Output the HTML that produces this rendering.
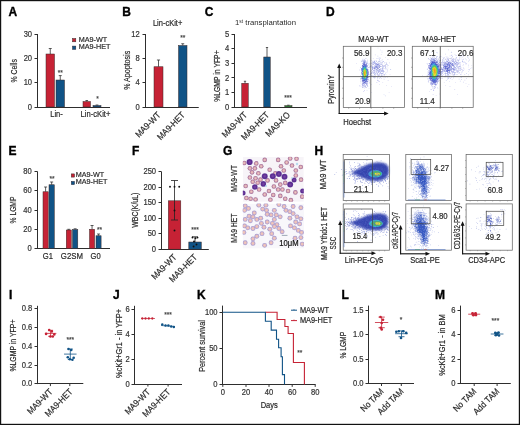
<!DOCTYPE html>
<html><head><meta charset="utf-8"><style>
html,body{margin:0;padding:0;background:#fff;width:520px;height:425px;overflow:hidden}
svg{display:block;will-change:transform}
</style></head><body>
<svg width="520" height="425" viewBox="0 0 520 425" font-family='"Liberation Sans", sans-serif'>
<rect x="0" y="0" width="520" height="425" fill="#fff"/>
<text x="8.6" y="15.6" font-size="12" text-anchor="start" font-weight="bold" fill="#000" stroke="#000" stroke-width="0.35">A</text>
<line x1="37.5" y1="34" x2="37.5" y2="107.5" stroke="#2e2e2e" stroke-width="1"/>
<line x1="34.5" y1="34.5" x2="37.5" y2="34.5" stroke="#2e2e2e" stroke-width="1"/>
<text x="32.1" y="36.7" font-size="8.51" text-anchor="end" font-weight="normal" fill="#333" stroke="#333" stroke-width="0.2" textLength="8.45" lengthAdjust="spacingAndGlyphs">30</text>
<line x1="34.5" y1="58.5" x2="37.5" y2="58.5" stroke="#2e2e2e" stroke-width="1"/>
<text x="32.1" y="61.03" font-size="8.51" text-anchor="end" font-weight="normal" fill="#333" stroke="#333" stroke-width="0.2" textLength="8.45" lengthAdjust="spacingAndGlyphs">20</text>
<line x1="34.5" y1="82.5" x2="37.5" y2="82.5" stroke="#2e2e2e" stroke-width="1"/>
<text x="32.1" y="85.37" font-size="8.51" text-anchor="end" font-weight="normal" fill="#333" stroke="#333" stroke-width="0.2" textLength="8.45" lengthAdjust="spacingAndGlyphs">10</text>
<line x1="34.5" y1="107.5" x2="37.5" y2="107.5" stroke="#2e2e2e" stroke-width="1"/>
<text x="32.1" y="109.7" font-size="8.51" text-anchor="end" font-weight="normal" fill="#333" stroke="#333" stroke-width="0.2" textLength="4.23" lengthAdjust="spacingAndGlyphs">0</text>
<line x1="37" y1="107.5" x2="110" y2="107.5" stroke="#2e2e2e" stroke-width="1"/>
<line x1="50.25" y1="48.5" x2="50.25" y2="54" stroke="#333" stroke-width="0.8"/>
<line x1="48.76" y1="48.5" x2="51.74" y2="48.5" stroke="#333" stroke-width="0.8"/>
<rect x="46" y="54" width="8.5" height="53" fill="#c62235" stroke="#3a2a2a" stroke-width="0.5"/>
<line x1="60.25" y1="75.6" x2="60.25" y2="80" stroke="#333" stroke-width="0.8"/>
<line x1="58.76" y1="75.6" x2="61.74" y2="75.6" stroke="#333" stroke-width="0.8"/>
<rect x="56" y="80" width="8.5" height="27" fill="#105386" stroke="#3a2a2a" stroke-width="0.5"/>
<line x1="86.75" y1="100.5" x2="86.75" y2="101.5" stroke="#333" stroke-width="0.8"/>
<line x1="85.44" y1="100.5" x2="88.06" y2="100.5" stroke="#333" stroke-width="0.8"/>
<rect x="83" y="101.5" width="7.5" height="5.5" fill="#c62235" stroke="#3a2a2a" stroke-width="0.5"/>
<line x1="97" y1="105" x2="97" y2="105.5" stroke="#333" stroke-width="0.8"/>
<line x1="95.6" y1="105" x2="98.4" y2="105" stroke="#333" stroke-width="0.8"/>
<rect x="93" y="105.5" width="8" height="1.5" fill="#105386" stroke="#3a2a2a" stroke-width="0.5"/>
<text x="60.3" y="74.8" font-size="7.39" text-anchor="middle" font-weight="normal" fill="#444" stroke="#444" stroke-width="0.2" textLength="5.14" lengthAdjust="spacingAndGlyphs">**</text>
<text x="97.5" y="101.3" font-size="7.39" text-anchor="middle" font-weight="normal" fill="#444" stroke="#444" stroke-width="0.2" textLength="2.57" lengthAdjust="spacingAndGlyphs">*</text>
<rect x="72.5" y="38.5" width="3.3" height="3.3" fill="#c62235" stroke="#3a2a2a" stroke-width="0.5"/>
<rect x="72.5" y="46.1" width="3.3" height="3.3" fill="#105386" stroke="#2a2a3a" stroke-width="0.5"/>
<text x="78.8" y="42.1" font-size="8.06" text-anchor="start" font-weight="normal" fill="#2a2a2a" stroke="#2a2a2a" stroke-width="0.2" textLength="28.39" lengthAdjust="spacingAndGlyphs">MA9-WT</text>
<text x="78.8" y="48.9" font-size="8.06" text-anchor="start" font-weight="normal" fill="#2a2a2a" stroke="#2a2a2a" stroke-width="0.2" textLength="31.6" lengthAdjust="spacingAndGlyphs">MA9-HET</text>
<text x="56.5" y="116.7" font-size="8.4" text-anchor="middle" font-weight="normal" fill="#2a2a2a" stroke="#2a2a2a" stroke-width="0.2" textLength="12.51" lengthAdjust="spacingAndGlyphs">Lin-</text>
<text x="95.5" y="116.7" font-size="8.51" text-anchor="middle" font-weight="normal" fill="#2a2a2a" stroke="#2a2a2a" stroke-width="0.2" textLength="29.78" lengthAdjust="spacingAndGlyphs">Lin-cKit+</text>
<text x="16.8" y="70.8" font-size="8.8" text-anchor="middle" font-weight="normal" fill="#2a2a2a" stroke="#2a2a2a" stroke-width="0.2" transform="rotate(-90 16.8 70.8)" textLength="23.3" lengthAdjust="spacingAndGlyphs">% Cells</text>
<text x="122.3" y="15.6" font-size="12" text-anchor="start" font-weight="bold" fill="#000" stroke="#000" stroke-width="0.35">B</text>
<text x="167.6" y="25.8" font-size="8.4" text-anchor="middle" font-weight="normal" fill="#2a2a2a" stroke="#2a2a2a" stroke-width="0.2" textLength="29.39" lengthAdjust="spacingAndGlyphs">Lin-cKit+</text>
<line x1="145.5" y1="34" x2="145.5" y2="107.5" stroke="#2e2e2e" stroke-width="1"/>
<line x1="142.5" y1="34.5" x2="145.5" y2="34.5" stroke="#2e2e2e" stroke-width="1"/>
<text x="139.8" y="36.7" font-size="8.51" text-anchor="end" font-weight="normal" fill="#333" stroke="#333" stroke-width="0.2" textLength="8.45" lengthAdjust="spacingAndGlyphs">12</text>
<line x1="142.5" y1="58.5" x2="145.5" y2="58.5" stroke="#2e2e2e" stroke-width="1"/>
<text x="139.8" y="61.03" font-size="8.51" text-anchor="end" font-weight="normal" fill="#333" stroke="#333" stroke-width="0.2" textLength="4.23" lengthAdjust="spacingAndGlyphs">8</text>
<line x1="142.5" y1="82.5" x2="145.5" y2="82.5" stroke="#2e2e2e" stroke-width="1"/>
<text x="139.8" y="85.37" font-size="8.51" text-anchor="end" font-weight="normal" fill="#333" stroke="#333" stroke-width="0.2" textLength="4.23" lengthAdjust="spacingAndGlyphs">4</text>
<line x1="142.5" y1="107.5" x2="145.5" y2="107.5" stroke="#2e2e2e" stroke-width="1"/>
<text x="139.8" y="109.7" font-size="8.51" text-anchor="end" font-weight="normal" fill="#333" stroke="#333" stroke-width="0.2" textLength="4.23" lengthAdjust="spacingAndGlyphs">0</text>
<line x1="145" y1="107.5" x2="198.75" y2="107.5" stroke="#2e2e2e" stroke-width="1"/>
<line x1="158.5" y1="60" x2="158.5" y2="66.75" stroke="#333" stroke-width="0.8"/>
<line x1="156.93" y1="60" x2="160.07" y2="60" stroke="#333" stroke-width="0.8"/>
<rect x="154" y="66.75" width="9" height="40.25" fill="#c62235" stroke="#3a2a2a" stroke-width="0.5"/>
<line x1="182.75" y1="43.75" x2="182.75" y2="45.5" stroke="#333" stroke-width="0.8"/>
<line x1="181.26" y1="43.75" x2="184.24" y2="43.75" stroke="#333" stroke-width="0.8"/>
<rect x="178.5" y="45.5" width="8.5" height="61.5" fill="#105386" stroke="#3a2a2a" stroke-width="0.5"/>
<text x="182.7" y="39.8" font-size="7.39" text-anchor="middle" font-weight="normal" fill="#444" stroke="#444" stroke-width="0.2" textLength="5.14" lengthAdjust="spacingAndGlyphs">**</text>
<text x="129.9" y="70.3" font-size="8.6" text-anchor="middle" font-weight="normal" fill="#2a2a2a" stroke="#2a2a2a" stroke-width="0.2" transform="rotate(-90 129.9 70.3)" textLength="39" lengthAdjust="spacingAndGlyphs">% Apoptosis</text>
<text x="161.2" y="115.6" font-size="8.96" text-anchor="end" font-weight="normal" fill="#2a2a2a" stroke="#2a2a2a" stroke-width="0.2" transform="rotate(-45 161.2 115.6)" textLength="31.55" lengthAdjust="spacingAndGlyphs">MA9-WT</text>
<text x="185.5" y="115.6" font-size="8.96" text-anchor="end" font-weight="normal" fill="#2a2a2a" stroke="#2a2a2a" stroke-width="0.2" transform="rotate(-45 185.5 115.6)" textLength="35.11" lengthAdjust="spacingAndGlyphs">MA9-HET</text>
<text x="204.8" y="15.6" font-size="12" text-anchor="start" font-weight="bold" fill="#000" stroke="#000" stroke-width="0.35">C</text>
<text x="235" y="25.2" font-size="7.2" fill="#2a2a2a" textLength="61" lengthAdjust="spacingAndGlyphs">1<tspan font-size="4.5" dy="-2.5">st</tspan><tspan dy="2.5"> transplantation</tspan></text>
<line x1="234.5" y1="34" x2="234.5" y2="107.5" stroke="#2e2e2e" stroke-width="1"/>
<line x1="231.5" y1="34.5" x2="234.5" y2="34.5" stroke="#2e2e2e" stroke-width="1"/>
<text x="229.3" y="36.7" font-size="8.51" text-anchor="end" font-weight="normal" fill="#333" stroke="#333" stroke-width="0.2" textLength="4.23" lengthAdjust="spacingAndGlyphs">5</text>
<line x1="231.5" y1="48.5" x2="234.5" y2="48.5" stroke="#2e2e2e" stroke-width="1"/>
<text x="229.3" y="51.3" font-size="8.51" text-anchor="end" font-weight="normal" fill="#333" stroke="#333" stroke-width="0.2" textLength="4.23" lengthAdjust="spacingAndGlyphs">4</text>
<line x1="231.5" y1="63.5" x2="234.5" y2="63.5" stroke="#2e2e2e" stroke-width="1"/>
<text x="229.3" y="65.9" font-size="8.51" text-anchor="end" font-weight="normal" fill="#333" stroke="#333" stroke-width="0.2" textLength="4.23" lengthAdjust="spacingAndGlyphs">3</text>
<line x1="231.5" y1="77.5" x2="234.5" y2="77.5" stroke="#2e2e2e" stroke-width="1"/>
<text x="229.3" y="80.5" font-size="8.51" text-anchor="end" font-weight="normal" fill="#333" stroke="#333" stroke-width="0.2" textLength="4.23" lengthAdjust="spacingAndGlyphs">2</text>
<line x1="231.5" y1="92.5" x2="234.5" y2="92.5" stroke="#2e2e2e" stroke-width="1"/>
<text x="229.3" y="95.1" font-size="8.51" text-anchor="end" font-weight="normal" fill="#333" stroke="#333" stroke-width="0.2" textLength="4.23" lengthAdjust="spacingAndGlyphs">1</text>
<line x1="231.5" y1="107.5" x2="234.5" y2="107.5" stroke="#2e2e2e" stroke-width="1"/>
<text x="229.3" y="109.7" font-size="8.51" text-anchor="end" font-weight="normal" fill="#333" stroke="#333" stroke-width="0.2" textLength="4.23" lengthAdjust="spacingAndGlyphs">0</text>
<line x1="234" y1="107.5" x2="307" y2="107.5" stroke="#2e2e2e" stroke-width="1"/>
<line x1="245" y1="81.25" x2="245" y2="83.25" stroke="#333" stroke-width="0.8"/>
<line x1="243.86" y1="81.25" x2="246.14" y2="81.25" stroke="#333" stroke-width="0.8"/>
<rect x="241.75" y="83.25" width="6.5" height="23.75" fill="#c62235" stroke="#3a2a2a" stroke-width="0.5"/>
<line x1="267" y1="47.5" x2="267" y2="57" stroke="#333" stroke-width="0.8"/>
<line x1="265.86" y1="47.5" x2="268.14" y2="47.5" stroke="#333" stroke-width="0.8"/>
<rect x="263.75" y="57" width="6.5" height="50" fill="#105386" stroke="#3a2a2a" stroke-width="0.5"/>
<line x1="288.4" y1="105.2" x2="288.4" y2="105.6" stroke="#333" stroke-width="0.8"/>
<line x1="287.14" y1="105.2" x2="289.66" y2="105.2" stroke="#333" stroke-width="0.8"/>
<rect x="284.8" y="105.6" width="7.2" height="1.4" fill="#2e8a3e" stroke="#3a2a2a" stroke-width="0.5"/>
<text x="288" y="99.8" font-size="7.39" text-anchor="middle" font-weight="normal" fill="#444" stroke="#444" stroke-width="0.2" textLength="7.71" lengthAdjust="spacingAndGlyphs">***</text>
<text x="220.3" y="76.1" font-size="8.4" text-anchor="middle" font-weight="normal" fill="#2a2a2a" stroke="#2a2a2a" stroke-width="0.2" transform="rotate(-90 220.3 76.1)" textLength="51.5" lengthAdjust="spacingAndGlyphs">%LGMP in YFP+</text>
<text x="247.7" y="115.6" font-size="8.96" text-anchor="end" font-weight="normal" fill="#2a2a2a" stroke="#2a2a2a" stroke-width="0.2" transform="rotate(-45 247.7 115.6)" textLength="31.55" lengthAdjust="spacingAndGlyphs">MA9-WT</text>
<text x="269.7" y="115.6" font-size="8.96" text-anchor="end" font-weight="normal" fill="#2a2a2a" stroke="#2a2a2a" stroke-width="0.2" transform="rotate(-45 269.7 115.6)" textLength="35.11" lengthAdjust="spacingAndGlyphs">MA9-HET</text>
<text x="290.7" y="115.6" font-size="8.96" text-anchor="end" font-weight="normal" fill="#2a2a2a" stroke="#2a2a2a" stroke-width="0.2" transform="rotate(-45 290.7 115.6)" textLength="30.67" lengthAdjust="spacingAndGlyphs">MA9-KO</text>
<text x="326.1" y="15.6" font-size="12" text-anchor="start" font-weight="bold" fill="#000" stroke="#000" stroke-width="0.35">D</text>
<text x="373.5" y="41.8" font-size="8.2" text-anchor="middle" font-weight="normal" fill="#2a2a2a" stroke="#2a2a2a" stroke-width="0.2" textLength="30.4" lengthAdjust="spacingAndGlyphs">MA9-WT</text>
<text x="439.1" y="41.8" font-size="8.2" text-anchor="middle" font-weight="normal" fill="#2a2a2a" stroke="#2a2a2a" stroke-width="0.2" textLength="33.6" lengthAdjust="spacingAndGlyphs">MA9-HET</text>
<path d="M364.6 70.7h0.6v0.6h-0.6zM364.7 70.4h0.6v0.6h-0.6zM364.4 74.9h0.6v0.6h-0.6zM364.1 70.9h0.6v0.6h-0.6zM364.9 73.9h0.6v0.6h-0.6zM364.4 75h0.6v0.6h-0.6zM364.7 70.5h0.6v0.6h-0.6zM365 74h0.6v0.6h-0.6zM365.1 71.2h0.6v0.6h-0.6zM364.3 74.5h0.6v0.6h-0.6zM364.8 70.8h0.6v0.6h-0.6zM364.9 70.9h0.6v0.6h-0.6zM364.1 71h0.6v0.6h-0.6zM364.5 70.7h0.6v0.6h-0.6zM364.5 75.3h0.6v0.6h-0.6zM364.4 75.1h0.6v0.6h-0.6zM365.1 74.1h0.6v0.6h-0.6zM364.9 74.2h0.6v0.6h-0.6zM364.4 75.1h0.6v0.6h-0.6zM364.4 70.5h0.6v0.6h-0.6zM364.7 75.2h0.6v0.6h-0.6zM365 74.2h0.6v0.6h-0.6zM364.2 70.9h0.6v0.6h-0.6zM364.8 73.9h0.6v0.6h-0.6z" fill="#eaba1e"/>
<path d="M365.1 70h0.6v0.6h-0.6zM363.9 76.1h0.6v0.6h-0.6zM364.3 69.4h0.6v0.6h-0.6zM365.7 73.7h0.6v0.6h-0.6zM364.6 69.3h0.6v0.6h-0.6zM364.5 69.7h0.6v0.6h-0.6zM365.1 69.8h0.6v0.6h-0.6zM364 76.2h0.6v0.6h-0.6zM364 76.1h0.6v0.6h-0.6zM365.2 70h0.6v0.6h-0.6zM365 70h0.6v0.6h-0.6zM365 70.1h0.6v0.6h-0.6zM364.8 70.1h0.6v0.6h-0.6zM363.9 76.1h0.6v0.6h-0.6zM363.9 76.2h0.6v0.6h-0.6zM364.8 69.5h0.6v0.6h-0.6z" fill="#c6de2a"/>
<path d="M364.2 78.5h0.6v0.6h-0.6zM362.7 71.6h0.6v0.6h-0.6zM366.4 72.7h0.6v0.6h-0.6zM362.8 72.6h0.6v0.6h-0.6zM364.6 78.4h0.6v0.6h-0.6zM363.8 78h0.6v0.6h-0.6zM366.4 71.6h0.6v0.6h-0.6zM366.6 72.7h0.6v0.6h-0.6zM364.4 78.3h0.6v0.6h-0.6zM363.5 78.3h0.6v0.6h-0.6zM365.6 68h0.6v0.6h-0.6zM362.8 72.9h0.6v0.6h-0.6zM366.7 71.7h0.6v0.6h-0.6zM366.3 72.2h0.6v0.6h-0.6zM363.7 78.2h0.6v0.6h-0.6zM363.1 76.8h0.6v0.6h-0.6zM364.6 78.4h0.6v0.6h-0.6zM365.6 68.2h0.6v0.6h-0.6zM365.7 67.9h0.6v0.6h-0.6zM365.4 68.2h0.6v0.6h-0.6zM366.2 69.4h0.6v0.6h-0.6zM363.1 76.9h0.6v0.6h-0.6zM364.7 78.6h0.6v0.6h-0.6zM366.1 76.3h0.6v0.6h-0.6zM363.5 78.1h0.6v0.6h-0.6zM364.7 78.8h0.6v0.6h-0.6zM362.6 73.3h0.6v0.6h-0.6zM364.5 78.5h0.6v0.6h-0.6z" fill="#2aa2c6"/>
<path d="M363.2 74.7h0.6v0.6h-0.6zM363.1 74.3h0.6v0.6h-0.6zM366.3 73.8h0.6v0.6h-0.6zM363.6 68.3h0.6v0.6h-0.6zM363.3 68.3h0.6v0.6h-0.6zM363.5 68.8h0.6v0.6h-0.6zM364.5 77.6h0.6v0.6h-0.6zM363.3 68.5h0.6v0.6h-0.6zM364.6 77.7h0.6v0.6h-0.6zM362.8 74.4h0.6v0.6h-0.6zM364.1 77.4h0.6v0.6h-0.6zM365.4 76.7h0.6v0.6h-0.6zM363.8 68.3h0.6v0.6h-0.6zM364 77.3h0.6v0.6h-0.6zM364.1 77.4h0.6v0.6h-0.6zM365.4 76.6h0.6v0.6h-0.6z" fill="#42c67e"/>
<path d="M363.9 75.6h0.6v0.6h-0.6zM363.7 72.1h0.6v0.6h-0.6zM363.5 71.6h0.6v0.6h-0.6zM364.1 75.6h0.6v0.6h-0.6zM364.1 75.8h0.6v0.6h-0.6zM363.6 72.2h0.6v0.6h-0.6zM363.6 73.8h0.6v0.6h-0.6zM363.4 72.1h0.6v0.6h-0.6zM363.5 72.2h0.6v0.6h-0.6zM363.7 71.5h0.6v0.6h-0.6zM363.4 73.5h0.6v0.6h-0.6zM363.8 72h0.6v0.6h-0.6zM363.4 72.2h0.6v0.6h-0.6zM363.3 72.2h0.6v0.6h-0.6zM364.2 75.5h0.6v0.6h-0.6zM364 75.6h0.6v0.6h-0.6zM363.6 73.3h0.6v0.6h-0.6zM363.6 73.4h0.6v0.6h-0.6zM364 75.4h0.6v0.6h-0.6zM363.6 73.2h0.6v0.6h-0.6z" fill="#eade2a"/>
<path d="M363 69.3h0.6v0.6h-0.6zM363.2 69.2h0.6v0.6h-0.6zM366 70.1h0.6v0.6h-0.6zM363 69.1h0.6v0.6h-0.6z" fill="#36baae"/>
<path d="M364.7 82.4h0.6v0.6h-0.6zM362.2 65.5h0.6v0.6h-0.6zM368.2 72.6h0.6v0.6h-0.6zM363.6 62.4h0.6v0.6h-0.6zM361.8 78.5h0.6v0.6h-0.6zM364.6 62.6h0.6v0.6h-0.6zM361.9 80.4h0.6v0.6h-0.6zM367.8 71.5h0.6v0.6h-0.6zM362.9 63.5h0.6v0.6h-0.6zM367 67.7h0.6v0.6h-0.6zM361.9 65.8h0.6v0.6h-0.6zM366.7 81.5h0.6v0.6h-0.6zM362.9 63.8h0.6v0.6h-0.6zM361.3 69.9h0.6v0.6h-0.6zM367.4 69.1h0.6v0.6h-0.6zM361.9 80.7h0.6v0.6h-0.6zM363.1 63.2h0.6v0.6h-0.6zM366.5 64.9h0.6v0.6h-0.6zM368.2 73.8h0.6v0.6h-0.6zM367.9 71.9h0.6v0.6h-0.6zM364 82.6h0.6v0.6h-0.6zM361.8 80.7h0.6v0.6h-0.6zM366.9 80.5h0.6v0.6h-0.6zM362.3 79.8h0.6v0.6h-0.6zM368.1 72.8h0.6v0.6h-0.6z" fill="#5a66d2"/>
<path d="M366.7 81.2h0.6v0.6h-0.6zM361.6 68h0.6v0.6h-0.6zM361.7 68.7h0.6v0.6h-0.6zM363.3 63.8h0.6v0.6h-0.6zM362.5 80.4h0.6v0.6h-0.6zM362.9 80.8h0.6v0.6h-0.6zM361.4 68.5h0.6v0.6h-0.6zM362.1 65.8h0.6v0.6h-0.6zM363.8 81.7h0.6v0.6h-0.6zM367.6 76h0.6v0.6h-0.6zM365.9 64.9h0.6v0.6h-0.6zM363.2 64.5h0.6v0.6h-0.6zM362.4 65h0.6v0.6h-0.6zM364.7 82h0.6v0.6h-0.6zM365.9 81.2h0.6v0.6h-0.6zM361.7 77.7h0.6v0.6h-0.6zM363.1 64.5h0.6v0.6h-0.6zM367.6 70h0.6v0.6h-0.6zM364.7 63.6h0.6v0.6h-0.6zM361.5 76h0.6v0.6h-0.6zM363.4 63.4h0.6v0.6h-0.6zM362.7 79.9h0.6v0.6h-0.6zM363.3 64.1h0.6v0.6h-0.6zM362.7 80.7h0.6v0.6h-0.6zM367.6 70.2h0.6v0.6h-0.6zM366.8 78.3h0.6v0.6h-0.6zM361.6 76.8h0.6v0.6h-0.6zM363.4 64.2h0.6v0.6h-0.6zM363.6 63.4h0.6v0.6h-0.6zM366.4 80.4h0.6v0.6h-0.6zM364.5 81.8h0.6v0.6h-0.6zM366.1 81.2h0.6v0.6h-0.6zM361.4 74h0.6v0.6h-0.6zM366.8 78.4h0.6v0.6h-0.6zM365 81.3h0.6v0.6h-0.6zM361.4 78h0.6v0.6h-0.6zM361.8 76.8h0.6v0.6h-0.6zM363.2 80.8h0.6v0.6h-0.6zM367.5 76.9h0.6v0.6h-0.6zM367.6 75.8h0.6v0.6h-0.6zM364.3 81.7h0.6v0.6h-0.6zM361.4 76.7h0.6v0.6h-0.6zM365.2 82.2h0.6v0.6h-0.6zM366.1 80.9h0.6v0.6h-0.6z" fill="#4e5ac6"/>
<path d="M363.8 75.1h0.6v0.6h-0.6zM364.6 75.7h0.6v0.6h-0.6zM364.9 70.7h0.6v0.6h-0.6zM363.9 74.9h0.6v0.6h-0.6zM364 75.3h0.6v0.6h-0.6zM364.6 70h0.6v0.6h-0.6zM364.9 70.5h0.6v0.6h-0.6zM365.2 70.5h0.6v0.6h-0.6zM363.7 72.7h0.6v0.6h-0.6zM364.5 70.3h0.6v0.6h-0.6zM364.4 75.5h0.6v0.6h-0.6zM365.2 70.8h0.6v0.6h-0.6zM364 75.1h0.6v0.6h-0.6zM365.1 75.1h0.6v0.6h-0.6zM364.7 70.1h0.6v0.6h-0.6zM363.6 72.3h0.6v0.6h-0.6zM364.7 75.6h0.6v0.6h-0.6zM364.8 75.4h0.6v0.6h-0.6zM364.4 75.7h0.6v0.6h-0.6z" fill="#ead22a"/>
<path d="M363.6 75.7h0.6v0.6h-0.6zM363.8 69.3h0.6v0.6h-0.6zM363.5 75.4h0.6v0.6h-0.6zM364.1 68.9h0.6v0.6h-0.6zM364 76.7h0.6v0.6h-0.6zM363.4 70.2h0.6v0.6h-0.6zM364.1 76.5h0.6v0.6h-0.6zM363.6 70.2h0.6v0.6h-0.6z" fill="#8ad236"/>
<path d="M365.4 61.1h0.6v0.6h-0.6zM365.1 85.4h0.6v0.6h-0.6zM366 84.5h0.6v0.6h-0.6zM366.4 84.3h0.6v0.6h-0.6zM364.8 60h0.6v0.6h-0.6zM365.2 60h0.6v0.6h-0.6zM368.2 66.9h0.6v0.6h-0.6zM361.8 84.5h0.6v0.6h-0.6zM365.2 85.5h0.6v0.6h-0.6zM366.1 84.6h0.6v0.6h-0.6zM362.6 85.3h0.6v0.6h-0.6zM362.2 84.8h0.6v0.6h-0.6zM364.3 85.8h0.6v0.6h-0.6zM367.2 83.3h0.6v0.6h-0.6zM380.5 66.3h0.6v0.6h-0.6zM380.6 68h0.6v0.6h-0.6zM372.9 62.9h0.6v0.6h-0.6zM382.8 71h0.6v0.6h-0.6zM381.9 69.7h0.6v0.6h-0.6zM374.6 61.7h0.6v0.6h-0.6zM372 67.4h0.6v0.6h-0.6zM379.6 72.8h0.6v0.6h-0.6zM372.7 71.7h0.6v0.6h-0.6zM372.3 68.8h0.6v0.6h-0.6zM372.2 68.2h0.6v0.6h-0.6zM382.5 69.4h0.6v0.6h-0.6zM375.9 71.6h0.6v0.6h-0.6zM373.8 61.5h0.6v0.6h-0.6zM382.6 70.8h0.6v0.6h-0.6zM378.3 72.3h0.6v0.6h-0.6zM382 68.3h0.6v0.6h-0.6zM379.9 72.4h0.6v0.6h-0.6zM381.2 73.1h0.6v0.6h-0.6zM373.5 71.7h0.6v0.6h-0.6zM373 62.7h0.6v0.6h-0.6zM381.7 68.5h0.6v0.6h-0.6zM375.9 71.3h0.6v0.6h-0.6zM373.2 69.9h0.6v0.6h-0.6zM380.6 68h0.6v0.6h-0.6zM372.6 65.9h0.6v0.6h-0.6zM374.2 71.9h0.6v0.6h-0.6zM380.3 66.1h0.6v0.6h-0.6zM371.8 67.1h0.6v0.6h-0.6zM373.6 70.3h0.6v0.6h-0.6zM373.5 64.1h0.6v0.6h-0.6zM382.5 70h0.6v0.6h-0.6zM374.6 70.9h0.6v0.6h-0.6zM372.8 71.8h0.6v0.6h-0.6zM378.1 62.7h0.6v0.6h-0.6zM374.5 72.1h0.6v0.6h-0.6z" fill="#8a8ade"/>
<path d="M365.2 75.4h0.6v0.6h-0.6zM364.2 70.2h0.6v0.6h-0.6zM364.8 75.8h0.6v0.6h-0.6zM365.5 72.5h0.6v0.6h-0.6zM365.6 72.4h0.6v0.6h-0.6zM365.3 72.6h0.6v0.6h-0.6zM364.6 76h0.6v0.6h-0.6zM364.7 76h0.6v0.6h-0.6zM365.4 72.4h0.6v0.6h-0.6zM365.7 72.4h0.6v0.6h-0.6zM364.2 69.8h0.6v0.6h-0.6zM364 69.9h0.6v0.6h-0.6zM364.3 70.3h0.6v0.6h-0.6zM365.4 72h0.6v0.6h-0.6zM364 70.2h0.6v0.6h-0.6zM365 75.4h0.6v0.6h-0.6zM364.3 75.9h0.6v0.6h-0.6zM365.3 71.9h0.6v0.6h-0.6zM365.3 75.4h0.6v0.6h-0.6z" fill="#dede2a"/>
<path d="M364.8 71h0.6v0.6h-0.6zM364.3 71.5h0.6v0.6h-0.6zM364.1 71.4h0.6v0.6h-0.6zM364.2 73.6h0.6v0.6h-0.6zM364.5 71h0.6v0.6h-0.6zM364.1 73.7h0.6v0.6h-0.6zM364 73.8h0.6v0.6h-0.6zM364.7 70.8h0.6v0.6h-0.6z" fill="#eaa21e"/>
<path d="M365.7 70.2h0.6v0.6h-0.6zM365.7 70h0.6v0.6h-0.6zM364.3 76.9h0.6v0.6h-0.6zM364.5 77h0.6v0.6h-0.6zM364.7 76.9h0.6v0.6h-0.6z" fill="#66c642"/>
<path d="M362.4 62.9h0.6v0.6h-0.6zM362.6 62.9h0.6v0.6h-0.6zM364.4 61.5h0.6v0.6h-0.6zM366.4 64.2h0.6v0.6h-0.6zM363.8 83.3h0.6v0.6h-0.6zM365.4 82.9h0.6v0.6h-0.6zM365.3 62.2h0.6v0.6h-0.6zM362.9 61.9h0.6v0.6h-0.6zM362.7 82.3h0.6v0.6h-0.6zM363.4 83.3h0.6v0.6h-0.6zM377.9 66.7h0.6v0.6h-0.6zM374.3 68.1h0.6v0.6h-0.6zM376.3 64.7h0.6v0.6h-0.6zM378 68.4h0.6v0.6h-0.6zM378 65.7h0.6v0.6h-0.6zM377.8 64.1h0.6v0.6h-0.6zM376.4 64h0.6v0.6h-0.6zM377.1 63.9h0.6v0.6h-0.6zM377.4 68.4h0.6v0.6h-0.6zM377.2 64.2h0.6v0.6h-0.6zM374.1 67.6h0.6v0.6h-0.6zM377 68.5h0.6v0.6h-0.6zM377.9 66.5h0.6v0.6h-0.6zM376.8 68.6h0.6v0.6h-0.6zM377.2 64h0.6v0.6h-0.6zM377.7 68.9h0.6v0.6h-0.6zM377.9 67.9h0.6v0.6h-0.6zM374.5 66.7h0.6v0.6h-0.6zM378 68.4h0.6v0.6h-0.6z" fill="#7272d2"/>
<path d="M363.9 74h0.6v0.6h-0.6zM364.9 73.4h0.6v0.6h-0.6zM364.3 74.2h0.6v0.6h-0.6zM365 72.6h0.6v0.6h-0.6zM364.4 74.5h0.6v0.6h-0.6zM365 73.5h0.6v0.6h-0.6zM364.7 74.6h0.6v0.6h-0.6zM363.9 74.2h0.6v0.6h-0.6zM364.3 74.7h0.6v0.6h-0.6zM364.9 71.4h0.6v0.6h-0.6zM364.3 73.9h0.6v0.6h-0.6zM364.9 73.6h0.6v0.6h-0.6zM364.3 74.7h0.6v0.6h-0.6zM364.9 71.3h0.6v0.6h-0.6zM364.9 71.7h0.6v0.6h-0.6zM364.2 74.3h0.6v0.6h-0.6zM365 73.8h0.6v0.6h-0.6zM365.2 71.7h0.6v0.6h-0.6zM365.2 72.9h0.6v0.6h-0.6zM365.2 71.4h0.6v0.6h-0.6zM365.1 71.8h0.6v0.6h-0.6zM365.1 73.6h0.6v0.6h-0.6zM365.1 73.4h0.6v0.6h-0.6zM364.9 71.6h0.6v0.6h-0.6zM364.8 72.9h0.6v0.6h-0.6zM364.1 74.2h0.6v0.6h-0.6z" fill="#eaae1e"/>
<path d="M362.5 70.2h0.6v0.6h-0.6zM366 77.3h0.6v0.6h-0.6zM364.5 66.7h0.6v0.6h-0.6zM362.6 74.5h0.6v0.6h-0.6zM363.9 66.4h0.6v0.6h-0.6zM365.8 77.2h0.6v0.6h-0.6zM365.9 69h0.6v0.6h-0.6zM364.4 78.8h0.6v0.6h-0.6zM363.7 78.4h0.6v0.6h-0.6zM364.4 66.7h0.6v0.6h-0.6zM365.8 67.4h0.6v0.6h-0.6zM364.6 78.8h0.6v0.6h-0.6zM364.3 79.2h0.6v0.6h-0.6zM364.3 79h0.6v0.6h-0.6zM363.7 78.3h0.6v0.6h-0.6zM362.3 74.6h0.6v0.6h-0.6z" fill="#2a96de"/>
<path d="M362.6 59.5h0.6v0.6h-0.6zM366.9 84.3h0.6v0.6h-0.6zM361.3 61.3h0.6v0.6h-0.6zM361.8 85.9h0.6v0.6h-0.6zM367.8 64.6h0.6v0.6h-0.6zM364.5 59h0.6v0.6h-0.6zM364.9 86.6h0.6v0.6h-0.6zM368.7 67.1h0.6v0.6h-0.6zM367.1 85.1h0.6v0.6h-0.6zM371.6 72.3h0.6v0.6h-0.6zM371.3 66.5h0.6v0.6h-0.6zM371.1 73.3h0.6v0.6h-0.6zM381.5 73.9h0.6v0.6h-0.6zM371.5 71.8h0.6v0.6h-0.6zM374.6 60.6h0.6v0.6h-0.6zM382.1 65.3h0.6v0.6h-0.6zM372.6 60.9h0.6v0.6h-0.6zM381.9 64.6h0.6v0.6h-0.6zM376.1 61h0.6v0.6h-0.6zM380.5 62.5h0.6v0.6h-0.6zM371.5 70.1h0.6v0.6h-0.6zM378.9 75.3h0.6v0.6h-0.6zM383.1 66.9h0.6v0.6h-0.6zM378.1 75.3h0.6v0.6h-0.6zM374.4 73.9h0.6v0.6h-0.6zM370.5 66h0.6v0.6h-0.6zM376.8 74.4h0.6v0.6h-0.6zM384.5 65.7h0.6v0.6h-0.6zM383.9 65.4h0.6v0.6h-0.6zM375.3 74.7h0.6v0.6h-0.6zM370.4 73h0.6v0.6h-0.6zM371.7 72.2h0.6v0.6h-0.6zM372.1 64.3h0.6v0.6h-0.6zM385.4 65.2h0.6v0.6h-0.6zM383.7 66.1h0.6v0.6h-0.6zM371.7 65.3h0.6v0.6h-0.6zM372.5 60.9h0.6v0.6h-0.6zM385.2 66.4h0.6v0.6h-0.6zM383.1 72.5h0.6v0.6h-0.6zM383.5 65h0.6v0.6h-0.6zM371.4 72.8h0.6v0.6h-0.6zM378.2 75.2h0.6v0.6h-0.6zM378 74.5h0.6v0.6h-0.6zM376.9 74.1h0.6v0.6h-0.6zM385.4 64.9h0.6v0.6h-0.6z" fill="#9696de"/>
<path d="M365 78.6h0.6v0.6h-0.6zM364.9 78.7h0.6v0.6h-0.6zM362.4 71.3h0.6v0.6h-0.6zM363 68.2h0.6v0.6h-0.6zM364.9 78.4h0.6v0.6h-0.6zM366.7 73.2h0.6v0.6h-0.6zM363.2 68.1h0.6v0.6h-0.6zM364.9 67.3h0.6v0.6h-0.6zM363 68.1h0.6v0.6h-0.6zM365 78.5h0.6v0.6h-0.6z" fill="#2aa2d2"/>
<path d="M364.3 78h0.6v0.6h-0.6zM363.2 69.5h0.6v0.6h-0.6zM365.9 75.6h0.6v0.6h-0.6zM365.4 77.2h0.6v0.6h-0.6zM362.9 69.4h0.6v0.6h-0.6zM365.9 75.5h0.6v0.6h-0.6zM363.7 77.7h0.6v0.6h-0.6zM363.5 77.7h0.6v0.6h-0.6zM364.6 78h0.6v0.6h-0.6zM362.9 75.8h0.6v0.6h-0.6zM363.1 69.5h0.6v0.6h-0.6zM363.7 77.4h0.6v0.6h-0.6zM364.4 77.8h0.6v0.6h-0.6zM363.8 77.7h0.6v0.6h-0.6z" fill="#36baa2"/>
<path d="M360.6 82.7h0.6v0.6h-0.6zM385.8 68.4h0.6v0.6h-0.6zM382 75.9h0.6v0.6h-0.6zM380.7 59.9h0.6v0.6h-0.6zM385.3 68.5h0.6v0.6h-0.6zM383.8 75.1h0.6v0.6h-0.6zM370.6 63.6h0.6v0.6h-0.6zM374.3 77.3h0.6v0.6h-0.6z" fill="#a2a2ea"/>
<path d="M364.5 62.3h0.6v0.6h-0.6zM366.8 82h0.6v0.6h-0.6zM366.3 63.7h0.6v0.6h-0.6zM367 66.3h0.6v0.6h-0.6zM363.7 82.9h0.6v0.6h-0.6zM367.2 81.6h0.6v0.6h-0.6zM364.2 62.2h0.6v0.6h-0.6zM362.5 63.7h0.6v0.6h-0.6zM365 83h0.6v0.6h-0.6zM364.2 62h0.6v0.6h-0.6zM366.4 64.7h0.6v0.6h-0.6zM363.5 82.8h0.6v0.6h-0.6zM363.3 62.4h0.6v0.6h-0.6zM362.3 81.1h0.6v0.6h-0.6zM363 82.6h0.6v0.6h-0.6zM368.1 77.2h0.6v0.6h-0.6zM361.1 73.5h0.6v0.6h-0.6zM367.2 81.5h0.6v0.6h-0.6zM367.3 79.5h0.6v0.6h-0.6zM377 67.9h0.6v0.6h-0.6zM376.4 66.2h0.6v0.6h-0.6zM375.3 66.3h0.6v0.6h-0.6zM375.9 65.9h0.6v0.6h-0.6zM375.6 66.7h0.6v0.6h-0.6zM375.7 66.6h0.6v0.6h-0.6zM376.2 67.1h0.6v0.6h-0.6zM377.1 66.3h0.6v0.6h-0.6zM374.4 66.8h0.6v0.6h-0.6zM377.2 67.4h0.6v0.6h-0.6zM377.5 65.1h0.6v0.6h-0.6zM376.8 67.3h0.6v0.6h-0.6zM377.3 64.4h0.6v0.6h-0.6zM376 66.1h0.6v0.6h-0.6zM375.8 65.4h0.6v0.6h-0.6zM375.6 66.4h0.6v0.6h-0.6zM376.8 66.7h0.6v0.6h-0.6zM376.4 64.7h0.6v0.6h-0.6zM377.6 65.1h0.6v0.6h-0.6zM374.4 66.9h0.6v0.6h-0.6zM375.1 67.1h0.6v0.6h-0.6zM377.1 67.3h0.6v0.6h-0.6zM376.8 64.6h0.6v0.6h-0.6zM375.1 66.6h0.6v0.6h-0.6zM375.3 66.5h0.6v0.6h-0.6zM375 66.8h0.6v0.6h-0.6z" fill="#6672d2"/>
<path d="M364.8 67.2h0.6v0.6h-0.6zM364.6 67.2h0.6v0.6h-0.6zM364.5 67.1h0.6v0.6h-0.6zM364.7 67.1h0.6v0.6h-0.6zM364.8 67.1h0.6v0.6h-0.6zM365.1 78.2h0.6v0.6h-0.6zM363.4 67.4h0.6v0.6h-0.6zM364.3 67h0.6v0.6h-0.6z" fill="#2aaeae"/>
<path d="M363 72.4h0.6v0.6h-0.6zM364.3 77h0.6v0.6h-0.6zM362.8 73.1h0.6v0.6h-0.6zM363.2 72.6h0.6v0.6h-0.6zM364 77h0.6v0.6h-0.6zM363.2 71.9h0.6v0.6h-0.6zM363 73.2h0.6v0.6h-0.6zM364.2 77h0.6v0.6h-0.6zM363.2 73h0.6v0.6h-0.6zM364 77.2h0.6v0.6h-0.6zM363.9 77h0.6v0.6h-0.6zM362.8 72.1h0.6v0.6h-0.6zM363.3 73.2h0.6v0.6h-0.6z" fill="#66c64e"/>
<path d="M363.3 61.2h0.6v0.6h-0.6zM363.6 61h0.6v0.6h-0.6zM364.3 61.3h0.6v0.6h-0.6zM366.2 83h0.6v0.6h-0.6zM368.7 74h0.6v0.6h-0.6zM362.9 83.5h0.6v0.6h-0.6zM365.9 83.1h0.6v0.6h-0.6zM361.1 78.6h0.6v0.6h-0.6zM362.8 83.9h0.6v0.6h-0.6zM362.9 83.6h0.6v0.6h-0.6zM367.4 80.9h0.6v0.6h-0.6zM378.7 70.4h0.6v0.6h-0.6zM374.7 68.3h0.6v0.6h-0.6zM376.7 63.3h0.6v0.6h-0.6zM377.8 70.7h0.6v0.6h-0.6zM379.2 67.3h0.6v0.6h-0.6zM374 67.9h0.6v0.6h-0.6zM378.8 66.5h0.6v0.6h-0.6zM376.1 69.2h0.6v0.6h-0.6zM378.6 69.8h0.6v0.6h-0.6zM378.9 64.5h0.6v0.6h-0.6zM368.3 74.4h0.6v0.6h-0.6zM379.1 66.8h0.6v0.6h-0.6zM378.5 64.2h0.6v0.6h-0.6zM375.2 64.9h0.6v0.6h-0.6zM379.1 69.3h0.6v0.6h-0.6zM377.4 69.9h0.6v0.6h-0.6zM376.3 69.7h0.6v0.6h-0.6zM367 65.1h0.6v0.6h-0.6zM375.5 68.8h0.6v0.6h-0.6zM378.1 64h0.6v0.6h-0.6zM379 67.2h0.6v0.6h-0.6zM377.3 69.7h0.6v0.6h-0.6zM379 65.9h0.6v0.6h-0.6zM379.2 67.1h0.6v0.6h-0.6zM376 69h0.6v0.6h-0.6zM373.8 68.2h0.6v0.6h-0.6zM378.6 65.1h0.6v0.6h-0.6zM378.2 63.4h0.6v0.6h-0.6zM379 69.2h0.6v0.6h-0.6zM378.6 67.1h0.6v0.6h-0.6zM378.6 70h0.6v0.6h-0.6zM379.2 68.9h0.6v0.6h-0.6zM375.5 68.4h0.6v0.6h-0.6zM379.1 65.3h0.6v0.6h-0.6z" fill="#727ed2"/>
<path d="M364.5 73.6h0.6v0.6h-0.6zM364.4 71.6h0.6v0.6h-0.6zM364.7 71.8h0.6v0.6h-0.6zM364.6 73.7h0.6v0.6h-0.6zM364.3 74.1h0.6v0.6h-0.6zM364.5 73.1h0.6v0.6h-0.6zM364.7 71.5h0.6v0.6h-0.6zM364.4 72.5h0.6v0.6h-0.6zM364.5 72.8h0.6v0.6h-0.6zM364.1 73.2h0.6v0.6h-0.6zM364.4 73.7h0.6v0.6h-0.6zM364.5 73.4h0.6v0.6h-0.6zM363.9 72.8h0.6v0.6h-0.6zM363.9 73h0.6v0.6h-0.6zM364.6 71.7h0.6v0.6h-0.6zM364.2 72.2h0.6v0.6h-0.6zM364.7 73.9h0.6v0.6h-0.6zM364.1 71.8h0.6v0.6h-0.6zM364.6 71.6h0.6v0.6h-0.6zM364.2 71.9h0.6v0.6h-0.6zM364.5 72.3h0.6v0.6h-0.6zM364 72.7h0.6v0.6h-0.6zM364.1 73.2h0.6v0.6h-0.6zM363.9 72.9h0.6v0.6h-0.6zM364.5 71.8h0.6v0.6h-0.6zM364.2 72.8h0.6v0.6h-0.6zM364.5 72.3h0.6v0.6h-0.6zM364.4 71.7h0.6v0.6h-0.6zM364.7 72.5h0.6v0.6h-0.6zM364.5 71.3h0.6v0.6h-0.6zM364.1 73.2h0.6v0.6h-0.6zM364.7 72h0.6v0.6h-0.6zM364.6 71.6h0.6v0.6h-0.6zM364.5 73.2h0.6v0.6h-0.6zM364.7 73.8h0.6v0.6h-0.6zM363.9 73.1h0.6v0.6h-0.6zM364.4 73h0.6v0.6h-0.6zM364.6 72.8h0.6v0.6h-0.6zM363.9 72.6h0.6v0.6h-0.6zM364.7 74.3h0.6v0.6h-0.6zM364.1 72h0.6v0.6h-0.6z" fill="#f6a21e"/>
<path d="M366 71.4h0.6v0.6h-0.6zM365.8 71.7h0.6v0.6h-0.6zM364.6 67.9h0.6v0.6h-0.6zM366.1 71.6h0.6v0.6h-0.6zM362.9 71.1h0.6v0.6h-0.6zM364.4 68.1h0.6v0.6h-0.6zM366.2 73.2h0.6v0.6h-0.6zM363.1 70.9h0.6v0.6h-0.6zM364.5 68.1h0.6v0.6h-0.6zM362.9 71.2h0.6v0.6h-0.6zM362.8 74.2h0.6v0.6h-0.6zM364.4 68.2h0.6v0.6h-0.6zM363 70.9h0.6v0.6h-0.6zM366 71.7h0.6v0.6h-0.6zM363.1 74.2h0.6v0.6h-0.6zM363.3 74h0.6v0.6h-0.6z" fill="#4ec666"/>
<path d="M363.7 70.3h0.6v0.6h-0.6zM363.7 70.4h0.6v0.6h-0.6zM363.4 70.6h0.6v0.6h-0.6z" fill="#aed236"/>
<path d="M364.8 69.1h0.6v0.6h-0.6zM365.3 69.5h0.6v0.6h-0.6zM364.8 69.5h0.6v0.6h-0.6zM365.1 69.6h0.6v0.6h-0.6zM364.9 69.4h0.6v0.6h-0.6zM364.5 69.1h0.6v0.6h-0.6zM365.3 75.1h0.6v0.6h-0.6zM365.4 70.6h0.6v0.6h-0.6z" fill="#96d236"/>
<path d="M364.7 68.7h0.6v0.6h-0.6zM363.7 69.8h0.6v0.6h-0.6zM363.3 69.4h0.6v0.6h-0.6zM364.5 68.5h0.6v0.6h-0.6zM363.5 76h0.6v0.6h-0.6zM364.7 68.4h0.6v0.6h-0.6zM364.4 68.7h0.6v0.6h-0.6zM364.3 68.3h0.6v0.6h-0.6z" fill="#66d242"/>
<path d="M362.1 82.7h0.6v0.6h-0.6zM367.8 79.8h0.6v0.6h-0.6zM366.2 62.8h0.6v0.6h-0.6zM367.7 81.4h0.6v0.6h-0.6zM363.8 60.4h0.6v0.6h-0.6zM365.9 62.6h0.6v0.6h-0.6zM363.4 60.4h0.6v0.6h-0.6zM364.2 84.3h0.6v0.6h-0.6zM368 79.3h0.6v0.6h-0.6zM362.3 83.8h0.6v0.6h-0.6zM362.8 84.7h0.6v0.6h-0.6zM379.1 70.6h0.6v0.6h-0.6zM373.8 68.6h0.6v0.6h-0.6zM375 64.2h0.6v0.6h-0.6zM373.2 66.9h0.6v0.6h-0.6zM373.6 66.7h0.6v0.6h-0.6zM378.4 71.2h0.6v0.6h-0.6zM375.4 63.1h0.6v0.6h-0.6zM376.3 63.2h0.6v0.6h-0.6zM376.1 62.9h0.6v0.6h-0.6zM373.5 68.5h0.6v0.6h-0.6zM375.2 64.5h0.6v0.6h-0.6zM379.9 69.4h0.6v0.6h-0.6zM378.8 71.2h0.6v0.6h-0.6zM374 68.9h0.6v0.6h-0.6zM379.4 65h0.6v0.6h-0.6zM379.1 71.1h0.6v0.6h-0.6z" fill="#7e7ede"/>
<path d="M366 79.1h0.6v0.6h-0.6zM363.9 80h0.6v0.6h-0.6zM365.7 80.6h0.6v0.6h-0.6zM363.2 65.5h0.6v0.6h-0.6zM364 79.8h0.6v0.6h-0.6zM362.4 78.3h0.6v0.6h-0.6zM367.2 77.1h0.6v0.6h-0.6zM362.3 69.3h0.6v0.6h-0.6zM362.6 78.1h0.6v0.6h-0.6zM362.3 69.7h0.6v0.6h-0.6zM366.4 69.1h0.6v0.6h-0.6zM366.5 77.5h0.6v0.6h-0.6zM367 73.9h0.6v0.6h-0.6zM362.1 74h0.6v0.6h-0.6zM365.6 65.5h0.6v0.6h-0.6zM367.1 73.9h0.6v0.6h-0.6zM361.9 70.3h0.6v0.6h-0.6zM362.6 79.2h0.6v0.6h-0.6zM363 65.8h0.6v0.6h-0.6zM361.9 69.4h0.6v0.6h-0.6zM367.2 74.8h0.6v0.6h-0.6zM365.3 80.2h0.6v0.6h-0.6zM367 74.9h0.6v0.6h-0.6zM364.3 65.3h0.6v0.6h-0.6zM363.9 65.8h0.6v0.6h-0.6zM367.1 74.9h0.6v0.6h-0.6zM362 70.3h0.6v0.6h-0.6zM365.6 80.5h0.6v0.6h-0.6zM366.4 77.3h0.6v0.6h-0.6zM366.1 79.9h0.6v0.6h-0.6zM365.7 80.4h0.6v0.6h-0.6zM362.2 73.8h0.6v0.6h-0.6zM366 80h0.6v0.6h-0.6zM364.2 80.2h0.6v0.6h-0.6zM367.1 75.3h0.6v0.6h-0.6z" fill="#364ec6"/>
<path d="M364.3 69.6h0.6v0.6h-0.6zM364.8 75.8h0.6v0.6h-0.6zM364.8 76.2h0.6v0.6h-0.6zM365.1 76.2h0.6v0.6h-0.6zM365.3 76.3h0.6v0.6h-0.6zM365.2 76.2h0.6v0.6h-0.6zM364.9 76.1h0.6v0.6h-0.6zM364.2 69.7h0.6v0.6h-0.6zM365 76.1h0.6v0.6h-0.6z" fill="#aede36"/>
<path d="M365.7 71.5h0.6v0.6h-0.6zM363.7 70.9h0.6v0.6h-0.6zM363.3 71h0.6v0.6h-0.6zM363.5 71h0.6v0.6h-0.6zM363.6 74h0.6v0.6h-0.6zM365.5 71.8h0.6v0.6h-0.6zM363.4 73.9h0.6v0.6h-0.6zM365.8 73.2h0.6v0.6h-0.6zM363.6 71.3h0.6v0.6h-0.6zM365.5 73h0.6v0.6h-0.6zM365.5 72.9h0.6v0.6h-0.6zM363.8 71.1h0.6v0.6h-0.6z" fill="#d2de2a"/>
<path d="M364.5 66.1h0.6v0.6h-0.6zM364.2 79.5h0.6v0.6h-0.6zM366.6 76.3h0.6v0.6h-0.6zM363.7 79.1h0.6v0.6h-0.6zM366.7 76.7h0.6v0.6h-0.6zM363 78.4h0.6v0.6h-0.6zM364.1 66.2h0.6v0.6h-0.6zM364.3 66h0.6v0.6h-0.6zM364.3 66h0.6v0.6h-0.6zM363.4 79h0.6v0.6h-0.6zM363.9 79.8h0.6v0.6h-0.6zM364.2 79.5h0.6v0.6h-0.6zM363 78.7h0.6v0.6h-0.6zM365.4 79.1h0.6v0.6h-0.6zM362.8 77h0.6v0.6h-0.6zM364.6 79.7h0.6v0.6h-0.6z" fill="#2a72d2"/>
<path d="M362.7 66h0.6v0.6h-0.6zM361.4 69.2h0.6v0.6h-0.6zM363.9 63.9h0.6v0.6h-0.6zM362.5 65.4h0.6v0.6h-0.6zM364.7 64.7h0.6v0.6h-0.6zM362.7 66.1h0.6v0.6h-0.6zM366.1 65.8h0.6v0.6h-0.6zM366.1 66.2h0.6v0.6h-0.6zM361.4 68.9h0.6v0.6h-0.6zM361.6 69.8h0.6v0.6h-0.6zM366.2 66.1h0.6v0.6h-0.6zM364.6 64.8h0.6v0.6h-0.6zM367 77.7h0.6v0.6h-0.6zM361.7 69.4h0.6v0.6h-0.6zM362.2 67h0.6v0.6h-0.6zM367.7 71.6h0.6v0.6h-0.6zM364.1 64.6h0.6v0.6h-0.6zM367.6 71.8h0.6v0.6h-0.6zM362.4 79.4h0.6v0.6h-0.6zM362.2 67h0.6v0.6h-0.6zM366.6 78.8h0.6v0.6h-0.6zM366.2 65.6h0.6v0.6h-0.6zM365.2 81.3h0.6v0.6h-0.6zM367.3 73.2h0.6v0.6h-0.6zM367.7 70.8h0.6v0.6h-0.6zM365.4 64.9h0.6v0.6h-0.6zM367.8 73.6h0.6v0.6h-0.6zM364.7 64.6h0.6v0.6h-0.6zM362.3 79.7h0.6v0.6h-0.6zM362.1 78.2h0.6v0.6h-0.6zM367.2 77.3h0.6v0.6h-0.6zM367.3 74.3h0.6v0.6h-0.6zM364.9 81.3h0.6v0.6h-0.6zM362.9 80.5h0.6v0.6h-0.6zM366.3 78.9h0.6v0.6h-0.6zM367.6 75.3h0.6v0.6h-0.6zM366.8 69.1h0.6v0.6h-0.6z" fill="#424ec6"/>
<path d="M366 73.5h0.6v0.6h-0.6zM365.2 68.4h0.6v0.6h-0.6zM365.8 69.4h0.6v0.6h-0.6zM364.2 68.1h0.6v0.6h-0.6zM364.9 68.3h0.6v0.6h-0.6zM366 73.7h0.6v0.6h-0.6zM365 68.4h0.6v0.6h-0.6zM365 68.8h0.6v0.6h-0.6zM366.3 73.5h0.6v0.6h-0.6zM365 68.3h0.6v0.6h-0.6zM364.2 68.1h0.6v0.6h-0.6z" fill="#4ec672"/>
<path d="M366.6 68.4h0.6v0.6h-0.6zM366.5 68.5h0.6v0.6h-0.6zM361.9 68.5h0.6v0.6h-0.6zM363.7 65.7h0.6v0.6h-0.6zM366.9 76.1h0.6v0.6h-0.6zM365.9 79.6h0.6v0.6h-0.6zM362.7 78.5h0.6v0.6h-0.6zM366.9 75.4h0.6v0.6h-0.6zM367.1 70.2h0.6v0.6h-0.6zM364.6 80.6h0.6v0.6h-0.6zM363 66.3h0.6v0.6h-0.6zM367 70.7h0.6v0.6h-0.6zM365.5 66h0.6v0.6h-0.6zM366.3 78.1h0.6v0.6h-0.6zM362.5 67.1h0.6v0.6h-0.6zM362.3 68.5h0.6v0.6h-0.6zM362.2 75.5h0.6v0.6h-0.6zM365.6 66.3h0.6v0.6h-0.6zM366.8 70h0.6v0.6h-0.6zM363.6 65.5h0.6v0.6h-0.6zM365.3 65.9h0.6v0.6h-0.6zM365.2 65.3h0.6v0.6h-0.6zM364.5 80.6h0.6v0.6h-0.6zM362.2 76.8h0.6v0.6h-0.6zM363.8 65.2h0.6v0.6h-0.6zM363.2 65.9h0.6v0.6h-0.6zM363.4 65.7h0.6v0.6h-0.6zM364.4 80.6h0.6v0.6h-0.6zM361.9 76.5h0.6v0.6h-0.6zM363.3 80.3h0.6v0.6h-0.6zM363.6 80.1h0.6v0.6h-0.6zM366.4 78.1h0.6v0.6h-0.6zM361.9 76.7h0.6v0.6h-0.6zM365.8 79.5h0.6v0.6h-0.6zM363.7 79.9h0.6v0.6h-0.6z" fill="#3642ba"/>
<path d="M365.7 69.1h0.6v0.6h-0.6zM363.3 75.4h0.6v0.6h-0.6zM363.7 68.1h0.6v0.6h-0.6zM365.2 68.1h0.6v0.6h-0.6zM364.6 67.7h0.6v0.6h-0.6zM365.9 70.7h0.6v0.6h-0.6zM363 75.8h0.6v0.6h-0.6zM362.9 75.6h0.6v0.6h-0.6zM366.1 70.7h0.6v0.6h-0.6zM364.9 77.6h0.6v0.6h-0.6zM364.7 67.5h0.6v0.6h-0.6zM366.1 70.6h0.6v0.6h-0.6zM364.5 67.6h0.6v0.6h-0.6zM364.9 68.3h0.6v0.6h-0.6zM365.1 68h0.6v0.6h-0.6zM363.6 67.9h0.6v0.6h-0.6zM364.5 67.6h0.6v0.6h-0.6zM364.6 67.6h0.6v0.6h-0.6zM364.4 67.5h0.6v0.6h-0.6zM363.5 67.9h0.6v0.6h-0.6zM365.7 68.9h0.6v0.6h-0.6zM363.8 67.9h0.6v0.6h-0.6zM366 75.1h0.6v0.6h-0.6zM364.1 67.8h0.6v0.6h-0.6z" fill="#36c696"/>
<path d="M367 63.5h0.6v0.6h-0.6zM362.8 60.8h0.6v0.6h-0.6zM363 60.7h0.6v0.6h-0.6zM365.5 61.4h0.6v0.6h-0.6zM363.8 85.2h0.6v0.6h-0.6zM362.5 61.2h0.6v0.6h-0.6zM363.4 85.2h0.6v0.6h-0.6zM366.4 63.1h0.6v0.6h-0.6zM364.1 60.2h0.6v0.6h-0.6zM362.3 83.1h0.6v0.6h-0.6zM380.4 72h0.6v0.6h-0.6zM374.1 63.2h0.6v0.6h-0.6zM374.5 70.6h0.6v0.6h-0.6zM373.3 62.1h0.6v0.6h-0.6zM382.1 71h0.6v0.6h-0.6zM372.5 67.7h0.6v0.6h-0.6zM374.1 70.6h0.6v0.6h-0.6zM381.7 70.4h0.6v0.6h-0.6zM374.2 65.2h0.6v0.6h-0.6zM374.2 63.3h0.6v0.6h-0.6zM380.8 70.3h0.6v0.6h-0.6zM374.7 70.4h0.6v0.6h-0.6zM377.6 70.8h0.6v0.6h-0.6zM380.1 64.6h0.6v0.6h-0.6zM376.7 70.5h0.6v0.6h-0.6zM378.9 63.5h0.6v0.6h-0.6zM378.5 71.6h0.6v0.6h-0.6zM380.2 64.5h0.6v0.6h-0.6zM380.2 68.7h0.6v0.6h-0.6zM374.8 62.7h0.6v0.6h-0.6zM378.9 63.4h0.6v0.6h-0.6zM380.2 71.7h0.6v0.6h-0.6zM374.6 62.2h0.6v0.6h-0.6zM372.5 68.5h0.6v0.6h-0.6zM380.7 69.2h0.6v0.6h-0.6zM380.4 70.7h0.6v0.6h-0.6zM380.7 70h0.6v0.6h-0.6zM375.8 70.7h0.6v0.6h-0.6zM372.3 67.1h0.6v0.6h-0.6zM381.1 71.3h0.6v0.6h-0.6zM375.4 62.7h0.6v0.6h-0.6zM374.1 62h0.6v0.6h-0.6zM380.9 71.4h0.6v0.6h-0.6zM379 63.4h0.6v0.6h-0.6z" fill="#7e8ade"/>
<path d="M364.1 70.4h0.6v0.6h-0.6zM364 70.5h0.6v0.6h-0.6zM364.2 70.8h0.6v0.6h-0.6z" fill="#eac62a"/>
<path d="M364.3 67h0.6v0.6h-0.6zM364.2 66.8h0.6v0.6h-0.6zM364 67.2h0.6v0.6h-0.6zM364 67.2h0.6v0.6h-0.6zM363 68.5h0.6v0.6h-0.6zM364.1 67.2h0.6v0.6h-0.6zM363.8 67.3h0.6v0.6h-0.6z" fill="#2aaeba"/>
<path d="M365.6 74h0.6v0.6h-0.6zM365.4 74.3h0.6v0.6h-0.6zM365.4 71.1h0.6v0.6h-0.6zM365.5 74.1h0.6v0.6h-0.6zM363.4 74.7h0.6v0.6h-0.6zM365.8 73.9h0.6v0.6h-0.6zM365.5 71.2h0.6v0.6h-0.6zM363.7 74.7h0.6v0.6h-0.6z" fill="#bade2a"/>
<path d="M365.5 67h0.6v0.6h-0.6zM365.6 67h0.6v0.6h-0.6zM362.4 76.8h0.6v0.6h-0.6zM362.3 68.6h0.6v0.6h-0.6zM366 77.7h0.6v0.6h-0.6zM362.9 66.9h0.6v0.6h-0.6zM366.5 76.2h0.6v0.6h-0.6zM366.2 68.6h0.6v0.6h-0.6zM362.5 75.9h0.6v0.6h-0.6zM363.2 67.1h0.6v0.6h-0.6zM365.8 68.7h0.6v0.6h-0.6zM366.7 75.9h0.6v0.6h-0.6zM362.4 76.3h0.6v0.6h-0.6zM365.8 77.7h0.6v0.6h-0.6zM365.9 77.7h0.6v0.6h-0.6zM366.6 76.2h0.6v0.6h-0.6z" fill="#2a7ed2"/>
<path d="M365.2 74.4h0.6v0.6h-0.6zM365.3 74.4h0.6v0.6h-0.6z" fill="#eac61e"/>
<path d="M363.2 71.4h0.6v0.6h-0.6zM366.1 71.9h0.6v0.6h-0.6zM365.8 75.9h0.6v0.6h-0.6zM365.4 76.3h0.6v0.6h-0.6zM366 72.3h0.6v0.6h-0.6zM362.9 71.7h0.6v0.6h-0.6zM365.3 76h0.6v0.6h-0.6zM363.1 73.5h0.6v0.6h-0.6zM366 72.2h0.6v0.6h-0.6zM365.7 76.1h0.6v0.6h-0.6z" fill="#5ac65a"/>
<path d="M365.7 64.1h0.6v0.6h-0.6zM365.5 64.3h0.6v0.6h-0.6zM364 62.8h0.6v0.6h-0.6zM365.7 63.9h0.6v0.6h-0.6zM364 81.8h0.6v0.6h-0.6zM367.7 77.6h0.6v0.6h-0.6zM364.3 82.1h0.6v0.6h-0.6zM367.8 69.4h0.6v0.6h-0.6z" fill="#4e5ad2"/>
<path d="M362.9 70.6h0.6v0.6h-0.6zM366 70.8h0.6v0.6h-0.6zM366.1 71.1h0.6v0.6h-0.6zM366 70.8h0.6v0.6h-0.6zM366.3 71.1h0.6v0.6h-0.6zM365.9 70.9h0.6v0.6h-0.6z" fill="#42c672"/>
<path d="M362.8 75h0.6v0.6h-0.6zM362.6 69.5h0.6v0.6h-0.6zM366.3 75.2h0.6v0.6h-0.6zM363.3 67.8h0.6v0.6h-0.6zM363.1 67.4h0.6v0.6h-0.6zM363 67.4h0.6v0.6h-0.6zM362.4 69.3h0.6v0.6h-0.6zM366.3 75.2h0.6v0.6h-0.6zM366.7 74.9h0.6v0.6h-0.6z" fill="#2a8ade"/>
<path d="M361.2 71.8h0.6v0.6h-0.6zM361.2 68.4h0.6v0.6h-0.6zM361.1 72.4h0.6v0.6h-0.6zM362.6 81.5h0.6v0.6h-0.6zM361 73h0.6v0.6h-0.6zM362.2 65h0.6v0.6h-0.6zM367.4 79.1h0.6v0.6h-0.6zM365.8 82.8h0.6v0.6h-0.6zM367.2 81.2h0.6v0.6h-0.6z" fill="#6666d2"/>
<path d="M365.8 66.6h0.6v0.6h-0.6zM361.9 68.2h0.6v0.6h-0.6zM362.8 66.5h0.6v0.6h-0.6z" fill="#3642c6"/>
<path d="M365.8 67.5h0.6v0.6h-0.6zM366.9 71.8h0.6v0.6h-0.6zM365.5 66.8h0.6v0.6h-0.6zM367 72.7h0.6v0.6h-0.6zM362 73h0.6v0.6h-0.6zM362 72.8h0.6v0.6h-0.6zM367 72.1h0.6v0.6h-0.6zM363.2 66.7h0.6v0.6h-0.6zM361.8 71.1h0.6v0.6h-0.6zM362.1 71.2h0.6v0.6h-0.6zM365.4 79.5h0.6v0.6h-0.6zM362.2 73.1h0.6v0.6h-0.6zM362.1 71.5h0.6v0.6h-0.6zM362.2 71.3h0.6v0.6h-0.6zM362 72.5h0.6v0.6h-0.6zM363.7 79.7h0.6v0.6h-0.6zM363.1 66.7h0.6v0.6h-0.6zM363.1 79h0.6v0.6h-0.6zM365.6 79.4h0.6v0.6h-0.6zM365.3 79.6h0.6v0.6h-0.6zM361.9 72.6h0.6v0.6h-0.6zM365.3 79.7h0.6v0.6h-0.6zM365.8 78.6h0.6v0.6h-0.6zM366.6 76.9h0.6v0.6h-0.6zM365.9 78.7h0.6v0.6h-0.6zM367 73.5h0.6v0.6h-0.6zM365.7 79.7h0.6v0.6h-0.6zM367.2 71.5h0.6v0.6h-0.6z" fill="#365ac6"/>
<path d="M366.6 69.4h0.6v0.6h-0.6zM366.5 69.6h0.6v0.6h-0.6zM365.2 66.1h0.6v0.6h-0.6zM362.5 77.5h0.6v0.6h-0.6zM366.8 69.6h0.6v0.6h-0.6zM362.8 77.6h0.6v0.6h-0.6zM362.5 77.4h0.6v0.6h-0.6z" fill="#2a66c6"/>
<path d="M362.8 76.4h0.6v0.6h-0.6zM364.9 67.5h0.6v0.6h-0.6zM365.9 76.3h0.6v0.6h-0.6zM365.5 68.8h0.6v0.6h-0.6zM362.9 76.5h0.6v0.6h-0.6zM362.9 76.8h0.6v0.6h-0.6zM363.3 76.5h0.6v0.6h-0.6z" fill="#36aeae"/>
<path d="M364.4 76.7h0.6v0.6h-0.6zM364.7 76.8h0.6v0.6h-0.6zM364.7 76.4h0.6v0.6h-0.6zM364.5 76.8h0.6v0.6h-0.6zM365.6 74.4h0.6v0.6h-0.6zM364.5 76.8h0.6v0.6h-0.6zM365.5 74.4h0.6v0.6h-0.6zM364.7 76.3h0.6v0.6h-0.6z" fill="#a2d236"/>
<path d="M363 77.7h0.6v0.6h-0.6zM362.8 70.5h0.6v0.6h-0.6zM366.4 73.5h0.6v0.6h-0.6zM366.3 70.8h0.6v0.6h-0.6zM362.9 77.7h0.6v0.6h-0.6zM362.6 74.3h0.6v0.6h-0.6zM362.3 74.2h0.6v0.6h-0.6zM362.4 73.9h0.6v0.6h-0.6z" fill="#2a96d2"/>
<path d="M362.2 60.5h0.6v0.6h-0.6zM360.4 67.2h0.6v0.6h-0.6zM367 62.6h0.6v0.6h-0.6zM364.1 59.7h0.6v0.6h-0.6zM360.5 79.5h0.6v0.6h-0.6zM365.4 86.1h0.6v0.6h-0.6zM362.7 86h0.6v0.6h-0.6zM363.7 85.8h0.6v0.6h-0.6zM381.1 64.3h0.6v0.6h-0.6zM374.3 61.3h0.6v0.6h-0.6zM382.5 66.2h0.6v0.6h-0.6zM382.7 73.2h0.6v0.6h-0.6zM375.8 73.2h0.6v0.6h-0.6zM382.7 68.1h0.6v0.6h-0.6zM380.7 63.4h0.6v0.6h-0.6zM382.1 67.5h0.6v0.6h-0.6zM382.1 73h0.6v0.6h-0.6zM379.2 73.8h0.6v0.6h-0.6zM380.6 73.3h0.6v0.6h-0.6zM374.1 73.8h0.6v0.6h-0.6zM379.1 73.7h0.6v0.6h-0.6zM372.2 71h0.6v0.6h-0.6zM382.9 70.3h0.6v0.6h-0.6zM372 66.1h0.6v0.6h-0.6zM372.2 69.4h0.6v0.6h-0.6zM373.2 64.5h0.6v0.6h-0.6zM382.1 66.7h0.6v0.6h-0.6zM382.6 68.8h0.6v0.6h-0.6zM382.9 71.1h0.6v0.6h-0.6zM381.3 66.4h0.6v0.6h-0.6zM374.3 61.1h0.6v0.6h-0.6zM373 72.8h0.6v0.6h-0.6zM375.2 72.9h0.6v0.6h-0.6zM382.5 72.8h0.6v0.6h-0.6zM377 62h0.6v0.6h-0.6zM377.1 73.3h0.6v0.6h-0.6zM372.5 63.1h0.6v0.6h-0.6zM379.7 62.7h0.6v0.6h-0.6zM372.8 73.1h0.6v0.6h-0.6zM383 66h0.6v0.6h-0.6zM372.2 68.9h0.6v0.6h-0.6zM381.6 73.6h0.6v0.6h-0.6zM381.2 64.2h0.6v0.6h-0.6zM379.7 73.7h0.6v0.6h-0.6zM375.9 72.1h0.6v0.6h-0.6zM374 73.4h0.6v0.6h-0.6zM372.8 62.1h0.6v0.6h-0.6zM374.8 73.8h0.6v0.6h-0.6zM377.5 72.4h0.6v0.6h-0.6zM377.4 73.2h0.6v0.6h-0.6zM383.2 70.8h0.6v0.6h-0.6z" fill="#8a96de"/>
<path d="M365.1 78.8h0.6v0.6h-0.6zM364.9 66.8h0.6v0.6h-0.6zM364.9 66.8h0.6v0.6h-0.6zM362.7 69.1h0.6v0.6h-0.6zM365.2 79h0.6v0.6h-0.6zM362.5 69h0.6v0.6h-0.6zM365.5 78.4h0.6v0.6h-0.6zM365.5 78.7h0.6v0.6h-0.6zM365 66.7h0.6v0.6h-0.6z" fill="#2a8ad2"/>
<path d="M359.4 69.7h0.6v0.6h-0.6zM361.7 60.2h0.6v0.6h-0.6zM366.1 87.3h0.6v0.6h-0.6zM362 87.3h0.6v0.6h-0.6zM364.2 87.7h0.6v0.6h-0.6zM368.8 82.7h0.6v0.6h-0.6zM365.3 87.4h0.6v0.6h-0.6zM369.2 64.7h0.6v0.6h-0.6zM373.6 76.6h0.6v0.6h-0.6zM378.1 75.9h0.6v0.6h-0.6zM383.9 74.4h0.6v0.6h-0.6zM386 63.3h0.6v0.6h-0.6zM374.9 75.6h0.6v0.6h-0.6zM371.3 75.2h0.6v0.6h-0.6zM382.3 62.3h0.6v0.6h-0.6zM384.5 68h0.6v0.6h-0.6zM379.3 59.6h0.6v0.6h-0.6zM382.1 75.4h0.6v0.6h-0.6zM386.5 64h0.6v0.6h-0.6zM375.9 60h0.6v0.6h-0.6zM371.2 63.3h0.6v0.6h-0.6zM381 76.3h0.6v0.6h-0.6zM378.8 60.7h0.6v0.6h-0.6zM387 65.7h0.6v0.6h-0.6zM374.1 76.1h0.6v0.6h-0.6zM384.4 74h0.6v0.6h-0.6zM372.6 75.1h0.6v0.6h-0.6z" fill="#a2a2de"/>
<path d="M363.1 75.2h0.6v0.6h-0.6zM362.9 74.9h0.6v0.6h-0.6z" fill="#36c68a"/>
<path d="M367.4 59.8h0.6v0.6h-0.6zM365.5 58h0.6v0.6h-0.6zM363.2 91h0.6v0.6h-0.6zM359.5 84.9h0.6v0.6h-0.6zM363.5 91h0.6v0.6h-0.6zM364.4 90.3h0.6v0.6h-0.6zM369.4 80.6h0.6v0.6h-0.6zM359.7 85.8h0.6v0.6h-0.6zM374.5 78h0.6v0.6h-0.6zM381.1 78.5h0.6v0.6h-0.6zM379.7 57h0.6v0.6h-0.6zM383.7 77.6h0.6v0.6h-0.6zM371.2 60.2h0.6v0.6h-0.6zM377.2 80.4h0.6v0.6h-0.6zM387.6 67.7h0.6v0.6h-0.6zM386.6 72.4h0.6v0.6h-0.6zM387.2 70.4h0.6v0.6h-0.6zM378.4 80.8h0.6v0.6h-0.6zM372.9 58.5h0.6v0.6h-0.6zM376.3 58.5h0.6v0.6h-0.6zM379.5 78.5h0.6v0.6h-0.6zM386.9 71.2h0.6v0.6h-0.6zM377 77.8h0.6v0.6h-0.6zM381.9 59.5h0.6v0.6h-0.6zM377.2 79.8h0.6v0.6h-0.6zM383.4 61.3h0.6v0.6h-0.6zM376.6 82.1h0.6v0.6h-0.6zM379.3 81.3h0.6v0.6h-0.6zM378.1 80.5h0.6v0.6h-0.6zM385.8 62.1h0.6v0.6h-0.6z" fill="#aeaeea"/>
<path d="M365.3 75.5h0.6v0.6h-0.6zM365 76.5h0.6v0.6h-0.6zM365.5 75.3h0.6v0.6h-0.6zM365.6 75.5h0.6v0.6h-0.6z" fill="#72d236"/>
<path d="M366 74.6h0.6v0.6h-0.6zM363.6 76.8h0.6v0.6h-0.6zM365.9 74.4h0.6v0.6h-0.6z" fill="#42c68a"/>
<path d="M365.7 82.1h0.6v0.6h-0.6zM363 81.6h0.6v0.6h-0.6zM365.9 64.4h0.6v0.6h-0.6zM364.3 63.3h0.6v0.6h-0.6z" fill="#5a5ad2"/>
<path d="M360.1 78.1h0.6v0.6h-0.6zM360.2 75.4h0.6v0.6h-0.6zM360.5 80.8h0.6v0.6h-0.6zM367.1 85.9h0.6v0.6h-0.6zM369.3 66.5h0.6v0.6h-0.6zM363 87h0.6v0.6h-0.6zM366.8 85.5h0.6v0.6h-0.6zM369.9 71.5h0.6v0.6h-0.6zM362.5 86.9h0.6v0.6h-0.6zM366.8 61.1h0.6v0.6h-0.6zM381.4 75.3h0.6v0.6h-0.6zM369.7 75.8h0.6v0.6h-0.6zM381.2 62.2h0.6v0.6h-0.6zM385.6 64.3h0.6v0.6h-0.6zM370.5 74.1h0.6v0.6h-0.6zM379.3 61.1h0.6v0.6h-0.6zM372.7 60.7h0.6v0.6h-0.6zM370.6 65.4h0.6v0.6h-0.6zM379.8 60.9h0.6v0.6h-0.6zM377 75h0.6v0.6h-0.6zM371.8 62.3h0.6v0.6h-0.6zM381.7 63h0.6v0.6h-0.6zM385.6 66.6h0.6v0.6h-0.6zM384.2 71.5h0.6v0.6h-0.6zM376.4 61h0.6v0.6h-0.6zM383.5 74h0.6v0.6h-0.6zM380.6 75.8h0.6v0.6h-0.6zM370.2 66h0.6v0.6h-0.6zM369.6 66.8h0.6v0.6h-0.6zM378.1 61.1h0.6v0.6h-0.6zM385 67.1h0.6v0.6h-0.6zM373.8 75.6h0.6v0.6h-0.6zM370.2 74.4h0.6v0.6h-0.6zM385.9 63.9h0.6v0.6h-0.6z" fill="#96a2de"/>
<path d="M364.4 63.9h0.6v0.6h-0.6zM364.5 64.1h0.6v0.6h-0.6zM364.8 64h0.6v0.6h-0.6z" fill="#4e4ec6"/>
<path d="M362.7 58.7h0.6v0.6h-0.6zM365.7 58.4h0.6v0.6h-0.6zM367.6 86.4h0.6v0.6h-0.6zM369.3 82.6h0.6v0.6h-0.6zM380.4 77.3h0.6v0.6h-0.6zM382.9 61.1h0.6v0.6h-0.6zM387.8 65.1h0.6v0.6h-0.6zM373.1 77h0.6v0.6h-0.6zM380.1 58.5h0.6v0.6h-0.6zM378.9 58.7h0.6v0.6h-0.6zM377.5 77.3h0.6v0.6h-0.6zM378.9 77.7h0.6v0.6h-0.6zM378.7 57.8h0.6v0.6h-0.6zM375 77.4h0.6v0.6h-0.6zM387.4 64.4h0.6v0.6h-0.6zM385.7 73.9h0.6v0.6h-0.6zM384.3 62.6h0.6v0.6h-0.6zM368.8 63.1h0.6v0.6h-0.6zM377.5 58.5h0.6v0.6h-0.6zM385.7 69.4h0.6v0.6h-0.6zM371.3 75.3h0.6v0.6h-0.6zM381.9 60.8h0.6v0.6h-0.6zM387.2 69h0.6v0.6h-0.6zM385.1 72.8h0.6v0.6h-0.6z" fill="#a2aeea"/>
<path d="M366.3 72.3h0.6v0.6h-0.6zM365.9 72.6h0.6v0.6h-0.6z" fill="#5ac666"/>
<path d="M366.7 89.9h0.6v0.6h-0.6zM368.7 88.2h0.6v0.6h-0.6zM385.3 77.4h0.6v0.6h-0.6zM380.9 53.9h0.6v0.6h-0.6zM383.8 79.4h0.6v0.6h-0.6zM380.4 49.7h0.6v0.6h-0.6zM381.7 50.7h0.6v0.6h-0.6zM390.5 69.4h0.6v0.6h-0.6zM377.6 55.8h0.6v0.6h-0.6zM390.1 69.3h0.6v0.6h-0.6zM384.9 95.6h0.6v0.6h-0.6zM381.7 51.9h0.6v0.6h-0.6zM383.7 94.5h0.6v0.6h-0.6z" fill="#aebaea"/>
<path d="M387.6 59.3h0.6v0.6h-0.6zM389.7 73.9h0.6v0.6h-0.6zM391.1 86.2h0.6v0.6h-0.6zM371.4 84.2h0.6v0.6h-0.6zM388.8 92h0.6v0.6h-0.6zM386.2 85h0.6v0.6h-0.6zM389.4 62.6h0.6v0.6h-0.6zM377.7 47.7h0.6v0.6h-0.6zM387.8 80.3h0.6v0.6h-0.6zM382.5 82.4h0.6v0.6h-0.6zM371.1 92h0.6v0.6h-0.6zM385.4 57.5h0.6v0.6h-0.6zM379.4 84.4h0.6v0.6h-0.6zM387.4 77h0.6v0.6h-0.6zM356.3 62.9h0.6v0.6h-0.6zM374.9 54.6h0.6v0.6h-0.6zM395.8 59.5h0.6v0.6h-0.6z" fill="#babaea"/>
<rect x="343.3" y="46.3" width="61.3" height="61.3" fill="none" stroke="#666" stroke-width="0.75"/>
<line x1="342.1" y1="58" x2="343.3" y2="58" stroke="#666" stroke-width="0.5"/>
<line x1="342.1" y1="67.3" x2="343.3" y2="67.3" stroke="#666" stroke-width="0.5"/>
<line x1="342.1" y1="79" x2="343.3" y2="79" stroke="#666" stroke-width="0.5"/>
<line x1="342.1" y1="88.2" x2="343.3" y2="88.2" stroke="#666" stroke-width="0.5"/>
<line x1="342.1" y1="98.3" x2="343.3" y2="98.3" stroke="#666" stroke-width="0.5"/>
<line x1="348.7" y1="107.6" x2="348.7" y2="108.8" stroke="#666" stroke-width="0.5"/>
<line x1="359.6" y1="107.6" x2="359.6" y2="108.8" stroke="#666" stroke-width="0.5"/>
<line x1="371.2" y1="107.6" x2="371.2" y2="108.8" stroke="#666" stroke-width="0.5"/>
<line x1="382.9" y1="107.6" x2="382.9" y2="108.8" stroke="#666" stroke-width="0.5"/>
<line x1="393.7" y1="107.6" x2="393.7" y2="108.8" stroke="#666" stroke-width="0.5"/>
<line x1="370.8" y1="46.3" x2="370.8" y2="107.6" stroke="#444" stroke-width="0.8"/>
<line x1="343.3" y1="76.6" x2="404.6" y2="76.6" stroke="#444" stroke-width="0.8"/>
<path d="M435.5 76.1h0.6v0.6h-0.6zM435.8 75.9h0.6v0.6h-0.6zM432.9 77h0.6v0.6h-0.6zM433.1 77h0.6v0.6h-0.6zM433.8 65.4h0.6v0.6h-0.6zM433.7 65.8h0.6v0.6h-0.6zM433.3 77.2h0.6v0.6h-0.6zM433.2 77.3h0.6v0.6h-0.6z" fill="#36c68a"/>
<path d="M433.8 78.7h0.6v0.6h-0.6zM435.2 77.6h0.6v0.6h-0.6zM433.5 64.6h0.6v0.6h-0.6zM432.9 78h0.6v0.6h-0.6zM431.9 76.4h0.6v0.6h-0.6zM433.2 77.9h0.6v0.6h-0.6zM436.1 76.1h0.6v0.6h-0.6zM431.9 76.5h0.6v0.6h-0.6zM432.7 65.2h0.6v0.6h-0.6zM432.1 76.7h0.6v0.6h-0.6zM432.2 66.2h0.6v0.6h-0.6zM435.2 77.4h0.6v0.6h-0.6zM431.4 67h0.6v0.6h-0.6zM432.6 65.3h0.6v0.6h-0.6zM435.8 75.9h0.6v0.6h-0.6zM434.3 64.3h0.6v0.6h-0.6zM435.3 77.6h0.6v0.6h-0.6zM436.2 75.9h0.6v0.6h-0.6zM434.9 77.7h0.6v0.6h-0.6zM436.4 66.3h0.6v0.6h-0.6zM433.9 78.5h0.6v0.6h-0.6zM436 75.9h0.6v0.6h-0.6zM432.1 76.3h0.6v0.6h-0.6zM433.7 64.5h0.6v0.6h-0.6z" fill="#2aa2c6"/>
<path d="M435 74.9h0.6v0.6h-0.6zM432.6 68.7h0.6v0.6h-0.6zM432.5 68.8h0.6v0.6h-0.6zM433.9 75.3h0.6v0.6h-0.6zM433.1 67.6h0.6v0.6h-0.6zM433.1 67.7h0.6v0.6h-0.6zM432.3 69.5h0.6v0.6h-0.6zM436.1 69.6h0.6v0.6h-0.6zM433.2 67.5h0.6v0.6h-0.6zM433.4 74.9h0.6v0.6h-0.6zM432.3 68.7h0.6v0.6h-0.6zM436.1 71.3h0.6v0.6h-0.6zM433.8 67.2h0.6v0.6h-0.6zM434 75.4h0.6v0.6h-0.6zM433.8 66.9h0.6v0.6h-0.6zM436.1 69.9h0.6v0.6h-0.6zM436.2 71.8h0.6v0.6h-0.6zM435.9 69.9h0.6v0.6h-0.6zM434.9 74.9h0.6v0.6h-0.6zM436.1 69.6h0.6v0.6h-0.6zM434.3 67.1h0.6v0.6h-0.6zM434.1 75.7h0.6v0.6h-0.6zM434.1 66.8h0.6v0.6h-0.6zM435.9 70.7h0.6v0.6h-0.6zM433.4 74.9h0.6v0.6h-0.6zM436.2 69.6h0.6v0.6h-0.6zM435.9 69.8h0.6v0.6h-0.6zM435.4 68.1h0.6v0.6h-0.6zM436.3 71.2h0.6v0.6h-0.6zM436.1 69.6h0.6v0.6h-0.6zM434.9 74.9h0.6v0.6h-0.6zM435.5 68.3h0.6v0.6h-0.6zM434.3 67.1h0.6v0.6h-0.6zM433.3 67.6h0.6v0.6h-0.6zM436 71.1h0.6v0.6h-0.6zM435.5 67.9h0.6v0.6h-0.6zM435.9 71.2h0.6v0.6h-0.6zM436.2 70.8h0.6v0.6h-0.6zM432.9 67.4h0.6v0.6h-0.6zM433.2 67.4h0.6v0.6h-0.6zM432.6 68.3h0.6v0.6h-0.6zM434 75.4h0.6v0.6h-0.6zM433.4 74.8h0.6v0.6h-0.6zM436.2 71.6h0.6v0.6h-0.6zM432.6 69.7h0.6v0.6h-0.6zM434.8 66.9h0.6v0.6h-0.6z" fill="#d2de2a"/>
<path d="M429.1 77.9h0.6v0.6h-0.6zM429 63.9h0.6v0.6h-0.6zM432 58.9h0.6v0.6h-0.6zM428.4 67.3h0.6v0.6h-0.6zM436.9 61.3h0.6v0.6h-0.6zM441 72.8h0.6v0.6h-0.6zM433.4 59.1h0.6v0.6h-0.6zM432.2 83.7h0.6v0.6h-0.6zM430.3 61.2h0.6v0.6h-0.6zM431.4 58.8h0.6v0.6h-0.6zM432.7 83.7h0.6v0.6h-0.6zM437.3 62.4h0.6v0.6h-0.6zM437.7 62.6h0.6v0.6h-0.6zM431.9 83.6h0.6v0.6h-0.6zM438.6 77.4h0.6v0.6h-0.6zM428.5 75.7h0.6v0.6h-0.6zM440.2 74.1h0.6v0.6h-0.6zM430 62.2h0.6v0.6h-0.6zM435.1 83.8h0.6v0.6h-0.6zM437.6 80.7h0.6v0.6h-0.6zM441.7 69.1h0.6v0.6h-0.6zM443.3 65.9h0.6v0.6h-0.6zM441.3 71.2h0.6v0.6h-0.6zM445 63.1h0.6v0.6h-0.6zM451.3 66.7h0.6v0.6h-0.6zM453.3 63.7h0.6v0.6h-0.6zM447.9 72.4h0.6v0.6h-0.6zM443.2 65h0.6v0.6h-0.6zM443 65.8h0.6v0.6h-0.6zM443.7 64.1h0.6v0.6h-0.6zM451 69.8h0.6v0.6h-0.6zM443 67h0.6v0.6h-0.6zM452.9 68.9h0.6v0.6h-0.6zM446.6 62.8h0.6v0.6h-0.6zM445 63.1h0.6v0.6h-0.6zM441.3 70.9h0.6v0.6h-0.6zM449.9 61.9h0.6v0.6h-0.6zM445.5 71.5h0.6v0.6h-0.6zM442.5 69.3h0.6v0.6h-0.6zM447.4 72.7h0.6v0.6h-0.6zM451.2 69h0.6v0.6h-0.6zM447.7 72.8h0.6v0.6h-0.6zM452.2 68.5h0.6v0.6h-0.6zM451.3 67.6h0.6v0.6h-0.6zM448.3 62.3h0.6v0.6h-0.6zM440.2 74.2h0.6v0.6h-0.6zM451.9 63.1h0.6v0.6h-0.6zM453.2 65h0.6v0.6h-0.6zM452.8 65.8h0.6v0.6h-0.6zM451.2 67h0.6v0.6h-0.6zM443.1 68.7h0.6v0.6h-0.6zM443.8 63.5h0.6v0.6h-0.6zM441.4 69.5h0.6v0.6h-0.6zM453.2 64.7h0.6v0.6h-0.6zM448.7 72.1h0.6v0.6h-0.6zM451 67.1h0.6v0.6h-0.6zM443 67.4h0.6v0.6h-0.6zM451.3 68h0.6v0.6h-0.6zM448.7 61.9h0.6v0.6h-0.6zM442.9 67.6h0.6v0.6h-0.6zM440.9 71.5h0.6v0.6h-0.6zM451.7 67.9h0.6v0.6h-0.6zM447.7 62.3h0.6v0.6h-0.6zM440.1 67.6h0.6v0.6h-0.6zM453.3 65.2h0.6v0.6h-0.6zM452.6 67.9h0.6v0.6h-0.6zM443 65.9h0.6v0.6h-0.6zM443.6 68.5h0.6v0.6h-0.6zM451.1 62.6h0.6v0.6h-0.6zM452.5 63.3h0.6v0.6h-0.6zM438.2 63h0.6v0.6h-0.6zM449.5 62.2h0.6v0.6h-0.6zM453 65.2h0.6v0.6h-0.6zM451.8 63h0.6v0.6h-0.6zM449.4 62.1h0.6v0.6h-0.6zM453.2 65.1h0.6v0.6h-0.6zM451.5 62.7h0.6v0.6h-0.6zM451.7 68.8h0.6v0.6h-0.6z" fill="#727ed2"/>
<path d="M432 68.2h0.6v0.6h-0.6zM436.3 67.3h0.6v0.6h-0.6zM435.9 67.3h0.6v0.6h-0.6zM435.3 75.8h0.6v0.6h-0.6zM435.4 75.6h0.6v0.6h-0.6zM432.1 67.8h0.6v0.6h-0.6zM436.3 67.7h0.6v0.6h-0.6zM435.4 75.5h0.6v0.6h-0.6zM432 68h0.6v0.6h-0.6zM436.6 71.7h0.6v0.6h-0.6zM432.1 68.1h0.6v0.6h-0.6zM436.6 72.2h0.6v0.6h-0.6zM435.4 75.5h0.6v0.6h-0.6zM432.1 69.8h0.6v0.6h-0.6zM436.4 72.1h0.6v0.6h-0.6zM434.4 76.3h0.6v0.6h-0.6zM434.9 76.2h0.6v0.6h-0.6zM434.4 76.7h0.6v0.6h-0.6zM435.1 76.2h0.6v0.6h-0.6z" fill="#66c64e"/>
<path d="M434.1 72.3h0.6v0.6h-0.6zM434.4 68h0.6v0.6h-0.6zM435.6 70.7h0.6v0.6h-0.6zM434.6 68.3h0.6v0.6h-0.6zM433.3 71.8h0.6v0.6h-0.6zM435.1 68.7h0.6v0.6h-0.6zM433.6 67.9h0.6v0.6h-0.6zM435 68.7h0.6v0.6h-0.6zM433.9 72.6h0.6v0.6h-0.6zM435.6 71.8h0.6v0.6h-0.6zM435.3 72h0.6v0.6h-0.6zM435 68.3h0.6v0.6h-0.6zM435.6 71.2h0.6v0.6h-0.6zM433.1 69.1h0.6v0.6h-0.6zM435.4 70.8h0.6v0.6h-0.6zM435.6 72h0.6v0.6h-0.6zM433.4 71.6h0.6v0.6h-0.6zM435.4 70.7h0.6v0.6h-0.6zM433.4 71.4h0.6v0.6h-0.6zM434.9 73.4h0.6v0.6h-0.6zM435.5 71.5h0.6v0.6h-0.6zM433.4 71.8h0.6v0.6h-0.6zM435.4 72.2h0.6v0.6h-0.6zM433.5 71.4h0.6v0.6h-0.6zM435.3 71.8h0.6v0.6h-0.6zM435.6 71.5h0.6v0.6h-0.6zM434 72.9h0.6v0.6h-0.6zM433.6 68.1h0.6v0.6h-0.6zM434.9 73.5h0.6v0.6h-0.6zM434.5 67.9h0.6v0.6h-0.6zM434.8 68.5h0.6v0.6h-0.6zM434.1 73.2h0.6v0.6h-0.6zM435 73.4h0.6v0.6h-0.6zM435.3 70.2h0.6v0.6h-0.6zM433.1 68.9h0.6v0.6h-0.6zM435.6 72.3h0.6v0.6h-0.6zM434 72.9h0.6v0.6h-0.6zM433.7 68h0.6v0.6h-0.6zM434.2 73.3h0.6v0.6h-0.6zM435.7 71.9h0.6v0.6h-0.6zM435.1 73h0.6v0.6h-0.6zM434.3 73.6h0.6v0.6h-0.6zM435.7 71.1h0.6v0.6h-0.6zM434.9 73h0.6v0.6h-0.6zM434.4 67.9h0.6v0.6h-0.6zM433.2 69.3h0.6v0.6h-0.6zM434 72.9h0.6v0.6h-0.6zM433.6 68.1h0.6v0.6h-0.6zM433.2 69h0.6v0.6h-0.6zM433.9 73h0.6v0.6h-0.6zM433.1 69.1h0.6v0.6h-0.6zM435.5 70.6h0.6v0.6h-0.6zM432.9 69.2h0.6v0.6h-0.6zM435.6 70.1h0.6v0.6h-0.6zM435.1 73.4h0.6v0.6h-0.6zM435.4 71.1h0.6v0.6h-0.6zM435.8 71.6h0.6v0.6h-0.6zM435.6 70.7h0.6v0.6h-0.6zM435.1 73.3h0.6v0.6h-0.6zM433.7 71.7h0.6v0.6h-0.6zM433.9 73h0.6v0.6h-0.6zM434.9 72.8h0.6v0.6h-0.6zM433.5 68.2h0.6v0.6h-0.6zM434.5 68.3h0.6v0.6h-0.6zM435.5 71.3h0.6v0.6h-0.6zM433.3 68.2h0.6v0.6h-0.6zM434.8 68.3h0.6v0.6h-0.6zM435.8 70.9h0.6v0.6h-0.6z" fill="#eaba1e"/>
<path d="M436.4 67.6h0.6v0.6h-0.6zM437.3 69.1h0.6v0.6h-0.6zM432.8 76.7h0.6v0.6h-0.6zM436.8 74.4h0.6v0.6h-0.6zM435.2 65.8h0.6v0.6h-0.6zM437.2 69.2h0.6v0.6h-0.6zM432.1 67h0.6v0.6h-0.6zM436.8 74.6h0.6v0.6h-0.6zM433.5 77.8h0.6v0.6h-0.6zM435.2 65.6h0.6v0.6h-0.6zM436.9 70.1h0.6v0.6h-0.6zM435.1 65.6h0.6v0.6h-0.6zM437.1 70h0.6v0.6h-0.6zM431.5 68.4h0.6v0.6h-0.6zM432.1 66.9h0.6v0.6h-0.6zM436.7 67.5h0.6v0.6h-0.6zM436.9 68.9h0.6v0.6h-0.6zM434.9 65.6h0.6v0.6h-0.6zM433.7 77.5h0.6v0.6h-0.6zM431.6 69.2h0.6v0.6h-0.6zM431.4 69.2h0.6v0.6h-0.6zM437.2 69.1h0.6v0.6h-0.6zM435.6 65.8h0.6v0.6h-0.6zM436.8 70.3h0.6v0.6h-0.6zM434.8 65.4h0.6v0.6h-0.6zM435.4 66.1h0.6v0.6h-0.6zM436.8 69.4h0.6v0.6h-0.6zM433.4 77.8h0.6v0.6h-0.6zM433.5 77.6h0.6v0.6h-0.6zM432.2 75.1h0.6v0.6h-0.6zM437 70.1h0.6v0.6h-0.6z" fill="#36c696"/>
<path d="M433.8 80.1h0.6v0.6h-0.6zM437.8 69.2h0.6v0.6h-0.6zM430.3 74h0.6v0.6h-0.6zM430.5 73.9h0.6v0.6h-0.6zM437.8 72.1h0.6v0.6h-0.6zM438 69.3h0.6v0.6h-0.6zM438.1 72h0.6v0.6h-0.6zM438.1 69.2h0.6v0.6h-0.6zM433.9 79.8h0.6v0.6h-0.6zM430.6 72.3h0.6v0.6h-0.6zM438 69.2h0.6v0.6h-0.6zM434.1 79.9h0.6v0.6h-0.6zM430.4 68.4h0.6v0.6h-0.6zM433 79.3h0.6v0.6h-0.6zM435.1 79.6h0.6v0.6h-0.6zM433 79.3h0.6v0.6h-0.6zM433.2 79.8h0.6v0.6h-0.6zM434.1 80h0.6v0.6h-0.6z" fill="#3666c6"/>
<path d="M434 69.3h0.6v0.6h-0.6zM435.3 71.6h0.6v0.6h-0.6zM434 70.6h0.6v0.6h-0.6zM434.3 71.6h0.6v0.6h-0.6zM433.9 70.4h0.6v0.6h-0.6zM435 69.9h0.6v0.6h-0.6zM434.6 69.9h0.6v0.6h-0.6zM434.6 71.5h0.6v0.6h-0.6zM434.3 70.5h0.6v0.6h-0.6zM434.6 71.6h0.6v0.6h-0.6zM434.8 72.3h0.6v0.6h-0.6zM434.4 71.2h0.6v0.6h-0.6zM435 71.1h0.6v0.6h-0.6zM435.2 70.4h0.6v0.6h-0.6zM434.6 72.3h0.6v0.6h-0.6zM434.3 70.1h0.6v0.6h-0.6zM434.6 71h0.6v0.6h-0.6zM433.8 69.5h0.6v0.6h-0.6zM434.4 70.3h0.6v0.6h-0.6zM434.7 70.7h0.6v0.6h-0.6zM434.9 71h0.6v0.6h-0.6zM434.9 69.9h0.6v0.6h-0.6zM434.6 72.1h0.6v0.6h-0.6zM434 70.1h0.6v0.6h-0.6zM435 72.2h0.6v0.6h-0.6zM434.7 72h0.6v0.6h-0.6zM434.7 70.4h0.6v0.6h-0.6zM435.2 71.7h0.6v0.6h-0.6zM433.9 71.3h0.6v0.6h-0.6zM434.1 69.6h0.6v0.6h-0.6zM434.1 70.4h0.6v0.6h-0.6zM434.5 68.8h0.6v0.6h-0.6zM435.1 71.7h0.6v0.6h-0.6zM434 71.6h0.6v0.6h-0.6zM433.8 70.3h0.6v0.6h-0.6zM435.3 72.3h0.6v0.6h-0.6zM433.3 69.7h0.6v0.6h-0.6zM434.6 71.3h0.6v0.6h-0.6zM434.9 71.7h0.6v0.6h-0.6zM435.2 70.4h0.6v0.6h-0.6zM435.1 70h0.6v0.6h-0.6zM433.9 69.1h0.6v0.6h-0.6zM434.6 70.1h0.6v0.6h-0.6zM434 71.8h0.6v0.6h-0.6zM434.5 69.3h0.6v0.6h-0.6zM434.2 69.4h0.6v0.6h-0.6zM434.3 71.5h0.6v0.6h-0.6zM433.4 69.4h0.6v0.6h-0.6zM435.1 70.6h0.6v0.6h-0.6zM434 70.6h0.6v0.6h-0.6zM434.2 69.1h0.6v0.6h-0.6zM434.3 71.7h0.6v0.6h-0.6zM433.9 68.9h0.6v0.6h-0.6zM433.9 69.5h0.6v0.6h-0.6zM434 71.5h0.6v0.6h-0.6zM435.2 72h0.6v0.6h-0.6zM433.9 70.6h0.6v0.6h-0.6zM434.4 69.6h0.6v0.6h-0.6zM435 71.3h0.6v0.6h-0.6zM434.1 70.9h0.6v0.6h-0.6zM434.4 70.7h0.6v0.6h-0.6zM434.5 71h0.6v0.6h-0.6zM433.8 71.1h0.6v0.6h-0.6zM434.6 69.9h0.6v0.6h-0.6zM434.2 70.1h0.6v0.6h-0.6zM434.4 70.2h0.6v0.6h-0.6zM434.6 70.8h0.6v0.6h-0.6zM434.6 68.9h0.6v0.6h-0.6zM434.1 70h0.6v0.6h-0.6zM434.7 70h0.6v0.6h-0.6zM435.2 72.1h0.6v0.6h-0.6zM434 71.2h0.6v0.6h-0.6z" fill="#f6a21e"/>
<path d="M434 64.9h0.6v0.6h-0.6zM436.9 71h0.6v0.6h-0.6zM431.5 70.6h0.6v0.6h-0.6zM436.9 72.2h0.6v0.6h-0.6zM431.7 70.5h0.6v0.6h-0.6zM431.3 68.1h0.6v0.6h-0.6zM434.3 77.5h0.6v0.6h-0.6zM436.8 71.8h0.6v0.6h-0.6zM431.4 68.3h0.6v0.6h-0.6zM434 65.1h0.6v0.6h-0.6zM431.5 70.7h0.6v0.6h-0.6zM432.9 65.5h0.6v0.6h-0.6zM434.3 77.6h0.6v0.6h-0.6zM437.2 68.8h0.6v0.6h-0.6zM437.1 72.1h0.6v0.6h-0.6zM437.1 71.6h0.6v0.6h-0.6zM431.4 68.1h0.6v0.6h-0.6zM432.9 65.4h0.6v0.6h-0.6zM436.9 68.4h0.6v0.6h-0.6zM433 65.5h0.6v0.6h-0.6zM435 77h0.6v0.6h-0.6zM431.5 70.6h0.6v0.6h-0.6zM432.2 75.6h0.6v0.6h-0.6zM431.4 70h0.6v0.6h-0.6zM432.4 66.1h0.6v0.6h-0.6zM436.9 68.3h0.6v0.6h-0.6zM432.2 75.3h0.6v0.6h-0.6zM436.8 71.9h0.6v0.6h-0.6zM433.9 65.3h0.6v0.6h-0.6zM437.1 71.1h0.6v0.6h-0.6z" fill="#36baa2"/>
<path d="M435.8 73.3h0.6v0.6h-0.6zM435.1 75.6h0.6v0.6h-0.6zM433.2 74.7h0.6v0.6h-0.6zM435.1 75.7h0.6v0.6h-0.6zM433.1 74.7h0.6v0.6h-0.6zM435.3 75.7h0.6v0.6h-0.6zM434.2 76.3h0.6v0.6h-0.6zM434.1 75.9h0.6v0.6h-0.6zM435 75.8h0.6v0.6h-0.6zM434.3 76h0.6v0.6h-0.6zM433.2 74.5h0.6v0.6h-0.6zM436 73.7h0.6v0.6h-0.6zM435.2 75.7h0.6v0.6h-0.6zM433.9 76h0.6v0.6h-0.6zM434.8 75.8h0.6v0.6h-0.6zM434.2 76.1h0.6v0.6h-0.6zM433.1 74.6h0.6v0.6h-0.6zM435.1 75.3h0.6v0.6h-0.6zM434.1 75.8h0.6v0.6h-0.6zM432.9 74.5h0.6v0.6h-0.6zM434.9 75.4h0.6v0.6h-0.6zM436.3 73.3h0.6v0.6h-0.6zM436.2 73.7h0.6v0.6h-0.6zM434 76.1h0.6v0.6h-0.6z" fill="#a2d236"/>
<path d="M432.8 81.1h0.6v0.6h-0.6zM436.3 80h0.6v0.6h-0.6zM438.4 72.9h0.6v0.6h-0.6zM429.9 65.5h0.6v0.6h-0.6zM436.4 78.9h0.6v0.6h-0.6zM430.9 62.4h0.6v0.6h-0.6zM429.9 76.6h0.6v0.6h-0.6zM430.1 66.6h0.6v0.6h-0.6zM432.9 61.4h0.6v0.6h-0.6zM438.7 73.3h0.6v0.6h-0.6zM432.3 61.7h0.6v0.6h-0.6zM438.9 71.8h0.6v0.6h-0.6zM434.3 62.1h0.6v0.6h-0.6zM432.9 81.1h0.6v0.6h-0.6zM434.6 62.3h0.6v0.6h-0.6zM437.9 65.7h0.6v0.6h-0.6zM436.8 64.5h0.6v0.6h-0.6zM429.9 65.1h0.6v0.6h-0.6zM436.6 64.3h0.6v0.6h-0.6zM436.5 63.8h0.6v0.6h-0.6zM438.5 67.6h0.6v0.6h-0.6zM431.2 78.3h0.6v0.6h-0.6zM432.2 80.2h0.6v0.6h-0.6zM436.6 78.9h0.6v0.6h-0.6zM429.6 74h0.6v0.6h-0.6zM430.2 76h0.6v0.6h-0.6zM429.8 76.6h0.6v0.6h-0.6zM433.6 81.4h0.6v0.6h-0.6zM432.3 61.3h0.6v0.6h-0.6zM435.8 80.8h0.6v0.6h-0.6zM432 80.2h0.6v0.6h-0.6zM439.1 70.6h0.6v0.6h-0.6zM430.2 66.9h0.6v0.6h-0.6zM438.8 67.8h0.6v0.6h-0.6zM435.7 63.3h0.6v0.6h-0.6zM430.2 76.1h0.6v0.6h-0.6zM430.2 76.4h0.6v0.6h-0.6zM434.9 62.1h0.6v0.6h-0.6zM429.5 72.8h0.6v0.6h-0.6zM432.4 61.5h0.6v0.6h-0.6zM435 62.4h0.6v0.6h-0.6zM438.1 66.2h0.6v0.6h-0.6zM435.1 81.2h0.6v0.6h-0.6zM433.4 61.4h0.6v0.6h-0.6zM438.3 74.8h0.6v0.6h-0.6zM438.9 70.7h0.6v0.6h-0.6zM429.9 66h0.6v0.6h-0.6zM437.8 66.5h0.6v0.6h-0.6zM429.3 73h0.6v0.6h-0.6zM430.1 75.7h0.6v0.6h-0.6zM439.1 71.1h0.6v0.6h-0.6zM430.7 77.1h0.6v0.6h-0.6zM437.7 65.2h0.6v0.6h-0.6zM431.6 79h0.6v0.6h-0.6zM438.1 75.1h0.6v0.6h-0.6zM429.9 66.2h0.6v0.6h-0.6zM431.8 80.6h0.6v0.6h-0.6zM430.9 62.7h0.6v0.6h-0.6zM436 63.7h0.6v0.6h-0.6zM436.6 78.5h0.6v0.6h-0.6zM430.4 77.5h0.6v0.6h-0.6zM432.6 61.4h0.6v0.6h-0.6zM432.1 80.7h0.6v0.6h-0.6zM429.9 66.3h0.6v0.6h-0.6zM431.9 80.3h0.6v0.6h-0.6zM430.7 77.7h0.6v0.6h-0.6zM436.3 78h0.6v0.6h-0.6zM433.9 61.5h0.6v0.6h-0.6zM435.4 81h0.6v0.6h-0.6zM435.5 81.1h0.6v0.6h-0.6zM435.4 80.4h0.6v0.6h-0.6zM430.1 75.9h0.6v0.6h-0.6zM432.6 81.2h0.6v0.6h-0.6zM431.9 80.3h0.6v0.6h-0.6zM429.5 73.5h0.6v0.6h-0.6zM434.5 81.4h0.6v0.6h-0.6zM432.6 80.5h0.6v0.6h-0.6zM430.8 77.8h0.6v0.6h-0.6zM431.8 79.6h0.6v0.6h-0.6zM433.1 81.5h0.6v0.6h-0.6zM436.7 78.9h0.6v0.6h-0.6zM430 75.4h0.6v0.6h-0.6zM436.8 64.3h0.6v0.6h-0.6zM439.3 69.5h0.6v0.6h-0.6z" fill="#424ec6"/>
<path d="M434.1 67.7h0.6v0.6h-0.6zM434.9 68.2h0.6v0.6h-0.6zM435.2 74.2h0.6v0.6h-0.6zM434.3 67.8h0.6v0.6h-0.6zM434.1 73.4h0.6v0.6h-0.6zM435.3 68.3h0.6v0.6h-0.6zM435.2 67.9h0.6v0.6h-0.6zM434.9 73.9h0.6v0.6h-0.6zM435.6 69.2h0.6v0.6h-0.6zM433.9 67.5h0.6v0.6h-0.6zM435 73.9h0.6v0.6h-0.6zM435.1 74h0.6v0.6h-0.6zM434.8 68.2h0.6v0.6h-0.6zM434.9 68.3h0.6v0.6h-0.6zM435 68.3h0.6v0.6h-0.6z" fill="#eac62a"/>
<path d="M435.4 66.5h0.6v0.6h-0.6zM432.5 75.8h0.6v0.6h-0.6zM431.9 70.8h0.6v0.6h-0.6zM432.2 70.9h0.6v0.6h-0.6zM433.1 76.7h0.6v0.6h-0.6zM435.6 66.4h0.6v0.6h-0.6zM435.7 66.5h0.6v0.6h-0.6zM432.9 76.6h0.6v0.6h-0.6zM433 76.4h0.6v0.6h-0.6zM435 66.2h0.6v0.6h-0.6zM432.3 75.4h0.6v0.6h-0.6zM434.8 66h0.6v0.6h-0.6zM433 76.6h0.6v0.6h-0.6zM435.7 66.6h0.6v0.6h-0.6zM432.5 75.4h0.6v0.6h-0.6zM432 70.9h0.6v0.6h-0.6zM432.4 75.6h0.6v0.6h-0.6zM432.8 76.6h0.6v0.6h-0.6zM433.6 77.2h0.6v0.6h-0.6zM432.5 75.6h0.6v0.6h-0.6zM435.3 65.9h0.6v0.6h-0.6z" fill="#4ec666"/>
<path d="M436.6 69.7h0.6v0.6h-0.6zM432.4 73.6h0.6v0.6h-0.6zM431.9 69.7h0.6v0.6h-0.6zM432.2 69.5h0.6v0.6h-0.6zM432.8 73.3h0.6v0.6h-0.6zM432.1 68.5h0.6v0.6h-0.6zM432.1 69.7h0.6v0.6h-0.6zM431.8 69.6h0.6v0.6h-0.6zM436.5 69.3h0.6v0.6h-0.6zM432.7 73.5h0.6v0.6h-0.6zM432.7 73.2h0.6v0.6h-0.6zM432.2 69.3h0.6v0.6h-0.6zM432.8 73.5h0.6v0.6h-0.6zM436.3 69.8h0.6v0.6h-0.6zM432.6 72.6h0.6v0.6h-0.6zM436.4 69.4h0.6v0.6h-0.6zM436.6 70.1h0.6v0.6h-0.6zM432.7 72.3h0.6v0.6h-0.6zM432.8 72.4h0.6v0.6h-0.6zM436.7 69.8h0.6v0.6h-0.6zM432.7 73.5h0.6v0.6h-0.6zM432.2 69.8h0.6v0.6h-0.6zM432.5 72.5h0.6v0.6h-0.6zM432.3 72.7h0.6v0.6h-0.6z" fill="#72d242"/>
<path d="M436.5 81.2h0.6v0.6h-0.6zM439.5 69.3h0.6v0.6h-0.6zM432.7 82.7h0.6v0.6h-0.6zM430.5 61.9h0.6v0.6h-0.6zM436.2 61.5h0.6v0.6h-0.6zM436.7 81h0.6v0.6h-0.6zM429.1 72.7h0.6v0.6h-0.6zM432.8 60h0.6v0.6h-0.6zM437.6 79.2h0.6v0.6h-0.6zM435.7 82.1h0.6v0.6h-0.6zM435.9 81.5h0.6v0.6h-0.6zM430.5 79.5h0.6v0.6h-0.6zM434.5 60.5h0.6v0.6h-0.6zM438.6 75.6h0.6v0.6h-0.6zM434.7 60.6h0.6v0.6h-0.6zM437.7 79.2h0.6v0.6h-0.6zM437.4 78.8h0.6v0.6h-0.6zM431.1 80.6h0.6v0.6h-0.6zM429.6 77.2h0.6v0.6h-0.6zM437.5 79h0.6v0.6h-0.6zM439.4 68.9h0.6v0.6h-0.6zM429.1 68h0.6v0.6h-0.6zM440 72.7h0.6v0.6h-0.6zM429.2 72.2h0.6v0.6h-0.6zM439.5 73.8h0.6v0.6h-0.6zM434.1 60.1h0.6v0.6h-0.6zM435.1 82.6h0.6v0.6h-0.6zM432.8 82.5h0.6v0.6h-0.6zM435.4 81.8h0.6v0.6h-0.6zM430.1 78.8h0.6v0.6h-0.6zM449.5 70h0.6v0.6h-0.6zM444.2 66.6h0.6v0.6h-0.6zM436.8 62.2h0.6v0.6h-0.6zM447.4 65.5h0.6v0.6h-0.6zM446.4 64.8h0.6v0.6h-0.6zM446.1 69.7h0.6v0.6h-0.6zM445 68.7h0.6v0.6h-0.6zM447.9 65h0.6v0.6h-0.6zM447.3 64.1h0.6v0.6h-0.6zM449 65.8h0.6v0.6h-0.6zM449.3 70.2h0.6v0.6h-0.6zM449.7 68.2h0.6v0.6h-0.6zM444.6 65.9h0.6v0.6h-0.6zM444.9 65h0.6v0.6h-0.6zM448.8 64.4h0.6v0.6h-0.6zM444.5 68.2h0.6v0.6h-0.6zM440.2 72.6h0.6v0.6h-0.6zM448.9 64h0.6v0.6h-0.6zM446.4 65h0.6v0.6h-0.6zM449.6 69.8h0.6v0.6h-0.6zM439.9 72.6h0.6v0.6h-0.6zM447.1 70.9h0.6v0.6h-0.6zM445.1 67.8h0.6v0.6h-0.6zM445.9 64.4h0.6v0.6h-0.6zM445.4 68.5h0.6v0.6h-0.6zM449.6 65.3h0.6v0.6h-0.6zM449 66.4h0.6v0.6h-0.6zM446.8 65.1h0.6v0.6h-0.6zM449.7 64.4h0.6v0.6h-0.6zM447.1 71.3h0.6v0.6h-0.6zM448.9 67.6h0.6v0.6h-0.6zM447.3 65.6h0.6v0.6h-0.6zM445.1 67.6h0.6v0.6h-0.6zM449.6 69.5h0.6v0.6h-0.6zM449.6 69.7h0.6v0.6h-0.6zM444.3 66.3h0.6v0.6h-0.6zM444.8 65.9h0.6v0.6h-0.6zM429.2 68.1h0.6v0.6h-0.6zM449 64.9h0.6v0.6h-0.6zM444.8 68.2h0.6v0.6h-0.6zM445.2 67.4h0.6v0.6h-0.6zM449.3 69.4h0.6v0.6h-0.6zM449.3 66.2h0.6v0.6h-0.6zM445.9 64.4h0.6v0.6h-0.6zM445.4 64.4h0.6v0.6h-0.6zM449.1 70.6h0.6v0.6h-0.6zM448.3 65h0.6v0.6h-0.6zM444.6 68h0.6v0.6h-0.6zM449.6 70.3h0.6v0.6h-0.6zM446.2 69.9h0.6v0.6h-0.6zM446.5 70.5h0.6v0.6h-0.6zM445.7 68.3h0.6v0.6h-0.6zM448.6 65.1h0.6v0.6h-0.6zM445.3 68.7h0.6v0.6h-0.6zM446.9 64.8h0.6v0.6h-0.6zM447.4 64.3h0.6v0.6h-0.6zM449.2 67.1h0.6v0.6h-0.6zM446.7 64.8h0.6v0.6h-0.6zM449 64.7h0.6v0.6h-0.6zM444.4 65.9h0.6v0.6h-0.6zM448.9 68h0.6v0.6h-0.6zM448 64.1h0.6v0.6h-0.6zM444.2 66.3h0.6v0.6h-0.6zM449.2 65.6h0.6v0.6h-0.6zM447 64h0.6v0.6h-0.6zM449.1 64h0.6v0.6h-0.6zM449.3 65.7h0.6v0.6h-0.6zM446.5 71.1h0.6v0.6h-0.6zM449.5 70.1h0.6v0.6h-0.6zM446.8 71h0.6v0.6h-0.6zM450.1 64.6h0.6v0.6h-0.6zM446.2 70h0.6v0.6h-0.6zM448.7 65.1h0.6v0.6h-0.6zM428.9 75h0.6v0.6h-0.6z" fill="#5a66d2"/>
<path d="M435 63.8h0.6v0.6h-0.6zM437.9 67.8h0.6v0.6h-0.6zM431.1 64.5h0.6v0.6h-0.6zM430.8 64.8h0.6v0.6h-0.6zM433.4 62.7h0.6v0.6h-0.6zM431 63.9h0.6v0.6h-0.6zM434.2 80.6h0.6v0.6h-0.6zM432.7 79.3h0.6v0.6h-0.6zM432.5 79.6h0.6v0.6h-0.6zM437.1 76.1h0.6v0.6h-0.6zM438.2 73h0.6v0.6h-0.6zM433.1 80.1h0.6v0.6h-0.6zM431.3 63.3h0.6v0.6h-0.6zM438 72.9h0.6v0.6h-0.6zM430.1 69.5h0.6v0.6h-0.6zM431 64.6h0.6v0.6h-0.6zM433.7 62.7h0.6v0.6h-0.6zM434.2 80.4h0.6v0.6h-0.6zM437.4 74.9h0.6v0.6h-0.6zM431.2 63.8h0.6v0.6h-0.6zM433.5 62.6h0.6v0.6h-0.6zM431.2 62.9h0.6v0.6h-0.6zM433.7 62.3h0.6v0.6h-0.6zM431.1 64.9h0.6v0.6h-0.6zM437.7 65.7h0.6v0.6h-0.6zM430.2 75h0.6v0.6h-0.6zM430.7 75.6h0.6v0.6h-0.6zM431.3 63.2h0.6v0.6h-0.6zM429.9 69.7h0.6v0.6h-0.6zM429.8 70.6h0.6v0.6h-0.6zM431.3 64.4h0.6v0.6h-0.6zM435.9 79.6h0.6v0.6h-0.6zM430.1 69.1h0.6v0.6h-0.6zM430.2 68.8h0.6v0.6h-0.6zM434 80.4h0.6v0.6h-0.6zM431.1 64.2h0.6v0.6h-0.6zM431.2 64.1h0.6v0.6h-0.6zM436.9 65.8h0.6v0.6h-0.6zM437.5 65.8h0.6v0.6h-0.6zM432.4 79.3h0.6v0.6h-0.6zM437.8 75.2h0.6v0.6h-0.6zM435.7 79.4h0.6v0.6h-0.6zM437.3 75.3h0.6v0.6h-0.6zM437.5 66.6h0.6v0.6h-0.6zM431 76.9h0.6v0.6h-0.6zM435.5 79.3h0.6v0.6h-0.6zM435.4 79.4h0.6v0.6h-0.6zM432.1 78.8h0.6v0.6h-0.6zM437.6 75.2h0.6v0.6h-0.6z" fill="#364ec6"/>
<path d="M434.3 64.7h0.6v0.6h-0.6zM431.4 75.5h0.6v0.6h-0.6zM433.5 78.6h0.6v0.6h-0.6zM433.5 78.5h0.6v0.6h-0.6zM433.5 78.7h0.6v0.6h-0.6zM434.4 64.5h0.6v0.6h-0.6zM434.4 78.5h0.6v0.6h-0.6zM437.5 69.5h0.6v0.6h-0.6zM434.6 64.6h0.6v0.6h-0.6zM437.3 67.4h0.6v0.6h-0.6zM434.5 78.3h0.6v0.6h-0.6zM437.8 70h0.6v0.6h-0.6zM436.9 67.5h0.6v0.6h-0.6zM437.7 69.4h0.6v0.6h-0.6zM434.6 78.5h0.6v0.6h-0.6zM434.6 64.4h0.6v0.6h-0.6zM437.3 67.7h0.6v0.6h-0.6zM432.5 77.6h0.6v0.6h-0.6zM432.7 77.4h0.6v0.6h-0.6zM432.6 77.5h0.6v0.6h-0.6zM433.5 78.6h0.6v0.6h-0.6zM437.7 69.6h0.6v0.6h-0.6z" fill="#2aa2d2"/>
<path d="M428.6 74.2h0.6v0.6h-0.6zM439 76.2h0.6v0.6h-0.6zM434.7 59.4h0.6v0.6h-0.6zM428.8 73.2h0.6v0.6h-0.6zM436.5 61.1h0.6v0.6h-0.6zM428.5 74.5h0.6v0.6h-0.6zM429.6 63.2h0.6v0.6h-0.6zM428.8 74.2h0.6v0.6h-0.6zM429.2 77.6h0.6v0.6h-0.6zM440.7 69.1h0.6v0.6h-0.6zM432.9 83.5h0.6v0.6h-0.6zM431.6 82.7h0.6v0.6h-0.6zM434.7 83.7h0.6v0.6h-0.6zM452.6 65.2h0.6v0.6h-0.6zM450.4 67.9h0.6v0.6h-0.6zM452.6 64.6h0.6v0.6h-0.6zM452.2 65.4h0.6v0.6h-0.6zM443.9 64.2h0.6v0.6h-0.6zM443.9 69h0.6v0.6h-0.6zM447.7 72.2h0.6v0.6h-0.6zM452.6 64h0.6v0.6h-0.6zM446.1 71.4h0.6v0.6h-0.6zM450.8 68.5h0.6v0.6h-0.6zM439.6 66.7h0.6v0.6h-0.6zM451 66.5h0.6v0.6h-0.6zM451.9 63.4h0.6v0.6h-0.6zM437.9 63.3h0.6v0.6h-0.6zM450.3 67.3h0.6v0.6h-0.6zM439.5 66.3h0.6v0.6h-0.6zM448.1 62.6h0.6v0.6h-0.6zM448.9 62.5h0.6v0.6h-0.6zM450.6 69.5h0.6v0.6h-0.6zM448.9 71.7h0.6v0.6h-0.6zM447.2 72.1h0.6v0.6h-0.6z" fill="#7272d2"/>
<path d="M437.5 72.1h0.6v0.6h-0.6zM431 72.6h0.6v0.6h-0.6zM432.9 63.9h0.6v0.6h-0.6zM431.1 70h0.6v0.6h-0.6zM430.9 70.4h0.6v0.6h-0.6zM431.7 66.4h0.6v0.6h-0.6zM431.3 68.3h0.6v0.6h-0.6zM431 68.2h0.6v0.6h-0.6zM431.1 70.6h0.6v0.6h-0.6zM437.3 68.5h0.6v0.6h-0.6zM431.3 72.8h0.6v0.6h-0.6zM432.9 64.1h0.6v0.6h-0.6zM435 64.4h0.6v0.6h-0.6zM437.7 71.3h0.6v0.6h-0.6zM431.1 72.5h0.6v0.6h-0.6zM431 70.6h0.6v0.6h-0.6zM431.8 65.6h0.6v0.6h-0.6zM431.3 70.1h0.6v0.6h-0.6zM431 73.1h0.6v0.6h-0.6zM433 63.9h0.6v0.6h-0.6zM431.4 66.8h0.6v0.6h-0.6zM431 74.3h0.6v0.6h-0.6zM431.1 70.7h0.6v0.6h-0.6zM434.3 79.2h0.6v0.6h-0.6zM437 74.7h0.6v0.6h-0.6zM433.2 64h0.6v0.6h-0.6zM431.2 69.9h0.6v0.6h-0.6zM435 64.6h0.6v0.6h-0.6zM430.9 73.4h0.6v0.6h-0.6zM431.9 77.2h0.6v0.6h-0.6zM430.9 67.8h0.6v0.6h-0.6zM431.7 66.5h0.6v0.6h-0.6zM431.8 76.3h0.6v0.6h-0.6zM437.7 68.4h0.6v0.6h-0.6zM430.8 68.3h0.6v0.6h-0.6zM433.8 79.2h0.6v0.6h-0.6zM437.6 71h0.6v0.6h-0.6zM432.1 65.7h0.6v0.6h-0.6zM431.3 72.6h0.6v0.6h-0.6zM437.3 72h0.6v0.6h-0.6z" fill="#2a96de"/>
<path d="M434.3 60.9h0.6v0.6h-0.6zM429.9 63.8h0.6v0.6h-0.6zM436.9 79.1h0.6v0.6h-0.6zM429.3 71.7h0.6v0.6h-0.6zM438.4 65.5h0.6v0.6h-0.6zM431 62h0.6v0.6h-0.6zM436.2 62.1h0.6v0.6h-0.6zM434.1 60.9h0.6v0.6h-0.6zM430.1 64.5h0.6v0.6h-0.6zM439.5 72.1h0.6v0.6h-0.6zM432.2 80.9h0.6v0.6h-0.6zM438 75.9h0.6v0.6h-0.6zM439.7 72.4h0.6v0.6h-0.6zM429.8 68.7h0.6v0.6h-0.6zM437.1 79.6h0.6v0.6h-0.6zM437 79h0.6v0.6h-0.6zM436.1 80.8h0.6v0.6h-0.6zM438.6 67.2h0.6v0.6h-0.6zM438.1 76.2h0.6v0.6h-0.6zM429.7 68.2h0.6v0.6h-0.6zM436 62.1h0.6v0.6h-0.6zM437.2 64.1h0.6v0.6h-0.6zM435.6 62.3h0.6v0.6h-0.6zM429.6 74.4h0.6v0.6h-0.6zM429.7 67.5h0.6v0.6h-0.6zM439.5 70.2h0.6v0.6h-0.6zM436.2 62.5h0.6v0.6h-0.6zM439.3 69.8h0.6v0.6h-0.6zM429.9 63.4h0.6v0.6h-0.6zM436 62h0.6v0.6h-0.6zM433.7 60.8h0.6v0.6h-0.6zM432.3 81.2h0.6v0.6h-0.6zM439.4 71.1h0.6v0.6h-0.6zM435.7 61.4h0.6v0.6h-0.6zM439.4 71.3h0.6v0.6h-0.6zM439 73.5h0.6v0.6h-0.6zM435.8 61.8h0.6v0.6h-0.6zM439.6 72.1h0.6v0.6h-0.6zM436.6 80.2h0.6v0.6h-0.6zM433.5 60.6h0.6v0.6h-0.6zM438.3 65.9h0.6v0.6h-0.6zM434.7 60.9h0.6v0.6h-0.6zM429.4 68.8h0.6v0.6h-0.6zM435.8 61.7h0.6v0.6h-0.6zM430.3 78.3h0.6v0.6h-0.6zM438.4 65.7h0.6v0.6h-0.6zM437.1 78.5h0.6v0.6h-0.6zM429.3 67.3h0.6v0.6h-0.6zM439.1 72.9h0.6v0.6h-0.6zM433.5 60.5h0.6v0.6h-0.6zM437.1 64.2h0.6v0.6h-0.6zM432.7 61.2h0.6v0.6h-0.6zM429.7 65.5h0.6v0.6h-0.6zM432.4 61.1h0.6v0.6h-0.6zM439.4 71h0.6v0.6h-0.6zM435.8 81h0.6v0.6h-0.6zM435.7 62.2h0.6v0.6h-0.6zM434.2 82h0.6v0.6h-0.6zM435.5 61.4h0.6v0.6h-0.6zM429.5 67.4h0.6v0.6h-0.6zM434.5 82.1h0.6v0.6h-0.6zM431.6 80.7h0.6v0.6h-0.6zM438.5 65.9h0.6v0.6h-0.6zM437.4 76.3h0.6v0.6h-0.6zM429.6 67.8h0.6v0.6h-0.6zM438.4 75h0.6v0.6h-0.6zM429.5 71.5h0.6v0.6h-0.6zM429.4 68.2h0.6v0.6h-0.6zM435.1 82h0.6v0.6h-0.6zM431.6 80.1h0.6v0.6h-0.6zM433.7 82.3h0.6v0.6h-0.6zM429.7 75.2h0.6v0.6h-0.6zM432.8 82.3h0.6v0.6h-0.6zM437.2 79.7h0.6v0.6h-0.6zM429.5 65.5h0.6v0.6h-0.6zM429.6 75.5h0.6v0.6h-0.6zM436.8 78h0.6v0.6h-0.6zM429.4 76.8h0.6v0.6h-0.6zM436.9 78.1h0.6v0.6h-0.6zM433.2 82.2h0.6v0.6h-0.6zM446.9 69.6h0.6v0.6h-0.6zM447.4 69h0.6v0.6h-0.6zM438.8 68.1h0.6v0.6h-0.6zM447.7 69.8h0.6v0.6h-0.6zM447.8 67.3h0.6v0.6h-0.6zM448.3 68.4h0.6v0.6h-0.6zM448.8 68.6h0.6v0.6h-0.6zM446.9 67.8h0.6v0.6h-0.6zM446.9 67.5h0.6v0.6h-0.6zM439.8 69.7h0.6v0.6h-0.6zM447.5 70.3h0.6v0.6h-0.6zM447.4 68.9h0.6v0.6h-0.6zM447.5 70.8h0.6v0.6h-0.6zM439 73h0.6v0.6h-0.6zM447.6 67.9h0.6v0.6h-0.6zM447.7 70.8h0.6v0.6h-0.6zM447.9 70.3h0.6v0.6h-0.6zM446.8 68.5h0.6v0.6h-0.6zM447.1 68.3h0.6v0.6h-0.6zM448.2 68.4h0.6v0.6h-0.6zM438.4 65.6h0.6v0.6h-0.6zM446.7 68.2h0.6v0.6h-0.6zM448.8 69.1h0.6v0.6h-0.6zM446.3 68.1h0.6v0.6h-0.6zM447.9 69.9h0.6v0.6h-0.6zM446.5 69.7h0.6v0.6h-0.6zM448.2 68.7h0.6v0.6h-0.6zM448.3 68.8h0.6v0.6h-0.6zM448.5 70h0.6v0.6h-0.6zM446.7 69.2h0.6v0.6h-0.6zM447 69.8h0.6v0.6h-0.6zM447.7 68.3h0.6v0.6h-0.6zM447.3 69.9h0.6v0.6h-0.6zM446.9 69.1h0.6v0.6h-0.6zM448 67.5h0.6v0.6h-0.6zM447.4 68.7h0.6v0.6h-0.6zM429.6 70.4h0.6v0.6h-0.6z" fill="#4e5ac6"/>
<path d="M431.7 85.4h0.6v0.6h-0.6zM427.3 73.7h0.6v0.6h-0.6zM434.1 57.2h0.6v0.6h-0.6zM436 57.4h0.6v0.6h-0.6zM429.4 59h0.6v0.6h-0.6zM427.4 69h0.6v0.6h-0.6zM439 80.5h0.6v0.6h-0.6zM434.3 86.6h0.6v0.6h-0.6zM435.4 86.7h0.6v0.6h-0.6zM458.8 62.2h0.6v0.6h-0.6zM455.1 59.6h0.6v0.6h-0.6zM444.5 60.8h0.6v0.6h-0.6zM456 71.6h0.6v0.6h-0.6zM460 70.2h0.6v0.6h-0.6zM439.5 60.6h0.6v0.6h-0.6zM444.5 73.4h0.6v0.6h-0.6zM444.9 59.5h0.6v0.6h-0.6zM445.2 74.4h0.6v0.6h-0.6zM440.3 78.5h0.6v0.6h-0.6zM442 60.6h0.6v0.6h-0.6zM442.5 61h0.6v0.6h-0.6zM454.8 59.2h0.6v0.6h-0.6zM455 72.7h0.6v0.6h-0.6zM441.3 75.4h0.6v0.6h-0.6zM458.3 70.9h0.6v0.6h-0.6zM454 73.3h0.6v0.6h-0.6zM442.1 60.8h0.6v0.6h-0.6zM460.1 68.3h0.6v0.6h-0.6zM439.7 60.4h0.6v0.6h-0.6zM454.2 74.1h0.6v0.6h-0.6zM451 57.8h0.6v0.6h-0.6zM442.9 60.2h0.6v0.6h-0.6zM441.1 76.3h0.6v0.6h-0.6zM445.9 74.9h0.6v0.6h-0.6zM447 58.5h0.6v0.6h-0.6zM440.9 76.3h0.6v0.6h-0.6zM448.2 75.7h0.6v0.6h-0.6zM439.7 60h0.6v0.6h-0.6zM459.2 62.7h0.6v0.6h-0.6zM441.1 61.9h0.6v0.6h-0.6zM456.8 60.2h0.6v0.6h-0.6zM459.5 70.4h0.6v0.6h-0.6zM458.3 61.6h0.6v0.6h-0.6zM459.5 65.7h0.6v0.6h-0.6zM460.2 66.5h0.6v0.6h-0.6zM447 75.6h0.6v0.6h-0.6zM455.5 71.9h0.6v0.6h-0.6zM458.1 60.4h0.6v0.6h-0.6zM460.2 67.5h0.6v0.6h-0.6zM459.5 70.4h0.6v0.6h-0.6zM453.4 58.7h0.6v0.6h-0.6zM459.6 69.6h0.6v0.6h-0.6zM460.2 68.7h0.6v0.6h-0.6z" fill="#96a2de"/>
<path d="M435.4 67.7h0.6v0.6h-0.6zM435.8 68.5h0.6v0.6h-0.6zM432.9 73.9h0.6v0.6h-0.6zM435.9 68.7h0.6v0.6h-0.6zM432.6 70.6h0.6v0.6h-0.6zM436.2 68.5h0.6v0.6h-0.6zM435.2 67.3h0.6v0.6h-0.6zM435.3 67.4h0.6v0.6h-0.6zM435.1 67.1h0.6v0.6h-0.6zM433.2 74.1h0.6v0.6h-0.6zM432.9 73.6h0.6v0.6h-0.6zM435.2 67h0.6v0.6h-0.6zM435.6 67.4h0.6v0.6h-0.6zM435.7 67.8h0.6v0.6h-0.6zM435.3 66.8h0.6v0.6h-0.6z" fill="#aed236"/>
<path d="M433 63h0.6v0.6h-0.6zM435.4 78.2h0.6v0.6h-0.6zM432.1 63.5h0.6v0.6h-0.6zM435.5 64.5h0.6v0.6h-0.6zM435.6 78.2h0.6v0.6h-0.6zM431.2 66.9h0.6v0.6h-0.6zM434.2 63.7h0.6v0.6h-0.6zM431.8 64.3h0.6v0.6h-0.6zM433.3 79.3h0.6v0.6h-0.6zM431.3 67h0.6v0.6h-0.6zM434.2 63.6h0.6v0.6h-0.6zM431.6 64.3h0.6v0.6h-0.6zM432.9 63.2h0.6v0.6h-0.6zM431.5 64.5h0.6v0.6h-0.6zM433.1 62.9h0.6v0.6h-0.6zM436.7 65.4h0.6v0.6h-0.6zM433.7 79.6h0.6v0.6h-0.6zM434.4 79.4h0.6v0.6h-0.6zM433.5 79.6h0.6v0.6h-0.6zM431.7 64.5h0.6v0.6h-0.6zM436.4 65.6h0.6v0.6h-0.6zM435 64.1h0.6v0.6h-0.6zM432.6 78.6h0.6v0.6h-0.6zM434.1 63.6h0.6v0.6h-0.6zM436.2 76.8h0.6v0.6h-0.6zM430.8 75.4h0.6v0.6h-0.6zM435.7 77.9h0.6v0.6h-0.6zM433.4 79.4h0.6v0.6h-0.6z" fill="#2a72d2"/>
<path d="M431.3 69h0.6v0.6h-0.6zM431.1 69.7h0.6v0.6h-0.6zM437.5 70.8h0.6v0.6h-0.6zM431.1 68.5h0.6v0.6h-0.6zM432.6 64.6h0.6v0.6h-0.6zM437.4 69.2h0.6v0.6h-0.6zM430.9 68.8h0.6v0.6h-0.6zM437.5 70.4h0.6v0.6h-0.6zM432.7 64.7h0.6v0.6h-0.6zM436.5 75.7h0.6v0.6h-0.6zM436.4 75.5h0.6v0.6h-0.6zM434.9 78h0.6v0.6h-0.6zM435.9 65.5h0.6v0.6h-0.6zM431.1 69.4h0.6v0.6h-0.6zM435.5 64.9h0.6v0.6h-0.6zM436.2 65.3h0.6v0.6h-0.6zM432.8 64.7h0.6v0.6h-0.6zM435.4 65.2h0.6v0.6h-0.6zM430.8 68.5h0.6v0.6h-0.6zM435.1 77.9h0.6v0.6h-0.6zM437.7 68.9h0.6v0.6h-0.6z" fill="#2a96d2"/>
<path d="M428.2 73.8h0.6v0.6h-0.6zM430.5 60.1h0.6v0.6h-0.6zM439.2 77.5h0.6v0.6h-0.6zM431.5 58.5h0.6v0.6h-0.6zM436.9 59.9h0.6v0.6h-0.6zM437.6 61.1h0.6v0.6h-0.6zM440.8 67.4h0.6v0.6h-0.6zM431.1 59h0.6v0.6h-0.6zM435.4 84.1h0.6v0.6h-0.6zM436.6 59.5h0.6v0.6h-0.6zM436.9 60h0.6v0.6h-0.6zM431.7 58.4h0.6v0.6h-0.6zM439.7 76.7h0.6v0.6h-0.6zM434.5 58.6h0.6v0.6h-0.6zM428.6 70.3h0.6v0.6h-0.6zM431.5 58.6h0.6v0.6h-0.6zM428 74.5h0.6v0.6h-0.6zM440 65h0.6v0.6h-0.6zM428.9 63h0.6v0.6h-0.6zM431.1 59h0.6v0.6h-0.6zM437 82.3h0.6v0.6h-0.6zM434.7 84.3h0.6v0.6h-0.6zM429.7 80h0.6v0.6h-0.6zM451.4 70.8h0.6v0.6h-0.6zM444.9 71.5h0.6v0.6h-0.6zM444.3 63.1h0.6v0.6h-0.6zM442.6 71h0.6v0.6h-0.6zM453.6 62.6h0.6v0.6h-0.6zM441.4 67.9h0.6v0.6h-0.6zM451.3 70.8h0.6v0.6h-0.6zM455.7 63.6h0.6v0.6h-0.6zM454.5 69.1h0.6v0.6h-0.6zM444.1 70.5h0.6v0.6h-0.6zM449.7 72.5h0.6v0.6h-0.6zM449.1 72.3h0.6v0.6h-0.6zM449.3 72.4h0.6v0.6h-0.6zM453.8 69.8h0.6v0.6h-0.6zM454.4 62.5h0.6v0.6h-0.6zM446.8 61.1h0.6v0.6h-0.6zM444 71.1h0.6v0.6h-0.6zM454.1 69.5h0.6v0.6h-0.6zM447.5 73.1h0.6v0.6h-0.6zM453.9 66.8h0.6v0.6h-0.6zM443.8 71.1h0.6v0.6h-0.6zM444.9 62.1h0.6v0.6h-0.6zM443.5 70.3h0.6v0.6h-0.6zM445.4 72.7h0.6v0.6h-0.6zM454.3 68h0.6v0.6h-0.6zM440.8 74.5h0.6v0.6h-0.6zM449.4 72.8h0.6v0.6h-0.6zM455.9 62.9h0.6v0.6h-0.6zM453.6 67.3h0.6v0.6h-0.6zM441.4 68h0.6v0.6h-0.6zM442.2 71.3h0.6v0.6h-0.6zM453.9 65.8h0.6v0.6h-0.6zM453.6 70.8h0.6v0.6h-0.6zM445.9 61.3h0.6v0.6h-0.6zM454.5 62.9h0.6v0.6h-0.6zM445.9 61.6h0.6v0.6h-0.6zM440.6 65.8h0.6v0.6h-0.6zM454.9 62.9h0.6v0.6h-0.6zM453.9 62.5h0.6v0.6h-0.6zM454.1 66.2h0.6v0.6h-0.6zM455.4 63h0.6v0.6h-0.6zM447.2 60.8h0.6v0.6h-0.6zM454.7 63.8h0.6v0.6h-0.6zM453.8 67.3h0.6v0.6h-0.6zM453.1 61.5h0.6v0.6h-0.6zM440.6 74.6h0.6v0.6h-0.6z" fill="#7e8ade"/>
<path d="M434.2 66.5h0.6v0.6h-0.6zM432.6 70.8h0.6v0.6h-0.6zM433.2 74.9h0.6v0.6h-0.6zM433.6 75.9h0.6v0.6h-0.6zM435.6 74.9h0.6v0.6h-0.6zM433.8 66.7h0.6v0.6h-0.6zM433.9 66.6h0.6v0.6h-0.6zM433.2 75.3h0.6v0.6h-0.6zM432.9 67h0.6v0.6h-0.6zM435.7 75.2h0.6v0.6h-0.6zM435.4 74.9h0.6v0.6h-0.6zM433.8 75.9h0.6v0.6h-0.6zM433.1 66.9h0.6v0.6h-0.6zM434.4 76.1h0.6v0.6h-0.6zM432.5 70.9h0.6v0.6h-0.6zM432.4 71.2h0.6v0.6h-0.6zM433.2 66.8h0.6v0.6h-0.6zM433 66.9h0.6v0.6h-0.6zM433.6 76.3h0.6v0.6h-0.6zM434.7 76.2h0.6v0.6h-0.6zM433.7 76h0.6v0.6h-0.6z" fill="#96d236"/>
<path d="M428.4 64.9h0.6v0.6h-0.6zM440.1 65.8h0.6v0.6h-0.6zM439.3 77.2h0.6v0.6h-0.6zM431.2 83.3h0.6v0.6h-0.6zM433.7 58.8h0.6v0.6h-0.6zM428.9 78.4h0.6v0.6h-0.6zM439.3 64h0.6v0.6h-0.6zM439.6 64.5h0.6v0.6h-0.6zM432.2 84.1h0.6v0.6h-0.6zM439.6 76.2h0.6v0.6h-0.6zM433.7 84.2h0.6v0.6h-0.6zM428.5 70.9h0.6v0.6h-0.6zM438.5 78.4h0.6v0.6h-0.6zM428.7 65.7h0.6v0.6h-0.6zM437.1 60.6h0.6v0.6h-0.6zM431.1 83.1h0.6v0.6h-0.6zM435.2 84.3h0.6v0.6h-0.6zM438.1 79.8h0.6v0.6h-0.6zM431.1 83.2h0.6v0.6h-0.6zM447.6 61.6h0.6v0.6h-0.6zM447.1 61.5h0.6v0.6h-0.6zM448.9 61.7h0.6v0.6h-0.6zM453.6 69.2h0.6v0.6h-0.6zM444.2 70.1h0.6v0.6h-0.6zM443 69.6h0.6v0.6h-0.6zM453.7 68h0.6v0.6h-0.6zM453.7 69.1h0.6v0.6h-0.6zM443.8 63.7h0.6v0.6h-0.6zM441.4 72h0.6v0.6h-0.6zM445.8 61.9h0.6v0.6h-0.6zM442.1 68.6h0.6v0.6h-0.6zM454 63.9h0.6v0.6h-0.6zM452.7 69.5h0.6v0.6h-0.6zM453.2 69.4h0.6v0.6h-0.6zM442.1 70.4h0.6v0.6h-0.6zM452.8 69.3h0.6v0.6h-0.6zM442.7 70.7h0.6v0.6h-0.6zM442.4 69.4h0.6v0.6h-0.6zM453.1 68.1h0.6v0.6h-0.6zM452.9 70h0.6v0.6h-0.6zM453.9 63.8h0.6v0.6h-0.6zM452.8 69.6h0.6v0.6h-0.6zM450.3 62.3h0.6v0.6h-0.6z" fill="#7e7ede"/>
<path d="M435.1 60.1h0.6v0.6h-0.6zM438.2 77.6h0.6v0.6h-0.6zM440.8 72.2h0.6v0.6h-0.6zM431.4 82.2h0.6v0.6h-0.6zM439.9 73h0.6v0.6h-0.6zM429.3 78.5h0.6v0.6h-0.6zM429.6 78.6h0.6v0.6h-0.6zM432.5 59.7h0.6v0.6h-0.6zM432.3 59.8h0.6v0.6h-0.6zM439.2 75.5h0.6v0.6h-0.6zM435.8 60.5h0.6v0.6h-0.6zM437 62.8h0.6v0.6h-0.6zM430.8 61.4h0.6v0.6h-0.6zM432.4 59.7h0.6v0.6h-0.6zM440.4 70.8h0.6v0.6h-0.6zM433.5 59.4h0.6v0.6h-0.6zM433.3 59.6h0.6v0.6h-0.6zM440.5 71.5h0.6v0.6h-0.6zM429.4 63.5h0.6v0.6h-0.6zM428.9 65.2h0.6v0.6h-0.6zM432.3 82.9h0.6v0.6h-0.6zM438.7 64.8h0.6v0.6h-0.6zM434.2 59.4h0.6v0.6h-0.6zM438 78.3h0.6v0.6h-0.6zM432.4 59.5h0.6v0.6h-0.6zM431.4 60.1h0.6v0.6h-0.6zM435.6 82.3h0.6v0.6h-0.6zM437.2 81.2h0.6v0.6h-0.6zM429.9 79.8h0.6v0.6h-0.6zM430.8 80.8h0.6v0.6h-0.6zM430.5 80.2h0.6v0.6h-0.6zM444.8 69h0.6v0.6h-0.6zM443.3 67h0.6v0.6h-0.6zM450.5 63.2h0.6v0.6h-0.6zM450.5 63.4h0.6v0.6h-0.6zM450.8 66.2h0.6v0.6h-0.6zM445.5 63.7h0.6v0.6h-0.6zM449.9 63.3h0.6v0.6h-0.6zM443.7 65h0.6v0.6h-0.6zM452.2 64.1h0.6v0.6h-0.6zM450.4 65.6h0.6v0.6h-0.6zM449.9 62.9h0.6v0.6h-0.6zM444.6 68.7h0.6v0.6h-0.6zM440 68.9h0.6v0.6h-0.6zM448.9 71h0.6v0.6h-0.6zM446.5 62.9h0.6v0.6h-0.6zM448.9 71.1h0.6v0.6h-0.6zM451.2 64.3h0.6v0.6h-0.6zM444.7 64h0.6v0.6h-0.6zM437 62.2h0.6v0.6h-0.6zM447.2 63.2h0.6v0.6h-0.6zM446.2 70.8h0.6v0.6h-0.6zM445.8 63.9h0.6v0.6h-0.6zM450.4 63.5h0.6v0.6h-0.6zM452.1 64.8h0.6v0.6h-0.6zM449.6 70.6h0.6v0.6h-0.6zM450.9 63.8h0.6v0.6h-0.6zM451.8 65.2h0.6v0.6h-0.6zM449.4 63.2h0.6v0.6h-0.6zM448.5 63.1h0.6v0.6h-0.6zM443.9 64.7h0.6v0.6h-0.6zM450.1 69.7h0.6v0.6h-0.6zM446.7 63.5h0.6v0.6h-0.6zM452.3 64.9h0.6v0.6h-0.6zM446.3 71.2h0.6v0.6h-0.6zM450.4 65.4h0.6v0.6h-0.6zM445.6 63.6h0.6v0.6h-0.6zM450.6 69.1h0.6v0.6h-0.6zM447.2 71.3h0.6v0.6h-0.6zM443.6 64.8h0.6v0.6h-0.6zM444.3 65h0.6v0.6h-0.6zM439.9 69h0.6v0.6h-0.6zM451.3 64.5h0.6v0.6h-0.6zM446.7 63.2h0.6v0.6h-0.6zM451 63.8h0.6v0.6h-0.6zM436.9 62.7h0.6v0.6h-0.6zM449.8 69.8h0.6v0.6h-0.6zM444.2 64.8h0.6v0.6h-0.6zM443.5 65.3h0.6v0.6h-0.6zM440.4 69.7h0.6v0.6h-0.6zM448 62.9h0.6v0.6h-0.6zM449.6 62.9h0.6v0.6h-0.6zM451.2 64.8h0.6v0.6h-0.6zM449.6 63.2h0.6v0.6h-0.6z" fill="#6672d2"/>
<path d="M437 68h0.6v0.6h-0.6zM432.7 65.7h0.6v0.6h-0.6zM434.7 78h0.6v0.6h-0.6zM436.5 75h0.6v0.6h-0.6zM431.4 74.6h0.6v0.6h-0.6zM434.9 65h0.6v0.6h-0.6zM436.4 75.1h0.6v0.6h-0.6zM431.7 74.7h0.6v0.6h-0.6zM432.8 65.2h0.6v0.6h-0.6zM435.8 65.9h0.6v0.6h-0.6zM436.6 75.2h0.6v0.6h-0.6zM434.3 77.9h0.6v0.6h-0.6zM431.6 74.7h0.6v0.6h-0.6zM436 65.9h0.6v0.6h-0.6zM435.1 65h0.6v0.6h-0.6zM433.1 65h0.6v0.6h-0.6zM433 64.9h0.6v0.6h-0.6zM432.8 65.6h0.6v0.6h-0.6zM437 73.6h0.6v0.6h-0.6zM431.6 72.1h0.6v0.6h-0.6zM432.9 65h0.6v0.6h-0.6zM434.8 65.1h0.6v0.6h-0.6zM434.5 77.9h0.6v0.6h-0.6zM434.3 77.8h0.6v0.6h-0.6zM436.9 68.3h0.6v0.6h-0.6zM437 73.6h0.6v0.6h-0.6zM436.7 75h0.6v0.6h-0.6z" fill="#2aaeba"/>
<path d="M433.5 66.5h0.6v0.6h-0.6zM433 75.6h0.6v0.6h-0.6zM433.6 66.5h0.6v0.6h-0.6zM432.4 71.4h0.6v0.6h-0.6zM433.3 66.7h0.6v0.6h-0.6zM433 75.5h0.6v0.6h-0.6zM432.5 71.3h0.6v0.6h-0.6zM433.1 75.6h0.6v0.6h-0.6zM433.4 66.7h0.6v0.6h-0.6zM432.7 71.5h0.6v0.6h-0.6z" fill="#7ed236"/>
<path d="M432.5 67.8h0.6v0.6h-0.6zM436.1 74.3h0.6v0.6h-0.6zM435.9 68h0.6v0.6h-0.6zM432.7 67.8h0.6v0.6h-0.6zM432.4 67.6h0.6v0.6h-0.6zM432.5 67.3h0.6v0.6h-0.6zM436.1 73.8h0.6v0.6h-0.6z" fill="#8ad236"/>
<path d="M435.8 69.3h0.6v0.6h-0.6zM436.1 72.2h0.6v0.6h-0.6zM435.4 74.7h0.6v0.6h-0.6zM435.9 72.2h0.6v0.6h-0.6zM435.5 74.4h0.6v0.6h-0.6zM433.8 67.1h0.6v0.6h-0.6zM434.7 75.4h0.6v0.6h-0.6zM433.3 72.1h0.6v0.6h-0.6zM435.9 72.4h0.6v0.6h-0.6zM435.9 69.2h0.6v0.6h-0.6zM433.4 66.8h0.6v0.6h-0.6zM436.2 71.8h0.6v0.6h-0.6zM434.8 75.4h0.6v0.6h-0.6zM435.6 74.4h0.6v0.6h-0.6zM432.4 70.3h0.6v0.6h-0.6zM433.7 66.9h0.6v0.6h-0.6zM435.6 74.4h0.6v0.6h-0.6zM433 71.9h0.6v0.6h-0.6zM433.2 71.9h0.6v0.6h-0.6zM436 69h0.6v0.6h-0.6zM435.8 69h0.6v0.6h-0.6zM436 68.9h0.6v0.6h-0.6zM436.2 72.2h0.6v0.6h-0.6zM434.7 75.4h0.6v0.6h-0.6z" fill="#c6de2a"/>
<path d="M433.1 62.1h0.6v0.6h-0.6zM434.9 62.8h0.6v0.6h-0.6zM430.5 76.1h0.6v0.6h-0.6zM437.4 65.9h0.6v0.6h-0.6zM434.9 62.8h0.6v0.6h-0.6zM438.6 71.5h0.6v0.6h-0.6zM437.7 66.1h0.6v0.6h-0.6zM435 80.7h0.6v0.6h-0.6zM430 73.1h0.6v0.6h-0.6zM430.6 66h0.6v0.6h-0.6zM438.6 70.3h0.6v0.6h-0.6zM435.9 64.1h0.6v0.6h-0.6zM433 62h0.6v0.6h-0.6zM433.3 62.1h0.6v0.6h-0.6zM430.9 77.4h0.6v0.6h-0.6zM435.5 63.8h0.6v0.6h-0.6zM438.7 69.4h0.6v0.6h-0.6zM435.1 63.3h0.6v0.6h-0.6zM432.4 62.1h0.6v0.6h-0.6zM435.6 80.2h0.6v0.6h-0.6zM436.7 77h0.6v0.6h-0.6zM436.6 64.4h0.6v0.6h-0.6zM431.3 63.4h0.6v0.6h-0.6zM431.1 63.4h0.6v0.6h-0.6zM438 73.6h0.6v0.6h-0.6zM430.5 76h0.6v0.6h-0.6zM438.5 70.6h0.6v0.6h-0.6zM433 80.7h0.6v0.6h-0.6zM430.7 66.7h0.6v0.6h-0.6zM437.4 65.9h0.6v0.6h-0.6zM430.3 74.1h0.6v0.6h-0.6zM437.9 73.9h0.6v0.6h-0.6zM438.5 71.4h0.6v0.6h-0.6zM438.5 70.2h0.6v0.6h-0.6zM431.4 78.2h0.6v0.6h-0.6zM431 77.5h0.6v0.6h-0.6zM434.6 80.6h0.6v0.6h-0.6zM430.9 77.7h0.6v0.6h-0.6zM434.6 80.6h0.6v0.6h-0.6zM434.6 80.7h0.6v0.6h-0.6zM435.9 78.3h0.6v0.6h-0.6zM430.5 76.2h0.6v0.6h-0.6zM430.2 73.8h0.6v0.6h-0.6zM438.6 70.1h0.6v0.6h-0.6zM437.7 65.8h0.6v0.6h-0.6zM438.5 71.4h0.6v0.6h-0.6zM435.1 80.5h0.6v0.6h-0.6z" fill="#3642ba"/>
<path d="M432.4 75.8h0.6v0.6h-0.6zM432 72.7h0.6v0.6h-0.6zM431.8 74.2h0.6v0.6h-0.6zM436.7 74.1h0.6v0.6h-0.6zM434.8 77.1h0.6v0.6h-0.6zM432 73.1h0.6v0.6h-0.6zM436.5 73.9h0.6v0.6h-0.6zM436.7 73.8h0.6v0.6h-0.6zM435.3 76.5h0.6v0.6h-0.6zM433.9 65.6h0.6v0.6h-0.6zM432.1 72.7h0.6v0.6h-0.6zM436.5 74.1h0.6v0.6h-0.6zM433.1 66.2h0.6v0.6h-0.6zM435.1 76.6h0.6v0.6h-0.6zM434.4 77h0.6v0.6h-0.6zM431.8 71.8h0.6v0.6h-0.6zM432.3 75.9h0.6v0.6h-0.6zM433.9 65.4h0.6v0.6h-0.6zM432.8 76.3h0.6v0.6h-0.6zM432.6 76.3h0.6v0.6h-0.6zM432.4 75.8h0.6v0.6h-0.6z" fill="#42c67e"/>
<path d="M434.2 71.9h0.6v0.6h-0.6zM433.9 68.6h0.6v0.6h-0.6zM435 69.6h0.6v0.6h-0.6zM435 69.3h0.6v0.6h-0.6zM433.7 70h0.6v0.6h-0.6zM433.8 70.2h0.6v0.6h-0.6zM433.8 70.3h0.6v0.6h-0.6zM434 72.1h0.6v0.6h-0.6zM434.4 72.5h0.6v0.6h-0.6zM433.6 70.2h0.6v0.6h-0.6zM434.1 72.2h0.6v0.6h-0.6zM433.9 68.5h0.6v0.6h-0.6zM434.8 69.5h0.6v0.6h-0.6zM433.5 69h0.6v0.6h-0.6zM434.6 72.7h0.6v0.6h-0.6zM434 68.4h0.6v0.6h-0.6zM434.8 72.7h0.6v0.6h-0.6zM434.1 72.2h0.6v0.6h-0.6zM434.6 72.7h0.6v0.6h-0.6zM433.5 70.5h0.6v0.6h-0.6zM433.4 69.2h0.6v0.6h-0.6zM434 68.7h0.6v0.6h-0.6zM433.6 70.6h0.6v0.6h-0.6zM433.5 70h0.6v0.6h-0.6zM433.8 70h0.6v0.6h-0.6z" fill="#eaa21e"/>
<path d="M436.9 66.6h0.6v0.6h-0.6zM434.6 63.8h0.6v0.6h-0.6zM436.7 76.1h0.6v0.6h-0.6zM437.6 73.3h0.6v0.6h-0.6zM432.6 63.4h0.6v0.6h-0.6zM436.6 76h0.6v0.6h-0.6zM431.5 65.5h0.6v0.6h-0.6zM433.8 63.6h0.6v0.6h-0.6zM432 63.9h0.6v0.6h-0.6zM433.6 63.5h0.6v0.6h-0.6zM431.2 74.9h0.6v0.6h-0.6zM434.2 79.4h0.6v0.6h-0.6zM431.8 65.9h0.6v0.6h-0.6zM431.8 64.1h0.6v0.6h-0.6zM436 64.9h0.6v0.6h-0.6zM432.6 63.4h0.6v0.6h-0.6zM431.9 64h0.6v0.6h-0.6zM437 75.3h0.6v0.6h-0.6zM433.3 63.7h0.6v0.6h-0.6zM432.3 63.9h0.6v0.6h-0.6zM431 75.1h0.6v0.6h-0.6zM432.1 77.3h0.6v0.6h-0.6zM430.9 75h0.6v0.6h-0.6zM437.4 73.5h0.6v0.6h-0.6zM437.6 68.1h0.6v0.6h-0.6z" fill="#2a7ed2"/>
<path d="M435.3 58.3h0.6v0.6h-0.6zM440.3 76.7h0.6v0.6h-0.6zM430.4 83.7h0.6v0.6h-0.6zM433.6 58.1h0.6v0.6h-0.6zM431.8 57.8h0.6v0.6h-0.6zM428.1 65.5h0.6v0.6h-0.6zM436.9 82.7h0.6v0.6h-0.6zM436.5 59h0.6v0.6h-0.6zM428 67.5h0.6v0.6h-0.6zM430.4 82.8h0.6v0.6h-0.6zM428.7 78.3h0.6v0.6h-0.6zM440.2 75.9h0.6v0.6h-0.6zM427.8 68.3h0.6v0.6h-0.6zM428.2 66.3h0.6v0.6h-0.6zM428.2 72.3h0.6v0.6h-0.6zM431.3 58.3h0.6v0.6h-0.6zM435.5 84.7h0.6v0.6h-0.6zM436.8 82.7h0.6v0.6h-0.6zM431.5 84.3h0.6v0.6h-0.6zM431.9 84.3h0.6v0.6h-0.6zM442.3 64.5h0.6v0.6h-0.6zM457.1 63.6h0.6v0.6h-0.6zM451 71.6h0.6v0.6h-0.6zM443.4 62.7h0.6v0.6h-0.6zM447.8 74.2h0.6v0.6h-0.6zM440.4 64.1h0.6v0.6h-0.6zM448.7 60.6h0.6v0.6h-0.6zM456 62.5h0.6v0.6h-0.6zM453.3 71.2h0.6v0.6h-0.6zM440.5 64.6h0.6v0.6h-0.6zM441.5 67.1h0.6v0.6h-0.6zM456.7 65.4h0.6v0.6h-0.6zM448.6 60.4h0.6v0.6h-0.6zM440.5 64h0.6v0.6h-0.6zM456.3 62.1h0.6v0.6h-0.6zM453.4 71.7h0.6v0.6h-0.6zM453 60.6h0.6v0.6h-0.6zM440.8 64h0.6v0.6h-0.6zM455.9 64.9h0.6v0.6h-0.6zM453.4 61.7h0.6v0.6h-0.6zM457.2 63.4h0.6v0.6h-0.6zM445.7 72.9h0.6v0.6h-0.6zM441 74h0.6v0.6h-0.6zM441.5 67.2h0.6v0.6h-0.6zM449.1 73h0.6v0.6h-0.6zM444 62.3h0.6v0.6h-0.6zM452.6 60.3h0.6v0.6h-0.6zM452.3 71.6h0.6v0.6h-0.6zM448.2 60.5h0.6v0.6h-0.6zM457 63.6h0.6v0.6h-0.6zM453.8 61.3h0.6v0.6h-0.6zM441.9 64.8h0.6v0.6h-0.6zM455.9 64.8h0.6v0.6h-0.6zM454.4 70h0.6v0.6h-0.6zM454.5 66.9h0.6v0.6h-0.6zM451.8 71.4h0.6v0.6h-0.6zM452.2 61.1h0.6v0.6h-0.6zM440.8 64.8h0.6v0.6h-0.6zM442.7 72.2h0.6v0.6h-0.6zM452.5 60.9h0.6v0.6h-0.6zM456.6 64.4h0.6v0.6h-0.6zM451.7 60.9h0.6v0.6h-0.6zM452.7 72h0.6v0.6h-0.6zM444.7 71.5h0.6v0.6h-0.6zM455.8 64.5h0.6v0.6h-0.6zM442.4 71.8h0.6v0.6h-0.6zM452.6 60.6h0.6v0.6h-0.6zM452.5 60.5h0.6v0.6h-0.6zM457.1 64.5h0.6v0.6h-0.6zM446.9 73.5h0.6v0.6h-0.6zM457.3 64.7h0.6v0.6h-0.6zM452.4 71.6h0.6v0.6h-0.6zM454.4 61.9h0.6v0.6h-0.6zM455.4 64.6h0.6v0.6h-0.6zM449.7 61.1h0.6v0.6h-0.6z" fill="#8a8ade"/>
<path d="M433.7 72.3h0.6v0.6h-0.6zM434.4 67.7h0.6v0.6h-0.6zM435.8 73.4h0.6v0.6h-0.6zM434.4 67.7h0.6v0.6h-0.6zM434.2 74.5h0.6v0.6h-0.6zM433.9 73.9h0.6v0.6h-0.6zM434.7 67.4h0.6v0.6h-0.6zM434.7 74.7h0.6v0.6h-0.6zM435.6 73.3h0.6v0.6h-0.6zM434.2 74.2h0.6v0.6h-0.6zM435.3 68.6h0.6v0.6h-0.6zM434.2 74.4h0.6v0.6h-0.6zM435.2 74.5h0.6v0.6h-0.6zM434.4 74.6h0.6v0.6h-0.6zM433.1 70.7h0.6v0.6h-0.6zM435.6 68.6h0.6v0.6h-0.6zM433.1 68h0.6v0.6h-0.6zM433.4 67.5h0.6v0.6h-0.6zM433.4 67.6h0.6v0.6h-0.6zM435.3 74.7h0.6v0.6h-0.6zM434.9 74.4h0.6v0.6h-0.6zM434.4 74.7h0.6v0.6h-0.6zM433.8 72.3h0.6v0.6h-0.6zM434 74.5h0.6v0.6h-0.6zM434.1 74.1h0.6v0.6h-0.6zM433 70.3h0.6v0.6h-0.6zM434.9 74.7h0.6v0.6h-0.6zM433.1 70.4h0.6v0.6h-0.6zM433 70.7h0.6v0.6h-0.6zM433.2 70.6h0.6v0.6h-0.6zM435.3 73.2h0.6v0.6h-0.6zM432.9 68.3h0.6v0.6h-0.6zM435.7 73.4h0.6v0.6h-0.6zM434.3 74.7h0.6v0.6h-0.6zM435.4 73h0.6v0.6h-0.6zM435.2 74.6h0.6v0.6h-0.6zM434.2 74h0.6v0.6h-0.6zM435.7 73h0.6v0.6h-0.6zM435.7 72.9h0.6v0.6h-0.6zM432.9 70.7h0.6v0.6h-0.6zM435.1 74.6h0.6v0.6h-0.6z" fill="#ead22a"/>
<path d="M435.9 74.7h0.6v0.6h-0.6zM436.6 70.5h0.6v0.6h-0.6zM433.5 76.6h0.6v0.6h-0.6zM433.4 76.4h0.6v0.6h-0.6zM435.8 74.5h0.6v0.6h-0.6zM433.6 76.5h0.6v0.6h-0.6zM435.9 74.8h0.6v0.6h-0.6zM436.3 74.5h0.6v0.6h-0.6zM436.3 74.8h0.6v0.6h-0.6zM436.3 70.5h0.6v0.6h-0.6zM436.1 74.3h0.6v0.6h-0.6zM432.4 73.9h0.6v0.6h-0.6zM436.6 68.8h0.6v0.6h-0.6zM433.8 76.7h0.6v0.6h-0.6zM436.8 70.4h0.6v0.6h-0.6zM436.6 68.9h0.6v0.6h-0.6zM432.3 74.1h0.6v0.6h-0.6zM432.5 74.3h0.6v0.6h-0.6zM432.3 74h0.6v0.6h-0.6z" fill="#66d242"/>
<path d="M432.5 69.1h0.6v0.6h-0.6zM435.2 67.8h0.6v0.6h-0.6zM435.7 74.2h0.6v0.6h-0.6zM435.3 73.9h0.6v0.6h-0.6zM432.6 69.2h0.6v0.6h-0.6zM435.3 67.8h0.6v0.6h-0.6zM432.4 69.1h0.6v0.6h-0.6zM433.3 74.2h0.6v0.6h-0.6zM435.2 67.7h0.6v0.6h-0.6zM432.4 68.9h0.6v0.6h-0.6zM432.8 69.1h0.6v0.6h-0.6zM433.6 74.1h0.6v0.6h-0.6zM433.3 74h0.6v0.6h-0.6zM435.3 73.9h0.6v0.6h-0.6zM435.8 74.3h0.6v0.6h-0.6zM432.7 69.2h0.6v0.6h-0.6zM433.2 71.3h0.6v0.6h-0.6zM433.6 74.3h0.6v0.6h-0.6zM432.7 69.2h0.6v0.6h-0.6z" fill="#dede2a"/>
<path d="M437 56.3h0.6v0.6h-0.6zM438.9 56.9h0.6v0.6h-0.6zM427 63.8h0.6v0.6h-0.6zM427 71.7h0.6v0.6h-0.6zM426.9 69.4h0.6v0.6h-0.6zM427.9 81h0.6v0.6h-0.6zM433 89.8h0.6v0.6h-0.6zM428.5 82.2h0.6v0.6h-0.6zM449.6 76.8h0.6v0.6h-0.6zM447.1 77.6h0.6v0.6h-0.6zM452.3 56.4h0.6v0.6h-0.6zM454.3 75.8h0.6v0.6h-0.6zM444.4 57.7h0.6v0.6h-0.6zM458.9 72.6h0.6v0.6h-0.6zM443.8 57.4h0.6v0.6h-0.6zM444.4 75.9h0.6v0.6h-0.6zM439.2 56.8h0.6v0.6h-0.6zM448.4 77.8h0.6v0.6h-0.6zM452.8 75.7h0.6v0.6h-0.6zM443 58h0.6v0.6h-0.6zM462.1 60.4h0.6v0.6h-0.6zM460.4 64.5h0.6v0.6h-0.6zM456.1 57.4h0.6v0.6h-0.6zM462.7 69.8h0.6v0.6h-0.6zM462.1 60.9h0.6v0.6h-0.6zM461.9 61.5h0.6v0.6h-0.6zM460.9 71.9h0.6v0.6h-0.6zM464.4 62h0.6v0.6h-0.6zM458.8 59h0.6v0.6h-0.6zM460.9 71.7h0.6v0.6h-0.6zM465.1 63h0.6v0.6h-0.6zM462.3 70h0.6v0.6h-0.6zM459.3 72.6h0.6v0.6h-0.6zM455.8 74.1h0.6v0.6h-0.6zM462.5 61.2h0.6v0.6h-0.6z" fill="#a2aeea"/>
<path d="M434.3 65.2h0.6v0.6h-0.6zM434.6 65h0.6v0.6h-0.6zM433.3 65.3h0.6v0.6h-0.6zM433.8 77.9h0.6v0.6h-0.6zM433.3 77.7h0.6v0.6h-0.6zM434.2 77.9h0.6v0.6h-0.6zM437.1 72.5h0.6v0.6h-0.6zM433.9 78h0.6v0.6h-0.6zM433 77.7h0.6v0.6h-0.6zM434.2 78.1h0.6v0.6h-0.6zM434.2 78.2h0.6v0.6h-0.6zM434.6 65.3h0.6v0.6h-0.6z" fill="#36baae"/>
<path d="M438 64.3h0.6v0.6h-0.6zM431.4 60.9h0.6v0.6h-0.6zM437.8 64.6h0.6v0.6h-0.6zM429.2 73.6h0.6v0.6h-0.6zM430.6 78.9h0.6v0.6h-0.6zM431.8 61.3h0.6v0.6h-0.6zM431.3 80.2h0.6v0.6h-0.6zM431.7 61h0.6v0.6h-0.6zM430.4 79.1h0.6v0.6h-0.6zM429.7 65.1h0.6v0.6h-0.6zM446.3 66.3h0.6v0.6h-0.6zM447.6 66.3h0.6v0.6h-0.6zM445.6 65.8h0.6v0.6h-0.6zM444.7 66.6h0.6v0.6h-0.6zM448.6 67.5h0.6v0.6h-0.6zM446.4 65.9h0.6v0.6h-0.6zM445.1 65.4h0.6v0.6h-0.6zM448.8 67.2h0.6v0.6h-0.6zM447.9 66.4h0.6v0.6h-0.6zM448.5 70.5h0.6v0.6h-0.6zM446.7 66.1h0.6v0.6h-0.6zM448.5 67.5h0.6v0.6h-0.6zM448 66.7h0.6v0.6h-0.6zM448.4 70.5h0.6v0.6h-0.6zM447.8 66.4h0.6v0.6h-0.6zM445.9 66.7h0.6v0.6h-0.6zM448 66.4h0.6v0.6h-0.6zM445 67.3h0.6v0.6h-0.6zM447.3 66.7h0.6v0.6h-0.6zM444.4 66.4h0.6v0.6h-0.6z" fill="#5a5ad2"/>
<path d="M434.8 80h0.6v0.6h-0.6zM436.7 76.7h0.6v0.6h-0.6zM436.1 64.6h0.6v0.6h-0.6zM430.8 70.7h0.6v0.6h-0.6zM432.3 62.3h0.6v0.6h-0.6zM431.2 76.5h0.6v0.6h-0.6zM431.2 65.7h0.6v0.6h-0.6zM430.9 65.7h0.6v0.6h-0.6zM438.1 72.5h0.6v0.6h-0.6zM433.3 62.4h0.6v0.6h-0.6zM430.8 67.7h0.6v0.6h-0.6zM430.8 70.8h0.6v0.6h-0.6zM431.8 63h0.6v0.6h-0.6zM430.5 68h0.6v0.6h-0.6zM436.5 65.2h0.6v0.6h-0.6zM436.7 65.2h0.6v0.6h-0.6zM430.8 69.6h0.6v0.6h-0.6zM430.3 71.2h0.6v0.6h-0.6zM430.4 68h0.6v0.6h-0.6zM435.4 64h0.6v0.6h-0.6zM430.3 71.6h0.6v0.6h-0.6zM431.6 63.5h0.6v0.6h-0.6zM433 62.5h0.6v0.6h-0.6zM435.8 79h0.6v0.6h-0.6zM436.4 76.5h0.6v0.6h-0.6zM437.8 68.7h0.6v0.6h-0.6zM437.8 74.4h0.6v0.6h-0.6zM437.4 67.1h0.6v0.6h-0.6zM431 76.5h0.6v0.6h-0.6zM430.5 71.1h0.6v0.6h-0.6zM437.8 74.4h0.6v0.6h-0.6zM434.5 79.9h0.6v0.6h-0.6zM432.4 62.6h0.6v0.6h-0.6zM435.4 79h0.6v0.6h-0.6zM437.6 74.7h0.6v0.6h-0.6zM433.8 80.3h0.6v0.6h-0.6zM430.8 69.6h0.6v0.6h-0.6zM432.7 62.6h0.6v0.6h-0.6zM434.4 79.9h0.6v0.6h-0.6zM431.4 63.4h0.6v0.6h-0.6z" fill="#365ac6"/>
<path d="M433.2 66.3h0.6v0.6h-0.6zM432.7 75.2h0.6v0.6h-0.6zM436.6 68.4h0.6v0.6h-0.6zM432.4 75.1h0.6v0.6h-0.6zM433.2 66.7h0.6v0.6h-0.6zM436.4 68.3h0.6v0.6h-0.6zM434.3 65.8h0.6v0.6h-0.6zM434 66.2h0.6v0.6h-0.6zM434.6 66.1h0.6v0.6h-0.6zM436.4 68.4h0.6v0.6h-0.6zM432.5 74.8h0.6v0.6h-0.6zM436.4 68.8h0.6v0.6h-0.6zM434.3 66.1h0.6v0.6h-0.6zM433 66.3h0.6v0.6h-0.6zM436.3 68.3h0.6v0.6h-0.6zM436.5 68.7h0.6v0.6h-0.6z" fill="#5ac64e"/>
<path d="M426.2 75.7h0.6v0.6h-0.6zM442.2 78.4h0.6v0.6h-0.6zM428.2 57.9h0.6v0.6h-0.6zM426.7 63h0.6v0.6h-0.6zM439 56.7h0.6v0.6h-0.6zM430.4 55.5h0.6v0.6h-0.6zM440.8 56.4h0.6v0.6h-0.6zM433.7 55.8h0.6v0.6h-0.6zM428.4 58.6h0.6v0.6h-0.6zM436.3 52.4h0.6v0.6h-0.6zM431.4 89.1h0.6v0.6h-0.6zM433.1 89.8h0.6v0.6h-0.6zM437.2 87h0.6v0.6h-0.6zM430.5 88.9h0.6v0.6h-0.6zM433.5 90.1h0.6v0.6h-0.6zM450 78.3h0.6v0.6h-0.6zM453.3 77.6h0.6v0.6h-0.6zM455.5 55.2h0.6v0.6h-0.6zM459.7 56.3h0.6v0.6h-0.6zM444.8 76.6h0.6v0.6h-0.6zM447.3 78.8h0.6v0.6h-0.6zM445.8 56h0.6v0.6h-0.6zM455.1 76h0.6v0.6h-0.6zM459.2 58.6h0.6v0.6h-0.6zM449.7 55.7h0.6v0.6h-0.6zM442.7 57h0.6v0.6h-0.6zM441.4 78.5h0.6v0.6h-0.6zM440 56.1h0.6v0.6h-0.6zM448.5 78.3h0.6v0.6h-0.6zM447.5 56.7h0.6v0.6h-0.6zM463.4 69.9h0.6v0.6h-0.6zM463 68.2h0.6v0.6h-0.6zM455.9 57.1h0.6v0.6h-0.6zM465.4 62h0.6v0.6h-0.6zM457.4 74h0.6v0.6h-0.6zM462.7 65.5h0.6v0.6h-0.6zM463.8 61h0.6v0.6h-0.6zM461.8 57.4h0.6v0.6h-0.6zM456.3 55.4h0.6v0.6h-0.6zM452.4 56h0.6v0.6h-0.6zM465.7 64h0.6v0.6h-0.6zM462.8 62.3h0.6v0.6h-0.6zM462.9 58.8h0.6v0.6h-0.6zM464.5 68.7h0.6v0.6h-0.6zM462.1 71.6h0.6v0.6h-0.6zM462.4 55.5h0.6v0.6h-0.6zM460.9 73.8h0.6v0.6h-0.6zM461.4 55.6h0.6v0.6h-0.6zM466.1 63.2h0.6v0.6h-0.6zM463.3 55.7h0.6v0.6h-0.6zM450.9 55.1h0.6v0.6h-0.6zM462.7 59.3h0.6v0.6h-0.6zM463 64.2h0.6v0.6h-0.6zM468.3 69.4h0.6v0.6h-0.6zM462.9 67.2h0.6v0.6h-0.6zM460.6 77.5h0.6v0.6h-0.6zM459.6 57.1h0.6v0.6h-0.6zM460.8 58.7h0.6v0.6h-0.6zM469.3 69.6h0.6v0.6h-0.6zM451.4 77.4h0.6v0.6h-0.6zM451.6 54.8h0.6v0.6h-0.6zM469 69.5h0.6v0.6h-0.6zM436.2 52.4h0.6v0.6h-0.6zM460.1 74.3h0.6v0.6h-0.6zM466.1 63.3h0.6v0.6h-0.6zM436 56.3h0.6v0.6h-0.6zM462.7 55.7h0.6v0.6h-0.6z" fill="#aeaeea"/>
<path d="M436.6 72.6h0.6v0.6h-0.6zM436.7 72.7h0.6v0.6h-0.6zM431.9 70.5h0.6v0.6h-0.6zM436.4 72.5h0.6v0.6h-0.6zM432 70.7h0.6v0.6h-0.6zM436.5 73h0.6v0.6h-0.6zM436.6 72.4h0.6v0.6h-0.6zM436.5 73h0.6v0.6h-0.6zM432 70.6h0.6v0.6h-0.6zM431.9 70.8h0.6v0.6h-0.6zM436.4 72.6h0.6v0.6h-0.6zM432.5 67.1h0.6v0.6h-0.6z" fill="#5ac65a"/>
<path d="M436.5 73.4h0.6v0.6h-0.6zM436.8 73.4h0.6v0.6h-0.6zM436.7 73.6h0.6v0.6h-0.6zM432.1 67.4h0.6v0.6h-0.6zM436.6 67.8h0.6v0.6h-0.6zM432.2 67.5h0.6v0.6h-0.6zM436.6 68.2h0.6v0.6h-0.6zM432.2 67.6h0.6v0.6h-0.6zM432.3 67.6h0.6v0.6h-0.6zM436.7 68.1h0.6v0.6h-0.6zM436.4 67.9h0.6v0.6h-0.6zM436.6 73.8h0.6v0.6h-0.6zM432 67.5h0.6v0.6h-0.6zM436.3 73.4h0.6v0.6h-0.6z" fill="#4ec672"/>
<path d="M436.4 84.1h0.6v0.6h-0.6zM436.5 84.1h0.6v0.6h-0.6zM436 58.7h0.6v0.6h-0.6zM431.2 84.4h0.6v0.6h-0.6zM427.4 75.2h0.6v0.6h-0.6zM436.6 58.5h0.6v0.6h-0.6zM432.1 57.7h0.6v0.6h-0.6zM430.1 82.6h0.6v0.6h-0.6zM433.3 57.7h0.6v0.6h-0.6zM442.2 73.1h0.6v0.6h-0.6zM436.4 83.8h0.6v0.6h-0.6zM430.3 60.1h0.6v0.6h-0.6zM435.3 58h0.6v0.6h-0.6zM436.7 58.5h0.6v0.6h-0.6zM428.7 79.4h0.6v0.6h-0.6zM448 59.8h0.6v0.6h-0.6zM456.2 69.7h0.6v0.6h-0.6zM455.9 68.3h0.6v0.6h-0.6zM452.6 59.4h0.6v0.6h-0.6zM444.9 72.8h0.6v0.6h-0.6zM446.3 73.4h0.6v0.6h-0.6zM457.2 61.9h0.6v0.6h-0.6zM458 63.2h0.6v0.6h-0.6zM446.5 60.4h0.6v0.6h-0.6zM439.3 62.1h0.6v0.6h-0.6zM438.7 61.2h0.6v0.6h-0.6zM439.1 62.7h0.6v0.6h-0.6zM448.1 74.2h0.6v0.6h-0.6zM453.1 72h0.6v0.6h-0.6zM455.3 68.8h0.6v0.6h-0.6zM452 71.9h0.6v0.6h-0.6zM447.2 74.3h0.6v0.6h-0.6zM455.6 67.4h0.6v0.6h-0.6zM443.1 62.4h0.6v0.6h-0.6zM441.3 73.6h0.6v0.6h-0.6zM448.1 74h0.6v0.6h-0.6zM451.7 72.7h0.6v0.6h-0.6zM457 67h0.6v0.6h-0.6zM455 60.8h0.6v0.6h-0.6zM442 62.9h0.6v0.6h-0.6zM457.7 66h0.6v0.6h-0.6zM452.9 59.8h0.6v0.6h-0.6zM454.1 72.3h0.6v0.6h-0.6zM455.4 66.9h0.6v0.6h-0.6zM451.4 60h0.6v0.6h-0.6zM455.6 61.6h0.6v0.6h-0.6zM457.4 62.1h0.6v0.6h-0.6zM457.7 66.4h0.6v0.6h-0.6zM457.4 65.7h0.6v0.6h-0.6zM455.6 70.2h0.6v0.6h-0.6zM455.4 67.6h0.6v0.6h-0.6zM456.2 66.1h0.6v0.6h-0.6zM458.3 63.6h0.6v0.6h-0.6zM455.8 69.6h0.6v0.6h-0.6z" fill="#8a96de"/>
<path d="M430.5 65.8h0.6v0.6h-0.6zM430.1 71.7h0.6v0.6h-0.6zM436.3 77.4h0.6v0.6h-0.6zM430.3 74.7h0.6v0.6h-0.6zM432.1 62.1h0.6v0.6h-0.6zM430.5 64.6h0.6v0.6h-0.6zM432.3 62.8h0.6v0.6h-0.6zM430.6 64.6h0.6v0.6h-0.6zM430.3 76.6h0.6v0.6h-0.6zM431.8 62.3h0.6v0.6h-0.6zM438.8 72.6h0.6v0.6h-0.6zM430.4 76.5h0.6v0.6h-0.6zM434.2 81h0.6v0.6h-0.6zM433.8 81.1h0.6v0.6h-0.6zM431.7 62.5h0.6v0.6h-0.6zM438 67h0.6v0.6h-0.6zM431.9 62.7h0.6v0.6h-0.6zM434.3 62.1h0.6v0.6h-0.6zM436.8 76.6h0.6v0.6h-0.6zM431.4 78.6h0.6v0.6h-0.6zM433.5 81.1h0.6v0.6h-0.6zM431.6 78.6h0.6v0.6h-0.6zM431.9 62.3h0.6v0.6h-0.6zM433.7 80.9h0.6v0.6h-0.6zM438.4 72.4h0.6v0.6h-0.6zM431.8 62.5h0.6v0.6h-0.6zM430.3 65h0.6v0.6h-0.6zM429.9 72.3h0.6v0.6h-0.6zM434 61.9h0.6v0.6h-0.6zM430.3 68.5h0.6v0.6h-0.6zM438.7 72.7h0.6v0.6h-0.6zM429.9 71.4h0.6v0.6h-0.6zM430 71.8h0.6v0.6h-0.6zM434.7 81h0.6v0.6h-0.6zM431.6 78.7h0.6v0.6h-0.6zM430.3 71.8h0.6v0.6h-0.6z" fill="#3642c6"/>
<path d="M433.5 73.6h0.6v0.6h-0.6zM432.9 70.8h0.6v0.6h-0.6zM433.9 74.9h0.6v0.6h-0.6zM434.4 75.2h0.6v0.6h-0.6zM434.1 74.9h0.6v0.6h-0.6zM432.8 71.3h0.6v0.6h-0.6zM434 74.9h0.6v0.6h-0.6zM434.2 74.9h0.6v0.6h-0.6zM434.5 75.3h0.6v0.6h-0.6zM433.7 73.2h0.6v0.6h-0.6zM433.7 73.2h0.6v0.6h-0.6z" fill="#eade2a"/>
<path d="M435.1 78.6h0.6v0.6h-0.6zM431.9 64.8h0.6v0.6h-0.6zM432.1 64.6h0.6v0.6h-0.6zM432.5 77.9h0.6v0.6h-0.6zM432.3 64.7h0.6v0.6h-0.6zM433 63.3h0.6v0.6h-0.6zM430.8 67.4h0.6v0.6h-0.6zM430.9 74.6h0.6v0.6h-0.6zM432.9 63.7h0.6v0.6h-0.6zM435.4 77.5h0.6v0.6h-0.6zM431.1 67.7h0.6v0.6h-0.6zM435.1 78.7h0.6v0.6h-0.6zM431.1 74.5h0.6v0.6h-0.6zM431.2 74.5h0.6v0.6h-0.6zM435.8 77.4h0.6v0.6h-0.6zM431 74.4h0.6v0.6h-0.6zM435.1 78.4h0.6v0.6h-0.6zM435.1 78.7h0.6v0.6h-0.6z" fill="#2a8ad2"/>
<path d="M435.7 76.7h0.6v0.6h-0.6zM435.3 65.6h0.6v0.6h-0.6zM431.3 72.5h0.6v0.6h-0.6zM432.6 77h0.6v0.6h-0.6zM435.6 65.4h0.6v0.6h-0.6zM432.4 76.9h0.6v0.6h-0.6zM435.4 65.7h0.6v0.6h-0.6zM431.3 67.8h0.6v0.6h-0.6zM435.6 65.3h0.6v0.6h-0.6zM432.3 76.2h0.6v0.6h-0.6zM435.3 65.6h0.6v0.6h-0.6zM431.7 67.5h0.6v0.6h-0.6zM432.2 66.4h0.6v0.6h-0.6zM432.2 76.2h0.6v0.6h-0.6zM431.4 71.3h0.6v0.6h-0.6zM432.3 77.3h0.6v0.6h-0.6z" fill="#2aaeae"/>
<path d="M434.3 65.6h0.6v0.6h-0.6zM432 74.5h0.6v0.6h-0.6zM434.4 65.5h0.6v0.6h-0.6zM432.3 74.7h0.6v0.6h-0.6zM432.3 66.7h0.6v0.6h-0.6zM434.4 65.4h0.6v0.6h-0.6zM434.7 65.4h0.6v0.6h-0.6zM432.4 66.5h0.6v0.6h-0.6zM432 74.5h0.6v0.6h-0.6zM432.6 66.4h0.6v0.6h-0.6z" fill="#42c68a"/>
<path d="M430.3 73.3h0.6v0.6h-0.6zM430.5 73.7h0.6v0.6h-0.6zM430.7 72.8h0.6v0.6h-0.6zM434.5 63.5h0.6v0.6h-0.6zM437.1 65.8h0.6v0.6h-0.6zM430.4 73.4h0.6v0.6h-0.6zM430.4 73.6h0.6v0.6h-0.6zM438.1 71.3h0.6v0.6h-0.6zM432.2 78h0.6v0.6h-0.6zM430.4 72.3h0.6v0.6h-0.6zM434.5 63.5h0.6v0.6h-0.6zM430.6 72.5h0.6v0.6h-0.6zM430.9 66.5h0.6v0.6h-0.6zM430.5 72.7h0.6v0.6h-0.6zM430.9 76.3h0.6v0.6h-0.6zM438.2 71.2h0.6v0.6h-0.6zM438 71.2h0.6v0.6h-0.6z" fill="#2a66c6"/>
<path d="M434.7 72.9h0.6v0.6h-0.6zM435.2 72.5h0.6v0.6h-0.6zM434.5 73h0.6v0.6h-0.6zM435 72.3h0.6v0.6h-0.6zM433.7 70.9h0.6v0.6h-0.6zM434 68h0.6v0.6h-0.6zM433.9 68.1h0.6v0.6h-0.6zM433.6 68.8h0.6v0.6h-0.6zM434.9 72.7h0.6v0.6h-0.6zM434 68.1h0.6v0.6h-0.6zM433.7 68.5h0.6v0.6h-0.6zM433.7 68.3h0.6v0.6h-0.6zM434.8 69h0.6v0.6h-0.6zM434.9 72.6h0.6v0.6h-0.6zM435.1 69.1h0.6v0.6h-0.6zM435 69.1h0.6v0.6h-0.6zM433.6 68.5h0.6v0.6h-0.6zM434.9 69.1h0.6v0.6h-0.6zM434.3 72.8h0.6v0.6h-0.6zM435 72.5h0.6v0.6h-0.6z" fill="#eaae1e"/>
<path d="M435.3 69.6h0.6v0.6h-0.6zM434.7 74.1h0.6v0.6h-0.6zM435.5 69.5h0.6v0.6h-0.6zM433.1 68.5h0.6v0.6h-0.6zM433.2 69.9h0.6v0.6h-0.6zM432.8 70.3h0.6v0.6h-0.6zM435.5 69.6h0.6v0.6h-0.6zM433.6 71.8h0.6v0.6h-0.6zM435.6 72.5h0.6v0.6h-0.6zM432.8 68.6h0.6v0.6h-0.6zM432.8 70.1h0.6v0.6h-0.6zM433.3 71.9h0.6v0.6h-0.6zM433.3 68.8h0.6v0.6h-0.6zM433 69.9h0.6v0.6h-0.6z" fill="#eac61e"/>
<path d="M431 71.1h0.6v0.6h-0.6zM430.9 72.1h0.6v0.6h-0.6zM431 71.5h0.6v0.6h-0.6zM432.9 78.4h0.6v0.6h-0.6zM437.6 72.5h0.6v0.6h-0.6zM433.4 79h0.6v0.6h-0.6zM431 71.9h0.6v0.6h-0.6zM437.4 72.4h0.6v0.6h-0.6zM437.1 67.2h0.6v0.6h-0.6zM434.2 63.8h0.6v0.6h-0.6zM437.2 67h0.6v0.6h-0.6zM437.8 72.7h0.6v0.6h-0.6zM431.1 71.5h0.6v0.6h-0.6zM433.9 63.9h0.6v0.6h-0.6zM434.5 79h0.6v0.6h-0.6zM431 71.1h0.6v0.6h-0.6zM434.6 79.3h0.6v0.6h-0.6zM436.4 66.1h0.6v0.6h-0.6zM434.7 79h0.6v0.6h-0.6z" fill="#2a8ade"/>
<path d="M432.7 74.4h0.6v0.6h-0.6zM432.8 74.4h0.6v0.6h-0.6zM436.7 71.3h0.6v0.6h-0.6zM436.8 70.9h0.6v0.6h-0.6z" fill="#66c642"/>
<path d="M435.7 85.4h0.6v0.6h-0.6zM430.2 58.8h0.6v0.6h-0.6zM427.4 76.2h0.6v0.6h-0.6zM438.3 81.3h0.6v0.6h-0.6zM438 59.6h0.6v0.6h-0.6zM428.7 63h0.6v0.6h-0.6zM437.1 83.4h0.6v0.6h-0.6zM439.5 78.4h0.6v0.6h-0.6zM431.1 85.2h0.6v0.6h-0.6zM433.8 85.9h0.6v0.6h-0.6zM435.3 85.4h0.6v0.6h-0.6zM436.4 84.4h0.6v0.6h-0.6zM428.4 80h0.6v0.6h-0.6zM434.6 85.9h0.6v0.6h-0.6zM441.2 62.8h0.6v0.6h-0.6zM452.3 72.9h0.6v0.6h-0.6zM450.6 59.7h0.6v0.6h-0.6zM447.7 58.6h0.6v0.6h-0.6zM452.2 59.1h0.6v0.6h-0.6zM456.5 60.9h0.6v0.6h-0.6zM447.6 58.7h0.6v0.6h-0.6zM458.5 67.7h0.6v0.6h-0.6zM457.1 69.9h0.6v0.6h-0.6zM450.2 73.3h0.6v0.6h-0.6zM443.6 61.8h0.6v0.6h-0.6zM458 69.5h0.6v0.6h-0.6zM449.8 73.7h0.6v0.6h-0.6zM448.3 59.1h0.6v0.6h-0.6zM442.2 62.3h0.6v0.6h-0.6zM447.4 59.2h0.6v0.6h-0.6zM438.2 59.7h0.6v0.6h-0.6zM447.8 75.1h0.6v0.6h-0.6zM445.1 73.6h0.6v0.6h-0.6zM458 70.6h0.6v0.6h-0.6zM441.2 62.6h0.6v0.6h-0.6zM454.6 72.1h0.6v0.6h-0.6zM456.9 71.3h0.6v0.6h-0.6zM456.7 70.2h0.6v0.6h-0.6zM458.7 62.8h0.6v0.6h-0.6zM454.9 60.6h0.6v0.6h-0.6zM458.7 63.9h0.6v0.6h-0.6zM459 66h0.6v0.6h-0.6zM459.5 67.8h0.6v0.6h-0.6zM458.5 66.7h0.6v0.6h-0.6zM459.4 66.2h0.6v0.6h-0.6zM445.9 59.7h0.6v0.6h-0.6zM457.7 68.2h0.6v0.6h-0.6zM457.7 69.7h0.6v0.6h-0.6zM453.7 59.3h0.6v0.6h-0.6zM457.8 67.4h0.6v0.6h-0.6zM458.6 68.5h0.6v0.6h-0.6zM457.6 70.9h0.6v0.6h-0.6zM459.8 66h0.6v0.6h-0.6zM451.3 59.7h0.6v0.6h-0.6z" fill="#9696de"/>
<path d="M429.1 66.7h0.6v0.6h-0.6zM439.2 65.5h0.6v0.6h-0.6zM434.7 83.1h0.6v0.6h-0.6zM436.8 80.6h0.6v0.6h-0.6zM431.1 61.1h0.6v0.6h-0.6zM432.9 82.9h0.6v0.6h-0.6zM429.7 78.2h0.6v0.6h-0.6zM434.7 82.8h0.6v0.6h-0.6zM429.3 66.6h0.6v0.6h-0.6zM447.9 63.6h0.6v0.6h-0.6zM439.3 75.1h0.6v0.6h-0.6zM446.6 64h0.6v0.6h-0.6zM448.7 63.8h0.6v0.6h-0.6zM445.3 69.6h0.6v0.6h-0.6zM449.8 65.7h0.6v0.6h-0.6zM449.9 66.2h0.6v0.6h-0.6zM438.8 65.5h0.6v0.6h-0.6zM445.6 69.8h0.6v0.6h-0.6zM449.9 66.3h0.6v0.6h-0.6zM449.4 66.9h0.6v0.6h-0.6zM444 67.6h0.6v0.6h-0.6z" fill="#6666d2"/>
<path d="M435.2 66.3h0.6v0.6h-0.6zM431.9 68.9h0.6v0.6h-0.6zM434.8 66.4h0.6v0.6h-0.6zM433.9 76.6h0.6v0.6h-0.6zM432.3 69h0.6v0.6h-0.6zM434.8 66.8h0.6v0.6h-0.6zM432.1 69.2h0.6v0.6h-0.6zM432.2 68.8h0.6v0.6h-0.6zM434.1 76.6h0.6v0.6h-0.6zM435.3 67.2h0.6v0.6h-0.6zM435 66.5h0.6v0.6h-0.6zM432.7 71.9h0.6v0.6h-0.6z" fill="#72d236"/>
<path d="M434.1 77.3h0.6v0.6h-0.6zM434.1 76.9h0.6v0.6h-0.6zM433.3 66.3h0.6v0.6h-0.6zM434.1 77.1h0.6v0.6h-0.6zM433.3 66.1h0.6v0.6h-0.6zM434.3 77.3h0.6v0.6h-0.6zM434 77.2h0.6v0.6h-0.6z" fill="#5ac666"/>
<path d="M432.4 68h0.6v0.6h-0.6zM433.4 75.5h0.6v0.6h-0.6zM432.3 68h0.6v0.6h-0.6zM432.3 68.3h0.6v0.6h-0.6zM432.9 72.5h0.6v0.6h-0.6zM433.3 72.6h0.6v0.6h-0.6zM432.9 72.3h0.6v0.6h-0.6zM433.1 72.6h0.6v0.6h-0.6z" fill="#bade2a"/>
<path d="M433.4 63.2h0.6v0.6h-0.6zM433.8 62.9h0.6v0.6h-0.6zM431.5 64.3h0.6v0.6h-0.6zM437.9 69.8h0.6v0.6h-0.6zM438.2 69.4h0.6v0.6h-0.6zM431.6 64.1h0.6v0.6h-0.6zM431.4 63.8h0.6v0.6h-0.6zM438.1 70.1h0.6v0.6h-0.6z" fill="#2a66d2"/>
<path d="M434.1 82.8h0.6v0.6h-0.6zM433.9 60.6h0.6v0.6h-0.6zM430.2 78.1h0.6v0.6h-0.6zM437.5 77.3h0.6v0.6h-0.6zM433.4 82.5h0.6v0.6h-0.6zM434 82.5h0.6v0.6h-0.6zM434.2 82.4h0.6v0.6h-0.6zM434.1 82.5h0.6v0.6h-0.6zM431.9 81.6h0.6v0.6h-0.6zM446 67.6h0.6v0.6h-0.6zM448.2 67h0.6v0.6h-0.6zM447.1 70.8h0.6v0.6h-0.6zM445.8 66.6h0.6v0.6h-0.6zM445.2 66.1h0.6v0.6h-0.6zM444.8 66h0.6v0.6h-0.6zM445.2 66.1h0.6v0.6h-0.6zM445 66.2h0.6v0.6h-0.6zM448 70.4h0.6v0.6h-0.6zM445.4 66.7h0.6v0.6h-0.6zM445.6 67.3h0.6v0.6h-0.6zM446.7 70.3h0.6v0.6h-0.6z" fill="#4e5ad2"/>
<path d="M436.3 72.9h0.6v0.6h-0.6zM435.9 73.2h0.6v0.6h-0.6zM433.2 73.2h0.6v0.6h-0.6zM433 72.8h0.6v0.6h-0.6zM433.2 73h0.6v0.6h-0.6z" fill="#aede36"/>
<path d="M432.3 73.6h0.6v0.6h-0.6zM432.2 73.8h0.6v0.6h-0.6zM432.2 73.5h0.6v0.6h-0.6zM431.8 73.4h0.6v0.6h-0.6zM432.1 73.6h0.6v0.6h-0.6zM432.2 73.5h0.6v0.6h-0.6zM431.9 73.8h0.6v0.6h-0.6zM432.2 73.6h0.6v0.6h-0.6z" fill="#42c672"/>
<path d="M427.2 76.2h0.6v0.6h-0.6zM440 59.8h0.6v0.6h-0.6zM438.5 58.5h0.6v0.6h-0.6zM433.1 56.4h0.6v0.6h-0.6zM428.4 80.9h0.6v0.6h-0.6zM432.4 56.7h0.6v0.6h-0.6zM427.4 78.6h0.6v0.6h-0.6zM436.5 57h0.6v0.6h-0.6zM426.9 76.4h0.6v0.6h-0.6zM433.8 87.8h0.6v0.6h-0.6zM434.7 87.7h0.6v0.6h-0.6zM431.7 86.2h0.6v0.6h-0.6zM430.3 84.5h0.6v0.6h-0.6zM435 87.2h0.6v0.6h-0.6zM432.5 86.5h0.6v0.6h-0.6zM453.5 58.3h0.6v0.6h-0.6zM442.8 59.4h0.6v0.6h-0.6zM445.4 75.3h0.6v0.6h-0.6zM456.6 59.7h0.6v0.6h-0.6zM442.2 59.4h0.6v0.6h-0.6zM457.4 59.6h0.6v0.6h-0.6zM445.7 58.6h0.6v0.6h-0.6zM458.7 59.8h0.6v0.6h-0.6zM453.6 74.8h0.6v0.6h-0.6zM444.9 58.9h0.6v0.6h-0.6zM461 67.7h0.6v0.6h-0.6zM452.7 74.6h0.6v0.6h-0.6zM449.6 74.9h0.6v0.6h-0.6zM440.2 60.1h0.6v0.6h-0.6zM449.9 58.2h0.6v0.6h-0.6zM449.1 76.2h0.6v0.6h-0.6zM457.2 72.1h0.6v0.6h-0.6zM449.1 76.1h0.6v0.6h-0.6zM448.1 57.7h0.6v0.6h-0.6zM443.4 73.9h0.6v0.6h-0.6zM449.5 57.9h0.6v0.6h-0.6zM451.4 57.7h0.6v0.6h-0.6zM458.3 60.5h0.6v0.6h-0.6zM453.1 74.4h0.6v0.6h-0.6zM452.4 57.7h0.6v0.6h-0.6zM454.4 74.1h0.6v0.6h-0.6zM449.6 58.1h0.6v0.6h-0.6zM450.1 58h0.6v0.6h-0.6zM454.9 57.9h0.6v0.6h-0.6zM460.9 69.3h0.6v0.6h-0.6zM434.2 88.2h0.6v0.6h-0.6z" fill="#a2a2de"/>
<path d="M431.5 71.3h0.6v0.6h-0.6zM436.4 67.2h0.6v0.6h-0.6zM436.3 66.8h0.6v0.6h-0.6zM431.4 73.7h0.6v0.6h-0.6zM431.8 73.5h0.6v0.6h-0.6zM431.3 74h0.6v0.6h-0.6zM431.6 73.3h0.6v0.6h-0.6zM436.6 67.3h0.6v0.6h-0.6zM436.8 67.1h0.6v0.6h-0.6zM431.6 74.2h0.6v0.6h-0.6zM433.7 77.9h0.6v0.6h-0.6zM431.5 73.2h0.6v0.6h-0.6zM431.6 73.8h0.6v0.6h-0.6zM433.4 78.2h0.6v0.6h-0.6zM431.6 71.1h0.6v0.6h-0.6zM431.3 73.8h0.6v0.6h-0.6zM436.8 72.9h0.6v0.6h-0.6zM431.5 71h0.6v0.6h-0.6zM433.8 77.9h0.6v0.6h-0.6zM436.3 67h0.6v0.6h-0.6z" fill="#36aeae"/>
<path d="M430.9 52.5h0.6v0.6h-0.6zM432.8 94.1h0.6v0.6h-0.6zM434.9 50h0.6v0.6h-0.6zM435.8 95h0.6v0.6h-0.6zM429.4 91.2h0.6v0.6h-0.6zM443.9 82.4h0.6v0.6h-0.6zM449.3 81h0.6v0.6h-0.6zM449.7 86.3h0.6v0.6h-0.6zM445.3 53.8h0.6v0.6h-0.6zM464.6 79.8h0.6v0.6h-0.6zM464.5 74.3h0.6v0.6h-0.6zM471.5 65.4h0.6v0.6h-0.6zM469.9 73.5h0.6v0.6h-0.6zM448.2 49.6h0.6v0.6h-0.6zM466.4 78.3h0.6v0.6h-0.6zM455.3 82.2h0.6v0.6h-0.6zM422.2 74.9h0.6v0.6h-0.6zM468.6 83.9h0.6v0.6h-0.6zM464.6 51.5h0.6v0.6h-0.6zM467.3 85.9h0.6v0.6h-0.6zM445.1 85h0.6v0.6h-0.6zM463.1 81.8h0.6v0.6h-0.6zM454.5 89.3h0.6v0.6h-0.6zM457.4 94h0.6v0.6h-0.6zM439.2 93.7h0.6v0.6h-0.6zM465.7 83.2h0.6v0.6h-0.6z" fill="#babaea"/>
<path d="M435.9 66.6h0.6v0.6h-0.6zM436.3 66.7h0.6v0.6h-0.6zM437 70.6h0.6v0.6h-0.6zM436.1 75.6h0.6v0.6h-0.6zM435.8 75.7h0.6v0.6h-0.6zM436.2 75.5h0.6v0.6h-0.6z" fill="#36ba96"/>
<path d="M442.3 75.1h0.6v0.6h-0.6zM432.6 87.4h0.6v0.6h-0.6zM430.4 56.9h0.6v0.6h-0.6zM432.6 87.8h0.6v0.6h-0.6zM451.7 74.4h0.6v0.6h-0.6zM443 58.5h0.6v0.6h-0.6zM445.6 76.3h0.6v0.6h-0.6zM460 62.6h0.6v0.6h-0.6zM461.8 69h0.6v0.6h-0.6zM446.6 57.4h0.6v0.6h-0.6zM460.4 65.2h0.6v0.6h-0.6zM459.9 62.7h0.6v0.6h-0.6zM458.1 72.7h0.6v0.6h-0.6zM455.9 58.2h0.6v0.6h-0.6zM448.1 76.9h0.6v0.6h-0.6z" fill="#a2a2ea"/>
<path d="M433 52.6h0.6v0.6h-0.6zM437.6 88.4h0.6v0.6h-0.6zM451.8 79h0.6v0.6h-0.6zM437.1 52.6h0.6v0.6h-0.6zM468.4 61.4h0.6v0.6h-0.6zM451.5 52.4h0.6v0.6h-0.6zM467.5 56.3h0.6v0.6h-0.6zM458.8 78.8h0.6v0.6h-0.6zM468.4 74.6h0.6v0.6h-0.6zM468.2 71.2h0.6v0.6h-0.6zM459.9 80.8h0.6v0.6h-0.6zM468.3 64.8h0.6v0.6h-0.6zM467.9 66.7h0.6v0.6h-0.6zM468.8 60.1h0.6v0.6h-0.6zM467.2 57h0.6v0.6h-0.6zM454.7 53.9h0.6v0.6h-0.6zM464.9 58.6h0.6v0.6h-0.6zM465.9 59.6h0.6v0.6h-0.6zM461 77.3h0.6v0.6h-0.6zM466.4 73.3h0.6v0.6h-0.6zM463.5 53.8h0.6v0.6h-0.6zM470.4 68h0.6v0.6h-0.6zM469.4 58.9h0.6v0.6h-0.6zM445.9 80.3h0.6v0.6h-0.6zM460.6 53.3h0.6v0.6h-0.6zM468.3 57.8h0.6v0.6h-0.6zM450.9 51.8h0.6v0.6h-0.6zM471.6 67.6h0.6v0.6h-0.6zM461.3 79.1h0.6v0.6h-0.6z" fill="#aebaea"/>
<path d="M433.9 83.8h0.6v0.6h-0.6zM431.2 82.5h0.6v0.6h-0.6zM445.4 62.6h0.6v0.6h-0.6zM453 65.9h0.6v0.6h-0.6zM441.8 69h0.6v0.6h-0.6zM453.6 65h0.6v0.6h-0.6zM453.2 68.7h0.6v0.6h-0.6zM442.2 69.6h0.6v0.6h-0.6zM441.3 68.3h0.6v0.6h-0.6z" fill="#7e7ed2"/>
<rect x="412.3" y="46.3" width="60.9" height="61.3" fill="none" stroke="#666" stroke-width="0.75"/>
<line x1="411.1" y1="58" x2="412.3" y2="58" stroke="#666" stroke-width="0.5"/>
<line x1="411.1" y1="67.3" x2="412.3" y2="67.3" stroke="#666" stroke-width="0.5"/>
<line x1="411.1" y1="79" x2="412.3" y2="79" stroke="#666" stroke-width="0.5"/>
<line x1="411.1" y1="88.2" x2="412.3" y2="88.2" stroke="#666" stroke-width="0.5"/>
<line x1="411.1" y1="98.3" x2="412.3" y2="98.3" stroke="#666" stroke-width="0.5"/>
<line x1="417.7" y1="107.6" x2="417.7" y2="108.8" stroke="#666" stroke-width="0.5"/>
<line x1="428.6" y1="107.6" x2="428.6" y2="108.8" stroke="#666" stroke-width="0.5"/>
<line x1="440.2" y1="107.6" x2="440.2" y2="108.8" stroke="#666" stroke-width="0.5"/>
<line x1="451.9" y1="107.6" x2="451.9" y2="108.8" stroke="#666" stroke-width="0.5"/>
<line x1="462.7" y1="107.6" x2="462.7" y2="108.8" stroke="#666" stroke-width="0.5"/>
<line x1="440.3" y1="46.3" x2="440.3" y2="107.6" stroke="#444" stroke-width="0.8"/>
<line x1="412.3" y1="76.6" x2="473.2" y2="76.6" stroke="#444" stroke-width="0.8"/>
<text x="353.9" y="56" font-size="8.96" text-anchor="start" font-weight="normal" fill="#2a2a2a" stroke="#2a2a2a" stroke-width="0.2" textLength="15.57" lengthAdjust="spacingAndGlyphs">56.9</text>
<text x="386.9" y="56" font-size="8.96" text-anchor="start" font-weight="normal" fill="#2a2a2a" stroke="#2a2a2a" stroke-width="0.2" textLength="15.57" lengthAdjust="spacingAndGlyphs">20.3</text>
<text x="354.9" y="103.7" font-size="8.96" text-anchor="start" font-weight="normal" fill="#2a2a2a" stroke="#2a2a2a" stroke-width="0.2" textLength="15.57" lengthAdjust="spacingAndGlyphs">20.9</text>
<text x="420.1" y="56" font-size="8.96" text-anchor="start" font-weight="normal" fill="#2a2a2a" stroke="#2a2a2a" stroke-width="0.2" textLength="15.57" lengthAdjust="spacingAndGlyphs">67.1</text>
<text x="457.8" y="56" font-size="8.96" text-anchor="start" font-weight="normal" fill="#2a2a2a" stroke="#2a2a2a" stroke-width="0.2" textLength="15.57" lengthAdjust="spacingAndGlyphs">20.6</text>
<text x="419.8" y="103.7" font-size="8.96" text-anchor="start" font-weight="normal" fill="#2a2a2a" stroke="#2a2a2a" stroke-width="0.2" textLength="14.97" lengthAdjust="spacingAndGlyphs">11.4</text>
<line x1="339.2" y1="114" x2="339.2" y2="66.5" stroke="#111" stroke-width="1.1"/>
<line x1="338.7" y1="113.5" x2="385.6" y2="113.5" stroke="#111" stroke-width="1.1"/>
<path d="M339.2 63.5 l-2 4.5h4z" fill="#111"/>
<path d="M388.6 113.5 l-4.5 -2v4z" fill="#111"/>
<text x="334" y="89.2" font-size="8.2" text-anchor="middle" font-weight="normal" fill="#2a2a2a" stroke="#2a2a2a" stroke-width="0.2" transform="rotate(-90 334 89.2)" textLength="29.2" lengthAdjust="spacingAndGlyphs">PyroninY</text>
<text x="357.3" y="124.6" font-size="8.51" text-anchor="middle" font-weight="normal" fill="#2a2a2a" stroke="#2a2a2a" stroke-width="0.2" textLength="27.88" lengthAdjust="spacingAndGlyphs">Hoechst</text>
<text x="8.6" y="155.2" font-size="12" text-anchor="start" font-weight="bold" fill="#000" stroke="#000" stroke-width="0.35">E</text>
<line x1="37.5" y1="171.5" x2="37.5" y2="249" stroke="#2e2e2e" stroke-width="1"/>
<line x1="34.5" y1="171.5" x2="37.5" y2="171.5" stroke="#2e2e2e" stroke-width="1"/>
<text x="31.8" y="174.2" font-size="8.51" text-anchor="end" font-weight="normal" fill="#333" stroke="#333" stroke-width="0.2" textLength="8.45" lengthAdjust="spacingAndGlyphs">80</text>
<line x1="34.5" y1="190.5" x2="37.5" y2="190.5" stroke="#2e2e2e" stroke-width="1"/>
<text x="31.8" y="193.45" font-size="8.51" text-anchor="end" font-weight="normal" fill="#333" stroke="#333" stroke-width="0.2" textLength="8.45" lengthAdjust="spacingAndGlyphs">60</text>
<line x1="34.5" y1="210.5" x2="37.5" y2="210.5" stroke="#2e2e2e" stroke-width="1"/>
<text x="31.8" y="212.7" font-size="8.51" text-anchor="end" font-weight="normal" fill="#333" stroke="#333" stroke-width="0.2" textLength="8.45" lengthAdjust="spacingAndGlyphs">40</text>
<line x1="34.5" y1="229.5" x2="37.5" y2="229.5" stroke="#2e2e2e" stroke-width="1"/>
<text x="31.8" y="231.95" font-size="8.51" text-anchor="end" font-weight="normal" fill="#333" stroke="#333" stroke-width="0.2" textLength="8.45" lengthAdjust="spacingAndGlyphs">20</text>
<line x1="34.5" y1="248.5" x2="37.5" y2="248.5" stroke="#2e2e2e" stroke-width="1"/>
<text x="31.8" y="251.2" font-size="8.51" text-anchor="end" font-weight="normal" fill="#333" stroke="#333" stroke-width="0.2" textLength="4.23" lengthAdjust="spacingAndGlyphs">0</text>
<line x1="37" y1="248.5" x2="110" y2="248.5" stroke="#2e2e2e" stroke-width="1"/>
<line x1="45.6" y1="187" x2="45.6" y2="191.75" stroke="#333" stroke-width="0.8"/>
<line x1="44.1" y1="187" x2="47.1" y2="187" stroke="#333" stroke-width="0.8"/>
<rect x="43" y="191.75" width="5.2" height="56.75" fill="#c62235" stroke="#3a2a2a" stroke-width="0.5"/>
<line x1="51.65" y1="182" x2="51.65" y2="184.75" stroke="#333" stroke-width="0.8"/>
<line x1="50.15" y1="182" x2="53.15" y2="182" stroke="#333" stroke-width="0.8"/>
<rect x="49" y="184.75" width="5.3" height="63.75" fill="#105386" stroke="#3a2a2a" stroke-width="0.5"/>
<line x1="68.78" y1="229.3" x2="68.78" y2="230" stroke="#333" stroke-width="0.8"/>
<line x1="67.28" y1="229.3" x2="70.28" y2="229.3" stroke="#333" stroke-width="0.8"/>
<rect x="66.25" y="230" width="5.05" height="18.5" fill="#c62235" stroke="#3a2a2a" stroke-width="0.5"/>
<line x1="75.15" y1="228.8" x2="75.15" y2="229.5" stroke="#333" stroke-width="0.8"/>
<line x1="73.65" y1="228.8" x2="76.65" y2="228.8" stroke="#333" stroke-width="0.8"/>
<rect x="72.5" y="229.5" width="5.3" height="19" fill="#105386" stroke="#3a2a2a" stroke-width="0.5"/>
<line x1="92.05" y1="225.5" x2="92.05" y2="229.25" stroke="#333" stroke-width="0.8"/>
<line x1="90.55" y1="225.5" x2="93.55" y2="225.5" stroke="#333" stroke-width="0.8"/>
<rect x="89.5" y="229.25" width="5.1" height="19.25" fill="#c62235" stroke="#3a2a2a" stroke-width="0.5"/>
<line x1="98.55" y1="234" x2="98.55" y2="235.75" stroke="#333" stroke-width="0.8"/>
<line x1="97.05" y1="234" x2="100.05" y2="234" stroke="#333" stroke-width="0.8"/>
<rect x="96" y="235.75" width="5.1" height="12.75" fill="#105386" stroke="#3a2a2a" stroke-width="0.5"/>
<text x="52" y="181.3" font-size="7.39" text-anchor="middle" font-weight="normal" fill="#444" stroke="#444" stroke-width="0.2" textLength="5.14" lengthAdjust="spacingAndGlyphs">**</text>
<text x="99.5" y="231.8" font-size="7.39" text-anchor="middle" font-weight="normal" fill="#444" stroke="#444" stroke-width="0.2" textLength="5.14" lengthAdjust="spacingAndGlyphs">**</text>
<rect x="71.3" y="173.9" width="3.2" height="3.2" fill="#c62235" stroke="#3a2a2a" stroke-width="0.5"/>
<rect x="71.3" y="181.4" width="3.2" height="3.2" fill="#105386" stroke="#2a2a3a" stroke-width="0.5"/>
<text x="75.8" y="177.3" font-size="8.06" text-anchor="start" font-weight="normal" fill="#2a2a2a" stroke="#2a2a2a" stroke-width="0.2" textLength="28.39" lengthAdjust="spacingAndGlyphs">MA9-WT</text>
<text x="75.8" y="184.3" font-size="8.06" text-anchor="start" font-weight="normal" fill="#2a2a2a" stroke="#2a2a2a" stroke-width="0.2" textLength="31.6" lengthAdjust="spacingAndGlyphs">MA9-HET</text>
<text x="47.9" y="259.2" font-size="8.51" text-anchor="middle" font-weight="normal" fill="#2a2a2a" stroke="#2a2a2a" stroke-width="0.2" textLength="10.14" lengthAdjust="spacingAndGlyphs">G1</text>
<text x="71.9" y="259.2" font-size="8.74" text-anchor="middle" font-weight="normal" fill="#2a2a2a" stroke="#2a2a2a" stroke-width="0.2" textLength="22.1" lengthAdjust="spacingAndGlyphs">G2SM</text>
<text x="95.6" y="259.2" font-size="8.51" text-anchor="middle" font-weight="normal" fill="#2a2a2a" stroke="#2a2a2a" stroke-width="0.2" textLength="10.14" lengthAdjust="spacingAndGlyphs">G0</text>
<text x="16.4" y="210" font-size="8.6" text-anchor="middle" font-weight="normal" fill="#2a2a2a" stroke="#2a2a2a" stroke-width="0.2" transform="rotate(-90 16.4 210)" textLength="26.8" lengthAdjust="spacingAndGlyphs">% LGMP</text>
<text x="132.1" y="155.2" font-size="12" text-anchor="start" font-weight="bold" fill="#000" stroke="#000" stroke-width="0.35">F</text>
<line x1="161.5" y1="171.7" x2="161.5" y2="249.7" stroke="#2e2e2e" stroke-width="1"/>
<line x1="158.5" y1="171.5" x2="161.5" y2="171.5" stroke="#2e2e2e" stroke-width="1"/>
<text x="156.1" y="174.4" font-size="8.51" text-anchor="end" font-weight="normal" fill="#333" stroke="#333" stroke-width="0.2" textLength="12.68" lengthAdjust="spacingAndGlyphs">250</text>
<line x1="158.5" y1="187.5" x2="161.5" y2="187.5" stroke="#2e2e2e" stroke-width="1"/>
<text x="156.1" y="189.9" font-size="8.51" text-anchor="end" font-weight="normal" fill="#333" stroke="#333" stroke-width="0.2" textLength="12.68" lengthAdjust="spacingAndGlyphs">200</text>
<line x1="158.5" y1="202.5" x2="161.5" y2="202.5" stroke="#2e2e2e" stroke-width="1"/>
<text x="156.1" y="205.4" font-size="8.51" text-anchor="end" font-weight="normal" fill="#333" stroke="#333" stroke-width="0.2" textLength="12.68" lengthAdjust="spacingAndGlyphs">150</text>
<line x1="158.5" y1="218.5" x2="161.5" y2="218.5" stroke="#2e2e2e" stroke-width="1"/>
<text x="156.1" y="220.9" font-size="8.51" text-anchor="end" font-weight="normal" fill="#333" stroke="#333" stroke-width="0.2" textLength="12.68" lengthAdjust="spacingAndGlyphs">100</text>
<line x1="158.5" y1="233.5" x2="161.5" y2="233.5" stroke="#2e2e2e" stroke-width="1"/>
<text x="156.1" y="236.4" font-size="8.51" text-anchor="end" font-weight="normal" fill="#333" stroke="#333" stroke-width="0.2" textLength="8.45" lengthAdjust="spacingAndGlyphs">50</text>
<line x1="158.5" y1="249.5" x2="161.5" y2="249.5" stroke="#2e2e2e" stroke-width="1"/>
<text x="156.1" y="251.9" font-size="8.51" text-anchor="end" font-weight="normal" fill="#333" stroke="#333" stroke-width="0.2" textLength="4.23" lengthAdjust="spacingAndGlyphs">0</text>
<line x1="161" y1="249.5" x2="208.8" y2="249.5" stroke="#2e2e2e" stroke-width="1"/>
<rect x="168.3" y="200.8" width="12.5" height="48.4" fill="#c62235" stroke="#3a2a2a" stroke-width="0.5"/>
<rect x="188.8" y="242" width="12.5" height="7.2" fill="#105386" stroke="#3a2a2a" stroke-width="0.5"/>
<line x1="174.5" y1="180.5" x2="174.5" y2="220" stroke="#222" stroke-width="0.8"/>
<line x1="171" y1="180.5" x2="178" y2="180.5" stroke="#222" stroke-width="0.8"/>
<line x1="171" y1="220" x2="178" y2="220" stroke="#222" stroke-width="0.8"/>
<line x1="195" y1="236.8" x2="195" y2="242" stroke="#222" stroke-width="0.8"/>
<line x1="192" y1="236.8" x2="198" y2="236.8" stroke="#222" stroke-width="0.8"/>
<circle cx="170" cy="186.8" r="0.95" fill="#111"/>
<circle cx="174.5" cy="186.8" r="0.95" fill="#111"/>
<circle cx="179.2" cy="186.8" r="0.95" fill="#111"/>
<circle cx="174.5" cy="210.5" r="0.95" fill="#111"/>
<circle cx="174.5" cy="230.5" r="0.95" fill="#111"/>
<circle cx="192.5" cy="237.5" r="0.95" fill="#111"/>
<circle cx="195.5" cy="238.3" r="0.95" fill="#111"/>
<circle cx="197.5" cy="237.6" r="0.95" fill="#111"/>
<circle cx="194" cy="241.5" r="0.95" fill="#111"/>
<circle cx="196.5" cy="244.5" r="0.95" fill="#111"/>
<circle cx="193.6" cy="246.5" r="0.95" fill="#111"/>
<text x="195" y="232.3" font-size="7.39" text-anchor="middle" font-weight="normal" fill="#444" stroke="#444" stroke-width="0.2" textLength="7.71" lengthAdjust="spacingAndGlyphs">***</text>
<text x="138.2" y="210.2" font-size="8.4" text-anchor="middle" font-weight="normal" fill="#2a2a2a" stroke="#2a2a2a" stroke-width="0.2" transform="rotate(-90 138.2 210.2)" textLength="35.2" lengthAdjust="spacingAndGlyphs">WBC(K/uL)</text>
<text x="177.2" y="257.8" font-size="8.96" text-anchor="end" font-weight="normal" fill="#2a2a2a" stroke="#2a2a2a" stroke-width="0.2" transform="rotate(-45 177.2 257.8)" textLength="31.55" lengthAdjust="spacingAndGlyphs">MA9-WT</text>
<text x="197.7" y="257.8" font-size="8.96" text-anchor="end" font-weight="normal" fill="#2a2a2a" stroke="#2a2a2a" stroke-width="0.2" transform="rotate(-45 197.7 257.8)" textLength="35.11" lengthAdjust="spacingAndGlyphs">MA9-HET</text>
<text x="223" y="155.2" font-size="12" text-anchor="start" font-weight="bold" fill="#000" stroke="#000" stroke-width="0.35">G</text>
<defs><clipPath id="g1"><rect x="242.8" y="156.8" width="61" height="45"/></clipPath><clipPath id="g2"><rect x="242.6" y="203.6" width="61.4" height="45"/></clipPath><radialGradient id="rbc"><stop offset="0" stop-color="#f0d0c4"/><stop offset="0.45" stop-color="#dcaab2"/><stop offset="0.8" stop-color="#b07aa0"/><stop offset="1" stop-color="#a07098"/></radialGradient><radialGradient id="rbc2"><stop offset="0" stop-color="#f6cdb6"/><stop offset="0.45" stop-color="#e8bcbc"/><stop offset="0.8" stop-color="#b4a4d0"/><stop offset="1" stop-color="#a498cc"/></radialGradient><radialGradient id="blast"><stop offset="0" stop-color="#7a4aa8"/><stop offset="0.7" stop-color="#5a2a90"/><stop offset="1" stop-color="#6a4aa0"/></radialGradient></defs>
<g clip-path="url(#g1)"><rect x="242.8" y="156.8" width="61" height="45" fill="#f7f4f8"/>
<circle cx="244.24" cy="163" r="2.3" fill="url(#rbc)"/>
<circle cx="249.89" cy="168.37" r="2.3" fill="url(#rbc)"/>
<circle cx="254.84" cy="168.37" r="2.3" fill="url(#rbc)"/>
<circle cx="252.01" cy="172.33" r="2.3" fill="url(#rbc)"/>
<circle cx="258.37" cy="173.31" r="2.3" fill="url(#rbc)"/>
<circle cx="249.89" cy="177.55" r="2.3" fill="url(#rbc)"/>
<circle cx="255.54" cy="178.26" r="2.3" fill="url(#rbc)"/>
<circle cx="260.49" cy="179.67" r="2.3" fill="url(#rbc)"/>
<circle cx="252.72" cy="181.79" r="2.3" fill="url(#rbc)"/>
<circle cx="257.66" cy="182.78" r="2.3" fill="url(#rbc)"/>
<circle cx="245.65" cy="186.03" r="2.3" fill="url(#rbc)"/>
<circle cx="269.67" cy="169.78" r="2.3" fill="url(#rbc)"/>
<circle cx="267.55" cy="180.38" r="2.3" fill="url(#rbc)"/>
<circle cx="264.73" cy="159.89" r="2.3" fill="url(#rbc)"/>
<circle cx="278.15" cy="159.89" r="2.3" fill="url(#rbc)"/>
<circle cx="286.63" cy="162.43" r="2.3" fill="url(#rbc)"/>
<circle cx="296.52" cy="158.76" r="2.3" fill="url(#rbc)"/>
<circle cx="292" cy="165.54" r="2.3" fill="url(#rbc)"/>
<circle cx="280.98" cy="166.25" r="2.3" fill="url(#rbc)"/>
<circle cx="283.8" cy="170.49" r="2.3" fill="url(#rbc)"/>
<circle cx="295.81" cy="170.49" r="2.3" fill="url(#rbc)"/>
<circle cx="300.76" cy="166.96" r="2.3" fill="url(#rbc)"/>
<circle cx="295.81" cy="175.43" r="2.3" fill="url(#rbc)"/>
<circle cx="301.04" cy="179.67" r="2.3" fill="url(#rbc)"/>
<circle cx="285.22" cy="182.92" r="2.3" fill="url(#rbc)"/>
<circle cx="276.03" cy="180.38" r="2.3" fill="url(#rbc)"/>
<circle cx="273.91" cy="186.46" r="2.3" fill="url(#rbc)"/>
<circle cx="278.15" cy="189.56" r="2.3" fill="url(#rbc)"/>
<circle cx="282.39" cy="189.56" r="2.3" fill="url(#rbc)"/>
<circle cx="288.04" cy="190.98" r="2.3" fill="url(#rbc)"/>
<circle cx="295.39" cy="192.39" r="2.3" fill="url(#rbc)"/>
<circle cx="251.3" cy="191.68" r="2.3" fill="url(#rbc)"/>
<circle cx="259.08" cy="189.56" r="2.3" fill="url(#rbc)"/>
<circle cx="264.73" cy="194.51" r="2.3" fill="url(#rbc)"/>
<circle cx="273.21" cy="194.93" r="2.3" fill="url(#rbc)"/>
<circle cx="280.27" cy="195.92" r="2.3" fill="url(#rbc)"/>
<circle cx="285.22" cy="198.75" r="2.3" fill="url(#rbc)"/>
<circle cx="290.87" cy="200.16" r="2.3" fill="url(#rbc)"/>
<circle cx="246.36" cy="198.04" r="2.3" fill="url(#rbc)"/>
<circle cx="250.6" cy="198.75" r="2.3" fill="url(#rbc)"/>
<circle cx="255.54" cy="199.46" r="2.3" fill="url(#rbc)"/>
<circle cx="270.38" cy="199.74" r="2.3" fill="url(#rbc)"/>
<circle cx="302.17" cy="196.63" r="2.3" fill="url(#rbc)"/>
<circle cx="261.2" cy="166.25" r="2.3" fill="url(#rbc)"/>
<circle cx="275.33" cy="173.31" r="2.3" fill="url(#rbc)"/>
<circle cx="290.16" cy="158.48" r="2.3" fill="url(#rbc)"/>
<circle cx="280.27" cy="184.62" r="2.3" fill="url(#rbc)"/>
<circle cx="268.97" cy="190.98" r="2.3" fill="url(#rbc)"/>
<circle cx="256.25" cy="163.42" r="2.3" fill="url(#rbc)"/>
<circle cx="249.61" cy="162.01" r="3.1" fill="url(#blast)"/>
<circle cx="264.73" cy="176.14" r="3" fill="url(#blast)"/>
<circle cx="272.78" cy="176.14" r="3" fill="url(#blast)"/>
<circle cx="278.86" cy="174.02" r="3" fill="url(#blast)"/>
<circle cx="284.51" cy="176.85" r="3" fill="url(#blast)"/>
<circle cx="263.31" cy="183.91" r="2.8" fill="url(#blast)"/>
<circle cx="254.84" cy="187.02" r="2.8" fill="url(#blast)"/>
<circle cx="290.16" cy="184.62" r="3" fill="url(#blast)"/>
<circle cx="294.12" cy="179.96" r="2.5" fill="url(#blast)"/>
<circle cx="243.11" cy="193.1" r="2.5" fill="url(#blast)"/>
<circle cx="302.6" cy="190.98" r="2.5" fill="url(#blast)"/>
<circle cx="266" cy="186" r="1.1" fill="#9ad0e8" opacity="0.7"/><circle cx="297" cy="164" r="1.2" fill="#9ad0e8" opacity="0.7"/><circle cx="292" cy="178" r="1" fill="#9ad0e8" opacity="0.6"/>
</g>
<g clip-path="url(#g2)"><rect x="242.6" y="203.6" width="61.4" height="45" fill="#f8f7fb"/>
<circle cx="245.18" cy="205.83" r="2.4" fill="url(#rbc2)"/>
<circle cx="248.42" cy="208.42" r="2.4" fill="url(#rbc2)"/>
<circle cx="244.53" cy="210.36" r="2.4" fill="url(#rbc2)"/>
<circle cx="254.25" cy="212.95" r="2.4" fill="url(#rbc2)"/>
<circle cx="249.07" cy="216.19" r="2.4" fill="url(#rbc2)"/>
<circle cx="252.95" cy="216.84" r="2.4" fill="url(#rbc2)"/>
<circle cx="245.18" cy="219.43" r="2.4" fill="url(#rbc2)"/>
<circle cx="250.36" cy="220.73" r="2.4" fill="url(#rbc2)"/>
<circle cx="256.84" cy="219.43" r="2.4" fill="url(#rbc2)"/>
<circle cx="260.73" cy="218.13" r="2.4" fill="url(#rbc2)"/>
<circle cx="262.67" cy="209.07" r="2.4" fill="url(#rbc2)"/>
<circle cx="266.55" cy="210.36" r="2.4" fill="url(#rbc2)"/>
<circle cx="274.33" cy="210.36" r="2.4" fill="url(#rbc2)"/>
<circle cx="271.09" cy="214.9" r="2.4" fill="url(#rbc2)"/>
<circle cx="276.27" cy="214.9" r="2.4" fill="url(#rbc2)"/>
<circle cx="280.16" cy="216.84" r="2.4" fill="url(#rbc2)"/>
<circle cx="267.2" cy="214.25" r="2.4" fill="url(#rbc2)"/>
<circle cx="261.37" cy="223.32" r="2.4" fill="url(#rbc2)"/>
<circle cx="267.2" cy="222.02" r="2.4" fill="url(#rbc2)"/>
<circle cx="272.38" cy="223.32" r="2.4" fill="url(#rbc2)"/>
<circle cx="276.92" cy="224.61" r="2.4" fill="url(#rbc2)"/>
<circle cx="274.33" cy="219.43" r="2.4" fill="url(#rbc2)"/>
<circle cx="284.04" cy="206.48" r="2.4" fill="url(#rbc2)"/>
<circle cx="285.98" cy="210.36" r="2.4" fill="url(#rbc2)"/>
<circle cx="289.87" cy="211.66" r="2.4" fill="url(#rbc2)"/>
<circle cx="293.11" cy="206.48" r="2.4" fill="url(#rbc2)"/>
<circle cx="293.11" cy="213.6" r="2.4" fill="url(#rbc2)"/>
<circle cx="296.99" cy="216.84" r="2.4" fill="url(#rbc2)"/>
<circle cx="300.88" cy="218.78" r="2.4" fill="url(#rbc2)"/>
<circle cx="289.87" cy="218.13" r="2.4" fill="url(#rbc2)"/>
<circle cx="295.7" cy="222.02" r="2.4" fill="url(#rbc2)"/>
<circle cx="299.59" cy="223.96" r="2.4" fill="url(#rbc2)"/>
<circle cx="290.52" cy="225.91" r="2.4" fill="url(#rbc2)"/>
<circle cx="294.4" cy="227.85" r="2.4" fill="url(#rbc2)"/>
<circle cx="298.29" cy="230.44" r="2.4" fill="url(#rbc2)"/>
<circle cx="301.53" cy="232.38" r="2.4" fill="url(#rbc2)"/>
<circle cx="244.53" cy="225.91" r="2.4" fill="url(#rbc2)"/>
<circle cx="247.77" cy="227.85" r="2.4" fill="url(#rbc2)"/>
<circle cx="252.95" cy="228.5" r="2.4" fill="url(#rbc2)"/>
<circle cx="256.84" cy="226.55" r="2.4" fill="url(#rbc2)"/>
<circle cx="263.96" cy="227.2" r="2.4" fill="url(#rbc2)"/>
<circle cx="269.79" cy="229.15" r="2.4" fill="url(#rbc2)"/>
<circle cx="274.33" cy="226.55" r="2.4" fill="url(#rbc2)"/>
<circle cx="278.86" cy="228.5" r="2.4" fill="url(#rbc2)"/>
<circle cx="282.1" cy="231.74" r="2.4" fill="url(#rbc2)"/>
<circle cx="262.02" cy="233.68" r="2.4" fill="url(#rbc2)"/>
<circle cx="271.74" cy="233.68" r="2.4" fill="url(#rbc2)"/>
<circle cx="256.84" cy="236.27" r="2.4" fill="url(#rbc2)"/>
<circle cx="252.95" cy="238.86" r="2.4" fill="url(#rbc2)"/>
<circle cx="274.33" cy="238.21" r="2.4" fill="url(#rbc2)"/>
<circle cx="295.05" cy="238.21" r="2.4" fill="url(#rbc2)"/>
<circle cx="300.88" cy="237.56" r="2.4" fill="url(#rbc2)"/>
<circle cx="245.18" cy="242.75" r="2.4" fill="url(#rbc2)"/>
<circle cx="252.95" cy="243.39" r="2.4" fill="url(#rbc2)"/>
<circle cx="264.61" cy="245.34" r="2.4" fill="url(#rbc2)"/>
<circle cx="271.09" cy="242.75" r="2.4" fill="url(#rbc2)"/>
<circle cx="302.18" cy="244.04" r="2.4" fill="url(#rbc2)"/>
<circle cx="243.89" cy="232.38" r="2.4" fill="url(#rbc2)"/>
<circle cx="258.78" cy="205.18" r="2.4" fill="url(#rbc2)"/>
<circle cx="265.91" cy="205.18" r="2.4" fill="url(#rbc2)"/>
<circle cx="278.86" cy="204.53" r="2.4" fill="url(#rbc2)"/>
<circle cx="300.88" cy="207.77" r="2.4" fill="url(#rbc2)"/>
</g>
<line x1="281.8" y1="235.4" x2="287.5" y2="235.4" stroke="#7a8a9a" stroke-width="0.7"/>
<text x="279.3" y="245.8" font-size="8.6" text-anchor="start" font-weight="normal" fill="#111" stroke="#111" stroke-width="0.2" textLength="19.4" lengthAdjust="spacingAndGlyphs">10μM</text>
<text x="236.7" y="178.5" font-size="8.5" text-anchor="middle" font-weight="normal" fill="#2a2a2a" stroke="#2a2a2a" stroke-width="0.2" transform="rotate(-90 236.7 178.5)" textLength="26.7" lengthAdjust="spacingAndGlyphs">MA9-WT</text>
<text x="237.3" y="228.2" font-size="8.5" text-anchor="middle" font-weight="normal" fill="#2a2a2a" stroke="#2a2a2a" stroke-width="0.2" transform="rotate(-90 237.3 228.2)" textLength="29" lengthAdjust="spacingAndGlyphs">MA9 HET</text>
<text x="314.4" y="155.2" font-size="12" text-anchor="start" font-weight="bold" fill="#000" stroke="#000" stroke-width="0.35">H</text>
<defs><filter id="bl" x="-20%" y="-20%" width="140%" height="140%"><feGaussianBlur stdDeviation="0.6"/></filter><filter id="bl2" x="-30%" y="-30%" width="160%" height="160%"><feGaussianBlur stdDeviation="1.0"/></filter></defs>
<path d="M376.2 172.9h0.7v0.7h-0.7zM364.3 172.1h0.7v0.7h-0.7zM368 167.5h0.7v0.7h-0.7zM387.1 177.6h0.7v0.7h-0.7zM370.4 174.2h0.7v0.7h-0.7zM369.7 174.2h0.7v0.7h-0.7zM370.4 179.7h0.7v0.7h-0.7zM372.6 171.4h0.7v0.7h-0.7zM364.9 175h0.7v0.7h-0.7zM364.4 172h0.7v0.7h-0.7zM380.5 173.3h0.7v0.7h-0.7zM361.2 177h0.7v0.7h-0.7zM372.1 173.8h0.7v0.7h-0.7zM385.4 179.4h0.7v0.7h-0.7zM375.4 170.6h0.7v0.7h-0.7zM371.1 174.7h0.7v0.7h-0.7zM369 167.8h0.7v0.7h-0.7zM367.2 173.3h0.7v0.7h-0.7zM370.1 170.8h0.7v0.7h-0.7zM376.5 179.6h0.7v0.7h-0.7zM386.4 176.9h0.7v0.7h-0.7zM383.9 176h0.7v0.7h-0.7zM370.3 181.6h0.7v0.7h-0.7zM368.8 179.9h0.7v0.7h-0.7zM381.5 176.8h0.7v0.7h-0.7zM359.2 170.9h0.7v0.7h-0.7zM371.4 167.7h0.7v0.7h-0.7zM372.4 173.7h0.7v0.7h-0.7zM365.4 172.3h0.7v0.7h-0.7zM366.4 171.1h0.7v0.7h-0.7zM378.4 172.6h0.7v0.7h-0.7zM360.6 166.8h0.7v0.7h-0.7zM367.1 180.1h0.7v0.7h-0.7zM369.5 169h0.7v0.7h-0.7zM376 171h0.7v0.7h-0.7zM363 176.2h0.7v0.7h-0.7zM384.9 166.9h0.7v0.7h-0.7zM372.5 177.7h0.7v0.7h-0.7zM372.9 177.8h0.7v0.7h-0.7zM372 172.5h0.7v0.7h-0.7zM369.2 169.2h0.7v0.7h-0.7zM366.5 171.8h0.7v0.7h-0.7zM385.4 165.9h0.7v0.7h-0.7zM377 179.7h0.7v0.7h-0.7zM374.2 174h0.7v0.7h-0.7zM384 170.7h0.7v0.7h-0.7zM368.8 169.9h0.7v0.7h-0.7zM380.7 176.2h0.7v0.7h-0.7zM375.3 180.2h0.7v0.7h-0.7zM367.2 168.4h0.7v0.7h-0.7zM381.9 171.4h0.7v0.7h-0.7zM361.8 166.3h0.7v0.7h-0.7zM380.9 176.7h0.7v0.7h-0.7zM367.3 174.5h0.7v0.7h-0.7zM378.7 183.4h0.7v0.7h-0.7zM387.3 173.3h0.7v0.7h-0.7zM380.1 171.9h0.7v0.7h-0.7zM369.7 170.8h0.7v0.7h-0.7zM374.8 177.4h0.7v0.7h-0.7zM371.8 166.9h0.7v0.7h-0.7zM364.7 177h0.7v0.7h-0.7zM365.2 174.9h0.7v0.7h-0.7zM375.4 171.6h0.7v0.7h-0.7zM379.8 170h0.7v0.7h-0.7zM359.4 178.3h0.7v0.7h-0.7zM374.4 181.7h0.7v0.7h-0.7zM379.5 171.9h0.7v0.7h-0.7zM376 176.1h0.7v0.7h-0.7zM366.1 181.2h0.7v0.7h-0.7zM384.2 171.2h0.7v0.7h-0.7zM364.2 172.7h0.7v0.7h-0.7zM380.7 168.6h0.7v0.7h-0.7zM356.9 173.5h0.7v0.7h-0.7zM377.2 172h0.7v0.7h-0.7zM377.7 170.6h0.7v0.7h-0.7zM376.9 167h0.7v0.7h-0.7zM368.1 168.1h0.7v0.7h-0.7zM372.2 169.6h0.7v0.7h-0.7zM362.6 176.5h0.7v0.7h-0.7zM376.1 171.6h0.7v0.7h-0.7zM379.7 170.2h0.7v0.7h-0.7zM369 176.6h0.7v0.7h-0.7zM366.7 176.2h0.7v0.7h-0.7zM370.7 170.6h0.7v0.7h-0.7zM374.8 171.1h0.7v0.7h-0.7zM375.4 176.6h0.7v0.7h-0.7zM374 175.4h0.7v0.7h-0.7zM375.5 170.2h0.7v0.7h-0.7zM363.3 174.8h0.7v0.7h-0.7zM350.7 173.7h0.7v0.7h-0.7zM380.3 178.6h0.7v0.7h-0.7zM387.4 170.1h0.7v0.7h-0.7zM362.3 177.6h0.7v0.7h-0.7zM369 175.7h0.7v0.7h-0.7zM377.5 169.5h0.7v0.7h-0.7zM383.3 178.3h0.7v0.7h-0.7zM380.6 177.7h0.7v0.7h-0.7zM386.1 168.1h0.7v0.7h-0.7zM374.4 182.3h0.7v0.7h-0.7zM378.5 168.9h0.7v0.7h-0.7zM378.5 169.9h0.7v0.7h-0.7zM371 172.4h0.7v0.7h-0.7zM385.4 177.1h0.7v0.7h-0.7zM380.3 176.3h0.7v0.7h-0.7zM383.5 173.4h0.7v0.7h-0.7zM371.4 179.7h0.7v0.7h-0.7zM383.9 175.5h0.7v0.7h-0.7zM365.5 179.8h0.7v0.7h-0.7zM378.3 185.9h0.7v0.7h-0.7zM351.8 174.6h0.7v0.7h-0.7zM365.9 162.7h0.7v0.7h-0.7zM381.3 171.9h0.7v0.7h-0.7zM370.8 169.2h0.7v0.7h-0.7zM376.3 174.2h0.7v0.7h-0.7zM360.5 174.2h0.7v0.7h-0.7zM380.1 168.8h0.7v0.7h-0.7zM374.6 172.7h0.7v0.7h-0.7zM378.5 173h0.7v0.7h-0.7zM377.7 162.5h0.7v0.7h-0.7zM387.3 178h0.7v0.7h-0.7zM376.7 173.9h0.7v0.7h-0.7zM361.8 173.8h0.7v0.7h-0.7zM372.6 175.1h0.7v0.7h-0.7zM386.1 169.4h0.7v0.7h-0.7zM379.8 173.6h0.7v0.7h-0.7zM371.1 178.3h0.7v0.7h-0.7zM380.2 178.5h0.7v0.7h-0.7zM375.8 175.8h0.7v0.7h-0.7zM380.2 172.6h0.7v0.7h-0.7zM360.8 170.2h0.7v0.7h-0.7zM366.9 179.5h0.7v0.7h-0.7zM380.7 176.1h0.7v0.7h-0.7zM372.8 172h0.7v0.7h-0.7zM377.9 164.3h0.7v0.7h-0.7zM372.1 165.4h0.7v0.7h-0.7zM376.9 179.2h0.7v0.7h-0.7zM369.9 174.6h0.7v0.7h-0.7zM369.3 170.5h0.7v0.7h-0.7zM374.1 172.6h0.7v0.7h-0.7zM362 185.2h0.7v0.7h-0.7zM356.3 179.1h0.7v0.7h-0.7zM386.8 167.9h0.7v0.7h-0.7zM373.9 173.2h0.7v0.7h-0.7zM384.7 168.4h0.7v0.7h-0.7zM375.9 166.2h0.7v0.7h-0.7zM376.1 174.6h0.7v0.7h-0.7zM380.7 184.4h0.7v0.7h-0.7zM381.1 180.7h0.7v0.7h-0.7zM364.2 174h0.7v0.7h-0.7zM385.4 172.1h0.7v0.7h-0.7zM366.3 174.7h0.7v0.7h-0.7zM376.6 178.4h0.7v0.7h-0.7zM375.5 165.6h0.7v0.7h-0.7zM371.8 175h0.7v0.7h-0.7zM380.2 180.9h0.7v0.7h-0.7zM375.3 174.8h0.7v0.7h-0.7zM378.5 180.3h0.7v0.7h-0.7zM367.3 171.1h0.7v0.7h-0.7zM366.7 176h0.7v0.7h-0.7zM377.8 180.7h0.7v0.7h-0.7zM361.1 178.3h0.7v0.7h-0.7zM367.4 171.8h0.7v0.7h-0.7zM380.5 177.8h0.7v0.7h-0.7zM369.4 170.9h0.7v0.7h-0.7zM367 167.5h0.7v0.7h-0.7zM365.1 176.1h0.7v0.7h-0.7zM376.1 180h0.7v0.7h-0.7zM371.6 177.6h0.7v0.7h-0.7zM376.1 168.2h0.7v0.7h-0.7zM373.2 177.7h0.7v0.7h-0.7zM371 171.8h0.7v0.7h-0.7zM357.6 162.7h0.7v0.7h-0.7zM375.8 178.3h0.7v0.7h-0.7zM374.8 177.7h0.7v0.7h-0.7zM376.2 176h0.7v0.7h-0.7zM360.7 166.1h0.7v0.7h-0.7zM384.8 167.2h0.7v0.7h-0.7zM374.5 178.3h0.7v0.7h-0.7zM374.4 177.4h0.7v0.7h-0.7zM360.9 176h0.7v0.7h-0.7zM379 172.7h0.7v0.7h-0.7zM374.2 175.6h0.7v0.7h-0.7zM386.7 171.4h0.7v0.7h-0.7zM371.2 172.4h0.7v0.7h-0.7zM364 169.9h0.7v0.7h-0.7zM375.9 175h0.7v0.7h-0.7zM366.8 171.9h0.7v0.7h-0.7zM378.5 178.1h0.7v0.7h-0.7zM365.3 177h0.7v0.7h-0.7zM373.7 170.2h0.7v0.7h-0.7zM372.8 182h0.7v0.7h-0.7zM374.5 168.8h0.7v0.7h-0.7zM370.3 175.8h0.7v0.7h-0.7zM367.7 178.7h0.7v0.7h-0.7zM374.3 179.5h0.7v0.7h-0.7zM369.7 163.9h0.7v0.7h-0.7zM376.2 178.3h0.7v0.7h-0.7zM372.4 179.3h0.7v0.7h-0.7zM355.2 180.2h0.7v0.7h-0.7zM374.3 163.8h0.7v0.7h-0.7zM387 170.8h0.7v0.7h-0.7zM377.5 173.4h0.7v0.7h-0.7zM380.1 171.8h0.7v0.7h-0.7zM378.8 179.8h0.7v0.7h-0.7zM370.7 170.8h0.7v0.7h-0.7zM363.2 179.3h0.7v0.7h-0.7zM381.9 176.3h0.7v0.7h-0.7zM384 167.3h0.7v0.7h-0.7zM379.8 169.3h0.7v0.7h-0.7zM378.5 171.7h0.7v0.7h-0.7zM378.3 174.2h0.7v0.7h-0.7zM374.6 178.3h0.7v0.7h-0.7zM377.2 173h0.7v0.7h-0.7zM374.9 177.9h0.7v0.7h-0.7zM377.7 166.7h0.7v0.7h-0.7zM366.6 160.1h0.7v0.7h-0.7zM369.3 172.3h0.7v0.7h-0.7zM379.8 175.9h0.7v0.7h-0.7zM371.9 172.2h0.7v0.7h-0.7zM353.8 169.3h0.7v0.7h-0.7zM375.9 175.7h0.7v0.7h-0.7zM355 182.5h0.7v0.7h-0.7zM381.1 170.5h0.7v0.7h-0.7zM380.7 170h0.7v0.7h-0.7zM369.1 182.6h0.7v0.7h-0.7zM365 173.6h0.7v0.7h-0.7zM373 176.6h0.7v0.7h-0.7zM375 179.3h0.7v0.7h-0.7zM368.2 178.6h0.7v0.7h-0.7zM376.2 169.7h0.7v0.7h-0.7zM380.8 178.1h0.7v0.7h-0.7zM380 177.6h0.7v0.7h-0.7zM365.9 176h0.7v0.7h-0.7zM356.1 178.3h0.7v0.7h-0.7zM374.9 171.3h0.7v0.7h-0.7zM369.2 173.5h0.7v0.7h-0.7zM378.7 171.4h0.7v0.7h-0.7zM377.4 175.6h0.7v0.7h-0.7zM384.5 168.9h0.7v0.7h-0.7zM375.3 172.2h0.7v0.7h-0.7zM377.2 173.3h0.7v0.7h-0.7zM382.3 174.4h0.7v0.7h-0.7zM374.6 173h0.7v0.7h-0.7zM370.6 172.8h0.7v0.7h-0.7zM368.4 164.5h0.7v0.7h-0.7zM375 178.8h0.7v0.7h-0.7zM369.6 171h0.7v0.7h-0.7zM381.8 172.7h0.7v0.7h-0.7zM372.1 170.1h0.7v0.7h-0.7zM387.5 178.3h0.7v0.7h-0.7zM385.4 169.7h0.7v0.7h-0.7zM364.3 176.1h0.7v0.7h-0.7zM384.3 179.1h0.7v0.7h-0.7zM371.5 181.2h0.7v0.7h-0.7zM386.8 179.1h0.7v0.7h-0.7zM379.4 176.6h0.7v0.7h-0.7zM374.6 168.4h0.7v0.7h-0.7zM380.8 179.6h0.7v0.7h-0.7zM370.2 179.1h0.7v0.7h-0.7zM377.8 177.6h0.7v0.7h-0.7zM378.3 177.4h0.7v0.7h-0.7zM373.7 174.2h0.7v0.7h-0.7zM378.3 171.5h0.7v0.7h-0.7zM366.4 178.7h0.7v0.7h-0.7zM379.8 179.5h0.7v0.7h-0.7zM364.6 169.2h0.7v0.7h-0.7zM380.4 177.9h0.7v0.7h-0.7zM379.1 174.9h0.7v0.7h-0.7zM381.1 177.8h0.7v0.7h-0.7zM370.3 175.1h0.7v0.7h-0.7zM373.1 178.4h0.7v0.7h-0.7zM376.4 177.8h0.7v0.7h-0.7zM368.6 167.7h0.7v0.7h-0.7zM387.4 177.5h0.7v0.7h-0.7zM371.1 174.1h0.7v0.7h-0.7zM383.6 168.8h0.7v0.7h-0.7zM367 177h0.7v0.7h-0.7zM377.8 167.7h0.7v0.7h-0.7zM372 177.9h0.7v0.7h-0.7zM383.1 181.5h0.7v0.7h-0.7zM372.7 171.6h0.7v0.7h-0.7zM367.8 178h0.7v0.7h-0.7zM379 175.9h0.7v0.7h-0.7zM365 176.8h0.7v0.7h-0.7zM367 167.8h0.7v0.7h-0.7zM381.8 176.6h0.7v0.7h-0.7zM359.2 174.5h0.7v0.7h-0.7zM381.7 177.2h0.7v0.7h-0.7zM371.8 173.9h0.7v0.7h-0.7zM367.4 178.8h0.7v0.7h-0.7zM377.3 175.1h0.7v0.7h-0.7zM380.6 176.9h0.7v0.7h-0.7zM370.3 180h0.7v0.7h-0.7zM373.7 174.7h0.7v0.7h-0.7zM382.1 178.3h0.7v0.7h-0.7zM381.7 174.9h0.7v0.7h-0.7zM374.8 176.2h0.7v0.7h-0.7zM368.7 171.6h0.7v0.7h-0.7zM367.2 177.4h0.7v0.7h-0.7zM370.2 179.4h0.7v0.7h-0.7zM381.1 173.6h0.7v0.7h-0.7zM380.2 177.5h0.7v0.7h-0.7zM377.9 175.8h0.7v0.7h-0.7zM387.2 169h0.7v0.7h-0.7zM372.8 175.5h0.7v0.7h-0.7zM372.1 179.8h0.7v0.7h-0.7zM372.1 171.8h0.7v0.7h-0.7zM357.9 174.8h0.7v0.7h-0.7zM377.8 171.1h0.7v0.7h-0.7zM379.2 182.4h0.7v0.7h-0.7zM375.9 173.8h0.7v0.7h-0.7zM385.4 171.2h0.7v0.7h-0.7zM382 175.1h0.7v0.7h-0.7zM367.8 171.4h0.7v0.7h-0.7zM379.7 170h0.7v0.7h-0.7zM372.3 173.7h0.7v0.7h-0.7zM375.8 170.4h0.7v0.7h-0.7zM377.1 179.8h0.7v0.7h-0.7zM371.4 168.8h0.7v0.7h-0.7zM380.8 173.6h0.7v0.7h-0.7zM384.3 167.9h0.7v0.7h-0.7zM377.3 181.3h0.7v0.7h-0.7zM359.1 164.7h0.7v0.7h-0.7zM384.7 180.4h0.7v0.7h-0.7zM384.6 167.7h0.7v0.7h-0.7zM373.9 174.4h0.7v0.7h-0.7zM371.5 184h0.7v0.7h-0.7zM381.1 164.6h0.7v0.7h-0.7zM368.7 167.9h0.7v0.7h-0.7zM382.3 179.8h0.7v0.7h-0.7zM366.4 174.7h0.7v0.7h-0.7zM367.8 171.5h0.7v0.7h-0.7zM375.7 173.8h0.7v0.7h-0.7zM363.2 169.7h0.7v0.7h-0.7zM375.6 174.5h0.7v0.7h-0.7zM380.1 180.6h0.7v0.7h-0.7zM364.4 172.3h0.7v0.7h-0.7zM383.4 174.6h0.7v0.7h-0.7zM370.8 179.3h0.7v0.7h-0.7zM380.2 182.7h0.7v0.7h-0.7zM377.4 171.4h0.7v0.7h-0.7zM371.7 175.3h0.7v0.7h-0.7zM371.2 171.5h0.7v0.7h-0.7zM361.2 171.1h0.7v0.7h-0.7zM369.7 172.2h0.7v0.7h-0.7zM369.1 171.2h0.7v0.7h-0.7zM384.2 165.2h0.7v0.7h-0.7zM364 170.7h0.7v0.7h-0.7zM382.4 174.5h0.7v0.7h-0.7zM377.5 179.3h0.7v0.7h-0.7zM372.4 171.6h0.7v0.7h-0.7zM379.5 173.2h0.7v0.7h-0.7zM382.3 176.9h0.7v0.7h-0.7zM370.8 177.2h0.7v0.7h-0.7zM373.3 173.5h0.7v0.7h-0.7zM377 173.7h0.7v0.7h-0.7zM367.3 182.2h0.7v0.7h-0.7zM377.2 172.5h0.7v0.7h-0.7zM375 171.8h0.7v0.7h-0.7zM369.9 166.8h0.7v0.7h-0.7zM368.6 175.9h0.7v0.7h-0.7zM378.2 172.8h0.7v0.7h-0.7zM383 182.4h0.7v0.7h-0.7zM378.4 172.5h0.7v0.7h-0.7zM368.4 177.5h0.7v0.7h-0.7zM382 178.1h0.7v0.7h-0.7zM377.1 181.2h0.7v0.7h-0.7zM380.7 168.2h0.7v0.7h-0.7zM385.5 180.9h0.7v0.7h-0.7zM368.1 174h0.7v0.7h-0.7zM374.5 173.5h0.7v0.7h-0.7zM370.6 172.6h0.7v0.7h-0.7zM368.3 172.2h0.7v0.7h-0.7zM383.6 163.7h0.7v0.7h-0.7zM360.8 176.2h0.7v0.7h-0.7zM379.3 174.2h0.7v0.7h-0.7zM371 169.8h0.7v0.7h-0.7zM385.3 173.7h0.7v0.7h-0.7zM376.4 184.1h0.7v0.7h-0.7zM374.2 175.6h0.7v0.7h-0.7zM376.9 172.3h0.7v0.7h-0.7zM378.9 181.5h0.7v0.7h-0.7zM375.9 170.5h0.7v0.7h-0.7zM373.8 173.3h0.7v0.7h-0.7zM374.5 171.5h0.7v0.7h-0.7zM380 172.9h0.7v0.7h-0.7zM366.2 177.2h0.7v0.7h-0.7zM375.7 176.5h0.7v0.7h-0.7zM374.7 170.7h0.7v0.7h-0.7zM371.6 173.4h0.7v0.7h-0.7zM381.9 174.3h0.7v0.7h-0.7zM364.8 172.2h0.7v0.7h-0.7zM372.6 173.8h0.7v0.7h-0.7zM368.5 170.8h0.7v0.7h-0.7zM380.3 170.7h0.7v0.7h-0.7zM371.8 174.1h0.7v0.7h-0.7zM376.1 169.4h0.7v0.7h-0.7zM378.9 175.8h0.7v0.7h-0.7zM362.3 173.1h0.7v0.7h-0.7zM379.5 169.9h0.7v0.7h-0.7zM369.4 171.3h0.7v0.7h-0.7zM373.6 171.8h0.7v0.7h-0.7zM374.7 173.2h0.7v0.7h-0.7zM382.5 174.4h0.7v0.7h-0.7zM381.9 173h0.7v0.7h-0.7zM377.2 180.2h0.7v0.7h-0.7zM371.7 177.9h0.7v0.7h-0.7zM371.5 174.4h0.7v0.7h-0.7zM381.2 178.1h0.7v0.7h-0.7zM378.6 172.8h0.7v0.7h-0.7zM370.9 174.3h0.7v0.7h-0.7zM378 185.6h0.7v0.7h-0.7zM377.8 178.3h0.7v0.7h-0.7zM376 178.5h0.7v0.7h-0.7zM369.5 172.2h0.7v0.7h-0.7zM354.4 176.6h0.7v0.7h-0.7zM371.2 183.8h0.7v0.7h-0.7zM384.5 175.8h0.7v0.7h-0.7zM377.5 178.6h0.7v0.7h-0.7zM357.1 179.4h0.7v0.7h-0.7zM375.7 176.7h0.7v0.7h-0.7zM360.2 180.8h0.7v0.7h-0.7zM377.3 176.1h0.7v0.7h-0.7zM365.6 171.2h0.7v0.7h-0.7zM382.4 185.5h0.7v0.7h-0.7zM369.1 175.3h0.7v0.7h-0.7zM380.4 174.4h0.7v0.7h-0.7zM375.9 180h0.7v0.7h-0.7zM365.8 171.8h0.7v0.7h-0.7zM381.3 173.9h0.7v0.7h-0.7zM364.4 170.5h0.7v0.7h-0.7zM387 174h0.7v0.7h-0.7zM376.2 172.2h0.7v0.7h-0.7zM367.1 176.3h0.7v0.7h-0.7zM360.5 173.4h0.7v0.7h-0.7zM387.9 172.6h0.7v0.7h-0.7zM365.1 173.4h0.7v0.7h-0.7zM377.1 178h0.7v0.7h-0.7zM373.8 176.9h0.7v0.7h-0.7zM375 174.6h0.7v0.7h-0.7zM373.4 168.7h0.7v0.7h-0.7zM387.7 176.2h0.7v0.7h-0.7zM377 168.4h0.7v0.7h-0.7zM360.2 174.7h0.7v0.7h-0.7zM383.1 171.4h0.7v0.7h-0.7zM366.5 170.3h0.7v0.7h-0.7zM372.7 170.9h0.7v0.7h-0.7zM368.1 182.9h0.7v0.7h-0.7zM376.1 172.8h0.7v0.7h-0.7zM379 173h0.7v0.7h-0.7zM377.7 178.1h0.7v0.7h-0.7zM370.7 175.7h0.7v0.7h-0.7zM369 178.5h0.7v0.7h-0.7zM382.8 168.6h0.7v0.7h-0.7zM374.9 169.2h0.7v0.7h-0.7zM368.9 173.7h0.7v0.7h-0.7zM382.3 172.7h0.7v0.7h-0.7zM376.1 174.6h0.7v0.7h-0.7zM369.3 178.2h0.7v0.7h-0.7zM387.2 168.8h0.7v0.7h-0.7zM376.7 175.2h0.7v0.7h-0.7zM368.2 173.8h0.7v0.7h-0.7zM373 176.8h0.7v0.7h-0.7zM384.3 174.7h0.7v0.7h-0.7zM365.4 171.6h0.7v0.7h-0.7zM387.3 170.2h0.7v0.7h-0.7zM381.5 163.3h0.7v0.7h-0.7zM373.4 178.2h0.7v0.7h-0.7zM387.1 167.5h0.7v0.7h-0.7zM380.7 181.1h0.7v0.7h-0.7zM377.1 172.1h0.7v0.7h-0.7zM367.9 176.9h0.7v0.7h-0.7zM374 174h0.7v0.7h-0.7zM356 175.1h0.7v0.7h-0.7zM366.8 169.9h0.7v0.7h-0.7zM357.4 175.2h0.7v0.7h-0.7zM351.2 167.8h0.7v0.7h-0.7zM357.1 169.9h0.7v0.7h-0.7zM362.1 168.4h0.7v0.7h-0.7zM352.5 176.4h0.7v0.7h-0.7zM363.5 167.6h0.7v0.7h-0.7zM363.4 169.3h0.7v0.7h-0.7zM371.2 174.5h0.7v0.7h-0.7zM355.3 173.3h0.7v0.7h-0.7zM362.8 178.9h0.7v0.7h-0.7zM349.3 177.9h0.7v0.7h-0.7zM356.5 174.4h0.7v0.7h-0.7zM359.6 174.6h0.7v0.7h-0.7zM361.3 167.4h0.7v0.7h-0.7zM358.6 170.1h0.7v0.7h-0.7zM358.4 171.7h0.7v0.7h-0.7zM355.4 172.1h0.7v0.7h-0.7zM356.4 168.7h0.7v0.7h-0.7zM360.7 169.9h0.7v0.7h-0.7zM362.2 170.2h0.7v0.7h-0.7zM362.6 175.6h0.7v0.7h-0.7zM364.7 173.8h0.7v0.7h-0.7zM365.8 171.6h0.7v0.7h-0.7zM348.6 171.8h0.7v0.7h-0.7zM355.9 173.4h0.7v0.7h-0.7zM358 170.6h0.7v0.7h-0.7zM355.2 171.8h0.7v0.7h-0.7zM365 167.7h0.7v0.7h-0.7zM363.3 174.5h0.7v0.7h-0.7zM358.3 175.4h0.7v0.7h-0.7zM359.7 173.6h0.7v0.7h-0.7zM366.2 174h0.7v0.7h-0.7zM357 173.6h0.7v0.7h-0.7zM357.1 178.5h0.7v0.7h-0.7zM364.2 173.2h0.7v0.7h-0.7zM361.7 168.8h0.7v0.7h-0.7zM367.1 169.6h0.7v0.7h-0.7zM361.1 174.6h0.7v0.7h-0.7zM363.3 175.7h0.7v0.7h-0.7zM355.8 174.8h0.7v0.7h-0.7zM353.5 175h0.7v0.7h-0.7zM358.9 173.1h0.7v0.7h-0.7zM361.3 170.6h0.7v0.7h-0.7zM364.5 167.4h0.7v0.7h-0.7zM359.4 171.5h0.7v0.7h-0.7zM357.7 168.7h0.7v0.7h-0.7zM365.2 172.9h0.7v0.7h-0.7zM358.7 172.1h0.7v0.7h-0.7zM364.6 167h0.7v0.7h-0.7zM371.6 174.7h0.7v0.7h-0.7zM363.1 174.8h0.7v0.7h-0.7zM364.3 168.6h0.7v0.7h-0.7zM361.8 173h0.7v0.7h-0.7zM360.4 174.7h0.7v0.7h-0.7zM360.5 171.8h0.7v0.7h-0.7zM359.3 175h0.7v0.7h-0.7zM365.2 173.1h0.7v0.7h-0.7zM349.7 175.7h0.7v0.7h-0.7zM357.4 173.1h0.7v0.7h-0.7zM362.7 172.1h0.7v0.7h-0.7zM354.1 174.1h0.7v0.7h-0.7zM358.4 174.8h0.7v0.7h-0.7zM355 173.3h0.7v0.7h-0.7zM361.5 171.3h0.7v0.7h-0.7zM363.9 170.3h0.7v0.7h-0.7zM367.3 171.5h0.7v0.7h-0.7zM361.8 170.9h0.7v0.7h-0.7zM354.8 173.2h0.7v0.7h-0.7zM360.4 173.1h0.7v0.7h-0.7zM362.2 172.3h0.7v0.7h-0.7zM367.1 172.6h0.7v0.7h-0.7zM346.7 173.1h0.7v0.7h-0.7zM361.1 177.1h0.7v0.7h-0.7zM348.5 176h0.7v0.7h-0.7zM363.1 170.9h0.7v0.7h-0.7zM361.5 173.8h0.7v0.7h-0.7zM361.8 171.6h0.7v0.7h-0.7zM364 172.3h0.7v0.7h-0.7zM361.2 171.9h0.7v0.7h-0.7zM355.3 170.8h0.7v0.7h-0.7zM361 168.6h0.7v0.7h-0.7zM365.8 165.4h0.7v0.7h-0.7zM358.3 173.1h0.7v0.7h-0.7zM359.1 176h0.7v0.7h-0.7zM352 169.9h0.7v0.7h-0.7zM365.6 174h0.7v0.7h-0.7zM356.1 171.4h0.7v0.7h-0.7zM354.7 173.4h0.7v0.7h-0.7zM356.4 170.2h0.7v0.7h-0.7zM354 171.9h0.7v0.7h-0.7zM357.5 172.2h0.7v0.7h-0.7zM366.3 165.7h0.7v0.7h-0.7zM363.5 173.2h0.7v0.7h-0.7zM367.1 172.1h0.7v0.7h-0.7zM367.5 165.4h0.7v0.7h-0.7zM353.8 174.4h0.7v0.7h-0.7zM361.7 172.4h0.7v0.7h-0.7zM367.5 173.1h0.7v0.7h-0.7zM372.1 173.6h0.7v0.7h-0.7zM350.9 171.3h0.7v0.7h-0.7zM350.8 169.4h0.7v0.7h-0.7zM361.6 171.2h0.7v0.7h-0.7zM357 171.3h0.7v0.7h-0.7zM353.3 179h0.7v0.7h-0.7zM361.1 177.9h0.7v0.7h-0.7zM354.4 171.1h0.7v0.7h-0.7zM346 171.3h0.7v0.7h-0.7zM358.8 173.5h0.7v0.7h-0.7zM359.7 174.2h0.7v0.7h-0.7zM362.6 170.5h0.7v0.7h-0.7zM364.3 169.6h0.7v0.7h-0.7zM360 178.1h0.7v0.7h-0.7zM357.6 175.6h0.7v0.7h-0.7zM355.1 168h0.7v0.7h-0.7zM349.5 167.4h0.7v0.7h-0.7zM356.4 170.1h0.7v0.7h-0.7zM364.7 173.2h0.7v0.7h-0.7zM362.7 174.1h0.7v0.7h-0.7zM370.7 171.5h0.7v0.7h-0.7zM358.1 167.8h0.7v0.7h-0.7zM348.7 173.2h0.7v0.7h-0.7zM363.7 174.3h0.7v0.7h-0.7zM364.9 172.5h0.7v0.7h-0.7zM352.2 171.1h0.7v0.7h-0.7zM349.7 174.2h0.7v0.7h-0.7zM359.8 172.4h0.7v0.7h-0.7zM363 169.3h0.7v0.7h-0.7zM352.5 172.8h0.7v0.7h-0.7zM357 168.7h0.7v0.7h-0.7zM354.5 175.3h0.7v0.7h-0.7zM352.2 173.9h0.7v0.7h-0.7zM351.4 169.6h0.7v0.7h-0.7zM359.7 173.1h0.7v0.7h-0.7zM356.8 176.2h0.7v0.7h-0.7zM355.1 166.3h0.7v0.7h-0.7zM344 172.1h0.7v0.7h-0.7zM368.9 177.3h0.7v0.7h-0.7zM353.5 168h0.7v0.7h-0.7zM358.1 172h0.7v0.7h-0.7zM352.4 168.4h0.7v0.7h-0.7zM361.1 172.3h0.7v0.7h-0.7zM350.3 165.5h0.7v0.7h-0.7zM359.4 167.8h0.7v0.7h-0.7zM357.8 170.9h0.7v0.7h-0.7zM364.2 172.9h0.7v0.7h-0.7zM352.6 173.6h0.7v0.7h-0.7zM355.2 173.8h0.7v0.7h-0.7zM357.5 175.9h0.7v0.7h-0.7zM370.9 174.6h0.7v0.7h-0.7zM350.4 174.7h0.7v0.7h-0.7zM360.6 169.6h0.7v0.7h-0.7zM355.1 172.1h0.7v0.7h-0.7zM360.7 181.8h0.7v0.7h-0.7zM362.6 179.2h0.7v0.7h-0.7zM359.7 174.9h0.7v0.7h-0.7zM360.4 174.7h0.7v0.7h-0.7zM360.5 175.4h0.7v0.7h-0.7zM355.5 171.3h0.7v0.7h-0.7zM357.6 178.3h0.7v0.7h-0.7zM349.4 171.4h0.7v0.7h-0.7zM356.8 172.3h0.7v0.7h-0.7zM354.5 178.9h0.7v0.7h-0.7zM357.4 166.4h0.7v0.7h-0.7zM363.1 173.6h0.7v0.7h-0.7zM361 167.4h0.7v0.7h-0.7zM361.6 170.6h0.7v0.7h-0.7zM365.2 172.2h0.7v0.7h-0.7zM345.2 171.5h0.7v0.7h-0.7zM361.3 173h0.7v0.7h-0.7zM358.7 170.2h0.7v0.7h-0.7zM358.3 172.2h0.7v0.7h-0.7zM351.4 169h0.7v0.7h-0.7zM362 171.4h0.7v0.7h-0.7zM365.4 168.4h0.7v0.7h-0.7zM364.7 174.4h0.7v0.7h-0.7zM358.4 168.7h0.7v0.7h-0.7zM362.5 174.6h0.7v0.7h-0.7zM364.1 171.3h0.7v0.7h-0.7zM369.3 171.6h0.7v0.7h-0.7zM365.9 176h0.7v0.7h-0.7zM359.7 172.8h0.7v0.7h-0.7zM359.4 166.9h0.7v0.7h-0.7zM359.8 174h0.7v0.7h-0.7zM360.1 163.9h0.7v0.7h-0.7zM356 173.3h0.7v0.7h-0.7zM363.3 171.3h0.7v0.7h-0.7zM354.9 168.4h0.7v0.7h-0.7zM354.2 172.7h0.7v0.7h-0.7zM360.9 171.6h0.7v0.7h-0.7zM355.5 178.5h0.7v0.7h-0.7zM357.4 171.2h0.7v0.7h-0.7zM346.9 178.3h0.7v0.7h-0.7zM363.4 176.6h0.7v0.7h-0.7zM358.8 170.7h0.7v0.7h-0.7zM358.1 170.1h0.7v0.7h-0.7zM361.5 176.4h0.7v0.7h-0.7zM360 172.1h0.7v0.7h-0.7zM354.8 173h0.7v0.7h-0.7zM370.3 171.8h0.7v0.7h-0.7zM356.2 168.9h0.7v0.7h-0.7zM364.4 171.4h0.7v0.7h-0.7zM369.3 169.7h0.7v0.7h-0.7zM355.3 168h0.7v0.7h-0.7zM359.4 171.6h0.7v0.7h-0.7zM354.1 177.8h0.7v0.7h-0.7zM364.8 177.3h0.7v0.7h-0.7zM356.9 172.3h0.7v0.7h-0.7zM352.5 172.9h0.7v0.7h-0.7zM366.4 174h0.7v0.7h-0.7zM364.1 176.6h0.7v0.7h-0.7zM353.7 173.5h0.7v0.7h-0.7zM365.6 171.1h0.7v0.7h-0.7zM359.9 171.3h0.7v0.7h-0.7zM374.4 175.9h0.7v0.7h-0.7zM368.6 180.3h0.7v0.7h-0.7zM355.6 170.6h0.7v0.7h-0.7zM357.3 166.4h0.7v0.7h-0.7zM353.8 174.9h0.7v0.7h-0.7zM359.6 172.3h0.7v0.7h-0.7zM359.1 172.9h0.7v0.7h-0.7zM363 176.2h0.7v0.7h-0.7zM359.3 172.7h0.7v0.7h-0.7zM350.4 168.6h0.7v0.7h-0.7zM354.2 166.7h0.7v0.7h-0.7zM366.9 172.4h0.7v0.7h-0.7zM365.4 169.1h0.7v0.7h-0.7zM357.9 173.4h0.7v0.7h-0.7zM358 168.7h0.7v0.7h-0.7zM357.8 171.5h0.7v0.7h-0.7zM358.9 168.1h0.7v0.7h-0.7zM349.2 171.4h0.7v0.7h-0.7zM363.9 171.2h0.7v0.7h-0.7zM355 174.3h0.7v0.7h-0.7zM359.6 176.5h0.7v0.7h-0.7zM344.3 172h0.7v0.7h-0.7zM360.1 169.9h0.7v0.7h-0.7zM366.5 178.4h0.7v0.7h-0.7zM346 173.6h0.7v0.7h-0.7zM367.5 174.3h0.7v0.7h-0.7zM361.5 174.3h0.7v0.7h-0.7zM354.6 176.9h0.7v0.7h-0.7zM349.7 175.5h0.7v0.7h-0.7zM365.5 174.5h0.7v0.7h-0.7zM360.3 174.8h0.7v0.7h-0.7zM362.2 170h0.7v0.7h-0.7zM357.2 170.7h0.7v0.7h-0.7zM354.2 172.2h0.7v0.7h-0.7z" fill="#6a78d0" opacity="0.8"/>
<path d="M350.8 172.6 C360.8 169.6 365.6 163 377.6 162.5 C387.6 162.2 389.4 166.5 388.6 172.45 C387.6 179.9 379.6 180.9 371.6 180.4 C363.6 180.1 360.8 175.1 350.8 172.6 Z" fill="#3444ae" filter="url(#bl2)"/>
<ellipse cx="375.3" cy="173.8" rx="7" ry="3.7" fill="#38b4dc" filter="url(#bl)"/>
<ellipse cx="376" cy="173.8" rx="5.5" ry="2.8" fill="#4cc060" filter="url(#bl)"/>
<ellipse cx="377.2" cy="173.9" rx="2.7" ry="1.5" fill="#eee430" filter="url(#bl)"/>
<path d="M373.4 172.6h.6v.6h-.6zM372.6 181.5h.6v.6h-.6zM375.8 169.8h.6v.6h-.6zM372.7 170.4h.6v.6h-.6zM367.7 171.4h.6v.6h-.6zM354.6 176.0h.6v.6h-.6zM381.6 175.1h.6v.6h-.6zM378.9 177.8h.6v.6h-.6zM362.8 166.5h.6v.6h-.6zM377.9 174.4h.6v.6h-.6zM376.7 172.3h.6v.6h-.6zM373.2 171.7h.6v.6h-.6zM352.2 174.0h.6v.6h-.6zM359.2 163.4h.6v.6h-.6zM365.8 174.5h.6v.6h-.6zM363.0 166.1h.6v.6h-.6zM368.6 172.7h.6v.6h-.6zM360.2 180.8h.6v.6h-.6zM367.0 171.2h.6v.6h-.6zM376.2 176.1h.6v.6h-.6zM349.7 172.0h.6v.6h-.6zM341.3 169.1h.6v.6h-.6zM379.7 168.6h.6v.6h-.6zM372.8 171.2h.6v.6h-.6zM365.8 179.6h.6v.6h-.6zM383.1 177.2h.6v.6h-.6zM383.1 169.7h.6v.6h-.6zM349.4 178.1h.6v.6h-.6zM370.6 172.5h.6v.6h-.6zM384.6 169.7h.6v.6h-.6zM365.1 175.3h.6v.6h-.6zM369.0 168.6h.6v.6h-.6zM382.9 165.4h.6v.6h-.6zM369.5 179.6h.6v.6h-.6zM359.3 164.1h.6v.6h-.6zM364.9 175.8h.6v.6h-.6zM357.8 165.6h.6v.6h-.6zM378.5 173.0h.6v.6h-.6zM353.5 172.2h.6v.6h-.6zM383.4 171.0h.6v.6h-.6zM354.3 162.3h.6v.6h-.6zM372.9 172.6h.6v.6h-.6zM356.3 173.0h.6v.6h-.6zM368.9 168.7h.6v.6h-.6zM383.6 172.8h.6v.6h-.6zM384.7 178.1h.6v.6h-.6zM386.8 169.6h.6v.6h-.6zM371.4 174.4h.6v.6h-.6zM373.6 167.5h.6v.6h-.6zM375.0 175.1h.6v.6h-.6zM379.2 176.3h.6v.6h-.6zM368.0 185.4h.6v.6h-.6zM384.5 177.6h.6v.6h-.6zM376.0 175.3h.6v.6h-.6zM385.0 180.1h.6v.6h-.6zM377.7 168.3h.6v.6h-.6zM379.9 178.5h.6v.6h-.6zM364.4 170.5h.6v.6h-.6zM367.8 170.1h.6v.6h-.6zM358.2 178.6h.6v.6h-.6zM369.2 174.3h.6v.6h-.6zM370.5 179.7h.6v.6h-.6zM381.6 166.0h.6v.6h-.6zM358.6 174.5h.6v.6h-.6zM371.1 171.9h.6v.6h-.6zM386.2 163.8h.6v.6h-.6zM383.8 177.8h.6v.6h-.6zM344.7 174.2h.6v.6h-.6zM369.5 168.3h.6v.6h-.6zM388.6 166.6h.6v.6h-.6zM345.7 168.9h.6v.6h-.6zM380.9 180.1h.6v.6h-.6zM362.3 172.7h.6v.6h-.6zM367.3 171.6h.6v.6h-.6zM374.9 175.6h.6v.6h-.6zM351.9 173.3h.6v.6h-.6zM374.6 174.3h.6v.6h-.6zM365.3 176.9h.6v.6h-.6zM364.2 174.8h.6v.6h-.6zM380.1 177.5h.6v.6h-.6zM376.2 173.5h.6v.6h-.6zM378.5 171.5h.6v.6h-.6zM371.8 173.8h.6v.6h-.6zM364.4 173.0h.6v.6h-.6zM375.2 170.1h.6v.6h-.6zM389.1 171.5h.6v.6h-.6zM374.5 177.9h.6v.6h-.6zM382.2 170.5h.6v.6h-.6zM369.9 167.1h.6v.6h-.6zM354.2 178.0h.6v.6h-.6zM378.8 171.9h.6v.6h-.6zM378.3 173.9h.6v.6h-.6zM375.3 169.1h.6v.6h-.6zM360.1 172.3h.6v.6h-.6zM359.8 178.7h.6v.6h-.6zM369.8 177.2h.6v.6h-.6zM373.5 174.0h.6v.6h-.6zM359.0 171.9h.6v.6h-.6zM360.6 165.3h.6v.6h-.6zM378.5 174.8h.6v.6h-.6zM383.7 175.5h.6v.6h-.6zM366.2 178.4h.6v.6h-.6zM364.7 183.2h.6v.6h-.6zM364.3 175.1h.6v.6h-.6zM377.7 167.8h.6v.6h-.6zM371.6 179.2h.6v.6h-.6zM383.4 177.5h.6v.6h-.6zM385.2 176.6h.6v.6h-.6zM356.6 175.5h.6v.6h-.6zM371.4 180.5h.6v.6h-.6zM367.9 170.1h.6v.6h-.6zM368.5 176.5h.6v.6h-.6zM358.9 178.6h.6v.6h-.6zM368.0 169.5h.6v.6h-.6zM360.4 167.7h.6v.6h-.6zM376.0 175.4h.6v.6h-.6zM372.8 173.9h.6v.6h-.6zM356.7 176.3h.6v.6h-.6zM353.5 176.5h.6v.6h-.6zM367.0 169.6h.6v.6h-.6zM379.4 175.0h.6v.6h-.6zM377.7 178.8h.6v.6h-.6zM371.5 171.6h.6v.6h-.6zM335.9 172.0h.6v.6h-.6zM366.8 167.8h.6v.6h-.6zM364.1 177.3h.6v.6h-.6zM368.6 182.9h.6v.6h-.6zM358.8 166.7h.6v.6h-.6zM367.5 177.1h.6v.6h-.6zM364.9 177.8h.6v.6h-.6zM380.0 171.5h.6v.6h-.6zM370.1 168.3h.6v.6h-.6zM371.7 169.5h.6v.6h-.6zM370.9 174.2h.6v.6h-.6zM374.3 176.5h.6v.6h-.6zM367.8 173.9h.6v.6h-.6zM372.1 177.5h.6v.6h-.6zM383.6 174.4h.6v.6h-.6zM381.4 167.7h.6v.6h-.6zM375.7 180.5h.6v.6h-.6zM387.0 179.2h.6v.6h-.6zM374.7 169.9h.6v.6h-.6zM361.4 182.0h.6v.6h-.6zM353.0 175.7h.6v.6h-.6zM364.6 174.0h.6v.6h-.6zM371.6 182.7h.6v.6h-.6zM376.7 161.2h.6v.6h-.6zM384.1 165.6h.6v.6h-.6zM365.9 176.9h.6v.6h-.6zM363.4 172.2h.6v.6h-.6zM380.8 168.8h.6v.6h-.6zM385.2 180.8h.6v.6h-.6zM367.0 175.8h.6v.6h-.6zM376.0 167.2h.6v.6h-.6zM387.4 170.2h.6v.6h-.6zM375.8 177.5h.6v.6h-.6zM371.7 182.1h.6v.6h-.6zM349.3 163.7h.6v.6h-.6zM386.9 174.6h.6v.6h-.6zM379.4 171.6h.6v.6h-.6zM373.6 164.9h.6v.6h-.6zM367.1 172.6h.6v.6h-.6zM358.5 165.6h.6v.6h-.6zM371.2 170.8h.6v.6h-.6zM371.1 181.3h.6v.6h-.6zM384.4 175.9h.6v.6h-.6zM358.9 177.2h.6v.6h-.6zM388.2 176.4h.6v.6h-.6zM372.6 175.2h.6v.6h-.6zM385.4 178.2h.6v.6h-.6zM361.6 167.8h.6v.6h-.6zM376.1 171.7h.6v.6h-.6zM385.7 177.6h.6v.6h-.6zM373.5 169.9h.6v.6h-.6zM356.0 171.3h.6v.6h-.6zM368.6 179.3h.6v.6h-.6zM378.2 180.9h.6v.6h-.6zM356.8 170.5h.6v.6h-.6zM356.3 169.5h.6v.6h-.6zM374.9 176.3h.6v.6h-.6zM361.8 174.8h.6v.6h-.6zM379.8 170.2h.6v.6h-.6zM359.3 176.4h.6v.6h-.6zM352.0 176.2h.6v.6h-.6zM363.7 173.9h.6v.6h-.6zM388.7 187.8h.6v.6h-.6zM362.7 180.1h.6v.6h-.6zM372.2 177.5h.6v.6h-.6zM375.0 178.5h.6v.6h-.6zM361.8 187.9h.6v.6h-.6zM384.3 178.9h.6v.6h-.6zM374.2 170.0h.6v.6h-.6zM377.2 175.1h.6v.6h-.6zM353.7 173.9h.6v.6h-.6zM353.0 170.7h.6v.6h-.6zM341.9 174.8h.6v.6h-.6zM370.2 174.7h.6v.6h-.6zM369.7 173.2h.6v.6h-.6zM380.2 171.1h.6v.6h-.6zM388.6 177.6h.6v.6h-.6zM369.5 165.7h.6v.6h-.6zM369.3 177.5h.6v.6h-.6zM377.2 173.6h.6v.6h-.6zM389.1 174.8h.6v.6h-.6zM363.2 161.9h.6v.6h-.6zM379.2 181.7h.6v.6h-.6zM369.6 165.1h.6v.6h-.6zM368.6 169.3h.6v.6h-.6zM381.3 176.7h.6v.6h-.6zM363.6 170.5h.6v.6h-.6zM360.5 171.5h.6v.6h-.6zM379.6 162.6h.6v.6h-.6zM372.0 171.4h.6v.6h-.6zM369.4 174.6h.6v.6h-.6zM370.8 176.8h.6v.6h-.6zM377.8 172.1h.6v.6h-.6zM368.2 174.6h.6v.6h-.6zM380.7 175.7h.6v.6h-.6zM376.9 170.2h.6v.6h-.6zM388.6 169.8h.6v.6h-.6zM386.2 183.1h.6v.6h-.6zM381.7 169.4h.6v.6h-.6zM370.1 179.6h.6v.6h-.6zM373.6 173.9h.6v.6h-.6zM365.8 180.7h.6v.6h-.6zM369.9 176.1h.6v.6h-.6zM378.4 175.1h.6v.6h-.6zM387.3 172.4h.6v.6h-.6zM357.3 175.0h.6v.6h-.6zM363.2 169.8h.6v.6h-.6zM368.0 173.1h.6v.6h-.6zM361.4 171.6h.6v.6h-.6zM358.4 177.3h.6v.6h-.6zM366.6 173.1h.6v.6h-.6zM386.6 166.7h.6v.6h-.6zM380.3 171.7h.6v.6h-.6zM372.7 173.0h.6v.6h-.6zM372.6 169.1h.6v.6h-.6zM354.1 180.0h.6v.6h-.6zM380.0 175.5h.6v.6h-.6zM377.0 177.7h.6v.6h-.6zM360.4 169.8h.6v.6h-.6zM374.6 171.6h.6v.6h-.6zM370.2 178.5h.6v.6h-.6zM366.6 166.5h.6v.6h-.6zM361.5 175.3h.6v.6h-.6zM364.9 174.0h.6v.6h-.6zM362.0 171.1h.6v.6h-.6zM377.4 174.0h.6v.6h-.6zM376.4 168.3h.6v.6h-.6zM375.9 174.6h.6v.6h-.6zM370.4 167.6h.6v.6h-.6zM367.9 167.3h.6v.6h-.6zM351.9 170.1h.6v.6h-.6zM385.5 163.2h.6v.6h-.6zM376.3 178.3h.6v.6h-.6zM373.1 169.7h.6v.6h-.6zM366.8 156.2h.6v.6h-.6zM370.0 173.2h.6v.6h-.6zM359.3 178.1h.6v.6h-.6zM357.1 175.3h.6v.6h-.6zM371.1 182.0h.6v.6h-.6zM354.2 172.9h.6v.6h-.6zM381.6 176.5h.6v.6h-.6zM384.6 168.6h.6v.6h-.6zM334.5 174.3h.6v.6h-.6zM355.3 181.1h.6v.6h-.6zM375.4 176.0h.6v.6h-.6zM374.7 174.3h.6v.6h-.6zM373.6 163.8h.6v.6h-.6zM377.0 171.7h.6v.6h-.6zM380.6 167.2h.6v.6h-.6zM381.9 177.4h.6v.6h-.6zM372.7 175.3h.6v.6h-.6zM381.9 168.6h.6v.6h-.6zM354.5 182.8h.6v.6h-.6zM371.0 167.8h.6v.6h-.6zM359.0 174.2h.6v.6h-.6zM387.7 186.5h.6v.6h-.6zM378.4 169.2h.6v.6h-.6zM358.1 176.6h.6v.6h-.6zM371.2 178.4h.6v.6h-.6zM372.7 177.8h.6v.6h-.6zM374.6 163.8h.6v.6h-.6zM384.4 174.6h.6v.6h-.6zM382.9 163.1h.6v.6h-.6zM343.3 182.9h.6v.6h-.6zM387.5 173.9h.6v.6h-.6zM367.0 171.3h.6v.6h-.6zM366.3 176.9h.6v.6h-.6zM388.0 175.9h.6v.6h-.6zM369.5 167.7h.6v.6h-.6zM357.4 181.5h.6v.6h-.6zM357.9 172.3h.6v.6h-.6zM373.1 164.9h.6v.6h-.6zM382.4 180.4h.6v.6h-.6zM388.9 181.1h.6v.6h-.6zM370.6 179.7h.6v.6h-.6zM367.3 176.2h.6v.6h-.6zM367.4 178.2h.6v.6h-.6zM388.5 182.7h.6v.6h-.6zM375.0 177.6h.6v.6h-.6zM375.1 181.5h.6v.6h-.6zM369.9 169.7h.6v.6h-.6zM375.7 178.6h.6v.6h-.6zM367.3 178.2h.6v.6h-.6zM365.0 166.2h.6v.6h-.6zM371.0 165.5h.6v.6h-.6zM365.3 170.0h.6v.6h-.6zM375.8 174.0h.6v.6h-.6zM373.4 175.8h.6v.6h-.6zM369.6 172.4h.6v.6h-.6zM370.3 173.2h.6v.6h-.6zM369.9 173.0h.6v.6h-.6zM372.3 176.4h.6v.6h-.6zM365.9 176.0h.6v.6h-.6zM369.2 173.3h.6v.6h-.6zM379.7 174.8h.6v.6h-.6zM370.2 171.3h.6v.6h-.6zM370.8 177.5h.6v.6h-.6zM369.6 171.1h.6v.6h-.6zM374.3 181.7h.6v.6h-.6zM376.7 173.4h.6v.6h-.6zM377.3 174.9h.6v.6h-.6zM354.5 169.8h.6v.6h-.6zM360.7 171.9h.6v.6h-.6zM343.5 174.4h.6v.6h-.6zM381.3 173.7h.6v.6h-.6zM384.6 170.5h.6v.6h-.6zM386.7 167.8h.6v.6h-.6zM374.0 173.8h.6v.6h-.6zM385.1 174.3h.6v.6h-.6zM372.0 176.3h.6v.6h-.6zM371.1 179.8h.6v.6h-.6zM355.5 172.0h.6v.6h-.6zM363.8 163.7h.6v.6h-.6zM365.9 172.9h.6v.6h-.6zM382.5 164.4h.6v.6h-.6zM367.3 178.7h.6v.6h-.6zM376.5 176.4h.6v.6h-.6zM375.5 170.4h.6v.6h-.6zM363.9 170.4h.6v.6h-.6zM353.5 173.1h.6v.6h-.6zM364.2 164.9h.6v.6h-.6zM356.6 176.0h.6v.6h-.6zM369.0 171.8h.6v.6h-.6zM370.9 182.7h.6v.6h-.6zM370.4 168.3h.6v.6h-.6zM370.6 178.6h.6v.6h-.6zM377.7 170.2h.6v.6h-.6zM362.2 178.6h.6v.6h-.6zM382.2 168.7h.6v.6h-.6zM354.1 177.2h.6v.6h-.6zM373.1 171.4h.6v.6h-.6zM376.7 169.5h.6v.6h-.6zM363.7 172.8h.6v.6h-.6zM354.9 175.9h.6v.6h-.6zM379.4 175.6h.6v.6h-.6zM365.0 181.4h.6v.6h-.6zM381.0 177.7h.6v.6h-.6zM380.8 160.5h.6v.6h-.6zM372.3 171.6h.6v.6h-.6zM372.4 163.7h.6v.6h-.6zM383.2 171.7h.6v.6h-.6zM376.5 176.7h.6v.6h-.6zM362.2 166.9h.6v.6h-.6zM374.2 167.7h.6v.6h-.6zM378.5 174.3h.6v.6h-.6zM374.6 172.1h.6v.6h-.6zM374.5 181.5h.6v.6h-.6zM370.8 175.2h.6v.6h-.6zM371.1 176.2h.6v.6h-.6zM362.1 182.3h.6v.6h-.6zM356.7 171.1h.6v.6h-.6zM384.7 173.6h.6v.6h-.6zM365.4 168.6h.6v.6h-.6zM374.8 174.9h.6v.6h-.6zM355.9 178.7h.6v.6h-.6zM374.1 180.4h.6v.6h-.6zM363.3 173.4h.6v.6h-.6zM361.2 169.8h.6v.6h-.6zM361.8 166.6h.6v.6h-.6zM382.7 174.2h.6v.6h-.6zM384.8 180.4h.6v.6h-.6zM349.3 161.8h.6v.6h-.6zM375.2 162.7h.6v.6h-.6zM382.0 180.6h.6v.6h-.6zM359.0 165.6h.6v.6h-.6zM379.9 175.2h.6v.6h-.6zM366.6 167.3h.6v.6h-.6zM361.5 177.5h.6v.6h-.6zM368.6 177.5h.6v.6h-.6zM367.3 174.4h.6v.6h-.6zM357.2 177.7h.6v.6h-.6zM367.4 176.4h.6v.6h-.6zM364.2 182.7h.6v.6h-.6zM381.7 179.1h.6v.6h-.6zM371.6 170.3h.6v.6h-.6zM387.0 169.6h.6v.6h-.6zM369.5 172.4h.6v.6h-.6zM376.2 172.5h.6v.6h-.6zM373.4 174.0h.6v.6h-.6zM374.2 170.6h.6v.6h-.6zM370.1 176.9h.6v.6h-.6z" fill="#5566c4" opacity="0.75"/>
<path d="M375.7 221.6h0.7v0.7h-0.7zM378.6 216.8h0.7v0.7h-0.7zM375.4 223.3h0.7v0.7h-0.7zM380.9 227.7h0.7v0.7h-0.7zM364.6 228.3h0.7v0.7h-0.7zM378.5 227.5h0.7v0.7h-0.7zM379.4 220.9h0.7v0.7h-0.7zM380.9 221.4h0.7v0.7h-0.7zM385.1 229.3h0.7v0.7h-0.7zM382 225.8h0.7v0.7h-0.7zM377.5 219.9h0.7v0.7h-0.7zM373.8 226h0.7v0.7h-0.7zM360.6 227.5h0.7v0.7h-0.7zM377.3 227h0.7v0.7h-0.7zM372.6 224.1h0.7v0.7h-0.7zM372.6 221.2h0.7v0.7h-0.7zM358.7 231.6h0.7v0.7h-0.7zM375.9 224.3h0.7v0.7h-0.7zM386.3 220.5h0.7v0.7h-0.7zM384.1 225.2h0.7v0.7h-0.7zM386.6 217.8h0.7v0.7h-0.7zM364 224.7h0.7v0.7h-0.7zM366.8 222.2h0.7v0.7h-0.7zM381 228.1h0.7v0.7h-0.7zM372.8 224.1h0.7v0.7h-0.7zM377.5 234.4h0.7v0.7h-0.7zM377.2 222.6h0.7v0.7h-0.7zM379.4 219.7h0.7v0.7h-0.7zM373 225.8h0.7v0.7h-0.7zM376.5 223.2h0.7v0.7h-0.7zM369.4 224.3h0.7v0.7h-0.7zM375.1 220.8h0.7v0.7h-0.7zM371.1 226.2h0.7v0.7h-0.7zM377.8 223.9h0.7v0.7h-0.7zM362.7 213.5h0.7v0.7h-0.7zM362.1 222.5h0.7v0.7h-0.7zM379.6 225.2h0.7v0.7h-0.7zM377.5 229.1h0.7v0.7h-0.7zM366.8 220.9h0.7v0.7h-0.7zM373.5 219.8h0.7v0.7h-0.7zM366.1 229h0.7v0.7h-0.7zM361.4 224.1h0.7v0.7h-0.7zM368.1 227.1h0.7v0.7h-0.7zM379.3 223.6h0.7v0.7h-0.7zM373.2 218.4h0.7v0.7h-0.7zM372.1 228.3h0.7v0.7h-0.7zM383.9 221.6h0.7v0.7h-0.7zM382.9 221.2h0.7v0.7h-0.7zM372.9 233h0.7v0.7h-0.7zM367.4 227.7h0.7v0.7h-0.7zM376.8 222.4h0.7v0.7h-0.7zM372.9 220.1h0.7v0.7h-0.7zM378.2 214.6h0.7v0.7h-0.7zM376.3 227.3h0.7v0.7h-0.7zM386.3 227.2h0.7v0.7h-0.7zM366.9 224.7h0.7v0.7h-0.7zM375.7 221.7h0.7v0.7h-0.7zM368.5 224.6h0.7v0.7h-0.7zM387.3 226.6h0.7v0.7h-0.7zM374.7 222h0.7v0.7h-0.7zM380.4 221h0.7v0.7h-0.7zM372.9 224.8h0.7v0.7h-0.7zM367.2 217.5h0.7v0.7h-0.7zM384.9 220.7h0.7v0.7h-0.7zM380.1 231.8h0.7v0.7h-0.7zM373.7 219.1h0.7v0.7h-0.7zM377.7 220.6h0.7v0.7h-0.7zM359.5 229.4h0.7v0.7h-0.7zM378.7 223.3h0.7v0.7h-0.7zM375 221.5h0.7v0.7h-0.7zM375.4 222.4h0.7v0.7h-0.7zM373.7 227.4h0.7v0.7h-0.7zM379.5 226.7h0.7v0.7h-0.7zM377.8 217.4h0.7v0.7h-0.7zM362.9 230.9h0.7v0.7h-0.7zM376.6 222.4h0.7v0.7h-0.7zM372.6 218.7h0.7v0.7h-0.7zM365.5 220.9h0.7v0.7h-0.7zM366.9 220.6h0.7v0.7h-0.7zM368 223.1h0.7v0.7h-0.7zM369.7 221.2h0.7v0.7h-0.7zM369.4 215.6h0.7v0.7h-0.7zM376.1 226h0.7v0.7h-0.7zM385.4 221.1h0.7v0.7h-0.7zM363.9 229.1h0.7v0.7h-0.7zM361.7 226.1h0.7v0.7h-0.7zM359 226.4h0.7v0.7h-0.7zM385.5 224.4h0.7v0.7h-0.7zM387.5 229.6h0.7v0.7h-0.7zM361.8 222h0.7v0.7h-0.7zM360.9 218.9h0.7v0.7h-0.7zM376.8 225.2h0.7v0.7h-0.7zM385.4 210.9h0.7v0.7h-0.7zM384.7 221.8h0.7v0.7h-0.7zM377.3 224.6h0.7v0.7h-0.7zM381.7 221.6h0.7v0.7h-0.7zM378.5 229.4h0.7v0.7h-0.7zM370.6 226.8h0.7v0.7h-0.7zM375.6 221.7h0.7v0.7h-0.7zM365.6 228.6h0.7v0.7h-0.7zM371.4 220.4h0.7v0.7h-0.7zM361.7 221.6h0.7v0.7h-0.7zM375.7 227h0.7v0.7h-0.7zM385.5 226.3h0.7v0.7h-0.7zM364.2 233h0.7v0.7h-0.7zM385.7 222.5h0.7v0.7h-0.7zM379 226.6h0.7v0.7h-0.7zM365.2 229.4h0.7v0.7h-0.7zM367.9 222.8h0.7v0.7h-0.7zM372.6 230.8h0.7v0.7h-0.7zM364.1 231.8h0.7v0.7h-0.7zM364.3 220.4h0.7v0.7h-0.7zM373.3 221.3h0.7v0.7h-0.7zM374 217.7h0.7v0.7h-0.7zM381.1 226.1h0.7v0.7h-0.7zM364.8 226.9h0.7v0.7h-0.7zM385.2 217.8h0.7v0.7h-0.7zM383.6 220h0.7v0.7h-0.7zM369.7 216.9h0.7v0.7h-0.7zM372.5 217.3h0.7v0.7h-0.7zM385.3 222.7h0.7v0.7h-0.7zM367.5 225.5h0.7v0.7h-0.7zM371.5 226.4h0.7v0.7h-0.7zM384.6 220.4h0.7v0.7h-0.7zM374.2 223.5h0.7v0.7h-0.7zM377.4 226.2h0.7v0.7h-0.7zM377.4 222.1h0.7v0.7h-0.7zM368.6 223.8h0.7v0.7h-0.7zM373.8 222.1h0.7v0.7h-0.7zM369.7 221.1h0.7v0.7h-0.7zM371.7 223.7h0.7v0.7h-0.7zM379.8 218.3h0.7v0.7h-0.7zM367 228.4h0.7v0.7h-0.7zM382.2 216.3h0.7v0.7h-0.7zM376.6 225.6h0.7v0.7h-0.7zM382.5 217.2h0.7v0.7h-0.7zM383.6 230.5h0.7v0.7h-0.7zM386.8 227.5h0.7v0.7h-0.7zM381.3 219.7h0.7v0.7h-0.7zM382 221.4h0.7v0.7h-0.7zM374 218.3h0.7v0.7h-0.7zM380.7 223.2h0.7v0.7h-0.7zM367.5 225.4h0.7v0.7h-0.7zM373.4 235.3h0.7v0.7h-0.7zM382.4 217.2h0.7v0.7h-0.7zM375.1 229.3h0.7v0.7h-0.7zM379.6 220.8h0.7v0.7h-0.7zM366.1 224.8h0.7v0.7h-0.7zM387.9 227.6h0.7v0.7h-0.7zM370.4 226h0.7v0.7h-0.7zM379.2 225.5h0.7v0.7h-0.7zM375.4 222.6h0.7v0.7h-0.7zM384 223.5h0.7v0.7h-0.7zM372.2 224.2h0.7v0.7h-0.7zM366.6 229.1h0.7v0.7h-0.7zM358.5 216.7h0.7v0.7h-0.7zM372.8 221.2h0.7v0.7h-0.7zM364.8 217.7h0.7v0.7h-0.7zM380.4 219h0.7v0.7h-0.7zM355.5 228.6h0.7v0.7h-0.7zM364 233.4h0.7v0.7h-0.7zM378.4 229.8h0.7v0.7h-0.7zM386.7 218h0.7v0.7h-0.7zM378.4 223.8h0.7v0.7h-0.7zM378.5 218.2h0.7v0.7h-0.7zM380.2 225.6h0.7v0.7h-0.7zM380.8 229.4h0.7v0.7h-0.7zM381.1 227.5h0.7v0.7h-0.7zM364.4 222.8h0.7v0.7h-0.7zM371.3 214.4h0.7v0.7h-0.7zM377.5 214.3h0.7v0.7h-0.7zM368.3 223h0.7v0.7h-0.7zM373.2 226.2h0.7v0.7h-0.7zM370.9 229.4h0.7v0.7h-0.7zM369.3 221.9h0.7v0.7h-0.7zM381.9 223.8h0.7v0.7h-0.7zM372.1 224.7h0.7v0.7h-0.7zM365.7 228.4h0.7v0.7h-0.7zM369.1 223.2h0.7v0.7h-0.7zM375.9 218.4h0.7v0.7h-0.7zM377.9 225.4h0.7v0.7h-0.7zM380.1 217.6h0.7v0.7h-0.7zM356.2 223.5h0.7v0.7h-0.7zM379 215.6h0.7v0.7h-0.7zM367.9 214.2h0.7v0.7h-0.7zM363.3 222.4h0.7v0.7h-0.7zM365.9 221.5h0.7v0.7h-0.7zM361.3 230.2h0.7v0.7h-0.7zM370 223.3h0.7v0.7h-0.7zM386.1 231.8h0.7v0.7h-0.7zM381.6 220.8h0.7v0.7h-0.7zM360.1 227h0.7v0.7h-0.7zM374.6 217.6h0.7v0.7h-0.7zM370.9 224.1h0.7v0.7h-0.7zM373.8 222h0.7v0.7h-0.7zM382.4 222.5h0.7v0.7h-0.7zM370.4 226.2h0.7v0.7h-0.7zM372.7 214.8h0.7v0.7h-0.7zM358.9 219.7h0.7v0.7h-0.7zM372.2 224h0.7v0.7h-0.7zM379.8 225.3h0.7v0.7h-0.7zM364.3 221.8h0.7v0.7h-0.7zM369.9 221.8h0.7v0.7h-0.7zM363.7 218.2h0.7v0.7h-0.7zM377 226h0.7v0.7h-0.7zM369.9 220.4h0.7v0.7h-0.7zM382.7 225.5h0.7v0.7h-0.7zM384.8 216.9h0.7v0.7h-0.7zM376 229.8h0.7v0.7h-0.7zM372.1 218.8h0.7v0.7h-0.7zM377.9 228.8h0.7v0.7h-0.7zM376.1 221.4h0.7v0.7h-0.7zM364.5 226h0.7v0.7h-0.7zM385.3 222.8h0.7v0.7h-0.7zM377.6 226.6h0.7v0.7h-0.7zM382.7 223.5h0.7v0.7h-0.7zM363.2 229.4h0.7v0.7h-0.7zM383.5 226.6h0.7v0.7h-0.7zM381.2 231.2h0.7v0.7h-0.7zM362.4 220.3h0.7v0.7h-0.7zM375.9 229.5h0.7v0.7h-0.7zM375 223.8h0.7v0.7h-0.7zM377.5 216.7h0.7v0.7h-0.7zM373.4 225.7h0.7v0.7h-0.7zM380.1 222.6h0.7v0.7h-0.7zM371.3 231.3h0.7v0.7h-0.7zM377.6 221.2h0.7v0.7h-0.7zM369.3 223.7h0.7v0.7h-0.7zM376.4 224.6h0.7v0.7h-0.7zM384.6 214.7h0.7v0.7h-0.7zM371.1 225.8h0.7v0.7h-0.7zM381.6 218.9h0.7v0.7h-0.7zM367.5 230h0.7v0.7h-0.7zM372.2 231.2h0.7v0.7h-0.7zM373.4 223.5h0.7v0.7h-0.7zM386.9 216.2h0.7v0.7h-0.7zM368.6 224.3h0.7v0.7h-0.7zM386.6 224.3h0.7v0.7h-0.7zM362.2 226.8h0.7v0.7h-0.7zM374.1 222.1h0.7v0.7h-0.7zM383.8 218h0.7v0.7h-0.7zM381.8 222.8h0.7v0.7h-0.7zM366.4 219.2h0.7v0.7h-0.7zM364.4 231.7h0.7v0.7h-0.7zM383.5 220.2h0.7v0.7h-0.7zM364.1 220.5h0.7v0.7h-0.7zM380.8 223.3h0.7v0.7h-0.7zM370.8 217.8h0.7v0.7h-0.7zM375.4 221.4h0.7v0.7h-0.7zM383.2 222.3h0.7v0.7h-0.7zM363 229.2h0.7v0.7h-0.7zM378.4 225.5h0.7v0.7h-0.7zM376 217.3h0.7v0.7h-0.7zM374.6 221.5h0.7v0.7h-0.7zM387.7 226.9h0.7v0.7h-0.7zM359.9 220.5h0.7v0.7h-0.7zM378.4 223.9h0.7v0.7h-0.7zM376.7 223.4h0.7v0.7h-0.7zM368.7 225.9h0.7v0.7h-0.7zM364 222.8h0.7v0.7h-0.7zM375.8 219.5h0.7v0.7h-0.7zM376.2 225.2h0.7v0.7h-0.7zM355.5 219.2h0.7v0.7h-0.7zM362.5 231.5h0.7v0.7h-0.7zM366.7 223.4h0.7v0.7h-0.7zM382.7 222.5h0.7v0.7h-0.7zM384.1 227.1h0.7v0.7h-0.7zM380.9 223.1h0.7v0.7h-0.7zM377.7 223.9h0.7v0.7h-0.7zM355.5 223.3h0.7v0.7h-0.7zM377.4 220.2h0.7v0.7h-0.7zM370.8 219.2h0.7v0.7h-0.7zM386.1 220.3h0.7v0.7h-0.7zM387.7 228.7h0.7v0.7h-0.7zM381.9 221.6h0.7v0.7h-0.7zM382.9 221.4h0.7v0.7h-0.7zM366.1 226.7h0.7v0.7h-0.7zM376.2 232.6h0.7v0.7h-0.7zM364.2 219.2h0.7v0.7h-0.7zM383.6 226h0.7v0.7h-0.7zM364.6 224.1h0.7v0.7h-0.7zM373.5 222.1h0.7v0.7h-0.7zM368 225.8h0.7v0.7h-0.7zM371.2 217.6h0.7v0.7h-0.7zM379.6 227.3h0.7v0.7h-0.7zM370.3 224.5h0.7v0.7h-0.7zM377.5 218.9h0.7v0.7h-0.7zM366.3 230.8h0.7v0.7h-0.7zM369.6 228.9h0.7v0.7h-0.7zM384.7 216.8h0.7v0.7h-0.7zM353.2 221.1h0.7v0.7h-0.7zM366.4 226.4h0.7v0.7h-0.7zM373.6 229.7h0.7v0.7h-0.7zM386.1 214.7h0.7v0.7h-0.7zM371 223.6h0.7v0.7h-0.7zM378.9 222.9h0.7v0.7h-0.7zM368.8 228.1h0.7v0.7h-0.7zM380.6 223.3h0.7v0.7h-0.7zM364.3 217.6h0.7v0.7h-0.7zM383.1 222.6h0.7v0.7h-0.7zM348.1 218.7h0.7v0.7h-0.7zM358.1 219.9h0.7v0.7h-0.7zM377 221.3h0.7v0.7h-0.7zM367.2 224.8h0.7v0.7h-0.7zM385 234.2h0.7v0.7h-0.7zM385.7 229.3h0.7v0.7h-0.7zM371.5 226.8h0.7v0.7h-0.7zM381.1 217.5h0.7v0.7h-0.7zM380 213.6h0.7v0.7h-0.7zM360.2 219.5h0.7v0.7h-0.7zM380.8 222.4h0.7v0.7h-0.7zM373.7 233.8h0.7v0.7h-0.7zM387.2 229.5h0.7v0.7h-0.7zM387.4 221.1h0.7v0.7h-0.7zM369.5 229.1h0.7v0.7h-0.7zM369.9 229.1h0.7v0.7h-0.7zM377.1 223.6h0.7v0.7h-0.7zM381.4 229.1h0.7v0.7h-0.7zM371.6 225h0.7v0.7h-0.7zM374.3 220.5h0.7v0.7h-0.7zM381 218.1h0.7v0.7h-0.7zM379.3 222.9h0.7v0.7h-0.7zM386.1 228.1h0.7v0.7h-0.7zM377.6 217.3h0.7v0.7h-0.7zM367.2 216.1h0.7v0.7h-0.7zM359.2 226h0.7v0.7h-0.7zM382.8 211h0.7v0.7h-0.7zM372.3 231.9h0.7v0.7h-0.7zM372.2 221.5h0.7v0.7h-0.7zM372.7 226.9h0.7v0.7h-0.7zM360.9 232.1h0.7v0.7h-0.7zM371.8 216.8h0.7v0.7h-0.7zM351.4 218.7h0.7v0.7h-0.7zM371.7 233.8h0.7v0.7h-0.7zM367.1 222.2h0.7v0.7h-0.7zM379.5 224.5h0.7v0.7h-0.7zM373.4 228.4h0.7v0.7h-0.7zM376.9 229.6h0.7v0.7h-0.7zM382.1 224h0.7v0.7h-0.7zM368.4 222h0.7v0.7h-0.7zM373.2 223.3h0.7v0.7h-0.7zM372.1 224.9h0.7v0.7h-0.7zM376 224.1h0.7v0.7h-0.7zM357.2 231.9h0.7v0.7h-0.7zM382.7 219.6h0.7v0.7h-0.7zM366.5 231.6h0.7v0.7h-0.7zM374.8 225h0.7v0.7h-0.7zM384.6 219.4h0.7v0.7h-0.7zM370.1 220.2h0.7v0.7h-0.7zM372.8 222.8h0.7v0.7h-0.7zM364 224.9h0.7v0.7h-0.7zM365.6 222.4h0.7v0.7h-0.7zM355.5 216.8h0.7v0.7h-0.7zM385.9 220.1h0.7v0.7h-0.7zM364.7 225.9h0.7v0.7h-0.7zM378.8 227.3h0.7v0.7h-0.7zM378.4 217.1h0.7v0.7h-0.7zM369.3 221.8h0.7v0.7h-0.7zM375.8 215.8h0.7v0.7h-0.7zM374.4 220.9h0.7v0.7h-0.7zM370.7 239.8h0.7v0.7h-0.7zM375.8 223.8h0.7v0.7h-0.7zM375.8 221.9h0.7v0.7h-0.7zM365.9 220.8h0.7v0.7h-0.7zM363.3 217.9h0.7v0.7h-0.7zM367.4 214.9h0.7v0.7h-0.7zM376.4 223.3h0.7v0.7h-0.7zM378.2 216h0.7v0.7h-0.7zM384.1 225.5h0.7v0.7h-0.7zM376.4 229.7h0.7v0.7h-0.7zM385.5 214.5h0.7v0.7h-0.7zM376.5 226.5h0.7v0.7h-0.7zM378.9 216.1h0.7v0.7h-0.7zM372.7 225.9h0.7v0.7h-0.7zM375.2 230.3h0.7v0.7h-0.7zM364.2 224.8h0.7v0.7h-0.7zM375.3 220.3h0.7v0.7h-0.7zM369.8 224.8h0.7v0.7h-0.7zM384.2 228.7h0.7v0.7h-0.7zM372.4 222.9h0.7v0.7h-0.7zM349.5 225.3h0.7v0.7h-0.7zM381 227.3h0.7v0.7h-0.7zM381 216h0.7v0.7h-0.7zM359.6 223.8h0.7v0.7h-0.7zM373 220.3h0.7v0.7h-0.7zM374.6 225.8h0.7v0.7h-0.7zM353.7 228.3h0.7v0.7h-0.7zM381.5 224.9h0.7v0.7h-0.7zM379.4 229.4h0.7v0.7h-0.7zM377.5 218.9h0.7v0.7h-0.7zM365.4 221.6h0.7v0.7h-0.7zM368.6 218.9h0.7v0.7h-0.7zM369.4 223.8h0.7v0.7h-0.7zM379.7 223.9h0.7v0.7h-0.7zM366.1 222.6h0.7v0.7h-0.7zM378.8 223.1h0.7v0.7h-0.7zM354.9 221.5h0.7v0.7h-0.7zM376.7 222.3h0.7v0.7h-0.7zM370.1 228.9h0.7v0.7h-0.7zM376.2 224.6h0.7v0.7h-0.7zM358.2 215h0.7v0.7h-0.7zM377 222.7h0.7v0.7h-0.7zM352.3 216.9h0.7v0.7h-0.7zM365.7 228h0.7v0.7h-0.7zM387.9 230.1h0.7v0.7h-0.7zM387 223.4h0.7v0.7h-0.7zM372 225.5h0.7v0.7h-0.7zM366.2 216.8h0.7v0.7h-0.7zM383.9 213.2h0.7v0.7h-0.7zM374.7 220.9h0.7v0.7h-0.7zM377.2 222.3h0.7v0.7h-0.7zM381 216.5h0.7v0.7h-0.7zM365.1 223.9h0.7v0.7h-0.7zM382.6 224.9h0.7v0.7h-0.7zM355.4 226.5h0.7v0.7h-0.7zM360.5 227.2h0.7v0.7h-0.7zM369.3 221.8h0.7v0.7h-0.7zM368.9 224h0.7v0.7h-0.7zM382 226.3h0.7v0.7h-0.7zM382.1 218.7h0.7v0.7h-0.7zM378.5 229.6h0.7v0.7h-0.7zM380.2 227.7h0.7v0.7h-0.7zM379.5 222.5h0.7v0.7h-0.7zM374.5 220.6h0.7v0.7h-0.7zM357.2 241h0.7v0.7h-0.7zM353.5 227.4h0.7v0.7h-0.7zM353.6 227.8h0.7v0.7h-0.7zM374.7 231.8h0.7v0.7h-0.7zM373 228h0.7v0.7h-0.7zM373.8 224.5h0.7v0.7h-0.7zM377.2 226.8h0.7v0.7h-0.7zM372.9 219.3h0.7v0.7h-0.7zM365.7 226.8h0.7v0.7h-0.7zM361 216.4h0.7v0.7h-0.7zM357.3 225.5h0.7v0.7h-0.7zM386.5 226.1h0.7v0.7h-0.7zM383.6 216.3h0.7v0.7h-0.7zM362.4 232.4h0.7v0.7h-0.7zM372.5 218.2h0.7v0.7h-0.7zM379.2 228.3h0.7v0.7h-0.7zM369.4 225h0.7v0.7h-0.7zM376.7 220.5h0.7v0.7h-0.7zM385.9 235h0.7v0.7h-0.7zM358.8 228.3h0.7v0.7h-0.7zM368.2 231.9h0.7v0.7h-0.7zM374.7 227.2h0.7v0.7h-0.7zM368.3 226.8h0.7v0.7h-0.7zM383.2 222.5h0.7v0.7h-0.7zM376.9 226.4h0.7v0.7h-0.7zM366 224.3h0.7v0.7h-0.7zM383.2 222.9h0.7v0.7h-0.7zM381 217.2h0.7v0.7h-0.7zM370.2 222.2h0.7v0.7h-0.7zM361.3 223.2h0.7v0.7h-0.7zM354.7 223.8h0.7v0.7h-0.7zM359.8 224.1h0.7v0.7h-0.7zM356.7 228.6h0.7v0.7h-0.7zM351.3 220.5h0.7v0.7h-0.7zM352.1 224.2h0.7v0.7h-0.7zM353.1 225.2h0.7v0.7h-0.7zM355.8 223.4h0.7v0.7h-0.7zM356 222.4h0.7v0.7h-0.7zM364.5 220h0.7v0.7h-0.7zM351 221.3h0.7v0.7h-0.7zM345.1 225.3h0.7v0.7h-0.7zM361.9 227.5h0.7v0.7h-0.7zM354.8 221.1h0.7v0.7h-0.7zM356.9 224.6h0.7v0.7h-0.7zM373.3 224.7h0.7v0.7h-0.7zM366.7 226.2h0.7v0.7h-0.7zM361.3 223.9h0.7v0.7h-0.7zM363.5 224.5h0.7v0.7h-0.7zM358.4 225.8h0.7v0.7h-0.7zM363.6 219.6h0.7v0.7h-0.7zM353.9 223.3h0.7v0.7h-0.7zM353.3 217.7h0.7v0.7h-0.7zM354.8 217.1h0.7v0.7h-0.7zM367.4 220.6h0.7v0.7h-0.7zM367.2 218.4h0.7v0.7h-0.7zM353.9 224.7h0.7v0.7h-0.7zM364.8 226.1h0.7v0.7h-0.7zM356.7 222.2h0.7v0.7h-0.7zM364.3 222.7h0.7v0.7h-0.7zM355.7 222.4h0.7v0.7h-0.7zM363.6 222.3h0.7v0.7h-0.7zM357 223.5h0.7v0.7h-0.7zM355.9 224.2h0.7v0.7h-0.7zM357.6 221.7h0.7v0.7h-0.7zM358.7 220.7h0.7v0.7h-0.7zM354.1 221.5h0.7v0.7h-0.7zM349.3 225.5h0.7v0.7h-0.7zM368.1 221.8h0.7v0.7h-0.7zM355.3 227.5h0.7v0.7h-0.7zM346.5 222.4h0.7v0.7h-0.7zM353.9 221h0.7v0.7h-0.7zM366.1 224.6h0.7v0.7h-0.7zM347.7 224.6h0.7v0.7h-0.7zM355.7 222.6h0.7v0.7h-0.7zM346.4 229.3h0.7v0.7h-0.7zM364.5 223.3h0.7v0.7h-0.7zM360 224h0.7v0.7h-0.7zM359.7 221.4h0.7v0.7h-0.7zM366 228.1h0.7v0.7h-0.7zM367.9 225.7h0.7v0.7h-0.7zM364.1 224.4h0.7v0.7h-0.7zM354.2 218.2h0.7v0.7h-0.7zM349.6 224.2h0.7v0.7h-0.7zM351.3 221.7h0.7v0.7h-0.7zM346.9 224.3h0.7v0.7h-0.7zM368.9 225.9h0.7v0.7h-0.7zM356.6 220.8h0.7v0.7h-0.7zM358.5 223.8h0.7v0.7h-0.7zM358.9 225.8h0.7v0.7h-0.7zM370.2 223.6h0.7v0.7h-0.7zM354.3 222.1h0.7v0.7h-0.7zM365 219.9h0.7v0.7h-0.7zM359.6 221.1h0.7v0.7h-0.7zM356.8 219.3h0.7v0.7h-0.7zM345.9 226.1h0.7v0.7h-0.7zM363.4 223.4h0.7v0.7h-0.7zM353.2 219.4h0.7v0.7h-0.7zM354.9 223.1h0.7v0.7h-0.7zM359.1 219.2h0.7v0.7h-0.7zM358.3 213.2h0.7v0.7h-0.7zM364.7 226.7h0.7v0.7h-0.7zM353.6 226.6h0.7v0.7h-0.7zM358.8 218.7h0.7v0.7h-0.7zM359.5 220.9h0.7v0.7h-0.7zM357.9 223.7h0.7v0.7h-0.7zM362 221.9h0.7v0.7h-0.7zM356.2 220.5h0.7v0.7h-0.7zM365.2 221.5h0.7v0.7h-0.7zM353.4 222.4h0.7v0.7h-0.7zM348.9 221.4h0.7v0.7h-0.7zM357.5 223.7h0.7v0.7h-0.7zM365 222.4h0.7v0.7h-0.7zM354.6 220.8h0.7v0.7h-0.7zM353.9 223.2h0.7v0.7h-0.7zM355.6 218.1h0.7v0.7h-0.7zM358.8 227.4h0.7v0.7h-0.7zM356.7 217.9h0.7v0.7h-0.7zM359.7 222.8h0.7v0.7h-0.7zM347.1 224.1h0.7v0.7h-0.7zM367 224.3h0.7v0.7h-0.7zM361.4 223.9h0.7v0.7h-0.7zM352.4 226.9h0.7v0.7h-0.7zM366.2 219.7h0.7v0.7h-0.7zM360.5 222.9h0.7v0.7h-0.7zM366.8 223.5h0.7v0.7h-0.7zM350.5 221.6h0.7v0.7h-0.7zM368 221.3h0.7v0.7h-0.7zM358 227h0.7v0.7h-0.7zM345 220.9h0.7v0.7h-0.7zM362.4 221.6h0.7v0.7h-0.7zM355.9 222.3h0.7v0.7h-0.7zM351.5 222.4h0.7v0.7h-0.7zM356.4 223.6h0.7v0.7h-0.7zM345.8 222.5h0.7v0.7h-0.7zM361.4 224.2h0.7v0.7h-0.7zM356.4 223.5h0.7v0.7h-0.7zM356.1 224.5h0.7v0.7h-0.7zM366.5 227.2h0.7v0.7h-0.7zM358 220.5h0.7v0.7h-0.7zM353.7 228h0.7v0.7h-0.7zM351.9 221.7h0.7v0.7h-0.7zM357.4 225.1h0.7v0.7h-0.7zM364.3 223.6h0.7v0.7h-0.7zM354.2 222.2h0.7v0.7h-0.7zM351.3 217.2h0.7v0.7h-0.7zM363.5 227.9h0.7v0.7h-0.7zM358.1 220.8h0.7v0.7h-0.7zM357.6 220.7h0.7v0.7h-0.7zM370.6 226.3h0.7v0.7h-0.7zM350.3 223.3h0.7v0.7h-0.7zM359 228.8h0.7v0.7h-0.7zM346.8 228.1h0.7v0.7h-0.7zM355.9 225.2h0.7v0.7h-0.7zM361.4 223.8h0.7v0.7h-0.7zM364.7 225.4h0.7v0.7h-0.7zM349.9 219.1h0.7v0.7h-0.7zM362.9 223.6h0.7v0.7h-0.7zM362.6 223.5h0.7v0.7h-0.7zM357 221.7h0.7v0.7h-0.7zM373 223.8h0.7v0.7h-0.7zM357.8 218.7h0.7v0.7h-0.7zM352.3 225.8h0.7v0.7h-0.7zM360.4 226.9h0.7v0.7h-0.7zM346.2 219.2h0.7v0.7h-0.7zM367.4 223.5h0.7v0.7h-0.7zM363.9 227.7h0.7v0.7h-0.7zM355.3 224.3h0.7v0.7h-0.7zM361.5 220h0.7v0.7h-0.7zM361.1 220.1h0.7v0.7h-0.7zM369.7 225.6h0.7v0.7h-0.7zM353.9 228.5h0.7v0.7h-0.7zM349.8 219.8h0.7v0.7h-0.7zM345.2 223.2h0.7v0.7h-0.7zM355.9 220.7h0.7v0.7h-0.7zM348.1 222.2h0.7v0.7h-0.7zM356.7 224h0.7v0.7h-0.7zM360.3 222.9h0.7v0.7h-0.7zM355 221h0.7v0.7h-0.7zM351.9 229.3h0.7v0.7h-0.7zM365.1 222.6h0.7v0.7h-0.7zM356.5 222.5h0.7v0.7h-0.7zM359.2 226.4h0.7v0.7h-0.7zM363.6 223.1h0.7v0.7h-0.7zM349.7 222.5h0.7v0.7h-0.7zM352.1 225.9h0.7v0.7h-0.7zM373.2 220h0.7v0.7h-0.7zM356.8 225.3h0.7v0.7h-0.7zM351.3 226.1h0.7v0.7h-0.7zM356.2 225h0.7v0.7h-0.7zM354.2 222.5h0.7v0.7h-0.7zM350.2 223h0.7v0.7h-0.7zM355.2 217.9h0.7v0.7h-0.7zM357.6 222.7h0.7v0.7h-0.7zM357.7 223.9h0.7v0.7h-0.7zM361.1 225.6h0.7v0.7h-0.7zM347 223.5h0.7v0.7h-0.7zM348.5 221.9h0.7v0.7h-0.7zM362.6 220.6h0.7v0.7h-0.7zM355 222.9h0.7v0.7h-0.7zM365.3 223.5h0.7v0.7h-0.7zM359.6 226.7h0.7v0.7h-0.7zM349 223.1h0.7v0.7h-0.7zM361.1 221.6h0.7v0.7h-0.7zM351.5 222.7h0.7v0.7h-0.7zM359.4 221.6h0.7v0.7h-0.7zM365.3 222.4h0.7v0.7h-0.7zM370.8 216.5h0.7v0.7h-0.7zM357.3 218.3h0.7v0.7h-0.7zM362.1 219.5h0.7v0.7h-0.7zM359.6 224.4h0.7v0.7h-0.7zM362.6 222.8h0.7v0.7h-0.7zM355.3 226.5h0.7v0.7h-0.7zM359.5 220h0.7v0.7h-0.7zM360.6 226.4h0.7v0.7h-0.7zM353.1 224.2h0.7v0.7h-0.7zM362.8 220.9h0.7v0.7h-0.7zM364.6 227.5h0.7v0.7h-0.7zM358.2 218.8h0.7v0.7h-0.7zM356.3 219.7h0.7v0.7h-0.7zM355.5 222.4h0.7v0.7h-0.7zM358.6 224.3h0.7v0.7h-0.7zM365 222.5h0.7v0.7h-0.7zM367 216.7h0.7v0.7h-0.7zM354.8 222.2h0.7v0.7h-0.7zM352 222.8h0.7v0.7h-0.7zM352.9 230.6h0.7v0.7h-0.7zM363.8 227.1h0.7v0.7h-0.7zM359.1 223.4h0.7v0.7h-0.7zM359.6 219.8h0.7v0.7h-0.7zM360.7 224.1h0.7v0.7h-0.7zM360.1 219.6h0.7v0.7h-0.7zM357 223.7h0.7v0.7h-0.7zM351.3 224.1h0.7v0.7h-0.7zM353.9 221.9h0.7v0.7h-0.7zM358.5 223.8h0.7v0.7h-0.7zM360.2 222.1h0.7v0.7h-0.7zM355.5 221.4h0.7v0.7h-0.7zM355.2 227.6h0.7v0.7h-0.7zM366.2 224.8h0.7v0.7h-0.7zM354.9 222.1h0.7v0.7h-0.7zM359.1 220.8h0.7v0.7h-0.7zM355.8 223.6h0.7v0.7h-0.7zM352.5 224.7h0.7v0.7h-0.7zM348.4 225.6h0.7v0.7h-0.7zM354.4 227.4h0.7v0.7h-0.7zM352.7 224.4h0.7v0.7h-0.7zM363 219.7h0.7v0.7h-0.7zM350.7 229.1h0.7v0.7h-0.7zM355.2 226.5h0.7v0.7h-0.7zM361.8 225.5h0.7v0.7h-0.7zM357.1 227h0.7v0.7h-0.7zM360.8 218.6h0.7v0.7h-0.7zM362.9 221.9h0.7v0.7h-0.7zM347.6 221.5h0.7v0.7h-0.7zM355.2 226.6h0.7v0.7h-0.7zM351.8 219.6h0.7v0.7h-0.7zM366 222.1h0.7v0.7h-0.7zM357 227.5h0.7v0.7h-0.7zM360.8 225h0.7v0.7h-0.7zM368.2 221.9h0.7v0.7h-0.7zM355.6 228.6h0.7v0.7h-0.7zM358.2 219.1h0.7v0.7h-0.7zM360.3 224.4h0.7v0.7h-0.7zM356.1 222.4h0.7v0.7h-0.7zM365.4 224.6h0.7v0.7h-0.7zM362.8 222.2h0.7v0.7h-0.7zM363.9 220.6h0.7v0.7h-0.7zM358 223.7h0.7v0.7h-0.7zM355.6 219.1h0.7v0.7h-0.7zM355.6 224.6h0.7v0.7h-0.7zM355.5 222.1h0.7v0.7h-0.7zM347.7 225.8h0.7v0.7h-0.7zM360 221.7h0.7v0.7h-0.7zM362.7 221.1h0.7v0.7h-0.7zM357.7 224.2h0.7v0.7h-0.7zM354.7 226.7h0.7v0.7h-0.7z" fill="#6a78d0" opacity="0.8"/>
<path d="M349.5 223 C359.5 220 366.2 214 378.2 213.5 C387 213.2 388.8 217.5 388 222.75 C387 229.5 380.2 230.5 372.2 230 C364.2 229.7 359.5 225.5 349.5 223 Z" fill="#3444ae" filter="url(#bl2)"/>
<ellipse cx="375.9" cy="223.5" rx="7" ry="3.7" fill="#38b4dc" filter="url(#bl)"/>
<ellipse cx="376.6" cy="223.5" rx="5.5" ry="2.8" fill="#4cc060" filter="url(#bl)"/>
<ellipse cx="377.8" cy="223.6" rx="2.7" ry="1.5" fill="#eee430" filter="url(#bl)"/>
<path d="M349.4 221.7h.6v.6h-.6zM373.2 227.3h.6v.6h-.6zM378.7 224.2h.6v.6h-.6zM356.5 222.7h.6v.6h-.6zM362.3 220.2h.6v.6h-.6zM378.9 230.4h.6v.6h-.6zM362.9 220.0h.6v.6h-.6zM365.0 223.7h.6v.6h-.6zM361.7 220.1h.6v.6h-.6zM362.5 223.5h.6v.6h-.6zM346.8 221.1h.6v.6h-.6zM360.0 225.7h.6v.6h-.6zM358.5 223.4h.6v.6h-.6zM385.1 211.5h.6v.6h-.6zM358.2 228.0h.6v.6h-.6zM380.2 230.5h.6v.6h-.6zM369.9 223.1h.6v.6h-.6zM380.6 219.3h.6v.6h-.6zM376.0 225.9h.6v.6h-.6zM363.6 221.7h.6v.6h-.6zM352.8 223.1h.6v.6h-.6zM362.0 218.4h.6v.6h-.6zM371.8 226.3h.6v.6h-.6zM368.0 228.5h.6v.6h-.6zM363.8 220.4h.6v.6h-.6zM382.4 232.0h.6v.6h-.6zM360.3 220.2h.6v.6h-.6zM381.5 224.3h.6v.6h-.6zM366.6 214.9h.6v.6h-.6zM373.0 213.5h.6v.6h-.6zM359.7 233.6h.6v.6h-.6zM371.8 230.2h.6v.6h-.6zM363.4 228.8h.6v.6h-.6zM352.9 214.6h.6v.6h-.6zM371.6 224.2h.6v.6h-.6zM371.3 225.2h.6v.6h-.6zM380.8 223.5h.6v.6h-.6zM374.9 224.6h.6v.6h-.6zM360.8 218.5h.6v.6h-.6zM365.2 222.3h.6v.6h-.6zM344.9 217.4h.6v.6h-.6zM359.7 221.3h.6v.6h-.6zM385.9 224.9h.6v.6h-.6zM388.3 219.2h.6v.6h-.6zM380.1 221.7h.6v.6h-.6zM375.1 220.9h.6v.6h-.6zM378.2 223.1h.6v.6h-.6zM377.1 227.7h.6v.6h-.6zM353.0 224.2h.6v.6h-.6zM362.4 225.0h.6v.6h-.6zM384.7 215.9h.6v.6h-.6zM384.6 221.2h.6v.6h-.6zM374.4 227.1h.6v.6h-.6zM368.5 218.8h.6v.6h-.6zM367.6 220.9h.6v.6h-.6zM365.9 218.2h.6v.6h-.6zM361.8 229.7h.6v.6h-.6zM350.9 220.8h.6v.6h-.6zM373.4 219.4h.6v.6h-.6zM366.9 226.1h.6v.6h-.6zM369.5 228.5h.6v.6h-.6zM378.2 228.0h.6v.6h-.6zM364.2 224.1h.6v.6h-.6zM378.1 222.4h.6v.6h-.6zM355.5 220.8h.6v.6h-.6zM383.2 220.5h.6v.6h-.6zM374.7 220.1h.6v.6h-.6zM369.7 224.9h.6v.6h-.6zM378.0 222.5h.6v.6h-.6zM387.6 223.5h.6v.6h-.6zM366.8 226.1h.6v.6h-.6zM361.1 222.8h.6v.6h-.6zM372.0 219.1h.6v.6h-.6zM388.1 217.5h.6v.6h-.6zM364.5 213.5h.6v.6h-.6zM375.9 223.6h.6v.6h-.6zM364.8 217.1h.6v.6h-.6zM378.7 216.6h.6v.6h-.6zM368.8 217.7h.6v.6h-.6zM364.5 227.4h.6v.6h-.6zM388.7 221.5h.6v.6h-.6zM375.5 228.0h.6v.6h-.6zM349.7 222.6h.6v.6h-.6zM369.2 220.9h.6v.6h-.6zM361.8 225.9h.6v.6h-.6zM358.5 226.0h.6v.6h-.6zM365.4 223.6h.6v.6h-.6zM366.6 217.9h.6v.6h-.6zM372.2 220.7h.6v.6h-.6zM363.1 217.1h.6v.6h-.6zM351.5 221.7h.6v.6h-.6zM366.0 223.5h.6v.6h-.6zM381.4 230.4h.6v.6h-.6zM356.9 230.1h.6v.6h-.6zM378.5 226.4h.6v.6h-.6zM376.8 227.8h.6v.6h-.6zM366.9 224.2h.6v.6h-.6zM375.2 236.9h.6v.6h-.6zM363.6 230.7h.6v.6h-.6zM367.4 236.2h.6v.6h-.6zM360.6 224.9h.6v.6h-.6zM376.9 225.1h.6v.6h-.6zM386.7 228.3h.6v.6h-.6zM364.4 224.0h.6v.6h-.6zM384.8 224.6h.6v.6h-.6zM348.5 218.1h.6v.6h-.6zM362.1 227.7h.6v.6h-.6zM360.7 223.7h.6v.6h-.6zM365.3 221.9h.6v.6h-.6zM380.3 214.1h.6v.6h-.6zM349.4 225.5h.6v.6h-.6zM373.0 228.8h.6v.6h-.6zM378.0 216.6h.6v.6h-.6zM371.4 218.2h.6v.6h-.6zM342.0 221.5h.6v.6h-.6zM373.7 221.8h.6v.6h-.6zM380.6 214.5h.6v.6h-.6zM386.2 231.8h.6v.6h-.6zM376.1 228.1h.6v.6h-.6zM353.3 219.9h.6v.6h-.6zM369.5 213.9h.6v.6h-.6zM381.7 224.8h.6v.6h-.6zM362.8 232.9h.6v.6h-.6zM377.9 227.1h.6v.6h-.6zM366.5 228.8h.6v.6h-.6zM372.8 218.3h.6v.6h-.6zM380.1 224.2h.6v.6h-.6zM364.0 215.5h.6v.6h-.6zM373.4 225.8h.6v.6h-.6zM375.5 212.5h.6v.6h-.6zM363.6 213.8h.6v.6h-.6zM372.4 225.4h.6v.6h-.6zM368.8 223.7h.6v.6h-.6zM355.7 221.4h.6v.6h-.6zM355.0 226.1h.6v.6h-.6zM374.9 233.0h.6v.6h-.6zM370.8 224.8h.6v.6h-.6zM342.9 214.0h.6v.6h-.6zM348.2 222.2h.6v.6h-.6zM368.4 216.4h.6v.6h-.6zM371.0 219.0h.6v.6h-.6zM378.4 224.6h.6v.6h-.6zM358.1 222.1h.6v.6h-.6zM378.3 217.7h.6v.6h-.6zM368.4 222.8h.6v.6h-.6zM366.2 218.9h.6v.6h-.6zM370.2 225.6h.6v.6h-.6zM382.6 221.8h.6v.6h-.6zM377.9 224.9h.6v.6h-.6zM381.5 221.6h.6v.6h-.6zM364.2 226.7h.6v.6h-.6zM368.6 222.3h.6v.6h-.6zM359.0 222.9h.6v.6h-.6zM365.7 220.1h.6v.6h-.6zM367.4 223.7h.6v.6h-.6zM366.6 214.1h.6v.6h-.6zM379.6 236.3h.6v.6h-.6zM376.4 219.6h.6v.6h-.6zM380.1 223.4h.6v.6h-.6zM373.2 220.6h.6v.6h-.6zM383.5 220.5h.6v.6h-.6zM373.0 225.0h.6v.6h-.6zM382.4 220.4h.6v.6h-.6zM377.3 220.8h.6v.6h-.6zM379.8 216.1h.6v.6h-.6zM371.0 218.3h.6v.6h-.6zM358.1 217.1h.6v.6h-.6zM355.9 231.9h.6v.6h-.6zM376.0 217.6h.6v.6h-.6zM376.6 223.9h.6v.6h-.6zM369.9 230.1h.6v.6h-.6zM366.7 214.5h.6v.6h-.6zM359.4 223.6h.6v.6h-.6zM371.1 224.6h.6v.6h-.6zM371.2 215.9h.6v.6h-.6zM359.3 213.9h.6v.6h-.6zM357.8 218.1h.6v.6h-.6zM364.0 226.7h.6v.6h-.6zM368.0 222.7h.6v.6h-.6zM366.4 226.6h.6v.6h-.6zM380.7 222.4h.6v.6h-.6zM358.8 222.8h.6v.6h-.6zM376.2 226.0h.6v.6h-.6zM387.9 222.3h.6v.6h-.6zM381.6 224.1h.6v.6h-.6zM359.2 218.4h.6v.6h-.6zM339.3 219.9h.6v.6h-.6zM381.0 225.3h.6v.6h-.6zM377.2 221.7h.6v.6h-.6zM365.3 219.2h.6v.6h-.6zM385.8 226.2h.6v.6h-.6zM367.3 225.6h.6v.6h-.6zM372.9 222.9h.6v.6h-.6zM360.3 219.1h.6v.6h-.6zM375.3 227.4h.6v.6h-.6zM367.0 235.4h.6v.6h-.6zM366.2 218.8h.6v.6h-.6zM383.6 215.2h.6v.6h-.6zM374.1 219.0h.6v.6h-.6zM355.3 218.2h.6v.6h-.6zM379.4 216.6h.6v.6h-.6zM381.0 217.0h.6v.6h-.6zM362.6 227.1h.6v.6h-.6zM367.4 227.2h.6v.6h-.6zM372.3 230.3h.6v.6h-.6zM369.0 226.6h.6v.6h-.6zM373.1 220.5h.6v.6h-.6zM378.9 228.3h.6v.6h-.6zM366.3 219.8h.6v.6h-.6zM363.9 217.0h.6v.6h-.6zM365.8 229.0h.6v.6h-.6zM372.2 221.3h.6v.6h-.6zM369.7 223.1h.6v.6h-.6zM359.9 223.9h.6v.6h-.6zM384.3 227.1h.6v.6h-.6zM373.7 223.2h.6v.6h-.6zM362.4 224.9h.6v.6h-.6zM376.2 215.4h.6v.6h-.6zM386.8 221.4h.6v.6h-.6zM379.3 213.9h.6v.6h-.6zM384.5 229.8h.6v.6h-.6zM376.6 226.4h.6v.6h-.6zM371.4 228.4h.6v.6h-.6zM377.8 232.9h.6v.6h-.6zM385.1 227.6h.6v.6h-.6zM381.2 214.9h.6v.6h-.6zM383.4 221.8h.6v.6h-.6zM374.2 211.1h.6v.6h-.6zM380.2 218.8h.6v.6h-.6zM385.1 216.6h.6v.6h-.6zM369.9 222.8h.6v.6h-.6zM357.5 224.8h.6v.6h-.6zM378.2 221.4h.6v.6h-.6zM366.9 224.2h.6v.6h-.6zM374.3 222.1h.6v.6h-.6zM369.0 221.9h.6v.6h-.6zM353.0 210.8h.6v.6h-.6zM369.7 220.6h.6v.6h-.6zM356.1 226.8h.6v.6h-.6zM374.0 224.1h.6v.6h-.6zM370.5 215.4h.6v.6h-.6zM384.2 221.5h.6v.6h-.6zM370.4 224.2h.6v.6h-.6zM375.9 218.0h.6v.6h-.6zM368.5 226.2h.6v.6h-.6zM367.6 218.8h.6v.6h-.6zM356.4 221.2h.6v.6h-.6zM382.6 222.3h.6v.6h-.6zM373.6 234.0h.6v.6h-.6zM365.3 221.2h.6v.6h-.6zM374.0 220.0h.6v.6h-.6zM367.2 226.4h.6v.6h-.6zM363.8 220.5h.6v.6h-.6zM374.5 223.8h.6v.6h-.6zM385.1 211.6h.6v.6h-.6zM368.8 224.3h.6v.6h-.6zM356.1 222.7h.6v.6h-.6zM365.0 216.4h.6v.6h-.6zM362.8 221.6h.6v.6h-.6zM384.8 221.8h.6v.6h-.6zM369.1 216.2h.6v.6h-.6zM379.9 214.7h.6v.6h-.6zM370.6 220.0h.6v.6h-.6zM354.4 215.2h.6v.6h-.6zM367.2 225.3h.6v.6h-.6zM370.3 219.6h.6v.6h-.6zM378.0 214.8h.6v.6h-.6zM368.1 220.8h.6v.6h-.6zM370.3 217.5h.6v.6h-.6zM375.3 223.6h.6v.6h-.6zM377.0 223.7h.6v.6h-.6zM371.6 223.2h.6v.6h-.6zM369.8 228.0h.6v.6h-.6zM364.5 231.3h.6v.6h-.6zM357.3 220.2h.6v.6h-.6zM354.1 226.4h.6v.6h-.6zM379.1 221.6h.6v.6h-.6zM351.3 217.5h.6v.6h-.6zM387.2 229.2h.6v.6h-.6zM381.2 224.8h.6v.6h-.6zM368.5 223.5h.6v.6h-.6zM359.1 224.6h.6v.6h-.6zM372.1 222.0h.6v.6h-.6zM372.0 217.5h.6v.6h-.6zM384.2 231.7h.6v.6h-.6zM363.6 227.3h.6v.6h-.6zM367.6 224.1h.6v.6h-.6zM371.2 227.6h.6v.6h-.6zM368.7 229.2h.6v.6h-.6zM364.9 221.8h.6v.6h-.6zM352.9 225.7h.6v.6h-.6zM353.7 221.2h.6v.6h-.6zM364.4 226.0h.6v.6h-.6zM369.3 221.5h.6v.6h-.6zM382.8 235.0h.6v.6h-.6zM376.1 225.1h.6v.6h-.6zM370.5 227.5h.6v.6h-.6zM366.0 222.4h.6v.6h-.6zM360.1 222.8h.6v.6h-.6zM367.2 219.0h.6v.6h-.6zM368.9 228.8h.6v.6h-.6zM387.8 225.9h.6v.6h-.6zM365.3 227.7h.6v.6h-.6zM380.4 216.0h.6v.6h-.6zM367.3 224.1h.6v.6h-.6zM358.3 218.9h.6v.6h-.6zM374.4 223.2h.6v.6h-.6zM373.6 229.2h.6v.6h-.6zM359.1 224.1h.6v.6h-.6zM362.3 221.9h.6v.6h-.6zM363.1 228.4h.6v.6h-.6zM382.4 227.8h.6v.6h-.6zM376.9 232.0h.6v.6h-.6zM374.4 213.5h.6v.6h-.6zM377.2 224.4h.6v.6h-.6zM366.6 220.7h.6v.6h-.6zM377.1 218.4h.6v.6h-.6zM365.2 223.4h.6v.6h-.6zM357.2 217.0h.6v.6h-.6zM364.1 211.6h.6v.6h-.6zM374.1 218.3h.6v.6h-.6zM372.8 221.5h.6v.6h-.6zM383.4 232.1h.6v.6h-.6zM353.2 219.2h.6v.6h-.6zM369.4 217.0h.6v.6h-.6zM376.2 212.9h.6v.6h-.6zM361.2 221.0h.6v.6h-.6zM374.6 221.6h.6v.6h-.6zM367.3 223.5h.6v.6h-.6zM359.4 215.6h.6v.6h-.6zM384.1 219.0h.6v.6h-.6zM356.5 211.5h.6v.6h-.6zM382.8 223.6h.6v.6h-.6zM367.3 214.9h.6v.6h-.6zM361.5 209.1h.6v.6h-.6zM362.1 228.6h.6v.6h-.6zM363.7 225.3h.6v.6h-.6zM362.5 224.6h.6v.6h-.6zM374.8 224.5h.6v.6h-.6zM351.3 217.6h.6v.6h-.6zM385.5 228.2h.6v.6h-.6zM381.0 217.6h.6v.6h-.6zM387.1 232.4h.6v.6h-.6zM361.0 223.9h.6v.6h-.6zM346.3 213.6h.6v.6h-.6zM365.0 227.1h.6v.6h-.6zM370.0 232.7h.6v.6h-.6zM375.2 221.5h.6v.6h-.6zM366.1 228.1h.6v.6h-.6zM370.9 221.7h.6v.6h-.6zM373.5 219.7h.6v.6h-.6zM354.8 209.9h.6v.6h-.6zM359.5 220.6h.6v.6h-.6zM374.7 224.7h.6v.6h-.6zM383.7 217.1h.6v.6h-.6zM363.2 218.3h.6v.6h-.6zM371.9 228.4h.6v.6h-.6zM368.8 220.8h.6v.6h-.6zM383.4 216.5h.6v.6h-.6zM375.1 223.9h.6v.6h-.6zM374.4 226.7h.6v.6h-.6zM379.8 220.5h.6v.6h-.6zM369.3 221.9h.6v.6h-.6zM369.6 216.7h.6v.6h-.6zM382.4 229.8h.6v.6h-.6zM374.8 219.7h.6v.6h-.6zM377.4 222.0h.6v.6h-.6zM358.7 231.2h.6v.6h-.6zM372.1 221.7h.6v.6h-.6zM385.2 215.0h.6v.6h-.6zM381.8 218.2h.6v.6h-.6zM375.7 221.0h.6v.6h-.6zM366.2 231.7h.6v.6h-.6zM365.2 223.9h.6v.6h-.6zM376.7 221.7h.6v.6h-.6zM387.5 227.0h.6v.6h-.6zM372.4 229.4h.6v.6h-.6zM386.3 219.0h.6v.6h-.6zM368.6 230.0h.6v.6h-.6zM385.1 227.1h.6v.6h-.6zM360.9 225.1h.6v.6h-.6zM374.0 211.0h.6v.6h-.6zM360.2 223.8h.6v.6h-.6zM379.2 229.8h.6v.6h-.6zM378.2 221.5h.6v.6h-.6zM361.5 234.4h.6v.6h-.6zM363.7 223.2h.6v.6h-.6zM367.1 217.7h.6v.6h-.6zM355.6 225.8h.6v.6h-.6zM361.7 224.3h.6v.6h-.6zM362.4 227.0h.6v.6h-.6zM380.5 221.7h.6v.6h-.6zM387.1 229.4h.6v.6h-.6zM367.0 220.1h.6v.6h-.6zM368.8 223.5h.6v.6h-.6zM374.3 216.6h.6v.6h-.6zM366.2 218.8h.6v.6h-.6z" fill="#5566c4" opacity="0.75"/>
<rect x="343.2" y="154.5" width="46.2" height="46" fill="none" stroke="#666" stroke-width="0.75"/>
<rect x="343.5" y="161.5" width="0.9" height="36" fill="#5a7ac0" opacity="0.7"/>
<rect x="343.5" y="170.5" width="0.9" height="12" fill="#70b070" opacity="0.5"/>
<line x1="346.2" y1="200.5" x2="346.2" y2="201.7" stroke="#777" stroke-width="0.5"/>
<line x1="351.7" y1="200.5" x2="351.7" y2="201.7" stroke="#777" stroke-width="0.5"/>
<line x1="357.2" y1="200.5" x2="357.2" y2="201.7" stroke="#777" stroke-width="0.5"/>
<line x1="362.7" y1="200.5" x2="362.7" y2="201.7" stroke="#777" stroke-width="0.5"/>
<line x1="368.2" y1="200.5" x2="368.2" y2="201.7" stroke="#777" stroke-width="0.5"/>
<line x1="373.7" y1="200.5" x2="373.7" y2="201.7" stroke="#777" stroke-width="0.5"/>
<line x1="379.2" y1="200.5" x2="379.2" y2="201.7" stroke="#777" stroke-width="0.5"/>
<line x1="384.7" y1="200.5" x2="384.7" y2="201.7" stroke="#777" stroke-width="0.5"/>
<rect x="343.2" y="203.9" width="46.2" height="46.3" fill="none" stroke="#666" stroke-width="0.75"/>
<rect x="343.5" y="210.9" width="0.9" height="36.3" fill="#5a7ac0" opacity="0.7"/>
<rect x="343.5" y="219.9" width="0.9" height="12" fill="#70b070" opacity="0.5"/>
<line x1="346.2" y1="250.2" x2="346.2" y2="251.4" stroke="#777" stroke-width="0.5"/>
<line x1="351.7" y1="250.2" x2="351.7" y2="251.4" stroke="#777" stroke-width="0.5"/>
<line x1="357.2" y1="250.2" x2="357.2" y2="251.4" stroke="#777" stroke-width="0.5"/>
<line x1="362.7" y1="250.2" x2="362.7" y2="251.4" stroke="#777" stroke-width="0.5"/>
<line x1="368.2" y1="250.2" x2="368.2" y2="251.4" stroke="#777" stroke-width="0.5"/>
<line x1="373.7" y1="250.2" x2="373.7" y2="251.4" stroke="#777" stroke-width="0.5"/>
<line x1="379.2" y1="250.2" x2="379.2" y2="251.4" stroke="#777" stroke-width="0.5"/>
<line x1="384.7" y1="250.2" x2="384.7" y2="251.4" stroke="#777" stroke-width="0.5"/>
<rect x="344.3" y="159.7" width="28.3" height="33" fill="none" stroke="#444" stroke-width="0.7"/>
<rect x="344.3" y="209" width="28.1" height="33.7" fill="none" stroke="#444" stroke-width="0.7"/>
<text x="353.8" y="192" font-size="8.51" text-anchor="start" font-weight="normal" fill="#2a2a2a" stroke="#2a2a2a" stroke-width="0.2" textLength="14.79" lengthAdjust="spacingAndGlyphs">21.1</text>
<text x="352.5" y="239" font-size="8.51" text-anchor="start" font-weight="normal" fill="#2a2a2a" stroke="#2a2a2a" stroke-width="0.2" textLength="14.79" lengthAdjust="spacingAndGlyphs">15.4</text>
<path d="M421.7 174.4h0.6v0.6h-0.6zM419.1 176.5h0.6v0.6h-0.6zM420.1 182.4h0.6v0.6h-0.6zM421.9 181.5h0.6v0.6h-0.6zM423.9 177.4h0.6v0.6h-0.6zM423.9 187.9h0.6v0.6h-0.6zM421.7 177.8h0.6v0.6h-0.6zM419.5 177.1h0.6v0.6h-0.6zM422.3 178.8h0.6v0.6h-0.6zM423.1 182.6h0.6v0.6h-0.6zM417.9 173.3h0.6v0.6h-0.6zM421.1 175.6h0.6v0.6h-0.6zM422.2 178.1h0.6v0.6h-0.6zM422.3 174.2h0.6v0.6h-0.6zM420.4 173.5h0.6v0.6h-0.6zM423.7 180.8h0.6v0.6h-0.6zM424.5 179.5h0.6v0.6h-0.6zM422.5 176.5h0.6v0.6h-0.6zM421.8 172.4h0.6v0.6h-0.6zM421.4 174.1h0.6v0.6h-0.6zM425.6 179.3h0.6v0.6h-0.6zM417.4 173.9h0.6v0.6h-0.6zM424.5 181.6h0.6v0.6h-0.6zM421.6 173.5h0.6v0.6h-0.6zM419.8 180.2h0.6v0.6h-0.6zM421.2 179h0.6v0.6h-0.6zM424.1 182h0.6v0.6h-0.6zM424.5 176.2h0.6v0.6h-0.6zM423.7 177.6h0.6v0.6h-0.6zM418.6 177.2h0.6v0.6h-0.6zM417.9 174.7h0.6v0.6h-0.6zM418.1 178.2h0.6v0.6h-0.6zM418.3 179.5h0.6v0.6h-0.6zM422.8 174.1h0.6v0.6h-0.6zM425.4 182.8h0.6v0.6h-0.6zM423.2 182.9h0.6v0.6h-0.6zM420.9 183.9h0.6v0.6h-0.6zM423.9 184.8h0.6v0.6h-0.6zM420.5 176.4h0.6v0.6h-0.6zM422.3 173.7h0.6v0.6h-0.6zM418.7 173.6h0.6v0.6h-0.6zM422.2 177.1h0.6v0.6h-0.6zM422.1 178h0.6v0.6h-0.6zM425.3 180.9h0.6v0.6h-0.6zM421.1 178.2h0.6v0.6h-0.6zM424.3 179.1h0.6v0.6h-0.6zM420.3 180.6h0.6v0.6h-0.6zM421.1 180.4h0.6v0.6h-0.6zM423.4 181.3h0.6v0.6h-0.6zM419.3 176.6h0.6v0.6h-0.6zM423 180.9h0.6v0.6h-0.6zM424.8 182.2h0.6v0.6h-0.6zM419.7 174.9h0.6v0.6h-0.6zM419.7 174.8h0.6v0.6h-0.6zM421.3 174.5h0.6v0.6h-0.6zM420.3 175.4h0.6v0.6h-0.6zM419.6 175.1h0.6v0.6h-0.6zM425.2 178.9h0.6v0.6h-0.6zM425.6 178.1h0.6v0.6h-0.6zM420 177.6h0.6v0.6h-0.6zM419.9 176h0.6v0.6h-0.6zM423.8 185.3h0.6v0.6h-0.6zM419.1 176.5h0.6v0.6h-0.6zM420.3 179.8h0.6v0.6h-0.6zM420.5 182.9h0.6v0.6h-0.6zM422.9 178.5h0.6v0.6h-0.6zM418.3 178.4h0.6v0.6h-0.6zM418.6 178.7h0.6v0.6h-0.6zM421 178.4h0.6v0.6h-0.6zM420.1 177.8h0.6v0.6h-0.6zM420 177.5h0.6v0.6h-0.6zM422.5 181h0.6v0.6h-0.6zM416.8 175.4h0.6v0.6h-0.6zM418 177.6h0.6v0.6h-0.6zM421.9 176.8h0.6v0.6h-0.6zM418.3 179.2h0.6v0.6h-0.6zM422.9 185.4h0.6v0.6h-0.6zM419.9 172.4h0.6v0.6h-0.6zM419.1 176.9h0.6v0.6h-0.6zM421.8 178.5h0.6v0.6h-0.6zM422.2 181.4h0.6v0.6h-0.6zM423.3 177.2h0.6v0.6h-0.6zM419.2 179h0.6v0.6h-0.6zM422.8 173.9h0.6v0.6h-0.6zM423.8 177.2h0.6v0.6h-0.6zM421.8 177.3h0.6v0.6h-0.6zM421.8 173.7h0.6v0.6h-0.6zM424.5 181.6h0.6v0.6h-0.6zM421.2 176.9h0.6v0.6h-0.6zM418.7 174.6h0.6v0.6h-0.6zM420.4 178h0.6v0.6h-0.6zM423.1 178.2h0.6v0.6h-0.6zM426.1 177.5h0.6v0.6h-0.6zM418.9 175.1h0.6v0.6h-0.6zM419 173.9h0.6v0.6h-0.6zM426.2 178.7h0.6v0.6h-0.6zM421.4 183h0.6v0.6h-0.6zM424 181h0.6v0.6h-0.6zM421.5 175.9h0.6v0.6h-0.6zM420.8 178.9h0.6v0.6h-0.6zM420.5 174.9h0.6v0.6h-0.6zM423.6 180.5h0.6v0.6h-0.6zM419.3 180.7h0.6v0.6h-0.6zM417.2 174.3h0.6v0.6h-0.6zM421 182.2h0.6v0.6h-0.6zM422.1 172.3h0.6v0.6h-0.6zM424.6 181.4h0.6v0.6h-0.6zM423.1 179.2h0.6v0.6h-0.6zM421.2 182h0.6v0.6h-0.6zM421.9 172.1h0.6v0.6h-0.6zM421.2 182.6h0.6v0.6h-0.6zM420.1 172.5h0.6v0.6h-0.6zM423.5 178.9h0.6v0.6h-0.6zM422.7 177.1h0.6v0.6h-0.6zM422.1 182.4h0.6v0.6h-0.6zM420.9 174.7h0.6v0.6h-0.6zM423.8 175.8h0.6v0.6h-0.6zM417.3 174.2h0.6v0.6h-0.6zM424.1 178.6h0.6v0.6h-0.6zM423.1 176.1h0.6v0.6h-0.6zM421.5 174.8h0.6v0.6h-0.6zM422.7 177.7h0.6v0.6h-0.6zM420.9 176.9h0.6v0.6h-0.6zM417.5 173.9h0.6v0.6h-0.6zM421.8 175.7h0.6v0.6h-0.6zM422.4 178h0.6v0.6h-0.6zM418.1 178h0.6v0.6h-0.6zM421.3 178.7h0.6v0.6h-0.6zM423.2 179.2h0.6v0.6h-0.6zM418.7 176.2h0.6v0.6h-0.6zM425.3 177.6h0.6v0.6h-0.6zM419.9 177.1h0.6v0.6h-0.6zM423.4 179.9h0.6v0.6h-0.6zM418.1 175.4h0.6v0.6h-0.6zM422.8 184.8h0.6v0.6h-0.6zM421.4 179.8h0.6v0.6h-0.6zM421.2 172h0.6v0.6h-0.6zM423 174.7h0.6v0.6h-0.6zM419.5 175.5h0.6v0.6h-0.6zM418.3 174.5h0.6v0.6h-0.6zM419 173.4h0.6v0.6h-0.6zM422.2 178.8h0.6v0.6h-0.6zM421.8 177.8h0.6v0.6h-0.6zM423.4 172.9h0.6v0.6h-0.6zM420.6 180.3h0.6v0.6h-0.6zM422.2 182h0.6v0.6h-0.6zM421.1 176.6h0.6v0.6h-0.6zM418.1 176.4h0.6v0.6h-0.6zM422.4 178.9h0.6v0.6h-0.6zM424.9 178.5h0.6v0.6h-0.6zM419.6 180h0.6v0.6h-0.6zM420.4 179.1h0.6v0.6h-0.6zM418.6 175.4h0.6v0.6h-0.6zM423.8 177h0.6v0.6h-0.6zM423.2 172.1h0.6v0.6h-0.6zM417.6 177h0.6v0.6h-0.6zM418.5 177.5h0.6v0.6h-0.6zM423.9 179h0.6v0.6h-0.6zM421.3 182h0.6v0.6h-0.6zM417.5 177h0.6v0.6h-0.6zM425.6 181.1h0.6v0.6h-0.6zM419.6 173.5h0.6v0.6h-0.6zM422 177.5h0.6v0.6h-0.6zM424 176.5h0.6v0.6h-0.6zM424.6 179.1h0.6v0.6h-0.6zM418.8 179.4h0.6v0.6h-0.6zM417.9 174.8h0.6v0.6h-0.6zM419.1 174.3h0.6v0.6h-0.6zM420.7 179.8h0.6v0.6h-0.6zM420.6 173h0.6v0.6h-0.6zM422.6 182.5h0.6v0.6h-0.6zM422.6 173.8h0.6v0.6h-0.6zM420 182.2h0.6v0.6h-0.6zM420.4 178.2h0.6v0.6h-0.6zM420.2 177.3h0.6v0.6h-0.6zM423.6 174.4h0.6v0.6h-0.6zM424 182.3h0.6v0.6h-0.6zM421.5 179.9h0.6v0.6h-0.6zM425.5 178.2h0.6v0.6h-0.6zM426 179.2h0.6v0.6h-0.6zM422.2 174.9h0.6v0.6h-0.6zM418.4 177.9h0.6v0.6h-0.6zM424.1 175h0.6v0.6h-0.6zM418.1 176.8h0.6v0.6h-0.6zM423.2 176.9h0.6v0.6h-0.6zM423.7 175.6h0.6v0.6h-0.6zM417.7 176.4h0.6v0.6h-0.6zM417.9 176.8h0.6v0.6h-0.6zM421.6 173.4h0.6v0.6h-0.6zM422.2 181.6h0.6v0.6h-0.6zM421.5 179.7h0.6v0.6h-0.6zM421.9 177.8h0.6v0.6h-0.6zM421.7 181.2h0.6v0.6h-0.6zM421.9 183.4h0.6v0.6h-0.6zM422.2 175.5h0.6v0.6h-0.6zM418.3 177.3h0.6v0.6h-0.6zM419 178.6h0.6v0.6h-0.6zM425.1 178.2h0.6v0.6h-0.6zM423.5 185.1h0.6v0.6h-0.6zM418.9 177.2h0.6v0.6h-0.6zM422.3 180h0.6v0.6h-0.6zM422.1 183h0.6v0.6h-0.6zM423.4 177.1h0.6v0.6h-0.6zM421.4 180.9h0.6v0.6h-0.6zM418.4 173.3h0.6v0.6h-0.6zM420.9 184h0.6v0.6h-0.6zM417.9 175.1h0.6v0.6h-0.6zM421.6 178.6h0.6v0.6h-0.6zM420.1 174.6h0.6v0.6h-0.6zM418.8 175.7h0.6v0.6h-0.6zM422.4 179.1h0.6v0.6h-0.6zM421.8 177.9h0.6v0.6h-0.6zM417.4 175.2h0.6v0.6h-0.6zM421.4 171.6h0.6v0.6h-0.6zM418.8 177.7h0.6v0.6h-0.6zM418.8 176.1h0.6v0.6h-0.6zM423.1 179.1h0.6v0.6h-0.6zM421.7 175.9h0.6v0.6h-0.6zM420.3 181.2h0.6v0.6h-0.6zM421.7 176.1h0.6v0.6h-0.6zM420.5 181.1h0.6v0.6h-0.6zM419.8 174.7h0.6v0.6h-0.6zM421.3 178.1h0.6v0.6h-0.6zM425.1 177.1h0.6v0.6h-0.6zM425.1 181.1h0.6v0.6h-0.6zM424.8 178.8h0.6v0.6h-0.6zM420.1 173.5h0.6v0.6h-0.6zM423.6 175.6h0.6v0.6h-0.6zM422.7 179.5h0.6v0.6h-0.6zM423 173.9h0.6v0.6h-0.6zM419.5 176.2h0.6v0.6h-0.6zM421.2 178.9h0.6v0.6h-0.6zM423.3 179h0.6v0.6h-0.6zM424.9 178.3h0.6v0.6h-0.6zM423.2 181.3h0.6v0.6h-0.6zM420.8 172.7h0.6v0.6h-0.6zM420.6 177.8h0.6v0.6h-0.6zM421.8 179.8h0.6v0.6h-0.6zM421.1 179h0.6v0.6h-0.6zM420.6 178h0.6v0.6h-0.6zM418.7 175.6h0.6v0.6h-0.6zM419.8 179.4h0.6v0.6h-0.6zM419.9 180.1h0.6v0.6h-0.6zM424 183.1h0.6v0.6h-0.6zM423.7 179.7h0.6v0.6h-0.6zM424.9 181.3h0.6v0.6h-0.6zM424.1 175.9h0.6v0.6h-0.6zM419.3 176.7h0.6v0.6h-0.6zM419.4 179.6h0.6v0.6h-0.6zM418.3 173.1h0.6v0.6h-0.6zM422.9 178.7h0.6v0.6h-0.6zM419.5 178h0.6v0.6h-0.6zM424.7 178.2h0.6v0.6h-0.6zM419.5 174.7h0.6v0.6h-0.6zM420.3 175.4h0.6v0.6h-0.6zM417.6 177.3h0.6v0.6h-0.6zM422.2 175.2h0.6v0.6h-0.6zM422.1 176.8h0.6v0.6h-0.6zM423.7 184.5h0.6v0.6h-0.6zM420.1 174.9h0.6v0.6h-0.6zM422.5 185.1h0.6v0.6h-0.6zM423.3 175h0.6v0.6h-0.6zM423.3 185h0.6v0.6h-0.6zM420.7 179.9h0.6v0.6h-0.6zM418.6 176.9h0.6v0.6h-0.6zM421.2 180.4h0.6v0.6h-0.6zM418.2 173.9h0.6v0.6h-0.6zM423.7 184.8h0.6v0.6h-0.6zM424.5 175.8h0.6v0.6h-0.6zM420.7 177.1h0.6v0.6h-0.6zM422.7 177.4h0.6v0.6h-0.6zM421.4 178.4h0.6v0.6h-0.6zM422.9 188.4h0.6v0.6h-0.6zM419.7 174.2h0.6v0.6h-0.6zM421 172.7h0.6v0.6h-0.6zM419.7 178.7h0.6v0.6h-0.6zM421.1 172.3h0.6v0.6h-0.6zM419.6 173.9h0.6v0.6h-0.6zM420.7 173.3h0.6v0.6h-0.6zM418.2 174.1h0.6v0.6h-0.6zM418.3 178.5h0.6v0.6h-0.6zM418.6 175h0.6v0.6h-0.6zM422.5 182.1h0.6v0.6h-0.6zM424.9 176.1h0.6v0.6h-0.6zM422.4 172.1h0.6v0.6h-0.6zM421.7 175.2h0.6v0.6h-0.6zM425.7 180.6h0.6v0.6h-0.6zM424.2 178.5h0.6v0.6h-0.6zM422.4 174.6h0.6v0.6h-0.6zM418.4 176.3h0.6v0.6h-0.6zM417.8 177.1h0.6v0.6h-0.6zM418.9 177.8h0.6v0.6h-0.6zM422.1 181.7h0.6v0.6h-0.6zM421.9 177.2h0.6v0.6h-0.6zM425.2 177.7h0.6v0.6h-0.6zM423.5 182.3h0.6v0.6h-0.6zM419.9 179.4h0.6v0.6h-0.6zM425.6 182.3h0.6v0.6h-0.6zM422.2 180.9h0.6v0.6h-0.6zM423.8 180.2h0.6v0.6h-0.6zM422.3 174.5h0.6v0.6h-0.6zM420.7 177.3h0.6v0.6h-0.6zM419.5 174.1h0.6v0.6h-0.6zM420.1 174.5h0.6v0.6h-0.6zM421.5 183.7h0.6v0.6h-0.6zM424.1 183.2h0.6v0.6h-0.6zM423.5 183.3h0.6v0.6h-0.6zM424.7 178h0.6v0.6h-0.6zM420.6 180.7h0.6v0.6h-0.6zM422.1 172.1h0.6v0.6h-0.6zM417.7 175.8h0.6v0.6h-0.6zM423.6 178.4h0.6v0.6h-0.6zM420.8 182.6h0.6v0.6h-0.6zM423.2 178.8h0.6v0.6h-0.6zM417.9 176.8h0.6v0.6h-0.6zM424.3 180h0.6v0.6h-0.6zM424.2 185.5h0.6v0.6h-0.6zM419.2 179.5h0.6v0.6h-0.6zM422.7 177h0.6v0.6h-0.6zM420.1 179.1h0.6v0.6h-0.6zM421.9 175h0.6v0.6h-0.6zM420.3 175.1h0.6v0.6h-0.6zM419.2 176.2h0.6v0.6h-0.6zM419.9 179.6h0.6v0.6h-0.6zM417.2 174.9h0.6v0.6h-0.6zM420.1 174.2h0.6v0.6h-0.6zM418.1 175.3h0.6v0.6h-0.6zM421.9 173.6h0.6v0.6h-0.6zM417.8 176.5h0.6v0.6h-0.6zM422.2 176.5h0.6v0.6h-0.6zM419.7 180.9h0.6v0.6h-0.6zM423.5 181.3h0.6v0.6h-0.6zM417.5 176.8h0.6v0.6h-0.6zM422.1 178.1h0.6v0.6h-0.6zM421.4 176.5h0.6v0.6h-0.6zM422.8 181.1h0.6v0.6h-0.6zM417.3 177.1h0.6v0.6h-0.6zM420.5 173.4h0.6v0.6h-0.6zM417.7 177.6h0.6v0.6h-0.6zM420.4 181.9h0.6v0.6h-0.6zM423.4 179.7h0.6v0.6h-0.6zM421.1 178.5h0.6v0.6h-0.6zM423.8 175.7h0.6v0.6h-0.6zM421.4 175.4h0.6v0.6h-0.6zM422.8 177h0.6v0.6h-0.6zM425.1 183h0.6v0.6h-0.6zM422.4 175.9h0.6v0.6h-0.6zM422.2 178.4h0.6v0.6h-0.6zM421.3 179.8h0.6v0.6h-0.6zM417.6 176.7h0.6v0.6h-0.6zM419.2 173.2h0.6v0.6h-0.6zM421.5 177.9h0.6v0.6h-0.6zM423.9 179h0.6v0.6h-0.6zM424 183.8h0.6v0.6h-0.6zM421 176.9h0.6v0.6h-0.6zM425.5 181.5h0.6v0.6h-0.6zM423 177.4h0.6v0.6h-0.6zM418.8 178.2h0.6v0.6h-0.6zM420.4 175h0.6v0.6h-0.6zM420.8 176.6h0.6v0.6h-0.6zM422.5 172.8h0.6v0.6h-0.6zM424.5 179.4h0.6v0.6h-0.6zM420.8 175.8h0.6v0.6h-0.6zM418.9 175h0.6v0.6h-0.6zM422.4 173.2h0.6v0.6h-0.6zM423 175.7h0.6v0.6h-0.6zM424.3 179.7h0.6v0.6h-0.6zM422.8 181.5h0.6v0.6h-0.6zM425.8 178.3h0.6v0.6h-0.6zM422.4 180h0.6v0.6h-0.6zM421.7 179.5h0.6v0.6h-0.6zM421.7 174.1h0.6v0.6h-0.6zM422.4 180.8h0.6v0.6h-0.6zM421.9 177.1h0.6v0.6h-0.6zM420.7 173h0.6v0.6h-0.6zM417.8 176.8h0.6v0.6h-0.6zM418.5 177.7h0.6v0.6h-0.6zM424.2 180.4h0.6v0.6h-0.6zM423.4 184h0.6v0.6h-0.6zM424.7 180.7h0.6v0.6h-0.6zM423.4 177.4h0.6v0.6h-0.6zM422.2 177.2h0.6v0.6h-0.6zM419.1 175.6h0.6v0.6h-0.6zM419.5 174.1h0.6v0.6h-0.6zM423 181.2h0.6v0.6h-0.6zM423.4 186.5h0.6v0.6h-0.6zM424 182.2h0.6v0.6h-0.6zM424.5 177.8h0.6v0.6h-0.6zM420.9 179.6h0.6v0.6h-0.6zM416.9 176.9h0.6v0.6h-0.6zM422.8 178.6h0.6v0.6h-0.6zM422.3 179.3h0.6v0.6h-0.6zM418.1 175.3h0.6v0.6h-0.6zM424.4 188.6h0.6v0.6h-0.6zM424.1 177.6h0.6v0.6h-0.6zM421.4 177.4h0.6v0.6h-0.6zM423.9 178.6h0.6v0.6h-0.6zM418.8 174.4h0.6v0.6h-0.6zM420.1 176.9h0.6v0.6h-0.6zM425.1 180.4h0.6v0.6h-0.6zM424.3 179.5h0.6v0.6h-0.6zM421.5 182.5h0.6v0.6h-0.6zM423.6 175.6h0.6v0.6h-0.6zM420.3 178h0.6v0.6h-0.6zM417.7 174.8h0.6v0.6h-0.6zM418 177.2h0.6v0.6h-0.6zM422.2 175.1h0.6v0.6h-0.6zM420.4 177.2h0.6v0.6h-0.6zM421.1 177.9h0.6v0.6h-0.6zM418.8 175h0.6v0.6h-0.6zM420.9 174.5h0.6v0.6h-0.6zM420.9 176.9h0.6v0.6h-0.6zM423.6 181.4h0.6v0.6h-0.6zM424.6 183.5h0.6v0.6h-0.6zM421.9 176.5h0.6v0.6h-0.6zM420.1 181.7h0.6v0.6h-0.6zM421.7 173.2h0.6v0.6h-0.6zM425.3 178.2h0.6v0.6h-0.6zM423.4 175.5h0.6v0.6h-0.6zM420.2 175.7h0.6v0.6h-0.6zM425.1 178.5h0.6v0.6h-0.6zM422.6 171.5h0.6v0.6h-0.6zM422.7 185h0.6v0.6h-0.6zM420.5 172.6h0.6v0.6h-0.6zM420.2 173.2h0.6v0.6h-0.6zM422.4 173.2h0.6v0.6h-0.6zM418.1 176.8h0.6v0.6h-0.6zM419.4 174.8h0.6v0.6h-0.6zM423.7 186.3h0.6v0.6h-0.6zM421.4 181h0.6v0.6h-0.6zM423.5 178.4h0.6v0.6h-0.6zM425.5 180h0.6v0.6h-0.6zM423.7 185.2h0.6v0.6h-0.6zM425.8 178.3h0.6v0.6h-0.6zM422.2 176.5h0.6v0.6h-0.6zM425 184.3h0.6v0.6h-0.6zM424.3 178.3h0.6v0.6h-0.6zM424.5 177h0.6v0.6h-0.6zM425.1 176.9h0.6v0.6h-0.6zM421.9 181.9h0.6v0.6h-0.6zM419.5 181.2h0.6v0.6h-0.6zM419.8 180.3h0.6v0.6h-0.6zM422.9 181.7h0.6v0.6h-0.6zM423.7 173.4h0.6v0.6h-0.6zM423.9 177.4h0.6v0.6h-0.6zM424.3 176.9h0.6v0.6h-0.6zM418.1 175.8h0.6v0.6h-0.6zM424 176.2h0.6v0.6h-0.6zM424.6 180.3h0.6v0.6h-0.6zM425.2 176.1h0.6v0.6h-0.6zM425 179.4h0.6v0.6h-0.6zM419.1 176.7h0.6v0.6h-0.6zM420.9 179.9h0.6v0.6h-0.6zM422 173.2h0.6v0.6h-0.6zM423.6 177.2h0.6v0.6h-0.6zM422.8 181.1h0.6v0.6h-0.6zM423.4 182.8h0.6v0.6h-0.6zM422.5 172.3h0.6v0.6h-0.6zM420.8 179.7h0.6v0.6h-0.6zM417.9 178.3h0.6v0.6h-0.6zM421.9 179.3h0.6v0.6h-0.6zM420.9 175.8h0.6v0.6h-0.6zM422.6 178.6h0.6v0.6h-0.6zM424.6 176.3h0.6v0.6h-0.6zM424.9 180.7h0.6v0.6h-0.6zM425.5 177.3h0.6v0.6h-0.6zM418.2 178.2h0.6v0.6h-0.6zM420.1 178.5h0.6v0.6h-0.6zM423.4 176h0.6v0.6h-0.6zM424.2 186.4h0.6v0.6h-0.6zM423.5 183.2h0.6v0.6h-0.6zM417.5 178.1h0.6v0.6h-0.6zM423.8 183.1h0.6v0.6h-0.6zM424.1 182.1h0.6v0.6h-0.6zM422.6 173.6h0.6v0.6h-0.6zM420.4 178.7h0.6v0.6h-0.6zM421.1 172.6h0.6v0.6h-0.6zM422.3 178.7h0.6v0.6h-0.6zM423.1 185.7h0.6v0.6h-0.6zM424.2 179.9h0.6v0.6h-0.6zM422.5 172.3h0.6v0.6h-0.6zM419.5 175h0.6v0.6h-0.6zM422.3 183.5h0.6v0.6h-0.6zM425.4 177.2h0.6v0.6h-0.6zM421.3 184.6h0.6v0.6h-0.6zM420.9 180.9h0.6v0.6h-0.6zM419.3 177h0.6v0.6h-0.6zM419.5 176.2h0.6v0.6h-0.6zM422.2 178.5h0.6v0.6h-0.6zM422.7 174.8h0.6v0.6h-0.6zM422.3 172.5h0.6v0.6h-0.6zM420.1 177.5h0.6v0.6h-0.6zM421.2 173.8h0.6v0.6h-0.6zM422 182h0.6v0.6h-0.6zM425.5 181.2h0.6v0.6h-0.6zM423.2 180.6h0.6v0.6h-0.6zM421.6 176.5h0.6v0.6h-0.6zM420.8 176.1h0.6v0.6h-0.6zM421.9 175.8h0.6v0.6h-0.6zM421.2 177.3h0.6v0.6h-0.6zM419.7 174.4h0.6v0.6h-0.6zM423.8 185.1h0.6v0.6h-0.6zM418.7 176.5h0.6v0.6h-0.6zM418.6 174.6h0.6v0.6h-0.6zM426 177.7h0.6v0.6h-0.6zM421.8 172h0.6v0.6h-0.6zM421.5 177h0.6v0.6h-0.6zM422.9 181.3h0.6v0.6h-0.6zM422.3 185.3h0.6v0.6h-0.6zM421.8 175.4h0.6v0.6h-0.6zM423.4 180.6h0.6v0.6h-0.6zM420.3 175.8h0.6v0.6h-0.6zM424.3 179.4h0.6v0.6h-0.6zM423.1 179.2h0.6v0.6h-0.6zM421.5 172.9h0.6v0.6h-0.6zM423 177.9h0.6v0.6h-0.6zM419.8 175.6h0.6v0.6h-0.6zM423.8 178.2h0.6v0.6h-0.6zM421.3 177.7h0.6v0.6h-0.6zM417.7 176.2h0.6v0.6h-0.6zM421.9 171.5h0.6v0.6h-0.6zM420.1 179.1h0.6v0.6h-0.6zM421.7 175.1h0.6v0.6h-0.6zM417.4 174.1h0.6v0.6h-0.6zM419.8 179h0.6v0.6h-0.6zM422.2 173.7h0.6v0.6h-0.6zM420.1 174.8h0.6v0.6h-0.6zM421.9 184h0.6v0.6h-0.6zM423.7 188.6h0.6v0.6h-0.6zM424.4 187.4h0.6v0.6h-0.6zM424 182.5h0.6v0.6h-0.6zM421.9 181.3h0.6v0.6h-0.6zM423.4 185.4h0.6v0.6h-0.6zM423.6 186h0.6v0.6h-0.6zM421.9 181.1h0.6v0.6h-0.6zM423.1 184.8h0.6v0.6h-0.6zM424.6 180.1h0.6v0.6h-0.6zM424.8 189.4h0.6v0.6h-0.6zM422.6 183.9h0.6v0.6h-0.6zM424.8 188.7h0.6v0.6h-0.6zM422.3 185.9h0.6v0.6h-0.6zM424.9 188.7h0.6v0.6h-0.6zM424.8 187h0.6v0.6h-0.6zM423.5 189.1h0.6v0.6h-0.6zM424.6 187.2h0.6v0.6h-0.6zM424.3 182.4h0.6v0.6h-0.6zM423.7 182.4h0.6v0.6h-0.6zM423.4 187.2h0.6v0.6h-0.6zM424.8 189.7h0.6v0.6h-0.6zM424 184h0.6v0.6h-0.6zM424.3 180.9h0.6v0.6h-0.6zM423.3 181.3h0.6v0.6h-0.6zM421.4 184.8h0.6v0.6h-0.6zM424.7 189.6h0.6v0.6h-0.6zM424.9 184.1h0.6v0.6h-0.6zM423.5 187.3h0.6v0.6h-0.6zM423.4 183.3h0.6v0.6h-0.6zM425.2 188.9h0.6v0.6h-0.6zM424.7 179h0.6v0.6h-0.6zM422.4 181h0.6v0.6h-0.6zM424.3 183.4h0.6v0.6h-0.6zM425 184.1h0.6v0.6h-0.6zM422.5 183.5h0.6v0.6h-0.6zM425.3 183.6h0.6v0.6h-0.6zM422.5 182h0.6v0.6h-0.6zM423.3 184.3h0.6v0.6h-0.6zM422.1 185.2h0.6v0.6h-0.6zM423.2 188.7h0.6v0.6h-0.6zM424 188.5h0.6v0.6h-0.6zM424.9 189.4h0.6v0.6h-0.6zM424 188.8h0.6v0.6h-0.6zM423.5 180h0.6v0.6h-0.6zM421.1 183.2h0.6v0.6h-0.6zM423.5 183.3h0.6v0.6h-0.6zM423.7 190.1h0.6v0.6h-0.6zM423.6 189h0.6v0.6h-0.6zM424.3 184.2h0.6v0.6h-0.6zM424.4 189h0.6v0.6h-0.6zM422.3 184.7h0.6v0.6h-0.6zM423.5 190.1h0.6v0.6h-0.6zM424.4 184.4h0.6v0.6h-0.6zM424.4 188.2h0.6v0.6h-0.6zM422.9 189h0.6v0.6h-0.6zM423.1 189.1h0.6v0.6h-0.6zM424.7 185.6h0.6v0.6h-0.6zM421.9 183.7h0.6v0.6h-0.6zM424.3 189.9h0.6v0.6h-0.6zM422.4 185.6h0.6v0.6h-0.6zM424.5 190.3h0.6v0.6h-0.6zM424.8 182h0.6v0.6h-0.6zM423.7 181h0.6v0.6h-0.6zM422.4 179.4h0.6v0.6h-0.6zM421.7 177.5h0.6v0.6h-0.6zM421 183.6h0.6v0.6h-0.6zM422.8 188.1h0.6v0.6h-0.6zM423 181.7h0.6v0.6h-0.6zM421.9 179.4h0.6v0.6h-0.6zM423.6 189.2h0.6v0.6h-0.6zM424 183.8h0.6v0.6h-0.6zM423.9 188.4h0.6v0.6h-0.6zM425.1 188.6h0.6v0.6h-0.6zM424.2 189.2h0.6v0.6h-0.6zM422.1 178.5h0.6v0.6h-0.6zM424.6 183.4h0.6v0.6h-0.6zM421.6 184.6h0.6v0.6h-0.6zM425 189.2h0.6v0.6h-0.6zM420.1 180.2h0.6v0.6h-0.6zM423.2 185.5h0.6v0.6h-0.6zM423.1 188.7h0.6v0.6h-0.6zM424.3 181.8h0.6v0.6h-0.6zM422.5 183.5h0.6v0.6h-0.6zM422.8 184.4h0.6v0.6h-0.6zM423.2 174.3h0.6v0.6h-0.6zM422.2 185.4h0.6v0.6h-0.6zM424.4 187.6h0.6v0.6h-0.6zM425.1 175.9h0.6v0.6h-0.6zM424.1 188.5h0.6v0.6h-0.6zM424.6 186.9h0.6v0.6h-0.6zM422.8 184.6h0.6v0.6h-0.6zM424.7 183.6h0.6v0.6h-0.6zM424.2 187.4h0.6v0.6h-0.6zM423.8 181h0.6v0.6h-0.6zM421.6 184.9h0.6v0.6h-0.6zM423.7 188.4h0.6v0.6h-0.6zM425.1 183.4h0.6v0.6h-0.6zM424.4 188.2h0.6v0.6h-0.6zM424.5 179.8h0.6v0.6h-0.6zM424.1 183.4h0.6v0.6h-0.6zM424.7 185.9h0.6v0.6h-0.6zM424.4 184.3h0.6v0.6h-0.6zM422.7 179.2h0.6v0.6h-0.6zM424.3 182.8h0.6v0.6h-0.6zM424.2 190h0.6v0.6h-0.6zM423.1 188.7h0.6v0.6h-0.6zM424.4 183.5h0.6v0.6h-0.6zM425.2 188h0.6v0.6h-0.6zM424.2 187h0.6v0.6h-0.6zM423.4 183.9h0.6v0.6h-0.6zM425.3 177.5h0.6v0.6h-0.6zM424.6 185.4h0.6v0.6h-0.6zM423.6 188.9h0.6v0.6h-0.6zM423.5 187.6h0.6v0.6h-0.6zM423.4 183.2h0.6v0.6h-0.6zM421.3 184.7h0.6v0.6h-0.6zM425 189.8h0.6v0.6h-0.6zM424.6 186.5h0.6v0.6h-0.6zM424.2 182.5h0.6v0.6h-0.6zM422.1 175h0.6v0.6h-0.6zM423.5 186.8h0.6v0.6h-0.6zM422.1 177.5h0.6v0.6h-0.6zM424.3 186.1h0.6v0.6h-0.6zM423.1 189.9h0.6v0.6h-0.6zM424 187.9h0.6v0.6h-0.6zM425.1 188.1h0.6v0.6h-0.6zM422.6 177.7h0.6v0.6h-0.6zM424.7 189.4h0.6v0.6h-0.6zM424.4 186.3h0.6v0.6h-0.6zM421.2 182.9h0.6v0.6h-0.6zM422.3 183h0.6v0.6h-0.6zM423.5 185.8h0.6v0.6h-0.6zM422.9 186.3h0.6v0.6h-0.6zM423.5 188.2h0.6v0.6h-0.6zM424.1 181.2h0.6v0.6h-0.6zM421.7 180.2h0.6v0.6h-0.6zM425.1 176.2h0.6v0.6h-0.6zM424.9 189h0.6v0.6h-0.6zM423.6 189.1h0.6v0.6h-0.6zM421.3 171.6h0.6v0.6h-0.6zM421.9 175.1h0.6v0.6h-0.6zM421.2 173.4h0.6v0.6h-0.6zM420.9 173.1h0.6v0.6h-0.6zM423.5 173h0.6v0.6h-0.6zM419.2 172.9h0.6v0.6h-0.6zM421.4 172.5h0.6v0.6h-0.6zM420.6 173.7h0.6v0.6h-0.6zM420.7 173.8h0.6v0.6h-0.6zM421.3 175.3h0.6v0.6h-0.6zM420.5 172.6h0.6v0.6h-0.6zM420.9 173h0.6v0.6h-0.6zM421.1 172.8h0.6v0.6h-0.6zM423.6 180.6h0.6v0.6h-0.6zM420.1 172.3h0.6v0.6h-0.6zM417.5 174h0.6v0.6h-0.6zM423.1 183.2h0.6v0.6h-0.6zM425.6 181.3h0.6v0.6h-0.6zM420.5 179.3h0.6v0.6h-0.6zM422.2 176.4h0.6v0.6h-0.6zM424.3 181.5h0.6v0.6h-0.6zM419.2 174.6h0.6v0.6h-0.6zM420.2 182h0.6v0.6h-0.6zM419.8 181.3h0.6v0.6h-0.6zM421.6 173.9h0.6v0.6h-0.6zM423.9 180.3h0.6v0.6h-0.6zM425.5 177.9h0.6v0.6h-0.6zM423.2 178.2h0.6v0.6h-0.6zM425.5 180.5h0.6v0.6h-0.6zM425.2 179.4h0.6v0.6h-0.6zM422.1 182.8h0.6v0.6h-0.6zM422.8 172.7h0.6v0.6h-0.6zM425.5 176.9h0.6v0.6h-0.6zM417.7 177.3h0.6v0.6h-0.6zM423.9 188.2h0.6v0.6h-0.6zM417.7 175.1h0.6v0.6h-0.6zM425.2 179.1h0.6v0.6h-0.6zM421.8 178.6h0.6v0.6h-0.6zM425.1 182.2h0.6v0.6h-0.6zM417 176.9h0.6v0.6h-0.6zM423.8 181.8h0.6v0.6h-0.6zM421.7 182h0.6v0.6h-0.6zM421.1 177.2h0.6v0.6h-0.6zM422.4 183.9h0.6v0.6h-0.6zM418.8 175.4h0.6v0.6h-0.6z" fill="#3658c2"/>
<path d="M418.3 171.1h0.6v0.6h-0.6zM424.9 174.9h0.6v0.6h-0.6zM418.8 170.9h0.6v0.6h-0.6zM417.8 169.1h0.6v0.6h-0.6zM420 170h0.6v0.6h-0.6zM421 171.5h0.6v0.6h-0.6zM427.9 177.4h0.6v0.6h-0.6zM417.8 180h0.6v0.6h-0.6zM418.1 179.4h0.6v0.6h-0.6zM425.7 184.9h0.6v0.6h-0.6zM418.3 172h0.6v0.6h-0.6zM416.9 177.6h0.6v0.6h-0.6zM425.2 173.7h0.6v0.6h-0.6zM415.4 173.9h0.6v0.6h-0.6zM421 170.1h0.6v0.6h-0.6zM424.6 170.5h0.6v0.6h-0.6zM418.9 180.7h0.6v0.6h-0.6zM425 174.6h0.6v0.6h-0.6zM424.4 173.6h0.6v0.6h-0.6zM418.2 179.1h0.6v0.6h-0.6zM419.8 168.3h0.6v0.6h-0.6zM416.2 173.2h0.6v0.6h-0.6zM424.5 173.9h0.6v0.6h-0.6zM425.4 176.4h0.6v0.6h-0.6zM418.5 170.7h0.6v0.6h-0.6zM423.1 167.5h0.6v0.6h-0.6zM422.9 169.1h0.6v0.6h-0.6zM427.2 176.2h0.6v0.6h-0.6zM426.9 182.5h0.6v0.6h-0.6zM426.1 174.5h0.6v0.6h-0.6zM421.1 166.8h0.6v0.6h-0.6zM422.2 191.2h0.6v0.6h-0.6zM424 172.3h0.6v0.6h-0.6zM416.5 172h0.6v0.6h-0.6zM420.9 168.5h0.6v0.6h-0.6zM416.1 174.3h0.6v0.6h-0.6zM419.3 171h0.6v0.6h-0.6zM417.4 168.1h0.6v0.6h-0.6zM428.1 177.9h0.6v0.6h-0.6zM421.8 170.9h0.6v0.6h-0.6zM427.6 176.7h0.6v0.6h-0.6zM415.6 175.6h0.6v0.6h-0.6zM418.6 180.7h0.6v0.6h-0.6zM426.3 176.8h0.6v0.6h-0.6zM420.3 171.4h0.6v0.6h-0.6zM418.5 180.1h0.6v0.6h-0.6zM423.1 168.2h0.6v0.6h-0.6zM426.6 181.7h0.6v0.6h-0.6zM425.5 184.9h0.6v0.6h-0.6zM421 170.6h0.6v0.6h-0.6zM424.6 173h0.6v0.6h-0.6zM422.5 169.4h0.6v0.6h-0.6zM417.2 173.7h0.6v0.6h-0.6zM420.6 170.5h0.6v0.6h-0.6zM419 181.5h0.6v0.6h-0.6zM415.7 176.9h0.6v0.6h-0.6zM416.4 174.8h0.6v0.6h-0.6zM424.9 174h0.6v0.6h-0.6zM427.7 178.4h0.6v0.6h-0.6zM415.7 175.9h0.6v0.6h-0.6zM421.5 186.3h0.6v0.6h-0.6zM428.1 178.3h0.6v0.6h-0.6zM424.1 173.2h0.6v0.6h-0.6zM415.5 172.8h0.6v0.6h-0.6zM417.8 169.3h0.6v0.6h-0.6zM419.2 182.5h0.6v0.6h-0.6zM417.5 180.7h0.6v0.6h-0.6zM427.7 177.7h0.6v0.6h-0.6zM426.7 178.2h0.6v0.6h-0.6zM425.3 176.1h0.6v0.6h-0.6zM415.5 175.3h0.6v0.6h-0.6zM426.2 176.2h0.6v0.6h-0.6zM420.3 183.2h0.6v0.6h-0.6zM423 170.9h0.6v0.6h-0.6zM416.2 179.6h0.6v0.6h-0.6zM418.3 171.6h0.6v0.6h-0.6zM417.6 179.7h0.6v0.6h-0.6zM426.9 181.4h0.6v0.6h-0.6zM426.4 181.7h0.6v0.6h-0.6zM422.4 170.9h0.6v0.6h-0.6zM416.7 173.1h0.6v0.6h-0.6zM416.5 174.6h0.6v0.6h-0.6zM416.1 174.7h0.6v0.6h-0.6zM415.6 173.1h0.6v0.6h-0.6zM423.1 167.4h0.6v0.6h-0.6zM426.7 181h0.6v0.6h-0.6zM424.1 170.9h0.6v0.6h-0.6zM416 173.9h0.6v0.6h-0.6zM420.5 183.6h0.6v0.6h-0.6zM424.9 172.9h0.6v0.6h-0.6zM415.5 179.3h0.6v0.6h-0.6zM425.5 171.7h0.6v0.6h-0.6zM416.3 180.6h0.6v0.6h-0.6zM417 171.8h0.6v0.6h-0.6zM417.8 171.3h0.6v0.6h-0.6zM417.3 180.9h0.6v0.6h-0.6zM417.8 179.8h0.6v0.6h-0.6zM417.7 172.6h0.6v0.6h-0.6zM423.7 172.3h0.6v0.6h-0.6zM421 184.7h0.6v0.6h-0.6zM425.4 175.9h0.6v0.6h-0.6zM425.1 175.1h0.6v0.6h-0.6zM425.5 183.7h0.6v0.6h-0.6zM417 169.2h0.6v0.6h-0.6zM416.2 178.5h0.6v0.6h-0.6zM423.8 171h0.6v0.6h-0.6zM416.4 171.2h0.6v0.6h-0.6zM424.7 174.6h0.6v0.6h-0.6zM419.4 171.6h0.6v0.6h-0.6zM425.9 176.4h0.6v0.6h-0.6zM416.6 179.6h0.6v0.6h-0.6zM420.2 170.4h0.6v0.6h-0.6zM425.6 172.8h0.6v0.6h-0.6zM416.5 180.7h0.6v0.6h-0.6zM419.4 170.5h0.6v0.6h-0.6zM419.6 172.4h0.6v0.6h-0.6zM417.9 179h0.6v0.6h-0.6zM418.5 181.8h0.6v0.6h-0.6zM417.5 167.8h0.6v0.6h-0.6zM422.4 192.1h0.6v0.6h-0.6zM418.2 181h0.6v0.6h-0.6zM426.3 175.3h0.6v0.6h-0.6zM426.7 180.4h0.6v0.6h-0.6zM422.3 187.3h0.6v0.6h-0.6zM426.7 178.8h0.6v0.6h-0.6zM426.1 177h0.6v0.6h-0.6zM418.1 180.9h0.6v0.6h-0.6zM425.2 172.2h0.6v0.6h-0.6zM416.7 174.4h0.6v0.6h-0.6zM419.4 182.1h0.6v0.6h-0.6zM417.3 171.3h0.6v0.6h-0.6zM418.2 171h0.6v0.6h-0.6zM426.1 175.6h0.6v0.6h-0.6zM415.3 174.3h0.6v0.6h-0.6zM426.1 180.2h0.6v0.6h-0.6zM418.3 182.1h0.6v0.6h-0.6zM416.6 175h0.6v0.6h-0.6zM416.6 172.7h0.6v0.6h-0.6zM416.3 181h0.6v0.6h-0.6zM420.2 183.2h0.6v0.6h-0.6zM416.7 170.3h0.6v0.6h-0.6zM426.4 178.7h0.6v0.6h-0.6zM415.4 173.7h0.6v0.6h-0.6zM416.8 172.1h0.6v0.6h-0.6zM421 166.8h0.6v0.6h-0.6zM421.7 185.8h0.6v0.6h-0.6zM418.8 181.9h0.6v0.6h-0.6zM427 181h0.6v0.6h-0.6zM417.3 172h0.6v0.6h-0.6zM417.8 179.5h0.6v0.6h-0.6zM426.6 187.5h0.6v0.6h-0.6zM418.1 181.5h0.6v0.6h-0.6zM426 190.2h0.6v0.6h-0.6zM424 172.5h0.6v0.6h-0.6zM420.6 168.8h0.6v0.6h-0.6zM416 171.6h0.6v0.6h-0.6zM425.2 173.4h0.6v0.6h-0.6zM423.3 170.9h0.6v0.6h-0.6zM421.3 186.3h0.6v0.6h-0.6zM428 178.5h0.6v0.6h-0.6zM419.5 182.6h0.6v0.6h-0.6zM421.8 185.6h0.6v0.6h-0.6zM425.4 173.2h0.6v0.6h-0.6zM415.9 177.6h0.6v0.6h-0.6zM426.3 176.9h0.6v0.6h-0.6zM425.8 171.8h0.6v0.6h-0.6zM419.6 183.2h0.6v0.6h-0.6zM416.2 170.3h0.6v0.6h-0.6zM416.7 178.9h0.6v0.6h-0.6zM415.7 174.5h0.6v0.6h-0.6zM421 166.8h0.6v0.6h-0.6zM419.5 168.7h0.6v0.6h-0.6zM416.4 176.8h0.6v0.6h-0.6zM420.7 184.5h0.6v0.6h-0.6zM420.3 168.2h0.6v0.6h-0.6zM416.9 170.1h0.6v0.6h-0.6zM418.9 172.4h0.6v0.6h-0.6zM425.5 171.8h0.6v0.6h-0.6zM426.5 178.3h0.6v0.6h-0.6zM416.4 170.1h0.6v0.6h-0.6zM415.6 178.1h0.6v0.6h-0.6zM425.2 186.7h0.6v0.6h-0.6zM420.8 186.3h0.6v0.6h-0.6zM421.1 167.4h0.6v0.6h-0.6zM426.6 179.4h0.6v0.6h-0.6zM416 179.1h0.6v0.6h-0.6zM417 181.4h0.6v0.6h-0.6zM424.5 172.6h0.6v0.6h-0.6zM416.7 181.3h0.6v0.6h-0.6zM424.3 174.3h0.6v0.6h-0.6zM420.1 169.2h0.6v0.6h-0.6zM421 169.2h0.6v0.6h-0.6zM422.6 187.3h0.6v0.6h-0.6zM426.7 183h0.6v0.6h-0.6zM418.5 182h0.6v0.6h-0.6zM420 170h0.6v0.6h-0.6zM418.4 172.7h0.6v0.6h-0.6zM426.2 183.6h0.6v0.6h-0.6zM426.7 183.3h0.6v0.6h-0.6zM422.7 187.6h0.6v0.6h-0.6zM416 178.4h0.6v0.6h-0.6zM426.8 177.7h0.6v0.6h-0.6zM418.6 182.7h0.6v0.6h-0.6zM425.6 173.1h0.6v0.6h-0.6zM424.6 171.4h0.6v0.6h-0.6zM421.1 170.3h0.6v0.6h-0.6zM420.2 183.3h0.6v0.6h-0.6zM415 174.2h0.6v0.6h-0.6zM418.9 180.6h0.6v0.6h-0.6zM426.4 182.8h0.6v0.6h-0.6zM422.4 171.1h0.6v0.6h-0.6zM419.7 183.5h0.6v0.6h-0.6zM419.6 183.3h0.6v0.6h-0.6zM426.7 177h0.6v0.6h-0.6zM416.9 181.1h0.6v0.6h-0.6zM423.1 171.3h0.6v0.6h-0.6zM423.5 167.9h0.6v0.6h-0.6zM426.9 181.4h0.6v0.6h-0.6zM420.8 167h0.6v0.6h-0.6zM424.1 169.8h0.6v0.6h-0.6zM418.4 180.8h0.6v0.6h-0.6zM419.2 182.9h0.6v0.6h-0.6zM418.6 181.6h0.6v0.6h-0.6zM425.4 187.7h0.6v0.6h-0.6zM417.4 180.8h0.6v0.6h-0.6zM425.5 174.2h0.6v0.6h-0.6zM417.9 171.5h0.6v0.6h-0.6zM425.6 172.2h0.6v0.6h-0.6zM421 184.3h0.6v0.6h-0.6zM417 179h0.6v0.6h-0.6zM420.1 184.9h0.6v0.6h-0.6zM417.1 173.9h0.6v0.6h-0.6zM426.6 178.7h0.6v0.6h-0.6zM426.4 178.5h0.6v0.6h-0.6zM423 170.1h0.6v0.6h-0.6zM416.9 181.5h0.6v0.6h-0.6zM418 172.9h0.6v0.6h-0.6zM423.5 169.2h0.6v0.6h-0.6zM427.7 177.6h0.6v0.6h-0.6zM424.2 173.3h0.6v0.6h-0.6zM426.8 182.3h0.6v0.6h-0.6zM422 186.5h0.6v0.6h-0.6zM418.6 183.3h0.6v0.6h-0.6zM415 174.4h0.6v0.6h-0.6zM418.6 170.4h0.6v0.6h-0.6zM421.1 186.6h0.6v0.6h-0.6zM420.8 171.6h0.6v0.6h-0.6zM415.7 178.9h0.6v0.6h-0.6zM424.3 170.5h0.6v0.6h-0.6zM420.3 182.5h0.6v0.6h-0.6zM419.1 181.5h0.6v0.6h-0.6zM416.2 176.7h0.6v0.6h-0.6zM420.8 185.9h0.6v0.6h-0.6zM417 174h0.6v0.6h-0.6zM418.5 169.7h0.6v0.6h-0.6zM425.6 176.2h0.6v0.6h-0.6zM426.8 178.2h0.6v0.6h-0.6zM426.7 182.2h0.6v0.6h-0.6zM419.6 183.1h0.6v0.6h-0.6zM415.8 180.1h0.6v0.6h-0.6zM425.5 176.1h0.6v0.6h-0.6zM421.5 189.3h0.6v0.6h-0.6zM419.1 167.5h0.6v0.6h-0.6zM424.5 172.5h0.6v0.6h-0.6zM415.9 175.5h0.6v0.6h-0.6zM417.7 182h0.6v0.6h-0.6zM418.3 171.3h0.6v0.6h-0.6zM420.9 186h0.6v0.6h-0.6zM424.9 171.9h0.6v0.6h-0.6zM422.7 170.3h0.6v0.6h-0.6zM426.3 179.9h0.6v0.6h-0.6zM415.8 172.3h0.6v0.6h-0.6zM420.6 167.4h0.6v0.6h-0.6zM420.6 183.3h0.6v0.6h-0.6zM424.4 173.8h0.6v0.6h-0.6zM426.3 184h0.6v0.6h-0.6zM427.9 177.8h0.6v0.6h-0.6zM424.6 170.8h0.6v0.6h-0.6zM416 181.4h0.6v0.6h-0.6zM427.6 177.3h0.6v0.6h-0.6zM416 175h0.6v0.6h-0.6zM427.2 182.9h0.6v0.6h-0.6zM416.7 177.9h0.6v0.6h-0.6zM423.6 171.8h0.6v0.6h-0.6zM426.8 179.2h0.6v0.6h-0.6zM422.7 170.7h0.6v0.6h-0.6zM416.2 180.8h0.6v0.6h-0.6zM424.9 174.5h0.6v0.6h-0.6zM417.6 170.4h0.6v0.6h-0.6zM421.4 171.2h0.6v0.6h-0.6zM425.3 191.7h0.6v0.6h-0.6zM426 186h0.6v0.6h-0.6zM425.8 190.1h0.6v0.6h-0.6zM421.9 190h0.6v0.6h-0.6zM425.2 184.7h0.6v0.6h-0.6zM425.4 188.2h0.6v0.6h-0.6zM426.1 186.8h0.6v0.6h-0.6zM425.9 188.4h0.6v0.6h-0.6zM425.3 186.6h0.6v0.6h-0.6zM425.9 191.6h0.6v0.6h-0.6zM425.8 189.9h0.6v0.6h-0.6zM425.9 185.7h0.6v0.6h-0.6zM425.8 188.4h0.6v0.6h-0.6zM422.2 190.8h0.6v0.6h-0.6zM425.8 187.7h0.6v0.6h-0.6zM425 191.9h0.6v0.6h-0.6zM423.3 191.3h0.6v0.6h-0.6zM425.7 185.3h0.6v0.6h-0.6zM426.6 182h0.6v0.6h-0.6zM425.4 190.3h0.6v0.6h-0.6zM422.4 186.7h0.6v0.6h-0.6zM424 192.2h0.6v0.6h-0.6zM425.7 192h0.6v0.6h-0.6zM422.3 189.3h0.6v0.6h-0.6zM425.1 190.5h0.6v0.6h-0.6zM422.5 186.5h0.6v0.6h-0.6zM422.5 189.7h0.6v0.6h-0.6zM426.5 189.3h0.6v0.6h-0.6zM425.5 188h0.6v0.6h-0.6zM422.8 191.5h0.6v0.6h-0.6zM426 183.7h0.6v0.6h-0.6zM425.2 190.5h0.6v0.6h-0.6zM422.1 185.5h0.6v0.6h-0.6zM425.4 191.8h0.6v0.6h-0.6zM423.1 190.6h0.6v0.6h-0.6zM426.5 189.9h0.6v0.6h-0.6zM421.4 186.5h0.6v0.6h-0.6zM424.8 192.9h0.6v0.6h-0.6zM426.4 191.4h0.6v0.6h-0.6zM423.7 191.6h0.6v0.6h-0.6zM421.9 190.7h0.6v0.6h-0.6zM423.2 193.3h0.6v0.6h-0.6zM425.5 191.1h0.6v0.6h-0.6zM424 193.4h0.6v0.6h-0.6zM426.7 191.7h0.6v0.6h-0.6zM426.1 186.4h0.6v0.6h-0.6zM422.4 189.9h0.6v0.6h-0.6zM423.5 193.4h0.6v0.6h-0.6zM426.5 188.9h0.6v0.6h-0.6zM426.4 189.5h0.6v0.6h-0.6zM425.8 192.8h0.6v0.6h-0.6zM426.3 191h0.6v0.6h-0.6zM426.7 185.9h0.6v0.6h-0.6zM425.6 191.5h0.6v0.6h-0.6zM425.5 187.6h0.6v0.6h-0.6zM422.3 192.9h0.6v0.6h-0.6zM425.3 189.9h0.6v0.6h-0.6zM422.5 190.1h0.6v0.6h-0.6zM426.6 191.3h0.6v0.6h-0.6zM425.4 191.7h0.6v0.6h-0.6zM423.5 190.9h0.6v0.6h-0.6zM425.3 186.9h0.6v0.6h-0.6zM420.2 183.7h0.6v0.6h-0.6zM420.7 185.9h0.6v0.6h-0.6zM426.5 182.6h0.6v0.6h-0.6zM425.7 191.3h0.6v0.6h-0.6zM426.1 183.4h0.6v0.6h-0.6zM424.6 192h0.6v0.6h-0.6zM426.1 181.9h0.6v0.6h-0.6zM421.4 190.1h0.6v0.6h-0.6zM422.5 188.6h0.6v0.6h-0.6zM425.8 186.8h0.6v0.6h-0.6zM425.3 191.6h0.6v0.6h-0.6zM426 187h0.6v0.6h-0.6zM426 186.4h0.6v0.6h-0.6zM425.3 191.9h0.6v0.6h-0.6zM423.9 191.8h0.6v0.6h-0.6zM423.5 190.6h0.6v0.6h-0.6zM425.7 190.1h0.6v0.6h-0.6zM426.3 190h0.6v0.6h-0.6zM424 190.7h0.6v0.6h-0.6zM425.9 190h0.6v0.6h-0.6zM423.9 190.9h0.6v0.6h-0.6zM422.5 192.7h0.6v0.6h-0.6zM421.7 189.5h0.6v0.6h-0.6zM424.3 192.6h0.6v0.6h-0.6zM423 193.1h0.6v0.6h-0.6zM425.1 190.7h0.6v0.6h-0.6zM425.7 186h0.6v0.6h-0.6zM423.3 191.2h0.6v0.6h-0.6zM420 183.9h0.6v0.6h-0.6zM423.7 192.4h0.6v0.6h-0.6zM422.2 189.4h0.6v0.6h-0.6zM424.9 191.6h0.6v0.6h-0.6zM425.7 185.1h0.6v0.6h-0.6zM418.1 182.8h0.6v0.6h-0.6zM425 174.9h0.6v0.6h-0.6zM426.1 186.6h0.6v0.6h-0.6zM425.9 191.1h0.6v0.6h-0.6zM422.6 192.4h0.6v0.6h-0.6zM422.7 189.8h0.6v0.6h-0.6zM425.6 187.4h0.6v0.6h-0.6zM421.6 189.3h0.6v0.6h-0.6zM422.5 189.7h0.6v0.6h-0.6zM426.5 191h0.6v0.6h-0.6zM423.9 192.5h0.6v0.6h-0.6zM422.6 189.5h0.6v0.6h-0.6zM423.4 190.9h0.6v0.6h-0.6zM422 188.5h0.6v0.6h-0.6zM423.6 192.7h0.6v0.6h-0.6zM426.6 184.9h0.6v0.6h-0.6zM422.7 192.9h0.6v0.6h-0.6zM423.1 192.4h0.6v0.6h-0.6zM422.4 186.7h0.6v0.6h-0.6zM426.3 180.7h0.6v0.6h-0.6zM426 189.2h0.6v0.6h-0.6zM424 193.1h0.6v0.6h-0.6zM423.1 191.5h0.6v0.6h-0.6zM425.5 185.7h0.6v0.6h-0.6zM422.7 189.3h0.6v0.6h-0.6zM422.5 187.7h0.6v0.6h-0.6zM425.9 185h0.6v0.6h-0.6zM419.7 169.7h0.6v0.6h-0.6zM422.2 166.8h0.6v0.6h-0.6zM416.9 173.9h0.6v0.6h-0.6zM419.6 166.3h0.6v0.6h-0.6zM422 166.5h0.6v0.6h-0.6zM418.6 172.5h0.6v0.6h-0.6zM422.8 170.7h0.6v0.6h-0.6zM423.4 169.8h0.6v0.6h-0.6zM418.6 169h0.6v0.6h-0.6zM420.2 168.1h0.6v0.6h-0.6zM421.5 167.4h0.6v0.6h-0.6zM420.6 168.1h0.6v0.6h-0.6zM420.3 166.7h0.6v0.6h-0.6zM418.3 166.6h0.6v0.6h-0.6zM420.6 165.2h0.6v0.6h-0.6zM419 171.8h0.6v0.6h-0.6zM417.1 168.9h0.6v0.6h-0.6zM421.6 167.7h0.6v0.6h-0.6zM422.7 166.7h0.6v0.6h-0.6zM417.2 167.6h0.6v0.6h-0.6zM417.7 169.7h0.6v0.6h-0.6zM423 169.3h0.6v0.6h-0.6zM425.7 171.5h0.6v0.6h-0.6zM417 168.9h0.6v0.6h-0.6zM416.2 171.6h0.6v0.6h-0.6zM420.7 165.6h0.6v0.6h-0.6zM425 170.7h0.6v0.6h-0.6zM418.9 165.8h0.6v0.6h-0.6zM420.4 166.8h0.6v0.6h-0.6zM418.7 168.5h0.6v0.6h-0.6zM419.3 166.9h0.6v0.6h-0.6zM422.7 171.4h0.6v0.6h-0.6zM419.3 167.1h0.6v0.6h-0.6zM417.7 167.9h0.6v0.6h-0.6zM421 169.3h0.6v0.6h-0.6zM416 170.1h0.6v0.6h-0.6zM419.2 168.6h0.6v0.6h-0.6zM423.1 167.3h0.6v0.6h-0.6zM420.1 167.4h0.6v0.6h-0.6zM423.7 171.9h0.6v0.6h-0.6zM421.5 167.3h0.6v0.6h-0.6zM421 166.9h0.6v0.6h-0.6zM423 167.3h0.6v0.6h-0.6zM419.5 168.4h0.6v0.6h-0.6zM419.2 170.5h0.6v0.6h-0.6zM422.2 167.9h0.6v0.6h-0.6zM423 171.1h0.6v0.6h-0.6zM421.4 168.8h0.6v0.6h-0.6zM420 166h0.6v0.6h-0.6zM422 168.6h0.6v0.6h-0.6zM421.1 167.1h0.6v0.6h-0.6zM422.8 168.5h0.6v0.6h-0.6zM422.5 167.4h0.6v0.6h-0.6zM417 168.4h0.6v0.6h-0.6zM423.8 173.5h0.6v0.6h-0.6zM415.9 170.3h0.6v0.6h-0.6zM422.9 171h0.6v0.6h-0.6zM423.1 168.4h0.6v0.6h-0.6zM417.5 168.9h0.6v0.6h-0.6zM418.8 172.5h0.6v0.6h-0.6zM416.3 171.5h0.6v0.6h-0.6zM420.3 166.2h0.6v0.6h-0.6zM421.6 168.8h0.6v0.6h-0.6zM418 170.2h0.6v0.6h-0.6zM419.2 168.5h0.6v0.6h-0.6zM418.4 168.6h0.6v0.6h-0.6zM422.9 169.1h0.6v0.6h-0.6zM421.1 166.5h0.6v0.6h-0.6zM419.7 166.5h0.6v0.6h-0.6zM418.5 167.9h0.6v0.6h-0.6zM422.2 166.9h0.6v0.6h-0.6zM421.9 165.6h0.6v0.6h-0.6zM415.4 173.1h0.6v0.6h-0.6zM416.6 170.3h0.6v0.6h-0.6zM422 170.9h0.6v0.6h-0.6zM419.5 167.4h0.6v0.6h-0.6zM418.9 170.8h0.6v0.6h-0.6zM422.6 166.1h0.6v0.6h-0.6zM422 167.7h0.6v0.6h-0.6zM422.5 168.5h0.6v0.6h-0.6zM416.6 172.8h0.6v0.6h-0.6zM420.4 165.3h0.6v0.6h-0.6zM416.7 168.8h0.6v0.6h-0.6zM421.5 165.8h0.6v0.6h-0.6zM417.1 171.2h0.6v0.6h-0.6zM420.3 169.1h0.6v0.6h-0.6zM417.4 168h0.6v0.6h-0.6zM416.9 169.2h0.6v0.6h-0.6zM422.2 166.9h0.6v0.6h-0.6zM421.1 167.3h0.6v0.6h-0.6zM423.6 168.9h0.6v0.6h-0.6zM424.9 170.6h0.6v0.6h-0.6zM417.4 167.8h0.6v0.6h-0.6zM423.8 168.8h0.6v0.6h-0.6zM419.5 168h0.6v0.6h-0.6zM414.9 174.3h0.6v0.6h-0.6zM417.5 169.3h0.6v0.6h-0.6zM420.6 166.1h0.6v0.6h-0.6zM419.1 166.1h0.6v0.6h-0.6zM421 167h0.6v0.6h-0.6zM423.8 172.1h0.6v0.6h-0.6zM425.6 183.6h0.6v0.6h-0.6zM424.3 171.5h0.6v0.6h-0.6zM425.7 188.1h0.6v0.6h-0.6zM422.5 170.8h0.6v0.6h-0.6zM420.4 168h0.6v0.6h-0.6zM416.1 170.8h0.6v0.6h-0.6zM418.9 167.3h0.6v0.6h-0.6zM426.7 188.2h0.6v0.6h-0.6zM417.6 171.4h0.6v0.6h-0.6zM419.1 168.9h0.6v0.6h-0.6zM425.8 182.4h0.6v0.6h-0.6zM425.1 175.3h0.6v0.6h-0.6zM424 191.8h0.6v0.6h-0.6zM418.6 183.3h0.6v0.6h-0.6zM424.7 174.9h0.6v0.6h-0.6zM426.1 184.7h0.6v0.6h-0.6zM416.8 179.8h0.6v0.6h-0.6zM416.4 172.5h0.6v0.6h-0.6zM420.9 169.5h0.6v0.6h-0.6zM421.5 169.2h0.6v0.6h-0.6zM420.6 169.2h0.6v0.6h-0.6zM416.7 179.6h0.6v0.6h-0.6zM420.7 165.4h0.6v0.6h-0.6zM417.9 172.9h0.6v0.6h-0.6zM420.5 185h0.6v0.6h-0.6zM415.4 173.5h0.6v0.6h-0.6zM426.3 182.9h0.6v0.6h-0.6zM418.6 181h0.6v0.6h-0.6zM420.6 170.7h0.6v0.6h-0.6zM424.6 173.3h0.6v0.6h-0.6z" fill="#4a68c8"/>
<path d="M414.7 180.6h0.6v0.6h-0.6zM413.8 172.5h0.6v0.6h-0.6zM427.4 188h0.6v0.6h-0.6zM413.7 180.1h0.6v0.6h-0.6zM415.3 181.8h0.6v0.6h-0.6zM416.9 182h0.6v0.6h-0.6zM414.9 179.3h0.6v0.6h-0.6zM429.7 178.2h0.6v0.6h-0.6zM417.1 166h0.6v0.6h-0.6zM412.5 177.8h0.6v0.6h-0.6zM416 182.5h0.6v0.6h-0.6zM415 180.8h0.6v0.6h-0.6zM424.1 167.9h0.6v0.6h-0.6zM414.5 168.1h0.6v0.6h-0.6zM424.3 168.7h0.6v0.6h-0.6zM417.7 182.9h0.6v0.6h-0.6zM413.1 172.3h0.6v0.6h-0.6zM413.5 179.5h0.6v0.6h-0.6zM415.6 181.9h0.6v0.6h-0.6zM415.5 169.8h0.6v0.6h-0.6zM413.9 178.8h0.6v0.6h-0.6zM414.2 179.1h0.6v0.6h-0.6zM429.8 178.1h0.6v0.6h-0.6zM419.5 187.1h0.6v0.6h-0.6zM428.8 182.3h0.6v0.6h-0.6zM419.1 184.6h0.6v0.6h-0.6zM427.8 182.3h0.6v0.6h-0.6zM429.6 176.9h0.6v0.6h-0.6zM428.2 180.3h0.6v0.6h-0.6zM414.9 180.8h0.6v0.6h-0.6zM426.5 172.4h0.6v0.6h-0.6zM416 168.2h0.6v0.6h-0.6zM413.1 176.1h0.6v0.6h-0.6zM427.3 180.2h0.6v0.6h-0.6zM426.5 174.3h0.6v0.6h-0.6zM430 177.2h0.6v0.6h-0.6zM429.1 182.6h0.6v0.6h-0.6zM421.3 191.3h0.6v0.6h-0.6zM412.3 177.1h0.6v0.6h-0.6zM414.7 178.2h0.6v0.6h-0.6zM414.9 182.9h0.6v0.6h-0.6zM412.5 177.1h0.6v0.6h-0.6zM428.9 177h0.6v0.6h-0.6zM419.2 188.1h0.6v0.6h-0.6zM414.5 178.7h0.6v0.6h-0.6zM427.4 189.5h0.6v0.6h-0.6zM422.6 165.7h0.6v0.6h-0.6zM414.6 176h0.6v0.6h-0.6zM414.8 178.3h0.6v0.6h-0.6zM420.6 187.3h0.6v0.6h-0.6zM414.7 178.7h0.6v0.6h-0.6zM412.9 173.3h0.6v0.6h-0.6zM416.6 166.3h0.6v0.6h-0.6zM428.2 178.8h0.6v0.6h-0.6zM419.1 187.4h0.6v0.6h-0.6zM417.6 162.7h0.6v0.6h-0.6zM428.4 177.8h0.6v0.6h-0.6zM426.8 171.2h0.6v0.6h-0.6zM415.5 169.3h0.6v0.6h-0.6zM413.3 181.9h0.6v0.6h-0.6zM415.7 183.6h0.6v0.6h-0.6zM428.6 180.2h0.6v0.6h-0.6zM416.3 164.4h0.6v0.6h-0.6zM413.6 177h0.6v0.6h-0.6zM429.1 177.4h0.6v0.6h-0.6zM426.7 171.5h0.6v0.6h-0.6zM414.5 181.7h0.6v0.6h-0.6zM414.4 171.7h0.6v0.6h-0.6zM428.9 178.1h0.6v0.6h-0.6zM426.8 172.6h0.6v0.6h-0.6zM414.3 176.8h0.6v0.6h-0.6zM413.4 171.2h0.6v0.6h-0.6zM413.8 173.4h0.6v0.6h-0.6zM426.3 172.6h0.6v0.6h-0.6zM429.7 176.6h0.6v0.6h-0.6zM417.9 184.4h0.6v0.6h-0.6zM414.9 175.1h0.6v0.6h-0.6zM418.5 164.3h0.6v0.6h-0.6zM416.1 182.9h0.6v0.6h-0.6zM427.6 182.9h0.6v0.6h-0.6zM413 173.9h0.6v0.6h-0.6zM426.4 173.9h0.6v0.6h-0.6zM418.4 186.5h0.6v0.6h-0.6zM414.5 175.2h0.6v0.6h-0.6zM429.1 179.3h0.6v0.6h-0.6zM415.8 183.1h0.6v0.6h-0.6zM419 184.2h0.6v0.6h-0.6zM428.3 179.4h0.6v0.6h-0.6zM426.7 172.5h0.6v0.6h-0.6zM428.1 191.8h0.6v0.6h-0.6zM413.6 177.3h0.6v0.6h-0.6zM416.3 182.5h0.6v0.6h-0.6zM424.5 168.4h0.6v0.6h-0.6zM425.5 169.4h0.6v0.6h-0.6zM414.3 177h0.6v0.6h-0.6zM412.4 179.2h0.6v0.6h-0.6zM418.1 185.2h0.6v0.6h-0.6zM414 172.5h0.6v0.6h-0.6zM419.2 186.6h0.6v0.6h-0.6zM427.8 179h0.6v0.6h-0.6zM417.2 164.4h0.6v0.6h-0.6zM415.7 167.2h0.6v0.6h-0.6zM415 176.3h0.6v0.6h-0.6zM413.1 177.6h0.6v0.6h-0.6zM415.3 180.5h0.6v0.6h-0.6zM413.8 178.1h0.6v0.6h-0.6zM418.9 163h0.6v0.6h-0.6zM427.8 182.3h0.6v0.6h-0.6zM420.2 187.5h0.6v0.6h-0.6zM414 179.5h0.6v0.6h-0.6zM429.3 178.1h0.6v0.6h-0.6zM414.6 177.2h0.6v0.6h-0.6zM428.3 176.2h0.6v0.6h-0.6zM427.7 175.6h0.6v0.6h-0.6zM416.4 182.2h0.6v0.6h-0.6zM414.4 178.5h0.6v0.6h-0.6zM428.5 181.2h0.6v0.6h-0.6zM418.3 164.1h0.6v0.6h-0.6zM428.3 178.6h0.6v0.6h-0.6zM425.4 171.2h0.6v0.6h-0.6zM429.2 176.3h0.6v0.6h-0.6zM414.7 182.9h0.6v0.6h-0.6zM415 175.4h0.6v0.6h-0.6zM429.6 179.8h0.6v0.6h-0.6zM417.6 183.2h0.6v0.6h-0.6zM428.9 177.4h0.6v0.6h-0.6zM427.2 175.5h0.6v0.6h-0.6zM427.7 176.3h0.6v0.6h-0.6zM419 165.1h0.6v0.6h-0.6zM416.9 182.6h0.6v0.6h-0.6zM422.4 196.1h0.6v0.6h-0.6zM426 193.6h0.6v0.6h-0.6zM427.2 186.8h0.6v0.6h-0.6zM426 193.1h0.6v0.6h-0.6zM420.8 190.9h0.6v0.6h-0.6zM422.2 196.8h0.6v0.6h-0.6zM421.5 192.6h0.6v0.6h-0.6zM426.7 196.9h0.6v0.6h-0.6zM421.8 196.4h0.6v0.6h-0.6zM422.7 193.5h0.6v0.6h-0.6zM423.9 193.7h0.6v0.6h-0.6zM427.6 187.5h0.6v0.6h-0.6zM425.6 194.2h0.6v0.6h-0.6zM420.9 195.1h0.6v0.6h-0.6zM424.6 194.5h0.6v0.6h-0.6zM424.1 195.9h0.6v0.6h-0.6zM425.7 194.4h0.6v0.6h-0.6zM420.9 187.5h0.6v0.6h-0.6zM426.2 194.6h0.6v0.6h-0.6zM427.9 185h0.6v0.6h-0.6zM427.9 190.2h0.6v0.6h-0.6zM423.5 194.8h0.6v0.6h-0.6zM422.2 193.9h0.6v0.6h-0.6zM420.2 186.1h0.6v0.6h-0.6zM425.2 194.8h0.6v0.6h-0.6zM426.4 192.1h0.6v0.6h-0.6zM421.3 189.3h0.6v0.6h-0.6zM425.6 196.1h0.6v0.6h-0.6zM424.9 196.7h0.6v0.6h-0.6zM420.4 194h0.6v0.6h-0.6zM427.2 195.5h0.6v0.6h-0.6zM418 185.8h0.6v0.6h-0.6zM425 194.5h0.6v0.6h-0.6zM422.4 193.5h0.6v0.6h-0.6zM421.2 191.7h0.6v0.6h-0.6zM419.8 187.8h0.6v0.6h-0.6zM427.8 187.5h0.6v0.6h-0.6zM426.1 195.2h0.6v0.6h-0.6zM419.6 188h0.6v0.6h-0.6zM421.6 195.4h0.6v0.6h-0.6zM425.1 193.6h0.6v0.6h-0.6zM426.9 193.5h0.6v0.6h-0.6zM425.4 193h0.6v0.6h-0.6zM426 195.8h0.6v0.6h-0.6zM421.8 195.6h0.6v0.6h-0.6zM419.8 185.6h0.6v0.6h-0.6zM422.7 194.2h0.6v0.6h-0.6zM423.7 196.9h0.6v0.6h-0.6zM427.4 185.8h0.6v0.6h-0.6zM423 195.9h0.6v0.6h-0.6zM425.9 195.8h0.6v0.6h-0.6zM421.1 187.7h0.6v0.6h-0.6zM427.1 191.9h0.6v0.6h-0.6zM423.8 195.7h0.6v0.6h-0.6zM426 196.4h0.6v0.6h-0.6zM421.1 188h0.6v0.6h-0.6zM428.1 188.9h0.6v0.6h-0.6zM420.8 193h0.6v0.6h-0.6zM421.1 188.5h0.6v0.6h-0.6zM424.9 197.4h0.6v0.6h-0.6zM423.6 196.3h0.6v0.6h-0.6zM428.5 187.5h0.6v0.6h-0.6zM424.8 197.8h0.6v0.6h-0.6zM427.5 189h0.6v0.6h-0.6zM422.3 193.5h0.6v0.6h-0.6zM424.1 193.8h0.6v0.6h-0.6zM421.4 194.4h0.6v0.6h-0.6zM425.6 197.1h0.6v0.6h-0.6zM423.4 196.4h0.6v0.6h-0.6zM425.3 193.3h0.6v0.6h-0.6zM421.6 190.8h0.6v0.6h-0.6zM420.5 187.3h0.6v0.6h-0.6zM422.1 193h0.6v0.6h-0.6zM426.1 192.7h0.6v0.6h-0.6zM420.9 190.7h0.6v0.6h-0.6zM427.4 189.7h0.6v0.6h-0.6zM421 188.1h0.6v0.6h-0.6zM427.1 192.7h0.6v0.6h-0.6zM426.7 192.5h0.6v0.6h-0.6zM421.2 190.1h0.6v0.6h-0.6zM425.5 195.8h0.6v0.6h-0.6zM423.4 194.1h0.6v0.6h-0.6zM423.9 197.2h0.6v0.6h-0.6zM420.5 194.2h0.6v0.6h-0.6zM420 192.9h0.6v0.6h-0.6zM428.2 187.3h0.6v0.6h-0.6zM414.9 171.3h0.6v0.6h-0.6zM419.8 165.2h0.6v0.6h-0.6zM421.1 164.5h0.6v0.6h-0.6zM423.2 166.7h0.6v0.6h-0.6zM422 164.8h0.6v0.6h-0.6zM421.3 165h0.6v0.6h-0.6zM416.4 164.5h0.6v0.6h-0.6zM422.7 163.5h0.6v0.6h-0.6zM418 166h0.6v0.6h-0.6zM419.7 163.9h0.6v0.6h-0.6zM417.2 163.8h0.6v0.6h-0.6zM421.1 163.3h0.6v0.6h-0.6zM417.4 164.1h0.6v0.6h-0.6zM415.4 165.9h0.6v0.6h-0.6zM416.9 166.7h0.6v0.6h-0.6zM414.6 167h0.6v0.6h-0.6zM415.9 166.6h0.6v0.6h-0.6zM417.5 166.4h0.6v0.6h-0.6zM418 166.1h0.6v0.6h-0.6zM424.2 168.2h0.6v0.6h-0.6zM415.7 166.7h0.6v0.6h-0.6zM418.7 162.8h0.6v0.6h-0.6zM413.3 172.3h0.6v0.6h-0.6zM422.1 164.3h0.6v0.6h-0.6zM425.4 169.2h0.6v0.6h-0.6zM418.2 165.2h0.6v0.6h-0.6zM423.8 166.3h0.6v0.6h-0.6zM424.6 167.6h0.6v0.6h-0.6zM425.2 170.2h0.6v0.6h-0.6zM416 167.1h0.6v0.6h-0.6zM415 170.7h0.6v0.6h-0.6zM421.1 163.4h0.6v0.6h-0.6zM417.8 162.2h0.6v0.6h-0.6zM419.8 164.8h0.6v0.6h-0.6zM419.1 164h0.6v0.6h-0.6zM421.6 164.5h0.6v0.6h-0.6zM426.8 171.7h0.6v0.6h-0.6zM417.8 161.7h0.6v0.6h-0.6zM423.4 167h0.6v0.6h-0.6zM416.4 166.6h0.6v0.6h-0.6zM425.6 169.1h0.6v0.6h-0.6zM416.5 166.6h0.6v0.6h-0.6zM416.4 167.8h0.6v0.6h-0.6zM416.5 167.7h0.6v0.6h-0.6zM421.4 164.1h0.6v0.6h-0.6zM424.8 167.9h0.6v0.6h-0.6zM423 164.8h0.6v0.6h-0.6zM414.6 167h0.6v0.6h-0.6zM421.7 165.4h0.6v0.6h-0.6zM425 169.1h0.6v0.6h-0.6zM417.9 163h0.6v0.6h-0.6zM419.2 165.4h0.6v0.6h-0.6zM416.9 164.5h0.6v0.6h-0.6zM418.1 163.6h0.6v0.6h-0.6zM419.9 164.7h0.6v0.6h-0.6zM418.7 165h0.6v0.6h-0.6zM415.3 166.3h0.6v0.6h-0.6zM415.6 167.7h0.6v0.6h-0.6zM425.8 170.8h0.6v0.6h-0.6zM420.2 164.2h0.6v0.6h-0.6zM419.6 165.3h0.6v0.6h-0.6zM415.7 170.6h0.6v0.6h-0.6zM415.8 169.5h0.6v0.6h-0.6zM417.3 165.8h0.6v0.6h-0.6zM414.9 180.8h0.6v0.6h-0.6zM415.1 181.8h0.6v0.6h-0.6zM417.7 166.9h0.6v0.6h-0.6zM427.1 196.9h0.6v0.6h-0.6zM415.2 175.7h0.6v0.6h-0.6zM428.3 176.6h0.6v0.6h-0.6zM416.7 163.4h0.6v0.6h-0.6zM414.6 180.6h0.6v0.6h-0.6zM415.2 177.3h0.6v0.6h-0.6zM428.3 184.2h0.6v0.6h-0.6zM421.1 193.5h0.6v0.6h-0.6zM423.4 193.5h0.6v0.6h-0.6zM422.4 197.2h0.6v0.6h-0.6zM415.7 171h0.6v0.6h-0.6zM413.8 175.5h0.6v0.6h-0.6zM414.5 168.2h0.6v0.6h-0.6zM424.8 168.4h0.6v0.6h-0.6zM414.3 178.6h0.6v0.6h-0.6zM425.8 196.8h0.6v0.6h-0.6zM426.6 195.1h0.6v0.6h-0.6zM416.1 183.7h0.6v0.6h-0.6zM427.7 181.1h0.6v0.6h-0.6zM413.4 180h0.6v0.6h-0.6zM415.2 170.1h0.6v0.6h-0.6zM422 194.8h0.6v0.6h-0.6zM420 185.9h0.6v0.6h-0.6zM424.7 167.9h0.6v0.6h-0.6zM428.2 183h0.6v0.6h-0.6zM427.9 182.2h0.6v0.6h-0.6zM428.5 182.3h0.6v0.6h-0.6zM426.4 195.8h0.6v0.6h-0.6zM419.2 185.9h0.6v0.6h-0.6zM426 170.7h0.6v0.6h-0.6z" fill="#7488d4"/>
<path d="M431.1 175.9h0.6v0.6h-0.6zM418.4 190.7h0.6v0.6h-0.6zM412.4 174.1h0.6v0.6h-0.6zM428.7 167.2h0.6v0.6h-0.6zM412.1 174.3h0.6v0.6h-0.6zM430.8 170h0.6v0.6h-0.6zM413 171.6h0.6v0.6h-0.6zM412.7 174.7h0.6v0.6h-0.6zM413.3 170h0.6v0.6h-0.6zM411.8 178.1h0.6v0.6h-0.6zM429.2 173.8h0.6v0.6h-0.6zM429.7 175.8h0.6v0.6h-0.6zM432.5 185.5h0.6v0.6h-0.6zM412 170.6h0.6v0.6h-0.6zM412.5 175.1h0.6v0.6h-0.6zM431.1 179.6h0.6v0.6h-0.6zM410.4 180.2h0.6v0.6h-0.6zM424.4 165h0.6v0.6h-0.6zM409.5 175.4h0.6v0.6h-0.6zM426.5 166.8h0.6v0.6h-0.6zM414.3 183.5h0.6v0.6h-0.6zM431.1 176.7h0.6v0.6h-0.6zM428.9 188h0.6v0.6h-0.6zM412.5 179.8h0.6v0.6h-0.6zM429.8 184.9h0.6v0.6h-0.6zM429.6 182.9h0.6v0.6h-0.6zM413.6 184.6h0.6v0.6h-0.6zM415.7 185.6h0.6v0.6h-0.6zM416.4 160.9h0.6v0.6h-0.6zM413.6 170.8h0.6v0.6h-0.6zM428.8 184.6h0.6v0.6h-0.6zM414.6 187.2h0.6v0.6h-0.6zM430.3 181.7h0.6v0.6h-0.6zM417.1 160.6h0.6v0.6h-0.6zM411 172.2h0.6v0.6h-0.6zM412.2 171.9h0.6v0.6h-0.6zM432.7 179.9h0.6v0.6h-0.6zM430.4 175h0.6v0.6h-0.6zM428.8 185h0.6v0.6h-0.6zM413.1 181.8h0.6v0.6h-0.6zM428.7 173.4h0.6v0.6h-0.6zM430.8 188.3h0.6v0.6h-0.6zM417 185.8h0.6v0.6h-0.6zM416.7 185.7h0.6v0.6h-0.6zM428.9 170.2h0.6v0.6h-0.6zM411.8 185h0.6v0.6h-0.6zM418.7 187.9h0.6v0.6h-0.6zM409.6 166.1h0.6v0.6h-0.6zM409.3 174.1h0.6v0.6h-0.6zM427.9 171.1h0.6v0.6h-0.6zM431.1 173h0.6v0.6h-0.6zM411.4 181.2h0.6v0.6h-0.6zM410.2 158.2h0.6v0.6h-0.6zM426.1 198.2h0.6v0.6h-0.6zM425.3 199h0.6v0.6h-0.6zM427.5 195.1h0.6v0.6h-0.6zM419.4 191.3h0.6v0.6h-0.6zM430.2 188.8h0.6v0.6h-0.6zM422.5 198.2h0.6v0.6h-0.6zM419.8 190.5h0.6v0.6h-0.6zM423.2 197.9h0.6v0.6h-0.6zM419 194.4h0.6v0.6h-0.6zM428.8 190.8h0.6v0.6h-0.6zM425.7 198.7h0.6v0.6h-0.6zM428.5 185.3h0.6v0.6h-0.6zM428.3 199h0.6v0.6h-0.6zM424.1 198.2h0.6v0.6h-0.6zM419.4 194h0.6v0.6h-0.6zM428.8 191.1h0.6v0.6h-0.6zM427.9 194.4h0.6v0.6h-0.6zM429.5 184.4h0.6v0.6h-0.6zM422.1 197.1h0.6v0.6h-0.6zM427.4 195.2h0.6v0.6h-0.6zM419.6 190.4h0.6v0.6h-0.6zM429.6 196.4h0.6v0.6h-0.6zM424.5 198.3h0.6v0.6h-0.6zM420.2 193.6h0.6v0.6h-0.6zM429.4 190.5h0.6v0.6h-0.6zM427.3 197.7h0.6v0.6h-0.6zM428.4 192.3h0.6v0.6h-0.6zM429 188.2h0.6v0.6h-0.6zM423.1 199.1h0.6v0.6h-0.6zM416.6 162h0.6v0.6h-0.6zM414.2 164.5h0.6v0.6h-0.6zM424 164.8h0.6v0.6h-0.6zM427 166h0.6v0.6h-0.6zM420.1 161.2h0.6v0.6h-0.6zM418.5 161.3h0.6v0.6h-0.6zM412.3 167.2h0.6v0.6h-0.6zM413.6 166.7h0.6v0.6h-0.6zM423.3 161.7h0.6v0.6h-0.6zM413 165.4h0.6v0.6h-0.6zM424.5 163.9h0.6v0.6h-0.6zM415.7 164.4h0.6v0.6h-0.6zM427.2 169.7h0.6v0.6h-0.6zM409.3 167.7h0.6v0.6h-0.6zM427.2 163.7h0.6v0.6h-0.6zM416.8 160.4h0.6v0.6h-0.6zM428.6 169.8h0.6v0.6h-0.6zM412.3 169.2h0.6v0.6h-0.6zM418 161.9h0.6v0.6h-0.6zM413.9 159h0.6v0.6h-0.6zM416.3 161.2h0.6v0.6h-0.6zM426.2 167.8h0.6v0.6h-0.6zM416.8 160.5h0.6v0.6h-0.6zM427.2 167.1h0.6v0.6h-0.6zM411.9 196.1h0.6v0.6h-0.6zM415.8 187.8h0.6v0.6h-0.6zM413.3 189.1h0.6v0.6h-0.6zM412.9 192.2h0.6v0.6h-0.6zM423.7 156.6h0.6v0.6h-0.6zM418.1 193.5h0.6v0.6h-0.6zM410.9 181.9h0.6v0.6h-0.6zM412.5 162.7h0.6v0.6h-0.6zM414.5 162.8h0.6v0.6h-0.6zM413.6 188h0.6v0.6h-0.6zM434.4 172.6h0.6v0.6h-0.6zM416.6 194.1h0.6v0.6h-0.6zM415.6 190.9h0.6v0.6h-0.6zM410.9 185.2h0.6v0.6h-0.6zM429 192.1h0.6v0.6h-0.6zM410.5 157.9h0.6v0.6h-0.6zM414.2 198.2h0.6v0.6h-0.6zM430.3 195.7h0.6v0.6h-0.6zM416.4 191.1h0.6v0.6h-0.6zM418 192.2h0.6v0.6h-0.6zM414.8 187.2h0.6v0.6h-0.6zM414.9 187.1h0.6v0.6h-0.6zM416.4 198.2h0.6v0.6h-0.6zM411.6 184h0.6v0.6h-0.6zM410.8 178.5h0.6v0.6h-0.6zM418.5 195.8h0.6v0.6h-0.6zM416.5 197.4h0.6v0.6h-0.6zM414 167.7h0.6v0.6h-0.6zM412.5 163.2h0.6v0.6h-0.6zM431.2 183.9h0.6v0.6h-0.6zM412.7 189.2h0.6v0.6h-0.6zM420.2 157.8h0.6v0.6h-0.6zM413.7 190h0.6v0.6h-0.6zM424 163h0.6v0.6h-0.6zM431 182.1h0.6v0.6h-0.6zM409.4 162.4h0.6v0.6h-0.6zM414.6 164.6h0.6v0.6h-0.6zM408 188.4h0.6v0.6h-0.6zM420.7 197h0.6v0.6h-0.6zM423 163.7h0.6v0.6h-0.6zM417.9 186.8h0.6v0.6h-0.6zM428.2 168.6h0.6v0.6h-0.6zM417 160.9h0.6v0.6h-0.6zM414 186.5h0.6v0.6h-0.6zM435.2 172h0.6v0.6h-0.6zM409.8 178.5h0.6v0.6h-0.6zM432.8 183.4h0.6v0.6h-0.6z" fill="#a4aee2"/>
<rect x="405.8" y="154.5" width="45.7" height="46" fill="none" stroke="#666" stroke-width="0.75"/>
<rect x="407.8" y="199.5" width="37.7" height="0.8" fill="#5a7ac0" opacity="0.8"/>
<rect x="424" y="199.5" width="3" height="0.8" fill="#c06040" opacity="0.7"/>
<rect x="415" y="199.5" width="5" height="0.8" fill="#50a070" opacity="0.7"/>
<path d="M418.6 228h0.6v0.6h-0.6zM422.1 230.4h0.6v0.6h-0.6zM422.6 229.1h0.6v0.6h-0.6zM422.1 230.7h0.6v0.6h-0.6zM419.4 228.2h0.6v0.6h-0.6zM422.5 223.1h0.6v0.6h-0.6zM419.1 228.8h0.6v0.6h-0.6zM424.9 235.1h0.6v0.6h-0.6zM418.9 229.8h0.6v0.6h-0.6zM422.6 228.7h0.6v0.6h-0.6zM420.6 225.9h0.6v0.6h-0.6zM418.2 223.1h0.6v0.6h-0.6zM419.7 230.8h0.6v0.6h-0.6zM420.3 224.9h0.6v0.6h-0.6zM421.2 227.1h0.6v0.6h-0.6zM423 232.6h0.6v0.6h-0.6zM421.9 228h0.6v0.6h-0.6zM418.3 226.1h0.6v0.6h-0.6zM419.6 226.6h0.6v0.6h-0.6zM424.5 238h0.6v0.6h-0.6zM420 232h0.6v0.6h-0.6zM420.5 221.6h0.6v0.6h-0.6zM417.6 223.3h0.6v0.6h-0.6zM423.3 235.7h0.6v0.6h-0.6zM422.8 228.3h0.6v0.6h-0.6zM419 231.2h0.6v0.6h-0.6zM422.4 226h0.6v0.6h-0.6zM418.3 223.3h0.6v0.6h-0.6zM417.4 224.1h0.6v0.6h-0.6zM421.9 222.1h0.6v0.6h-0.6zM425 230.4h0.6v0.6h-0.6zM418.2 228.6h0.6v0.6h-0.6zM418.2 222.6h0.6v0.6h-0.6zM419.3 230.8h0.6v0.6h-0.6zM418.2 223.2h0.6v0.6h-0.6zM418.2 230.2h0.6v0.6h-0.6zM422.4 223.4h0.6v0.6h-0.6zM419.4 221.4h0.6v0.6h-0.6zM418.4 229.3h0.6v0.6h-0.6zM421.3 230.5h0.6v0.6h-0.6zM422.3 224h0.6v0.6h-0.6zM419 227.2h0.6v0.6h-0.6zM423.6 230.8h0.6v0.6h-0.6zM424.1 231.3h0.6v0.6h-0.6zM421.7 225.7h0.6v0.6h-0.6zM418.3 224.7h0.6v0.6h-0.6zM419.3 228.5h0.6v0.6h-0.6zM419.5 220.9h0.6v0.6h-0.6zM418.8 221.8h0.6v0.6h-0.6zM422.5 227.2h0.6v0.6h-0.6zM420.8 229.7h0.6v0.6h-0.6zM421.2 222h0.6v0.6h-0.6zM423.2 226.2h0.6v0.6h-0.6zM417.5 228.6h0.6v0.6h-0.6zM424.5 228.5h0.6v0.6h-0.6zM421.8 222.4h0.6v0.6h-0.6zM419.5 230.5h0.6v0.6h-0.6zM419.5 230.2h0.6v0.6h-0.6zM421.4 228.9h0.6v0.6h-0.6zM421 232.5h0.6v0.6h-0.6zM422.7 225.6h0.6v0.6h-0.6zM421 229.7h0.6v0.6h-0.6zM420.5 229.1h0.6v0.6h-0.6zM421.8 228.6h0.6v0.6h-0.6zM421.3 226.1h0.6v0.6h-0.6zM420.6 227h0.6v0.6h-0.6zM422.8 236.3h0.6v0.6h-0.6zM420.6 225.1h0.6v0.6h-0.6zM424.2 230.5h0.6v0.6h-0.6zM418.7 222.7h0.6v0.6h-0.6zM420 232.3h0.6v0.6h-0.6zM423.2 229.7h0.6v0.6h-0.6zM421.1 223.1h0.6v0.6h-0.6zM421.8 232.5h0.6v0.6h-0.6zM422.6 227.1h0.6v0.6h-0.6zM418.2 227.6h0.6v0.6h-0.6zM422.8 224.3h0.6v0.6h-0.6zM419.3 221.5h0.6v0.6h-0.6zM421.2 223.3h0.6v0.6h-0.6zM417.8 223h0.6v0.6h-0.6zM422.4 227.4h0.6v0.6h-0.6zM423.1 227.7h0.6v0.6h-0.6zM420.7 223.1h0.6v0.6h-0.6zM420 225.8h0.6v0.6h-0.6zM425 229h0.6v0.6h-0.6zM422.8 227.5h0.6v0.6h-0.6zM420.7 225.7h0.6v0.6h-0.6zM421.6 233.4h0.6v0.6h-0.6zM423.1 226.6h0.6v0.6h-0.6zM420.9 222.3h0.6v0.6h-0.6zM420.3 225.5h0.6v0.6h-0.6zM424.4 225h0.6v0.6h-0.6zM423.2 221.9h0.6v0.6h-0.6zM420.2 223.7h0.6v0.6h-0.6zM420.8 229.3h0.6v0.6h-0.6zM421.7 225.6h0.6v0.6h-0.6zM419.4 223.2h0.6v0.6h-0.6zM423.5 227h0.6v0.6h-0.6zM419.2 228.2h0.6v0.6h-0.6zM423 222.4h0.6v0.6h-0.6zM419.5 222h0.6v0.6h-0.6zM420.4 222.1h0.6v0.6h-0.6zM420.9 222.3h0.6v0.6h-0.6zM424.1 232.1h0.6v0.6h-0.6zM424.5 224.7h0.6v0.6h-0.6zM420.3 230.4h0.6v0.6h-0.6zM423.8 233.8h0.6v0.6h-0.6zM417.9 227.2h0.6v0.6h-0.6zM421.9 224.4h0.6v0.6h-0.6zM423.8 232h0.6v0.6h-0.6zM418.9 224.6h0.6v0.6h-0.6zM423.3 228.9h0.6v0.6h-0.6zM419.3 225.8h0.6v0.6h-0.6zM419.7 224.6h0.6v0.6h-0.6zM423.4 230h0.6v0.6h-0.6zM423.2 221.9h0.6v0.6h-0.6zM425.3 229.6h0.6v0.6h-0.6zM419.9 226.7h0.6v0.6h-0.6zM423.5 225.5h0.6v0.6h-0.6zM420.6 228.8h0.6v0.6h-0.6zM420.8 229.4h0.6v0.6h-0.6zM422.8 223.8h0.6v0.6h-0.6zM419.2 226.2h0.6v0.6h-0.6zM422.2 230.2h0.6v0.6h-0.6zM422.8 232.8h0.6v0.6h-0.6zM423.4 234.1h0.6v0.6h-0.6zM421.5 230.8h0.6v0.6h-0.6zM422.6 234.5h0.6v0.6h-0.6zM420.6 227.5h0.6v0.6h-0.6zM422.8 225.6h0.6v0.6h-0.6zM424.6 229.7h0.6v0.6h-0.6zM420.4 221.8h0.6v0.6h-0.6zM421.1 227.8h0.6v0.6h-0.6zM420.6 229.1h0.6v0.6h-0.6zM420.5 231.4h0.6v0.6h-0.6zM420.1 229.5h0.6v0.6h-0.6zM421.9 227.9h0.6v0.6h-0.6zM419.4 231.3h0.6v0.6h-0.6zM420.7 225.7h0.6v0.6h-0.6zM419.1 225.5h0.6v0.6h-0.6zM417.5 223h0.6v0.6h-0.6zM420.1 223.6h0.6v0.6h-0.6zM420.4 228.3h0.6v0.6h-0.6zM419.5 231.3h0.6v0.6h-0.6zM420.5 220.4h0.6v0.6h-0.6zM425.7 231.2h0.6v0.6h-0.6zM416.8 222.4h0.6v0.6h-0.6zM421.9 232.1h0.6v0.6h-0.6zM421.8 227.6h0.6v0.6h-0.6zM418.7 229.2h0.6v0.6h-0.6zM422 230.9h0.6v0.6h-0.6zM422 224.3h0.6v0.6h-0.6zM421.5 225.7h0.6v0.6h-0.6zM417.9 228.8h0.6v0.6h-0.6zM419.5 228.2h0.6v0.6h-0.6zM420.6 226.8h0.6v0.6h-0.6zM421.7 228.2h0.6v0.6h-0.6zM419.8 223.2h0.6v0.6h-0.6zM422.2 229.5h0.6v0.6h-0.6zM424.3 236.2h0.6v0.6h-0.6zM423.1 224.2h0.6v0.6h-0.6zM422.6 224.3h0.6v0.6h-0.6zM421.4 224.5h0.6v0.6h-0.6zM420.8 224.2h0.6v0.6h-0.6zM421.2 228.8h0.6v0.6h-0.6zM424.4 227.7h0.6v0.6h-0.6zM423.1 224.7h0.6v0.6h-0.6zM421.4 225.5h0.6v0.6h-0.6zM423.7 226.5h0.6v0.6h-0.6zM423.5 229.8h0.6v0.6h-0.6zM421.7 226.5h0.6v0.6h-0.6zM422.2 224.1h0.6v0.6h-0.6zM420.4 229h0.6v0.6h-0.6zM420.9 229h0.6v0.6h-0.6zM424.4 232.1h0.6v0.6h-0.6zM423.5 224.7h0.6v0.6h-0.6zM420.9 224.2h0.6v0.6h-0.6zM422.4 225.7h0.6v0.6h-0.6zM424.9 232.7h0.6v0.6h-0.6zM421.9 233.7h0.6v0.6h-0.6zM419.8 223.6h0.6v0.6h-0.6zM420.6 220.7h0.6v0.6h-0.6zM418.8 223.1h0.6v0.6h-0.6zM424.5 227.1h0.6v0.6h-0.6zM417.5 224.4h0.6v0.6h-0.6zM420.3 225.7h0.6v0.6h-0.6zM422.9 222.7h0.6v0.6h-0.6zM421 226.9h0.6v0.6h-0.6zM424.5 226.2h0.6v0.6h-0.6zM419.7 223.2h0.6v0.6h-0.6zM419.7 225.3h0.6v0.6h-0.6zM423.7 229.8h0.6v0.6h-0.6zM419.1 222.1h0.6v0.6h-0.6zM417.1 223.3h0.6v0.6h-0.6zM419.2 224.3h0.6v0.6h-0.6zM420 223.4h0.6v0.6h-0.6zM419 227.3h0.6v0.6h-0.6zM424.8 231.7h0.6v0.6h-0.6zM422.7 231.4h0.6v0.6h-0.6zM418.7 226.9h0.6v0.6h-0.6zM419.7 224h0.6v0.6h-0.6zM419.8 229h0.6v0.6h-0.6zM421.6 224.5h0.6v0.6h-0.6zM422.9 225.5h0.6v0.6h-0.6zM423.8 225.7h0.6v0.6h-0.6zM418 226.9h0.6v0.6h-0.6zM423.7 226.9h0.6v0.6h-0.6zM421.7 231.1h0.6v0.6h-0.6zM421.5 223.6h0.6v0.6h-0.6zM424.7 225.9h0.6v0.6h-0.6zM419.8 222.4h0.6v0.6h-0.6zM420.6 227.6h0.6v0.6h-0.6zM422.5 225.7h0.6v0.6h-0.6zM418.9 229.5h0.6v0.6h-0.6zM420.4 228.7h0.6v0.6h-0.6zM420.4 227.4h0.6v0.6h-0.6zM423.9 232.9h0.6v0.6h-0.6zM420.6 227.3h0.6v0.6h-0.6zM423.7 228.1h0.6v0.6h-0.6zM423.8 232.6h0.6v0.6h-0.6zM418.4 224.9h0.6v0.6h-0.6zM423.3 222.9h0.6v0.6h-0.6zM420 222.2h0.6v0.6h-0.6zM420 226.6h0.6v0.6h-0.6zM417.4 223.5h0.6v0.6h-0.6zM420.9 224.6h0.6v0.6h-0.6zM422.9 232.3h0.6v0.6h-0.6zM420.5 229.6h0.6v0.6h-0.6zM422.3 221.9h0.6v0.6h-0.6zM422.1 232.9h0.6v0.6h-0.6zM425.3 230.8h0.6v0.6h-0.6zM421.9 222h0.6v0.6h-0.6zM422.6 229.5h0.6v0.6h-0.6zM417.5 227.6h0.6v0.6h-0.6zM421.4 233.5h0.6v0.6h-0.6zM423.9 228.2h0.6v0.6h-0.6zM420.3 222.6h0.6v0.6h-0.6zM423 229.4h0.6v0.6h-0.6zM419.6 227.5h0.6v0.6h-0.6zM420.1 220.6h0.6v0.6h-0.6zM419.3 225.4h0.6v0.6h-0.6zM420.8 223.4h0.6v0.6h-0.6zM421 232.3h0.6v0.6h-0.6zM418.1 221h0.6v0.6h-0.6zM419.2 222.6h0.6v0.6h-0.6zM423.4 229.3h0.6v0.6h-0.6zM418.6 226h0.6v0.6h-0.6zM417.9 226.3h0.6v0.6h-0.6zM419.6 225.7h0.6v0.6h-0.6zM421.7 224.5h0.6v0.6h-0.6zM419.1 221.9h0.6v0.6h-0.6zM420.3 223.3h0.6v0.6h-0.6zM418.1 224.2h0.6v0.6h-0.6zM419.8 226.4h0.6v0.6h-0.6zM422.1 233.5h0.6v0.6h-0.6zM420.8 226.7h0.6v0.6h-0.6zM420.3 226.3h0.6v0.6h-0.6zM423 233.2h0.6v0.6h-0.6zM418.3 222.1h0.6v0.6h-0.6zM417.9 227.5h0.6v0.6h-0.6zM425.3 231.4h0.6v0.6h-0.6zM420.2 225.8h0.6v0.6h-0.6zM422.5 225.9h0.6v0.6h-0.6zM421.3 229.6h0.6v0.6h-0.6zM419.8 223.7h0.6v0.6h-0.6zM422 232.1h0.6v0.6h-0.6zM418.2 222.4h0.6v0.6h-0.6zM420.2 229.7h0.6v0.6h-0.6zM423.9 232h0.6v0.6h-0.6zM423.4 225.8h0.6v0.6h-0.6zM424.7 226.3h0.6v0.6h-0.6zM423.8 227.3h0.6v0.6h-0.6zM418 226.6h0.6v0.6h-0.6zM422.1 222.6h0.6v0.6h-0.6zM423.3 228.6h0.6v0.6h-0.6zM425.2 229h0.6v0.6h-0.6zM418.8 226.6h0.6v0.6h-0.6zM419.2 224.7h0.6v0.6h-0.6zM418.5 230.7h0.6v0.6h-0.6zM420 227.3h0.6v0.6h-0.6zM419.3 229.1h0.6v0.6h-0.6zM418 230h0.6v0.6h-0.6zM419 224.2h0.6v0.6h-0.6zM423.3 224.5h0.6v0.6h-0.6zM419.4 222.8h0.6v0.6h-0.6zM418.4 223.1h0.6v0.6h-0.6zM420.1 225.8h0.6v0.6h-0.6zM423.1 231.3h0.6v0.6h-0.6zM420.9 225.9h0.6v0.6h-0.6zM419.3 226.7h0.6v0.6h-0.6zM422.8 223.2h0.6v0.6h-0.6zM425.8 230h0.6v0.6h-0.6zM423.3 229.7h0.6v0.6h-0.6zM424.9 234.9h0.6v0.6h-0.6zM422.8 225.6h0.6v0.6h-0.6zM421.5 232h0.6v0.6h-0.6zM422.7 227.1h0.6v0.6h-0.6zM419 227.6h0.6v0.6h-0.6zM424.4 234.2h0.6v0.6h-0.6zM422.7 234.6h0.6v0.6h-0.6zM419.1 227.3h0.6v0.6h-0.6zM423.3 231.2h0.6v0.6h-0.6zM423.1 228.1h0.6v0.6h-0.6zM420.5 220.1h0.6v0.6h-0.6zM422 231.6h0.6v0.6h-0.6zM418 224.8h0.6v0.6h-0.6zM423.7 225.7h0.6v0.6h-0.6zM423.1 228.7h0.6v0.6h-0.6zM418.1 225.4h0.6v0.6h-0.6zM417.4 223.6h0.6v0.6h-0.6zM419.6 230.7h0.6v0.6h-0.6zM419.4 227.4h0.6v0.6h-0.6zM419 223h0.6v0.6h-0.6zM418 225.1h0.6v0.6h-0.6zM418.1 230.4h0.6v0.6h-0.6zM420.5 225h0.6v0.6h-0.6zM420.1 222.5h0.6v0.6h-0.6zM422 226h0.6v0.6h-0.6zM423.3 234.5h0.6v0.6h-0.6zM424.7 227h0.6v0.6h-0.6zM423.3 227.3h0.6v0.6h-0.6zM419.1 229.3h0.6v0.6h-0.6zM419.5 227.4h0.6v0.6h-0.6zM419.5 228.3h0.6v0.6h-0.6zM423.6 235.4h0.6v0.6h-0.6zM421 222.8h0.6v0.6h-0.6zM418.7 226.4h0.6v0.6h-0.6zM419.7 227h0.6v0.6h-0.6zM418.1 228.9h0.6v0.6h-0.6zM419.8 224.7h0.6v0.6h-0.6zM418.9 227h0.6v0.6h-0.6zM425.4 230.1h0.6v0.6h-0.6zM422.1 228.7h0.6v0.6h-0.6zM424.7 234.9h0.6v0.6h-0.6zM420.8 231h0.6v0.6h-0.6zM423.9 224.8h0.6v0.6h-0.6zM422 228.8h0.6v0.6h-0.6zM420.3 227.2h0.6v0.6h-0.6zM421.7 221.6h0.6v0.6h-0.6zM423.5 222.5h0.6v0.6h-0.6zM423 228.7h0.6v0.6h-0.6zM417.5 223.8h0.6v0.6h-0.6zM423.8 225.6h0.6v0.6h-0.6zM419.7 231.4h0.6v0.6h-0.6zM420.4 221.6h0.6v0.6h-0.6zM419 227.8h0.6v0.6h-0.6zM421.6 231.8h0.6v0.6h-0.6zM417.2 223.5h0.6v0.6h-0.6zM423.1 233.5h0.6v0.6h-0.6zM420.7 223.6h0.6v0.6h-0.6zM424.4 226h0.6v0.6h-0.6zM421.8 228.1h0.6v0.6h-0.6zM423.3 233.7h0.6v0.6h-0.6zM420.3 227.6h0.6v0.6h-0.6zM423.1 227.5h0.6v0.6h-0.6zM418.3 223.8h0.6v0.6h-0.6zM424.7 229.6h0.6v0.6h-0.6zM418.6 220.5h0.6v0.6h-0.6zM417.8 223.5h0.6v0.6h-0.6zM420.4 219.9h0.6v0.6h-0.6zM417.3 222.9h0.6v0.6h-0.6zM420.1 231.9h0.6v0.6h-0.6zM422.9 225.5h0.6v0.6h-0.6zM419.5 231.2h0.6v0.6h-0.6zM420.1 229.8h0.6v0.6h-0.6zM422.8 226.3h0.6v0.6h-0.6zM424.9 231.2h0.6v0.6h-0.6zM423.6 229.9h0.6v0.6h-0.6zM422.7 227.8h0.6v0.6h-0.6zM422.2 226.6h0.6v0.6h-0.6zM419.5 221.7h0.6v0.6h-0.6zM421.7 230.8h0.6v0.6h-0.6zM418.5 228h0.6v0.6h-0.6zM421.6 230h0.6v0.6h-0.6zM417.8 229.9h0.6v0.6h-0.6zM423 226.3h0.6v0.6h-0.6zM419.8 224.7h0.6v0.6h-0.6zM422.1 223.5h0.6v0.6h-0.6zM420 230.9h0.6v0.6h-0.6zM418.9 228.9h0.6v0.6h-0.6zM422 231.9h0.6v0.6h-0.6zM418.7 228.1h0.6v0.6h-0.6zM420.2 226.6h0.6v0.6h-0.6zM424.1 226.6h0.6v0.6h-0.6zM419.8 221.3h0.6v0.6h-0.6zM417.3 221.9h0.6v0.6h-0.6zM424.8 224.5h0.6v0.6h-0.6zM420.7 224.5h0.6v0.6h-0.6zM419.4 231.8h0.6v0.6h-0.6zM422 228h0.6v0.6h-0.6zM420.5 230.7h0.6v0.6h-0.6zM421.5 224.9h0.6v0.6h-0.6zM423.6 226.6h0.6v0.6h-0.6zM418.7 229h0.6v0.6h-0.6zM422.8 225.4h0.6v0.6h-0.6zM419.7 225.6h0.6v0.6h-0.6zM416.8 222.8h0.6v0.6h-0.6zM420.1 227.5h0.6v0.6h-0.6zM420.9 227.1h0.6v0.6h-0.6zM424.4 230.7h0.6v0.6h-0.6zM419.9 223.4h0.6v0.6h-0.6zM421.9 224.3h0.6v0.6h-0.6zM420.4 224h0.6v0.6h-0.6zM418.4 222.4h0.6v0.6h-0.6zM423.8 225.8h0.6v0.6h-0.6zM420.5 222.5h0.6v0.6h-0.6zM421.9 227.3h0.6v0.6h-0.6zM419 221h0.6v0.6h-0.6zM424 228.9h0.6v0.6h-0.6zM420.1 222.9h0.6v0.6h-0.6zM421.3 226.5h0.6v0.6h-0.6zM422.3 228.9h0.6v0.6h-0.6zM419 228.9h0.6v0.6h-0.6zM418.7 223.8h0.6v0.6h-0.6zM419.6 228h0.6v0.6h-0.6zM423.3 225.4h0.6v0.6h-0.6zM420.9 228.2h0.6v0.6h-0.6zM423.8 226.8h0.6v0.6h-0.6zM418.2 230h0.6v0.6h-0.6zM419.6 230.9h0.6v0.6h-0.6zM420.2 223.2h0.6v0.6h-0.6zM421.1 226.8h0.6v0.6h-0.6zM423.2 222.7h0.6v0.6h-0.6zM421.4 229.7h0.6v0.6h-0.6zM419.5 228.7h0.6v0.6h-0.6zM423 228.4h0.6v0.6h-0.6zM421.4 228.4h0.6v0.6h-0.6zM423.2 235.2h0.6v0.6h-0.6zM424 225.8h0.6v0.6h-0.6zM420.4 229h0.6v0.6h-0.6zM419.7 230.6h0.6v0.6h-0.6zM420.3 221.1h0.6v0.6h-0.6zM421.7 224.3h0.6v0.6h-0.6zM424 223.8h0.6v0.6h-0.6zM419.6 228h0.6v0.6h-0.6zM417.9 222.9h0.6v0.6h-0.6zM421.1 225.9h0.6v0.6h-0.6zM419.2 220.5h0.6v0.6h-0.6zM423.7 225h0.6v0.6h-0.6zM423.5 225.3h0.6v0.6h-0.6zM422.9 226.5h0.6v0.6h-0.6zM420 221.3h0.6v0.6h-0.6zM424.3 231.6h0.6v0.6h-0.6zM421.5 223.6h0.6v0.6h-0.6zM424 229.9h0.6v0.6h-0.6zM424.3 231.4h0.6v0.6h-0.6zM424.4 224.5h0.6v0.6h-0.6zM423.2 226.5h0.6v0.6h-0.6zM418 222.6h0.6v0.6h-0.6zM420 227h0.6v0.6h-0.6zM422.3 227.4h0.6v0.6h-0.6zM421 226.9h0.6v0.6h-0.6zM424.2 231.3h0.6v0.6h-0.6zM418.3 223.7h0.6v0.6h-0.6zM421.1 227.5h0.6v0.6h-0.6zM418.8 224.1h0.6v0.6h-0.6zM420.4 222.4h0.6v0.6h-0.6zM421.8 229.8h0.6v0.6h-0.6zM418.1 224.5h0.6v0.6h-0.6zM421.1 221.2h0.6v0.6h-0.6zM420.1 231.5h0.6v0.6h-0.6zM420.9 223.2h0.6v0.6h-0.6zM419.8 229.4h0.6v0.6h-0.6zM419 231.1h0.6v0.6h-0.6zM417.3 229.4h0.6v0.6h-0.6zM420.7 228.4h0.6v0.6h-0.6zM417.5 223.4h0.6v0.6h-0.6zM420.8 222.1h0.6v0.6h-0.6zM420.4 227.6h0.6v0.6h-0.6zM423.1 229.6h0.6v0.6h-0.6zM422.7 225.7h0.6v0.6h-0.6zM423.7 223.6h0.6v0.6h-0.6zM418.6 224h0.6v0.6h-0.6zM418.2 221.9h0.6v0.6h-0.6zM418.5 223.2h0.6v0.6h-0.6zM423.3 227.4h0.6v0.6h-0.6zM422.4 229.6h0.6v0.6h-0.6zM421.1 220.9h0.6v0.6h-0.6zM425 232.7h0.6v0.6h-0.6zM422.9 223h0.6v0.6h-0.6zM421.7 226.9h0.6v0.6h-0.6zM421.1 224.9h0.6v0.6h-0.6zM419.1 227.9h0.6v0.6h-0.6zM423.6 224.9h0.6v0.6h-0.6zM420.9 229.5h0.6v0.6h-0.6zM417 223.1h0.6v0.6h-0.6zM421.8 223.1h0.6v0.6h-0.6zM422.6 226.1h0.6v0.6h-0.6zM418.5 229.7h0.6v0.6h-0.6zM417.5 222.3h0.6v0.6h-0.6zM423.9 229.8h0.6v0.6h-0.6zM425.4 230h0.6v0.6h-0.6zM422 224.9h0.6v0.6h-0.6zM423.5 224h0.6v0.6h-0.6zM419.3 229.7h0.6v0.6h-0.6zM420.4 224.6h0.6v0.6h-0.6zM419.1 225.5h0.6v0.6h-0.6zM419.3 224.7h0.6v0.6h-0.6zM424.2 224.3h0.6v0.6h-0.6zM418.9 225.4h0.6v0.6h-0.6zM420.6 220.1h0.6v0.6h-0.6zM419.7 224h0.6v0.6h-0.6zM420.6 229.3h0.6v0.6h-0.6zM423.9 234.1h0.6v0.6h-0.6zM421.8 230.1h0.6v0.6h-0.6zM420.7 220.8h0.6v0.6h-0.6zM422.4 232.5h0.6v0.6h-0.6zM421.1 226.7h0.6v0.6h-0.6zM420.6 225.4h0.6v0.6h-0.6zM425 234.4h0.6v0.6h-0.6zM418.8 221.9h0.6v0.6h-0.6zM424 230.8h0.6v0.6h-0.6zM422.8 228.2h0.6v0.6h-0.6zM421.2 222.3h0.6v0.6h-0.6zM422.4 234.9h0.6v0.6h-0.6zM421 227.9h0.6v0.6h-0.6zM418.9 231.6h0.6v0.6h-0.6zM421 226.2h0.6v0.6h-0.6zM420.1 224.6h0.6v0.6h-0.6zM419.1 221.6h0.6v0.6h-0.6zM419 222.3h0.6v0.6h-0.6zM420.9 225.7h0.6v0.6h-0.6zM420.5 224.4h0.6v0.6h-0.6zM424.3 225.2h0.6v0.6h-0.6zM421.1 230.3h0.6v0.6h-0.6zM420.1 229.4h0.6v0.6h-0.6zM418.5 226.6h0.6v0.6h-0.6zM420.8 228.8h0.6v0.6h-0.6zM419.8 228.2h0.6v0.6h-0.6zM424.5 236.8h0.6v0.6h-0.6zM420.1 224.6h0.6v0.6h-0.6zM418.7 223.3h0.6v0.6h-0.6zM423.6 235.4h0.6v0.6h-0.6zM417.4 226.9h0.6v0.6h-0.6zM420 222.6h0.6v0.6h-0.6zM419.8 226.8h0.6v0.6h-0.6zM421.6 225.7h0.6v0.6h-0.6zM419.7 229.5h0.6v0.6h-0.6zM424.5 228.1h0.6v0.6h-0.6zM418.9 222.8h0.6v0.6h-0.6zM422.6 225.6h0.6v0.6h-0.6zM422.8 238h0.6v0.6h-0.6zM417.6 223.5h0.6v0.6h-0.6zM417.6 223h0.6v0.6h-0.6zM419.3 226.6h0.6v0.6h-0.6zM419.2 225.9h0.6v0.6h-0.6zM422 226.5h0.6v0.6h-0.6zM421.3 225.2h0.6v0.6h-0.6zM423.2 228.3h0.6v0.6h-0.6zM419.1 224.3h0.6v0.6h-0.6zM419.8 223.5h0.6v0.6h-0.6zM423.1 237.7h0.6v0.6h-0.6zM424.6 238.4h0.6v0.6h-0.6zM423.2 238.6h0.6v0.6h-0.6zM423.1 233.8h0.6v0.6h-0.6zM424.5 234.5h0.6v0.6h-0.6zM419.2 230.5h0.6v0.6h-0.6zM425.3 230h0.6v0.6h-0.6zM424.3 233.4h0.6v0.6h-0.6zM424.7 232.3h0.6v0.6h-0.6zM422.3 232.1h0.6v0.6h-0.6zM424.2 232.1h0.6v0.6h-0.6zM423.3 238.8h0.6v0.6h-0.6zM424.6 235.6h0.6v0.6h-0.6zM422 235.2h0.6v0.6h-0.6zM424.7 234.3h0.6v0.6h-0.6zM421.7 233h0.6v0.6h-0.6zM422.9 234.9h0.6v0.6h-0.6zM422.7 230.8h0.6v0.6h-0.6zM423.4 228.1h0.6v0.6h-0.6zM424.5 237.1h0.6v0.6h-0.6zM424.6 229.5h0.6v0.6h-0.6zM421.9 234.5h0.6v0.6h-0.6zM422.3 232.8h0.6v0.6h-0.6zM423.1 239.2h0.6v0.6h-0.6zM424.6 231.9h0.6v0.6h-0.6zM423.9 234.3h0.6v0.6h-0.6zM424.3 237h0.6v0.6h-0.6zM421.7 233.3h0.6v0.6h-0.6zM423 227.1h0.6v0.6h-0.6zM423.9 235.5h0.6v0.6h-0.6zM422.9 238.2h0.6v0.6h-0.6zM425.1 230.1h0.6v0.6h-0.6zM423.4 236.4h0.6v0.6h-0.6zM420.8 232.3h0.6v0.6h-0.6zM423.6 234.7h0.6v0.6h-0.6zM423.4 237.2h0.6v0.6h-0.6zM423.8 238.5h0.6v0.6h-0.6zM422.9 236.3h0.6v0.6h-0.6zM425.8 230.1h0.6v0.6h-0.6zM423.6 234.7h0.6v0.6h-0.6zM423.3 238h0.6v0.6h-0.6zM424.6 239.6h0.6v0.6h-0.6zM425.2 237.9h0.6v0.6h-0.6zM424.7 232.7h0.6v0.6h-0.6zM422.6 235.6h0.6v0.6h-0.6zM421.8 230.3h0.6v0.6h-0.6zM421.9 230.9h0.6v0.6h-0.6zM423.8 238h0.6v0.6h-0.6zM421.7 234.4h0.6v0.6h-0.6zM423.9 235.9h0.6v0.6h-0.6zM421.9 233.2h0.6v0.6h-0.6zM422.2 232.9h0.6v0.6h-0.6zM424 228.6h0.6v0.6h-0.6zM423.8 239.3h0.6v0.6h-0.6zM422.8 233.2h0.6v0.6h-0.6zM424.4 236.8h0.6v0.6h-0.6zM423 235.9h0.6v0.6h-0.6zM421.9 235.8h0.6v0.6h-0.6zM423 230.7h0.6v0.6h-0.6zM423.8 238h0.6v0.6h-0.6zM418.1 229.6h0.6v0.6h-0.6zM423.6 227.4h0.6v0.6h-0.6zM425.5 230.8h0.6v0.6h-0.6zM418.3 230h0.6v0.6h-0.6zM424.1 229.6h0.6v0.6h-0.6zM424.2 234h0.6v0.6h-0.6zM422.5 230.3h0.6v0.6h-0.6zM424.8 232.9h0.6v0.6h-0.6zM420.9 233.2h0.6v0.6h-0.6zM422.8 235.4h0.6v0.6h-0.6zM423.4 234.7h0.6v0.6h-0.6zM422.1 227.3h0.6v0.6h-0.6zM423.2 237.1h0.6v0.6h-0.6zM422.8 235.1h0.6v0.6h-0.6zM424.5 237.7h0.6v0.6h-0.6zM424.3 238.3h0.6v0.6h-0.6zM422.4 233.5h0.6v0.6h-0.6zM422.9 238.3h0.6v0.6h-0.6zM423.9 234.9h0.6v0.6h-0.6zM423.9 239.5h0.6v0.6h-0.6zM420.6 232.1h0.6v0.6h-0.6zM422.8 238.2h0.6v0.6h-0.6zM423.6 238.5h0.6v0.6h-0.6zM424.1 231.4h0.6v0.6h-0.6zM424.9 232.1h0.6v0.6h-0.6zM423.7 230.2h0.6v0.6h-0.6zM424.4 233.9h0.6v0.6h-0.6zM423.2 235.1h0.6v0.6h-0.6zM425.1 238.6h0.6v0.6h-0.6zM425 235.1h0.6v0.6h-0.6zM424.5 232.5h0.6v0.6h-0.6zM423.5 237.2h0.6v0.6h-0.6zM423.3 230.2h0.6v0.6h-0.6zM422.4 233.8h0.6v0.6h-0.6zM424.4 236.2h0.6v0.6h-0.6zM423.8 236.2h0.6v0.6h-0.6zM424.5 237.7h0.6v0.6h-0.6zM421.2 227h0.6v0.6h-0.6zM423.1 231.9h0.6v0.6h-0.6zM422.6 234.6h0.6v0.6h-0.6zM419.5 230.4h0.6v0.6h-0.6zM424.3 236.3h0.6v0.6h-0.6zM422.1 232h0.6v0.6h-0.6zM423.4 237.5h0.6v0.6h-0.6zM424.6 239.6h0.6v0.6h-0.6zM424.9 234.7h0.6v0.6h-0.6zM424.5 236.1h0.6v0.6h-0.6zM423.5 233.3h0.6v0.6h-0.6zM422.8 236.7h0.6v0.6h-0.6zM421.3 232.4h0.6v0.6h-0.6zM420 230h0.6v0.6h-0.6zM424.2 230.2h0.6v0.6h-0.6zM421.5 227.4h0.6v0.6h-0.6zM423.3 234.1h0.6v0.6h-0.6zM420.5 227.3h0.6v0.6h-0.6zM419.9 231.2h0.6v0.6h-0.6zM424.4 232.6h0.6v0.6h-0.6zM423.1 238.2h0.6v0.6h-0.6zM423.4 231.2h0.6v0.6h-0.6zM422.1 235.8h0.6v0.6h-0.6zM424.5 238.4h0.6v0.6h-0.6zM424.7 235.1h0.6v0.6h-0.6zM423.3 238.8h0.6v0.6h-0.6zM422.2 231.5h0.6v0.6h-0.6zM424.3 232.2h0.6v0.6h-0.6zM423.1 233.6h0.6v0.6h-0.6zM423.6 237.5h0.6v0.6h-0.6zM422.7 235.9h0.6v0.6h-0.6zM422.3 234.2h0.6v0.6h-0.6zM421.8 234.5h0.6v0.6h-0.6zM423.6 239.4h0.6v0.6h-0.6zM424.1 239.6h0.6v0.6h-0.6zM421.3 232.5h0.6v0.6h-0.6zM424.3 234.5h0.6v0.6h-0.6zM424.5 237.6h0.6v0.6h-0.6zM425.1 232.9h0.6v0.6h-0.6zM421.4 234.3h0.6v0.6h-0.6zM423.5 234.3h0.6v0.6h-0.6zM421 232.2h0.6v0.6h-0.6zM422.4 232.6h0.6v0.6h-0.6zM424.4 237.1h0.6v0.6h-0.6zM423.5 231.6h0.6v0.6h-0.6zM423.6 236h0.6v0.6h-0.6zM425.2 232.1h0.6v0.6h-0.6zM424.5 238.1h0.6v0.6h-0.6zM423.5 239.7h0.6v0.6h-0.6zM423.8 236.3h0.6v0.6h-0.6zM423 239.4h0.6v0.6h-0.6zM423 224.6h0.6v0.6h-0.6zM423.2 239h0.6v0.6h-0.6zM421.3 231.6h0.6v0.6h-0.6zM422.3 234.4h0.6v0.6h-0.6zM422 227.7h0.6v0.6h-0.6zM420.1 220h0.6v0.6h-0.6zM418.6 220.7h0.6v0.6h-0.6zM419.4 220.6h0.6v0.6h-0.6zM417.6 221.8h0.6v0.6h-0.6zM417.4 221.4h0.6v0.6h-0.6zM421.6 223.2h0.6v0.6h-0.6zM418.4 221.7h0.6v0.6h-0.6zM417.4 221.8h0.6v0.6h-0.6zM422.5 226.7h0.6v0.6h-0.6zM425 238.6h0.6v0.6h-0.6zM423.2 225.9h0.6v0.6h-0.6zM424.6 232.7h0.6v0.6h-0.6zM419.5 230.1h0.6v0.6h-0.6zM422.1 233.9h0.6v0.6h-0.6zM422.9 231.1h0.6v0.6h-0.6zM422.9 239.1h0.6v0.6h-0.6zM419.4 229h0.6v0.6h-0.6zM424 232.8h0.6v0.6h-0.6zM422.1 221.5h0.6v0.6h-0.6zM420.4 222.4h0.6v0.6h-0.6zM420.8 230.8h0.6v0.6h-0.6zM421.6 228.5h0.6v0.6h-0.6zM418.8 225.5h0.6v0.6h-0.6zM422.4 235.7h0.6v0.6h-0.6zM424.2 224.4h0.6v0.6h-0.6zM419 227.8h0.6v0.6h-0.6zM421.9 231.6h0.6v0.6h-0.6zM424.9 228.8h0.6v0.6h-0.6zM423.3 233.2h0.6v0.6h-0.6zM421 224.3h0.6v0.6h-0.6zM423.8 226.9h0.6v0.6h-0.6zM418.5 229.6h0.6v0.6h-0.6zM419.9 220.9h0.6v0.6h-0.6zM419.7 223.7h0.6v0.6h-0.6zM420.2 226.5h0.6v0.6h-0.6zM421.5 224.2h0.6v0.6h-0.6zM419.9 226.7h0.6v0.6h-0.6zM422.9 238.2h0.6v0.6h-0.6zM421.1 228.2h0.6v0.6h-0.6z" fill="#3658c2"/>
<path d="M426.8 218.3h0.6v0.6h-0.6zM429 223.7h0.6v0.6h-0.6zM430.7 227.9h0.6v0.6h-0.6zM431 224.6h0.6v0.6h-0.6zM428 218.6h0.6v0.6h-0.6zM417.2 234.7h0.6v0.6h-0.6zM411.8 226h0.6v0.6h-0.6zM410.9 218.3h0.6v0.6h-0.6zM412 225.9h0.6v0.6h-0.6zM413.6 214.6h0.6v0.6h-0.6zM430.7 229.2h0.6v0.6h-0.6zM431.2 226.6h0.6v0.6h-0.6zM432.7 227.4h0.6v0.6h-0.6zM417 236h0.6v0.6h-0.6zM427.8 220.7h0.6v0.6h-0.6zM432.8 223.9h0.6v0.6h-0.6zM428.6 220.1h0.6v0.6h-0.6zM429.3 225h0.6v0.6h-0.6zM429.4 227.7h0.6v0.6h-0.6zM430.7 223.9h0.6v0.6h-0.6zM409.6 226.9h0.6v0.6h-0.6zM413.7 228.9h0.6v0.6h-0.6zM411.6 217.6h0.6v0.6h-0.6zM431 220.8h0.6v0.6h-0.6zM429.3 218.8h0.6v0.6h-0.6zM433.4 227.1h0.6v0.6h-0.6zM430.9 225.9h0.6v0.6h-0.6zM411.6 227.6h0.6v0.6h-0.6zM431.6 224.3h0.6v0.6h-0.6zM430.1 234.9h0.6v0.6h-0.6zM429.4 225.6h0.6v0.6h-0.6zM411.4 220.6h0.6v0.6h-0.6zM433.9 231.6h0.6v0.6h-0.6zM414.4 235h0.6v0.6h-0.6zM411.5 224.7h0.6v0.6h-0.6zM414.2 230.4h0.6v0.6h-0.6zM429.5 233.6h0.6v0.6h-0.6zM413.6 229.5h0.6v0.6h-0.6zM408.9 227.4h0.6v0.6h-0.6zM412.4 227.2h0.6v0.6h-0.6zM411.7 222.5h0.6v0.6h-0.6zM412.8 232.2h0.6v0.6h-0.6zM431.1 225.9h0.6v0.6h-0.6zM411.9 227.6h0.6v0.6h-0.6zM413.7 231.6h0.6v0.6h-0.6zM412.2 219.3h0.6v0.6h-0.6zM412.8 222.6h0.6v0.6h-0.6zM430.2 230.1h0.6v0.6h-0.6zM429.9 228.6h0.6v0.6h-0.6zM418.4 238.8h0.6v0.6h-0.6zM424.6 213.1h0.6v0.6h-0.6zM428.8 227.3h0.6v0.6h-0.6zM429.7 223.4h0.6v0.6h-0.6zM412.1 218.7h0.6v0.6h-0.6zM415.4 233.9h0.6v0.6h-0.6zM420.6 210.7h0.6v0.6h-0.6zM429.5 223h0.6v0.6h-0.6zM412.7 216.5h0.6v0.6h-0.6zM411.1 224.3h0.6v0.6h-0.6zM431.8 231.8h0.6v0.6h-0.6zM420.8 242.8h0.6v0.6h-0.6zM427.2 245h0.6v0.6h-0.6zM421.9 246.4h0.6v0.6h-0.6zM426.9 245.1h0.6v0.6h-0.6zM426.4 245.1h0.6v0.6h-0.6zM428.6 243.4h0.6v0.6h-0.6zM426.5 246.6h0.6v0.6h-0.6zM417.9 244h0.6v0.6h-0.6zM421.5 246.4h0.6v0.6h-0.6zM423 248.4h0.6v0.6h-0.6zM428.4 243.1h0.6v0.6h-0.6zM421.1 247.8h0.6v0.6h-0.6zM430.8 234.1h0.6v0.6h-0.6zM425.7 245.4h0.6v0.6h-0.6zM426.8 244.9h0.6v0.6h-0.6zM423.2 245.3h0.6v0.6h-0.6zM422.2 244.8h0.6v0.6h-0.6zM425.2 248h0.6v0.6h-0.6zM428.3 240.8h0.6v0.6h-0.6zM425.3 245.8h0.6v0.6h-0.6zM426.2 248.9h0.6v0.6h-0.6zM425 245.4h0.6v0.6h-0.6zM418.8 240.9h0.6v0.6h-0.6zM427.8 247.1h0.6v0.6h-0.6zM418.5 238.2h0.6v0.6h-0.6zM426.2 245.7h0.6v0.6h-0.6zM422.8 247.6h0.6v0.6h-0.6zM426.7 248.8h0.6v0.6h-0.6zM420.5 242.7h0.6v0.6h-0.6zM414.2 213.6h0.6v0.6h-0.6zM411.8 214.8h0.6v0.6h-0.6zM417.7 210.9h0.6v0.6h-0.6zM427.1 216.6h0.6v0.6h-0.6zM423.1 212.3h0.6v0.6h-0.6zM416.9 210.4h0.6v0.6h-0.6zM416.1 211.5h0.6v0.6h-0.6zM418 210.9h0.6v0.6h-0.6zM415.5 211.8h0.6v0.6h-0.6zM410.8 218.4h0.6v0.6h-0.6zM418.5 210.1h0.6v0.6h-0.6zM422.4 212.3h0.6v0.6h-0.6zM418.4 209.8h0.6v0.6h-0.6zM415.9 212.4h0.6v0.6h-0.6zM423 211.2h0.6v0.6h-0.6zM416.9 209.7h0.6v0.6h-0.6zM411.4 217.4h0.6v0.6h-0.6zM412.7 215.4h0.6v0.6h-0.6zM422.4 210.3h0.6v0.6h-0.6zM428.8 212.8h0.6v0.6h-0.6zM426.9 218.4h0.6v0.6h-0.6zM409.7 215h0.6v0.6h-0.6zM415.2 209.2h0.6v0.6h-0.6zM412.6 217.7h0.6v0.6h-0.6zM422.1 209h0.6v0.6h-0.6zM412.3 219h0.6v0.6h-0.6zM424.8 213h0.6v0.6h-0.6zM411.9 221.1h0.6v0.6h-0.6zM423.7 212.6h0.6v0.6h-0.6zM424.6 209.2h0.6v0.6h-0.6zM426 213.1h0.6v0.6h-0.6zM425.8 215h0.6v0.6h-0.6zM414.7 212.5h0.6v0.6h-0.6zM413.7 211.7h0.6v0.6h-0.6zM413.6 214.6h0.6v0.6h-0.6zM423.3 205.7h0.6v0.6h-0.6zM407.6 230.7h0.6v0.6h-0.6zM409.9 229.6h0.6v0.6h-0.6zM411.4 246.7h0.6v0.6h-0.6zM410.1 232.3h0.6v0.6h-0.6zM413 232.8h0.6v0.6h-0.6zM410.4 245.8h0.6v0.6h-0.6zM418.3 241.2h0.6v0.6h-0.6zM407.5 247.5h0.6v0.6h-0.6zM408.3 236.9h0.6v0.6h-0.6zM412 232.5h0.6v0.6h-0.6zM420.1 245.1h0.6v0.6h-0.6zM415.1 233.5h0.6v0.6h-0.6zM414.4 245.3h0.6v0.6h-0.6zM414.7 232.3h0.6v0.6h-0.6zM413.7 234.3h0.6v0.6h-0.6zM425.2 246.4h0.6v0.6h-0.6zM415 236.5h0.6v0.6h-0.6zM408.3 231.6h0.6v0.6h-0.6zM409.7 218.1h0.6v0.6h-0.6zM430.1 239.5h0.6v0.6h-0.6zM413.1 234h0.6v0.6h-0.6zM415.6 236.6h0.6v0.6h-0.6zM428.4 217.5h0.6v0.6h-0.6zM415.3 238h0.6v0.6h-0.6zM414.2 244h0.6v0.6h-0.6zM417.7 243.8h0.6v0.6h-0.6zM415.6 244.6h0.6v0.6h-0.6zM438.3 245.2h0.6v0.6h-0.6zM411.2 234.7h0.6v0.6h-0.6zM419.5 246.7h0.6v0.6h-0.6zM413.5 238.5h0.6v0.6h-0.6zM410.8 228.3h0.6v0.6h-0.6zM430.2 244.6h0.6v0.6h-0.6zM429.1 230.5h0.6v0.6h-0.6zM407.3 220.7h0.6v0.6h-0.6zM437.4 226.5h0.6v0.6h-0.6zM412.8 221.3h0.6v0.6h-0.6zM438.2 232.1h0.6v0.6h-0.6zM417.1 238.2h0.6v0.6h-0.6zM409.2 238.7h0.6v0.6h-0.6zM417.3 237.8h0.6v0.6h-0.6zM407.3 223h0.6v0.6h-0.6zM429.4 234.9h0.6v0.6h-0.6zM424.5 212.7h0.6v0.6h-0.6zM419.1 243.9h0.6v0.6h-0.6zM415.2 239.4h0.6v0.6h-0.6zM425.3 212.9h0.6v0.6h-0.6zM415.1 233.7h0.6v0.6h-0.6zM415.8 242.5h0.6v0.6h-0.6zM423.1 245.9h0.6v0.6h-0.6zM432.3 230.5h0.6v0.6h-0.6zM415.6 237h0.6v0.6h-0.6zM416 236.9h0.6v0.6h-0.6zM406.4 232.6h0.6v0.6h-0.6zM408.7 231.6h0.6v0.6h-0.6zM413.2 228.5h0.6v0.6h-0.6zM407.8 211h0.6v0.6h-0.6zM416.6 241.7h0.6v0.6h-0.6zM414.9 244.3h0.6v0.6h-0.6zM426.2 215.8h0.6v0.6h-0.6zM416.2 233.6h0.6v0.6h-0.6z" fill="#a4aee2"/>
<path d="M425.9 224.2h0.6v0.6h-0.6zM421.6 219.4h0.6v0.6h-0.6zM417 231.8h0.6v0.6h-0.6zM418 215.6h0.6v0.6h-0.6zM421.4 218.8h0.6v0.6h-0.6zM425.2 237.3h0.6v0.6h-0.6zM416.2 227.3h0.6v0.6h-0.6zM419 216.6h0.6v0.6h-0.6zM416.2 220.6h0.6v0.6h-0.6zM416.2 224.4h0.6v0.6h-0.6zM426 229.2h0.6v0.6h-0.6zM426.5 233.6h0.6v0.6h-0.6zM416.1 226.6h0.6v0.6h-0.6zM426.5 231h0.6v0.6h-0.6zM421.7 235.8h0.6v0.6h-0.6zM420 234.3h0.6v0.6h-0.6zM418 220.5h0.6v0.6h-0.6zM426.9 228.5h0.6v0.6h-0.6zM424.2 220.9h0.6v0.6h-0.6zM422.2 220.5h0.6v0.6h-0.6zM426 229.3h0.6v0.6h-0.6zM419.4 232.1h0.6v0.6h-0.6zM415.8 224.5h0.6v0.6h-0.6zM418.8 232.3h0.6v0.6h-0.6zM424.1 222.4h0.6v0.6h-0.6zM425 223.1h0.6v0.6h-0.6zM424.9 224.2h0.6v0.6h-0.6zM419.7 218.7h0.6v0.6h-0.6zM417 225.8h0.6v0.6h-0.6zM420.1 214.9h0.6v0.6h-0.6zM425.7 234.6h0.6v0.6h-0.6zM425.5 229.7h0.6v0.6h-0.6zM417.7 230.4h0.6v0.6h-0.6zM426.6 231.3h0.6v0.6h-0.6zM425.3 225.7h0.6v0.6h-0.6zM415.7 225.6h0.6v0.6h-0.6zM425.4 228.4h0.6v0.6h-0.6zM416 222.4h0.6v0.6h-0.6zM427.2 229.4h0.6v0.6h-0.6zM420.5 219.5h0.6v0.6h-0.6zM426.3 227.7h0.6v0.6h-0.6zM416.6 221.5h0.6v0.6h-0.6zM416.8 229h0.6v0.6h-0.6zM426.6 230.3h0.6v0.6h-0.6zM416.6 227.3h0.6v0.6h-0.6zM425.5 233.1h0.6v0.6h-0.6zM420.5 216.4h0.6v0.6h-0.6zM426.4 229.5h0.6v0.6h-0.6zM417 226.7h0.6v0.6h-0.6zM426 228.6h0.6v0.6h-0.6zM416.1 220.9h0.6v0.6h-0.6zM420.6 233.7h0.6v0.6h-0.6zM425.2 221.1h0.6v0.6h-0.6zM422.8 219.7h0.6v0.6h-0.6zM421.3 215.5h0.6v0.6h-0.6zM419.3 219.2h0.6v0.6h-0.6zM416.2 226.4h0.6v0.6h-0.6zM418.4 219.7h0.6v0.6h-0.6zM421.3 220.5h0.6v0.6h-0.6zM417.3 231.3h0.6v0.6h-0.6zM425.6 223.2h0.6v0.6h-0.6zM425.2 222.1h0.6v0.6h-0.6zM418.4 231.4h0.6v0.6h-0.6zM418 219.8h0.6v0.6h-0.6zM424.4 221.7h0.6v0.6h-0.6zM423.1 221.3h0.6v0.6h-0.6zM426.3 227.9h0.6v0.6h-0.6zM425.4 222.2h0.6v0.6h-0.6zM417 225.5h0.6v0.6h-0.6zM423.3 220.3h0.6v0.6h-0.6zM416.1 229h0.6v0.6h-0.6zM424.6 223.5h0.6v0.6h-0.6zM416.7 224.6h0.6v0.6h-0.6zM418.8 218.2h0.6v0.6h-0.6zM422.1 218.4h0.6v0.6h-0.6zM424.4 220.4h0.6v0.6h-0.6zM416.1 221.6h0.6v0.6h-0.6zM416.7 219.3h0.6v0.6h-0.6zM418.8 216.6h0.6v0.6h-0.6zM416.4 227h0.6v0.6h-0.6zM422.7 219.5h0.6v0.6h-0.6zM426.1 232h0.6v0.6h-0.6zM419.6 233.6h0.6v0.6h-0.6zM423.4 221.9h0.6v0.6h-0.6zM426.6 232.9h0.6v0.6h-0.6zM419.6 216.6h0.6v0.6h-0.6zM426.6 231.1h0.6v0.6h-0.6zM414.8 224.2h0.6v0.6h-0.6zM415 225.8h0.6v0.6h-0.6zM415.2 225h0.6v0.6h-0.6zM415.9 227.9h0.6v0.6h-0.6zM425.5 234h0.6v0.6h-0.6zM418.4 219.3h0.6v0.6h-0.6zM414.8 226.3h0.6v0.6h-0.6zM420.7 218.1h0.6v0.6h-0.6zM420.3 234h0.6v0.6h-0.6zM416.7 220.5h0.6v0.6h-0.6zM426.3 227.5h0.6v0.6h-0.6zM417.1 226.6h0.6v0.6h-0.6zM421.7 218.6h0.6v0.6h-0.6zM426.4 227.7h0.6v0.6h-0.6zM415.9 222.6h0.6v0.6h-0.6zM423.6 222.1h0.6v0.6h-0.6zM424.9 226.1h0.6v0.6h-0.6zM421.5 235h0.6v0.6h-0.6zM422.1 218h0.6v0.6h-0.6zM425.8 228.6h0.6v0.6h-0.6zM420.9 235.5h0.6v0.6h-0.6zM419.8 219.5h0.6v0.6h-0.6zM425.4 233.8h0.6v0.6h-0.6zM417.5 220.2h0.6v0.6h-0.6zM418.6 231.5h0.6v0.6h-0.6zM426.8 229.6h0.6v0.6h-0.6zM416.6 230.4h0.6v0.6h-0.6zM416.4 220h0.6v0.6h-0.6zM419.4 234.3h0.6v0.6h-0.6zM420.5 214.7h0.6v0.6h-0.6zM417 229.1h0.6v0.6h-0.6zM417.5 216.2h0.6v0.6h-0.6zM425.4 224.4h0.6v0.6h-0.6zM416.6 230.4h0.6v0.6h-0.6zM418.7 231.8h0.6v0.6h-0.6zM415.4 224.3h0.6v0.6h-0.6zM426 224.2h0.6v0.6h-0.6zM418.9 218.8h0.6v0.6h-0.6zM425.8 231.1h0.6v0.6h-0.6zM421.4 235.2h0.6v0.6h-0.6zM425.6 222.8h0.6v0.6h-0.6zM426.3 224.7h0.6v0.6h-0.6zM420 215.4h0.6v0.6h-0.6zM420.8 219.5h0.6v0.6h-0.6zM423.6 218.8h0.6v0.6h-0.6zM416.9 231.5h0.6v0.6h-0.6zM416.5 221.6h0.6v0.6h-0.6zM425 224.4h0.6v0.6h-0.6zM424.6 224.2h0.6v0.6h-0.6zM417.4 230.3h0.6v0.6h-0.6zM425.6 222.5h0.6v0.6h-0.6zM414.9 224.3h0.6v0.6h-0.6zM416.8 227h0.6v0.6h-0.6zM425.1 226.9h0.6v0.6h-0.6zM425.7 227.5h0.6v0.6h-0.6zM425.6 233.5h0.6v0.6h-0.6zM425.4 223.6h0.6v0.6h-0.6zM418 216.2h0.6v0.6h-0.6zM420.3 234h0.6v0.6h-0.6zM425.5 229.1h0.6v0.6h-0.6zM421 237.4h0.6v0.6h-0.6zM414.8 226.4h0.6v0.6h-0.6zM416.9 225.5h0.6v0.6h-0.6zM416.5 221.9h0.6v0.6h-0.6zM416.6 229.2h0.6v0.6h-0.6zM425.6 226.2h0.6v0.6h-0.6zM420.1 219.4h0.6v0.6h-0.6zM415.5 228.2h0.6v0.6h-0.6zM417.1 230.1h0.6v0.6h-0.6zM416.9 228.3h0.6v0.6h-0.6zM415.4 225.8h0.6v0.6h-0.6zM415.9 220.9h0.6v0.6h-0.6zM417 224.6h0.6v0.6h-0.6zM425.6 222.5h0.6v0.6h-0.6zM420.5 217.8h0.6v0.6h-0.6zM425.2 227.7h0.6v0.6h-0.6zM418.6 220.1h0.6v0.6h-0.6zM425.6 229h0.6v0.6h-0.6zM424.3 221.8h0.6v0.6h-0.6zM423.8 221.2h0.6v0.6h-0.6zM427.2 230.6h0.6v0.6h-0.6zM418.4 218.2h0.6v0.6h-0.6zM421.4 236.2h0.6v0.6h-0.6zM423.9 223.2h0.6v0.6h-0.6zM423.1 220.5h0.6v0.6h-0.6zM427 233.9h0.6v0.6h-0.6zM426.8 232.3h0.6v0.6h-0.6zM421.7 220.9h0.6v0.6h-0.6zM425.3 226h0.6v0.6h-0.6zM417.4 217.3h0.6v0.6h-0.6zM417 218h0.6v0.6h-0.6zM423.7 220.2h0.6v0.6h-0.6zM416.7 228.6h0.6v0.6h-0.6zM426.3 233.5h0.6v0.6h-0.6zM417.8 218h0.6v0.6h-0.6zM422.7 217.2h0.6v0.6h-0.6zM418.5 218.8h0.6v0.6h-0.6zM416.5 218.2h0.6v0.6h-0.6zM418.5 232.5h0.6v0.6h-0.6zM417.3 230.5h0.6v0.6h-0.6zM416.8 227.1h0.6v0.6h-0.6zM419.5 216.1h0.6v0.6h-0.6zM415.4 222h0.6v0.6h-0.6zM417.1 219.2h0.6v0.6h-0.6zM417.2 220.5h0.6v0.6h-0.6zM415.5 223.2h0.6v0.6h-0.6zM415.5 223.7h0.6v0.6h-0.6zM415.7 224.6h0.6v0.6h-0.6zM421.9 219.1h0.6v0.6h-0.6zM418.3 219.2h0.6v0.6h-0.6zM417.1 224.7h0.6v0.6h-0.6zM424.4 222.5h0.6v0.6h-0.6zM415.9 224.3h0.6v0.6h-0.6zM423.4 218.7h0.6v0.6h-0.6zM417 229.5h0.6v0.6h-0.6zM425.9 227h0.6v0.6h-0.6zM425.5 228.5h0.6v0.6h-0.6zM418.3 216.2h0.6v0.6h-0.6zM417 217.2h0.6v0.6h-0.6zM417 225.9h0.6v0.6h-0.6zM424 222.6h0.6v0.6h-0.6zM420 232.6h0.6v0.6h-0.6zM423.7 221.5h0.6v0.6h-0.6zM417.3 221.1h0.6v0.6h-0.6zM426 222.5h0.6v0.6h-0.6zM419.8 232.1h0.6v0.6h-0.6zM416.3 228h0.6v0.6h-0.6zM416.8 227.6h0.6v0.6h-0.6zM416.9 226.7h0.6v0.6h-0.6zM426.6 228.5h0.6v0.6h-0.6zM420.3 218.9h0.6v0.6h-0.6zM425.7 226.3h0.6v0.6h-0.6zM419.5 232.3h0.6v0.6h-0.6zM416.8 224.5h0.6v0.6h-0.6zM415.8 227.3h0.6v0.6h-0.6zM423.3 219.4h0.6v0.6h-0.6zM418.1 219.9h0.6v0.6h-0.6zM418 231.7h0.6v0.6h-0.6zM417.4 230.9h0.6v0.6h-0.6zM425.9 224h0.6v0.6h-0.6zM423.8 221.8h0.6v0.6h-0.6zM417.5 218.7h0.6v0.6h-0.6zM415.4 223.9h0.6v0.6h-0.6zM419.1 219.4h0.6v0.6h-0.6zM416.6 223.5h0.6v0.6h-0.6zM426.1 229.4h0.6v0.6h-0.6zM423.9 222.8h0.6v0.6h-0.6zM416.4 227.9h0.6v0.6h-0.6zM423.8 222.3h0.6v0.6h-0.6zM415.8 221.6h0.6v0.6h-0.6zM416.1 220.8h0.6v0.6h-0.6zM416.2 227.2h0.6v0.6h-0.6zM425.7 224.5h0.6v0.6h-0.6zM418 232.2h0.6v0.6h-0.6zM424.5 221.6h0.6v0.6h-0.6zM421.9 220.8h0.6v0.6h-0.6zM421.1 236h0.6v0.6h-0.6zM425.5 233.7h0.6v0.6h-0.6zM416.7 220.5h0.6v0.6h-0.6zM425.8 234.5h0.6v0.6h-0.6zM426.7 227h0.6v0.6h-0.6zM418.3 219.8h0.6v0.6h-0.6zM417.1 227.8h0.6v0.6h-0.6zM423.5 221.5h0.6v0.6h-0.6zM416.5 224h0.6v0.6h-0.6zM415.4 226.7h0.6v0.6h-0.6zM423.6 221.9h0.6v0.6h-0.6zM425.9 228.1h0.6v0.6h-0.6zM424 222.2h0.6v0.6h-0.6zM427.2 233.4h0.6v0.6h-0.6zM421.2 219.3h0.6v0.6h-0.6zM426.4 232.8h0.6v0.6h-0.6zM415.4 224.7h0.6v0.6h-0.6zM421.2 217.8h0.6v0.6h-0.6zM418.5 215.5h0.6v0.6h-0.6zM422.3 220.7h0.6v0.6h-0.6zM421.4 240.2h0.6v0.6h-0.6zM425.6 240h0.6v0.6h-0.6zM426.1 239.1h0.6v0.6h-0.6zM425 225.7h0.6v0.6h-0.6zM424.6 240.3h0.6v0.6h-0.6zM425.2 241.8h0.6v0.6h-0.6zM425.7 237h0.6v0.6h-0.6zM425 242.1h0.6v0.6h-0.6zM421.8 238.6h0.6v0.6h-0.6zM424.6 240.5h0.6v0.6h-0.6zM425.4 238.2h0.6v0.6h-0.6zM422.9 240.3h0.6v0.6h-0.6zM423.8 241.3h0.6v0.6h-0.6zM425.5 238.9h0.6v0.6h-0.6zM426.3 238.5h0.6v0.6h-0.6zM426.5 227.7h0.6v0.6h-0.6zM425.5 238h0.6v0.6h-0.6zM426 238h0.6v0.6h-0.6zM427.1 231.3h0.6v0.6h-0.6zM426.1 238.3h0.6v0.6h-0.6zM422.9 239.9h0.6v0.6h-0.6zM425 239.2h0.6v0.6h-0.6zM422.1 238.7h0.6v0.6h-0.6zM425.6 238.4h0.6v0.6h-0.6zM425.9 236.5h0.6v0.6h-0.6zM421.8 235.1h0.6v0.6h-0.6zM423.7 240h0.6v0.6h-0.6zM425.7 239.8h0.6v0.6h-0.6zM425.8 235h0.6v0.6h-0.6zM424.1 241.9h0.6v0.6h-0.6zM426.7 230.9h0.6v0.6h-0.6zM422.4 239.6h0.6v0.6h-0.6zM421.9 237.4h0.6v0.6h-0.6zM423.8 242.8h0.6v0.6h-0.6zM422.8 236.9h0.6v0.6h-0.6zM426.6 236.9h0.6v0.6h-0.6zM423.2 240.7h0.6v0.6h-0.6zM423.7 242.5h0.6v0.6h-0.6zM420.2 232.7h0.6v0.6h-0.6zM424 242.7h0.6v0.6h-0.6zM425.9 238.4h0.6v0.6h-0.6zM421.9 237h0.6v0.6h-0.6zM421.3 235.6h0.6v0.6h-0.6zM419 233h0.6v0.6h-0.6zM423.9 241.6h0.6v0.6h-0.6zM422.4 239.9h0.6v0.6h-0.6zM422.1 238.7h0.6v0.6h-0.6zM426.7 233.1h0.6v0.6h-0.6zM423.8 240h0.6v0.6h-0.6zM423 240.4h0.6v0.6h-0.6zM422.3 239.1h0.6v0.6h-0.6zM420.4 235.1h0.6v0.6h-0.6zM426.9 231.2h0.6v0.6h-0.6zM425.4 235.8h0.6v0.6h-0.6zM426.4 228.2h0.6v0.6h-0.6zM426.8 239.9h0.6v0.6h-0.6zM423.9 242.1h0.6v0.6h-0.6zM422.7 236.8h0.6v0.6h-0.6zM426.4 240h0.6v0.6h-0.6zM420.6 233.4h0.6v0.6h-0.6zM426.2 240.1h0.6v0.6h-0.6zM426.6 232.4h0.6v0.6h-0.6zM423.3 241.5h0.6v0.6h-0.6zM422.1 239.7h0.6v0.6h-0.6zM426.5 230.2h0.6v0.6h-0.6zM426.6 234.1h0.6v0.6h-0.6zM424.7 241h0.6v0.6h-0.6zM425.7 235.6h0.6v0.6h-0.6zM416.9 231.4h0.6v0.6h-0.6zM422.8 241h0.6v0.6h-0.6zM424.2 241.2h0.6v0.6h-0.6zM422.4 241.2h0.6v0.6h-0.6zM422.6 240.8h0.6v0.6h-0.6zM426.2 235.6h0.6v0.6h-0.6zM423.3 240.4h0.6v0.6h-0.6zM426.5 231.1h0.6v0.6h-0.6zM421.1 235.2h0.6v0.6h-0.6zM426.8 232.4h0.6v0.6h-0.6zM424.3 240.3h0.6v0.6h-0.6zM426.3 240.1h0.6v0.6h-0.6zM426.8 233.8h0.6v0.6h-0.6zM424.8 242h0.6v0.6h-0.6zM426.5 232.2h0.6v0.6h-0.6zM422.5 237.3h0.6v0.6h-0.6zM425.8 241.9h0.6v0.6h-0.6zM425.3 234.9h0.6v0.6h-0.6zM426.2 236.8h0.6v0.6h-0.6zM422.6 237.4h0.6v0.6h-0.6zM423.1 240h0.6v0.6h-0.6zM426.6 235.4h0.6v0.6h-0.6zM426.9 238.5h0.6v0.6h-0.6zM422.6 236.8h0.6v0.6h-0.6zM422.8 240h0.6v0.6h-0.6zM422.4 241.7h0.6v0.6h-0.6zM426 238.7h0.6v0.6h-0.6zM421.8 239.7h0.6v0.6h-0.6zM425.5 240.3h0.6v0.6h-0.6zM423.3 241h0.6v0.6h-0.6zM426.6 237.7h0.6v0.6h-0.6zM426.2 234.6h0.6v0.6h-0.6zM423.2 240h0.6v0.6h-0.6zM424.5 240.4h0.6v0.6h-0.6zM424 241.9h0.6v0.6h-0.6zM425.8 235.2h0.6v0.6h-0.6zM426.5 238.5h0.6v0.6h-0.6zM423.7 242.2h0.6v0.6h-0.6zM425.2 240h0.6v0.6h-0.6zM425.2 239.5h0.6v0.6h-0.6zM425.5 237.2h0.6v0.6h-0.6zM426.2 231.1h0.6v0.6h-0.6zM422.5 236.5h0.6v0.6h-0.6zM419.9 234.4h0.6v0.6h-0.6zM422 240.9h0.6v0.6h-0.6zM425.6 238.3h0.6v0.6h-0.6zM425.6 237.2h0.6v0.6h-0.6zM426 232.5h0.6v0.6h-0.6zM421.5 239.3h0.6v0.6h-0.6zM425.3 241.2h0.6v0.6h-0.6zM426.4 239.9h0.6v0.6h-0.6zM421.5 216h0.6v0.6h-0.6zM421.7 217.9h0.6v0.6h-0.6zM415.8 220h0.6v0.6h-0.6zM420 219.1h0.6v0.6h-0.6zM420.4 216.3h0.6v0.6h-0.6zM418 215.8h0.6v0.6h-0.6zM423.7 221.2h0.6v0.6h-0.6zM420.2 215.4h0.6v0.6h-0.6zM418.5 217.7h0.6v0.6h-0.6zM420.8 216.8h0.6v0.6h-0.6zM421.1 220.3h0.6v0.6h-0.6zM417.6 220.2h0.6v0.6h-0.6zM419.9 216.7h0.6v0.6h-0.6zM417.7 215.6h0.6v0.6h-0.6zM421.5 219.6h0.6v0.6h-0.6zM420.3 219.6h0.6v0.6h-0.6zM418.2 218.1h0.6v0.6h-0.6zM417.3 218.3h0.6v0.6h-0.6zM422.3 218.8h0.6v0.6h-0.6zM419.9 214.6h0.6v0.6h-0.6zM421.4 218.6h0.6v0.6h-0.6zM421.4 218.9h0.6v0.6h-0.6zM420.7 216.9h0.6v0.6h-0.6zM418.7 218.6h0.6v0.6h-0.6zM419.1 217.3h0.6v0.6h-0.6zM420.9 214.7h0.6v0.6h-0.6zM416.1 220h0.6v0.6h-0.6zM416.9 219.9h0.6v0.6h-0.6zM418.7 219.6h0.6v0.6h-0.6zM419.5 216.4h0.6v0.6h-0.6zM422.7 217.2h0.6v0.6h-0.6zM420.4 215.1h0.6v0.6h-0.6zM417.6 218.1h0.6v0.6h-0.6zM419.6 215.1h0.6v0.6h-0.6zM419.5 218h0.6v0.6h-0.6zM421.4 219.9h0.6v0.6h-0.6zM423.1 219.9h0.6v0.6h-0.6zM418.9 216.6h0.6v0.6h-0.6zM415.7 221.7h0.6v0.6h-0.6zM418.3 215.4h0.6v0.6h-0.6zM417.4 219.2h0.6v0.6h-0.6zM418.4 216.9h0.6v0.6h-0.6zM421.6 216.6h0.6v0.6h-0.6zM420.9 216.7h0.6v0.6h-0.6zM419.5 216.8h0.6v0.6h-0.6zM419.3 214.6h0.6v0.6h-0.6zM421.9 218.6h0.6v0.6h-0.6zM418 215.3h0.6v0.6h-0.6zM421.1 215.6h0.6v0.6h-0.6zM424.2 220.4h0.6v0.6h-0.6zM421 217.6h0.6v0.6h-0.6zM423.3 220h0.6v0.6h-0.6zM420.9 215.2h0.6v0.6h-0.6zM417.6 216.3h0.6v0.6h-0.6zM420.6 219.6h0.6v0.6h-0.6zM420.7 215.5h0.6v0.6h-0.6zM419.6 215.8h0.6v0.6h-0.6zM421.1 215.2h0.6v0.6h-0.6zM420.3 215.2h0.6v0.6h-0.6zM421.4 216.9h0.6v0.6h-0.6zM419.5 214.6h0.6v0.6h-0.6zM419.2 218.4h0.6v0.6h-0.6zM424 221h0.6v0.6h-0.6zM423.5 220.2h0.6v0.6h-0.6zM423.2 217.8h0.6v0.6h-0.6zM418.1 216.2h0.6v0.6h-0.6zM419 217.9h0.6v0.6h-0.6zM423.3 218.6h0.6v0.6h-0.6zM417.1 218.6h0.6v0.6h-0.6zM422 218.4h0.6v0.6h-0.6zM423 218.3h0.6v0.6h-0.6zM420.4 217.6h0.6v0.6h-0.6zM420.3 218.1h0.6v0.6h-0.6zM422.7 217.8h0.6v0.6h-0.6zM420.1 217.6h0.6v0.6h-0.6zM425.4 233.2h0.6v0.6h-0.6zM415.5 225.9h0.6v0.6h-0.6zM424 239.9h0.6v0.6h-0.6zM416.8 230.3h0.6v0.6h-0.6zM426 233.4h0.6v0.6h-0.6zM416.4 227.7h0.6v0.6h-0.6zM420.9 214.9h0.6v0.6h-0.6zM426.9 230.8h0.6v0.6h-0.6zM416.7 223.8h0.6v0.6h-0.6zM415.9 226.7h0.6v0.6h-0.6zM425.9 237.7h0.6v0.6h-0.6zM419.8 219.9h0.6v0.6h-0.6zM417.4 220.8h0.6v0.6h-0.6zM416.7 226.6h0.6v0.6h-0.6zM422.5 219.7h0.6v0.6h-0.6zM423.8 240.3h0.6v0.6h-0.6zM424.9 221.8h0.6v0.6h-0.6zM424.6 240.5h0.6v0.6h-0.6zM420.5 218.3h0.6v0.6h-0.6zM415.6 222.1h0.6v0.6h-0.6zM425.7 236.1h0.6v0.6h-0.6zM425.2 242.1h0.6v0.6h-0.6zM421.7 219.6h0.6v0.6h-0.6zM417.3 230.7h0.6v0.6h-0.6zM417.6 229.9h0.6v0.6h-0.6zM425.7 240.3h0.6v0.6h-0.6zM425 228.1h0.6v0.6h-0.6z" fill="#4a68c8"/>
<path d="M421 237.9h0.6v0.6h-0.6zM426.4 222.7h0.6v0.6h-0.6zM415.4 228.7h0.6v0.6h-0.6zM426.7 223.3h0.6v0.6h-0.6zM419 233.7h0.6v0.6h-0.6zM428.1 235h0.6v0.6h-0.6zM425.5 218.5h0.6v0.6h-0.6zM428.9 234.8h0.6v0.6h-0.6zM413.8 221.2h0.6v0.6h-0.6zM415.1 227h0.6v0.6h-0.6zM416.6 217.2h0.6v0.6h-0.6zM426.8 226.4h0.6v0.6h-0.6zM427.8 223.8h0.6v0.6h-0.6zM427.6 234.1h0.6v0.6h-0.6zM414 225.7h0.6v0.6h-0.6zM419.9 237.2h0.6v0.6h-0.6zM414.2 217.8h0.6v0.6h-0.6zM414.6 220.1h0.6v0.6h-0.6zM413.2 224.4h0.6v0.6h-0.6zM414.5 219.3h0.6v0.6h-0.6zM415.3 230h0.6v0.6h-0.6zM427.6 222.6h0.6v0.6h-0.6zM425 220.8h0.6v0.6h-0.6zM415 216.1h0.6v0.6h-0.6zM426.8 222.9h0.6v0.6h-0.6zM426 219.9h0.6v0.6h-0.6zM414.3 228.2h0.6v0.6h-0.6zM425.5 218.1h0.6v0.6h-0.6zM428.6 227.3h0.6v0.6h-0.6zM414.9 216.1h0.6v0.6h-0.6zM413.2 223.8h0.6v0.6h-0.6zM426.7 224.8h0.6v0.6h-0.6zM427.5 226.3h0.6v0.6h-0.6zM427.8 231.9h0.6v0.6h-0.6zM415.1 230.9h0.6v0.6h-0.6zM414 225.3h0.6v0.6h-0.6zM427.2 219.3h0.6v0.6h-0.6zM421.9 242.6h0.6v0.6h-0.6zM426.4 219.3h0.6v0.6h-0.6zM415.7 230h0.6v0.6h-0.6zM426.3 224.2h0.6v0.6h-0.6zM427.9 235.6h0.6v0.6h-0.6zM414.9 218.2h0.6v0.6h-0.6zM414.9 222.4h0.6v0.6h-0.6zM427.4 232.5h0.6v0.6h-0.6zM424.1 217.9h0.6v0.6h-0.6zM419.3 234.7h0.6v0.6h-0.6zM421.7 211.9h0.6v0.6h-0.6zM414.2 217.7h0.6v0.6h-0.6zM415.2 230.3h0.6v0.6h-0.6zM414.9 217.9h0.6v0.6h-0.6zM427.4 233.5h0.6v0.6h-0.6zM418.4 236.4h0.6v0.6h-0.6zM415.2 221.5h0.6v0.6h-0.6zM417.1 232.4h0.6v0.6h-0.6zM425 220h0.6v0.6h-0.6zM416.2 218h0.6v0.6h-0.6zM426.4 223.6h0.6v0.6h-0.6zM426.3 226.3h0.6v0.6h-0.6zM415.2 214.5h0.6v0.6h-0.6zM418 233.6h0.6v0.6h-0.6zM427.3 220.9h0.6v0.6h-0.6zM427.4 222.8h0.6v0.6h-0.6zM413.1 221.8h0.6v0.6h-0.6zM413.6 225.4h0.6v0.6h-0.6zM414.8 220.8h0.6v0.6h-0.6zM418.3 235.1h0.6v0.6h-0.6zM415.1 228.7h0.6v0.6h-0.6zM417.4 233.9h0.6v0.6h-0.6zM418.3 233.4h0.6v0.6h-0.6zM415.5 229.1h0.6v0.6h-0.6zM414.6 222.8h0.6v0.6h-0.6zM414.4 227.7h0.6v0.6h-0.6zM413.1 223.7h0.6v0.6h-0.6zM413.2 225.5h0.6v0.6h-0.6zM418.1 214.6h0.6v0.6h-0.6zM428.7 226.9h0.6v0.6h-0.6zM418.3 235.9h0.6v0.6h-0.6zM415 227.8h0.6v0.6h-0.6zM420.1 236.3h0.6v0.6h-0.6zM414.8 219h0.6v0.6h-0.6zM415.5 219.2h0.6v0.6h-0.6zM425.8 222h0.6v0.6h-0.6zM415.3 219h0.6v0.6h-0.6zM426.4 226.3h0.6v0.6h-0.6zM415.7 216.8h0.6v0.6h-0.6zM429 234.6h0.6v0.6h-0.6zM427.1 226.8h0.6v0.6h-0.6zM418.2 212.7h0.6v0.6h-0.6zM417.7 232.5h0.6v0.6h-0.6zM426.1 216.6h0.6v0.6h-0.6zM427 227.6h0.6v0.6h-0.6zM416.1 215.3h0.6v0.6h-0.6zM414.5 221h0.6v0.6h-0.6zM414.2 220.3h0.6v0.6h-0.6zM428.2 227.9h0.6v0.6h-0.6zM423.6 218h0.6v0.6h-0.6zM428.5 226.9h0.6v0.6h-0.6zM426.6 225.8h0.6v0.6h-0.6zM428.2 232.1h0.6v0.6h-0.6zM413.9 224.3h0.6v0.6h-0.6zM425.8 221.2h0.6v0.6h-0.6zM416.5 231h0.6v0.6h-0.6zM428.2 224.6h0.6v0.6h-0.6zM415.8 230.8h0.6v0.6h-0.6zM419.4 234.8h0.6v0.6h-0.6zM414 224h0.6v0.6h-0.6zM423.9 217.8h0.6v0.6h-0.6zM426.6 223.9h0.6v0.6h-0.6zM416.1 214.4h0.6v0.6h-0.6zM418.8 213.5h0.6v0.6h-0.6zM414.4 226.1h0.6v0.6h-0.6zM412.6 223.4h0.6v0.6h-0.6zM415.3 230.8h0.6v0.6h-0.6zM416.9 232.6h0.6v0.6h-0.6zM425.2 218.3h0.6v0.6h-0.6zM427.2 222.4h0.6v0.6h-0.6zM428.1 230.5h0.6v0.6h-0.6zM414.4 221.3h0.6v0.6h-0.6zM413.6 217.1h0.6v0.6h-0.6zM427.7 224.2h0.6v0.6h-0.6zM427.4 229.8h0.6v0.6h-0.6zM426.9 223.2h0.6v0.6h-0.6zM426.8 222.3h0.6v0.6h-0.6zM425.4 219.3h0.6v0.6h-0.6zM427.7 229.1h0.6v0.6h-0.6zM428 237.4h0.6v0.6h-0.6zM427.5 231.1h0.6v0.6h-0.6zM424.5 244.1h0.6v0.6h-0.6zM427.4 242.8h0.6v0.6h-0.6zM424.6 243.5h0.6v0.6h-0.6zM425.8 243.8h0.6v0.6h-0.6zM420.6 238.8h0.6v0.6h-0.6zM428.6 236.3h0.6v0.6h-0.6zM423.8 244.3h0.6v0.6h-0.6zM426.8 243.5h0.6v0.6h-0.6zM426.8 236.5h0.6v0.6h-0.6zM424.9 243.5h0.6v0.6h-0.6zM427 240.1h0.6v0.6h-0.6zM428.2 241.2h0.6v0.6h-0.6zM420.9 238.2h0.6v0.6h-0.6zM427.9 234.2h0.6v0.6h-0.6zM422.7 244.8h0.6v0.6h-0.6zM427.4 234.5h0.6v0.6h-0.6zM424.1 243.8h0.6v0.6h-0.6zM422.9 243.1h0.6v0.6h-0.6zM421.2 239h0.6v0.6h-0.6zM427 241.5h0.6v0.6h-0.6zM423.1 242.9h0.6v0.6h-0.6zM427.8 237.9h0.6v0.6h-0.6zM420 239.1h0.6v0.6h-0.6zM427.8 235.6h0.6v0.6h-0.6zM427.4 232.7h0.6v0.6h-0.6zM420.9 242.3h0.6v0.6h-0.6zM427.1 237.8h0.6v0.6h-0.6zM427.5 240.5h0.6v0.6h-0.6zM428.9 235.6h0.6v0.6h-0.6zM424.2 245h0.6v0.6h-0.6zM427.2 237.7h0.6v0.6h-0.6zM419.6 238h0.6v0.6h-0.6zM427.8 236.2h0.6v0.6h-0.6zM426.8 240.7h0.6v0.6h-0.6zM427.6 235.9h0.6v0.6h-0.6zM423.8 244.1h0.6v0.6h-0.6zM420.7 237.7h0.6v0.6h-0.6zM426.3 242.9h0.6v0.6h-0.6zM424.4 242.5h0.6v0.6h-0.6zM421.3 241.6h0.6v0.6h-0.6zM427 240.9h0.6v0.6h-0.6zM424.1 243.1h0.6v0.6h-0.6zM418.5 234.4h0.6v0.6h-0.6zM427.1 239.4h0.6v0.6h-0.6zM426 242h0.6v0.6h-0.6zM422.7 242.6h0.6v0.6h-0.6zM427.8 232.3h0.6v0.6h-0.6zM421.4 240.9h0.6v0.6h-0.6zM420.6 238.5h0.6v0.6h-0.6zM420.7 239.9h0.6v0.6h-0.6zM420.7 239.4h0.6v0.6h-0.6zM420.5 241.8h0.6v0.6h-0.6zM427 242.3h0.6v0.6h-0.6zM420.5 238.4h0.6v0.6h-0.6zM427.8 239.1h0.6v0.6h-0.6zM423.1 242.7h0.6v0.6h-0.6zM419 236.6h0.6v0.6h-0.6zM420.9 240.4h0.6v0.6h-0.6zM427.2 243.5h0.6v0.6h-0.6zM423.1 243.3h0.6v0.6h-0.6zM427.7 234h0.6v0.6h-0.6zM427.5 240.9h0.6v0.6h-0.6zM423.8 244.2h0.6v0.6h-0.6zM423.4 243.5h0.6v0.6h-0.6zM426 241.8h0.6v0.6h-0.6zM421.7 243.3h0.6v0.6h-0.6zM427.3 238.4h0.6v0.6h-0.6zM425.8 242.6h0.6v0.6h-0.6zM427.3 236.1h0.6v0.6h-0.6zM426.9 237.4h0.6v0.6h-0.6zM421.1 243.2h0.6v0.6h-0.6zM427.7 239.8h0.6v0.6h-0.6zM422.7 214.7h0.6v0.6h-0.6zM423 216.4h0.6v0.6h-0.6zM421.8 214.2h0.6v0.6h-0.6zM420.7 212.2h0.6v0.6h-0.6zM423.4 215.3h0.6v0.6h-0.6zM416 213.3h0.6v0.6h-0.6zM414.8 213.6h0.6v0.6h-0.6zM416.3 217.3h0.6v0.6h-0.6zM424 218.8h0.6v0.6h-0.6zM421 214.1h0.6v0.6h-0.6zM419.9 213.7h0.6v0.6h-0.6zM420.1 212.3h0.6v0.6h-0.6zM417.7 213.5h0.6v0.6h-0.6zM415.8 216h0.6v0.6h-0.6zM425.9 216.7h0.6v0.6h-0.6zM423.4 215.4h0.6v0.6h-0.6zM426.7 219.8h0.6v0.6h-0.6zM416.9 212.2h0.6v0.6h-0.6zM416.1 219.2h0.6v0.6h-0.6zM423.7 215.1h0.6v0.6h-0.6zM421.4 214h0.6v0.6h-0.6zM420.1 214.2h0.6v0.6h-0.6zM426.2 218.6h0.6v0.6h-0.6zM419 214.1h0.6v0.6h-0.6zM415.9 215.8h0.6v0.6h-0.6zM414.9 213.4h0.6v0.6h-0.6zM421.4 213.6h0.6v0.6h-0.6zM416.9 215h0.6v0.6h-0.6zM420.2 213.6h0.6v0.6h-0.6zM415.9 213.3h0.6v0.6h-0.6zM418 213h0.6v0.6h-0.6zM424.2 215.5h0.6v0.6h-0.6zM426.5 221.9h0.6v0.6h-0.6zM418.7 212.3h0.6v0.6h-0.6zM424 214.9h0.6v0.6h-0.6zM421.3 213.9h0.6v0.6h-0.6zM418.9 214.4h0.6v0.6h-0.6zM415.9 217.2h0.6v0.6h-0.6zM416.1 215.3h0.6v0.6h-0.6zM423.2 216.4h0.6v0.6h-0.6zM425.1 214.8h0.6v0.6h-0.6zM424 215.6h0.6v0.6h-0.6zM421.8 213.5h0.6v0.6h-0.6zM414.3 217.7h0.6v0.6h-0.6zM415.9 217.8h0.6v0.6h-0.6zM424.4 216h0.6v0.6h-0.6zM414.6 217.2h0.6v0.6h-0.6zM422.9 214.6h0.6v0.6h-0.6zM423.6 213.3h0.6v0.6h-0.6zM419.7 212.2h0.6v0.6h-0.6zM414.3 216.5h0.6v0.6h-0.6zM423.6 213.7h0.6v0.6h-0.6zM420.1 213.5h0.6v0.6h-0.6zM416.6 215.2h0.6v0.6h-0.6zM425 217.3h0.6v0.6h-0.6zM414.1 214.4h0.6v0.6h-0.6zM417.6 213.4h0.6v0.6h-0.6zM423.5 217.6h0.6v0.6h-0.6zM416 216.3h0.6v0.6h-0.6zM417.5 214.1h0.6v0.6h-0.6zM419.6 211.7h0.6v0.6h-0.6zM423.9 217.2h0.6v0.6h-0.6zM418.9 212.2h0.6v0.6h-0.6zM425 218.9h0.6v0.6h-0.6zM421.2 212.1h0.6v0.6h-0.6zM425.7 217.9h0.6v0.6h-0.6zM422.7 216.7h0.6v0.6h-0.6zM415.9 215.7h0.6v0.6h-0.6zM414.7 215.2h0.6v0.6h-0.6zM417.6 213.7h0.6v0.6h-0.6zM417.3 215.8h0.6v0.6h-0.6zM422.8 215.5h0.6v0.6h-0.6zM424.5 214.5h0.6v0.6h-0.6zM416 214.9h0.6v0.6h-0.6zM424.5 216h0.6v0.6h-0.6zM421.7 214.7h0.6v0.6h-0.6zM419.6 212.9h0.6v0.6h-0.6zM420.8 212h0.6v0.6h-0.6zM416.4 214.6h0.6v0.6h-0.6zM424.3 214.9h0.6v0.6h-0.6zM423.8 218.1h0.6v0.6h-0.6zM417.1 214h0.6v0.6h-0.6zM415.4 217.2h0.6v0.6h-0.6zM414.3 222.7h0.6v0.6h-0.6zM419.1 235h0.6v0.6h-0.6zM414.9 216.2h0.6v0.6h-0.6zM415.2 221.4h0.6v0.6h-0.6zM417.9 211.9h0.6v0.6h-0.6zM426.9 226.4h0.6v0.6h-0.6zM416.7 231.5h0.6v0.6h-0.6zM420.5 237.9h0.6v0.6h-0.6zM416.7 214.6h0.6v0.6h-0.6zM420.2 236.3h0.6v0.6h-0.6zM427 226.2h0.6v0.6h-0.6zM419 213.9h0.6v0.6h-0.6zM428.8 232.7h0.6v0.6h-0.6zM418.8 236.6h0.6v0.6h-0.6zM421.9 241.5h0.6v0.6h-0.6zM414.4 226.5h0.6v0.6h-0.6zM415.4 231.1h0.6v0.6h-0.6zM415.1 219.8h0.6v0.6h-0.6zM420.6 238.4h0.6v0.6h-0.6zM414.4 216.9h0.6v0.6h-0.6zM416 219h0.6v0.6h-0.6zM418 233.6h0.6v0.6h-0.6zM415.2 223.8h0.6v0.6h-0.6zM412.4 224.6h0.6v0.6h-0.6zM413.9 226.6h0.6v0.6h-0.6zM413.6 220.9h0.6v0.6h-0.6zM417.9 233.4h0.6v0.6h-0.6zM414.8 221h0.6v0.6h-0.6zM424.1 215.1h0.6v0.6h-0.6zM415.3 227.7h0.6v0.6h-0.6zM427.4 238h0.6v0.6h-0.6zM413.2 219h0.6v0.6h-0.6zM427.3 222.3h0.6v0.6h-0.6z" fill="#7488d4"/>
<rect x="405.8" y="203.9" width="45.7" height="46.3" fill="none" stroke="#666" stroke-width="0.75"/>
<rect x="407.8" y="249.2" width="37.7" height="0.8" fill="#5a7ac0" opacity="0.8"/>
<rect x="424" y="249.2" width="3" height="0.8" fill="#c06040" opacity="0.7"/>
<rect x="415" y="249.2" width="5" height="0.8" fill="#50a070" opacity="0.7"/>
<rect x="411.1" y="159.4" width="19.6" height="15.2" fill="none" stroke="#444" stroke-width="0.7"/>
<rect x="411.25" y="207.8" width="18.8" height="16" fill="none" stroke="#444" stroke-width="0.7"/>
<text x="433.9" y="171.3" font-size="8.74" text-anchor="start" font-weight="normal" fill="#2a2a2a" stroke="#2a2a2a" stroke-width="0.2" textLength="15.18" lengthAdjust="spacingAndGlyphs">4.27</text>
<text x="432.4" y="219.2" font-size="8.74" text-anchor="start" font-weight="normal" fill="#2a2a2a" stroke="#2a2a2a" stroke-width="0.2" textLength="15.18" lengthAdjust="spacingAndGlyphs">4.80</text>
<path d="M489.6 166.5h0.65v0.65h-0.65zM489.7 166.2h0.65v0.65h-0.65zM488.6 168.1h0.65v0.65h-0.65zM488.4 168.9h0.65v0.65h-0.65zM488.5 168.4h0.65v0.65h-0.65zM487.6 167.1h0.65v0.65h-0.65zM490.5 168.7h0.65v0.65h-0.65zM492.6 167.5h0.65v0.65h-0.65zM489.8 167.6h0.65v0.65h-0.65zM489.9 169.2h0.65v0.65h-0.65zM489.5 169.4h0.65v0.65h-0.65zM489.3 168.4h0.65v0.65h-0.65zM487.8 168.1h0.65v0.65h-0.65zM489.5 170h0.65v0.65h-0.65zM491.2 169.5h0.65v0.65h-0.65zM487.5 168.9h0.65v0.65h-0.65zM489.8 169.6h0.65v0.65h-0.65zM490.8 165.9h0.65v0.65h-0.65zM490.2 166.4h0.65v0.65h-0.65zM489.5 167.2h0.65v0.65h-0.65zM488.3 167.5h0.65v0.65h-0.65zM491.2 167.1h0.65v0.65h-0.65zM488.8 169.3h0.65v0.65h-0.65zM486.8 167.4h0.65v0.65h-0.65zM489.9 170.2h0.65v0.65h-0.65zM492.2 168.1h0.65v0.65h-0.65zM490.3 165.5h0.65v0.65h-0.65zM488.9 168.6h0.65v0.65h-0.65zM487.1 167.1h0.65v0.65h-0.65zM489.2 169h0.65v0.65h-0.65zM488.3 169.3h0.65v0.65h-0.65zM489.5 167.7h0.65v0.65h-0.65zM489.6 167.4h0.65v0.65h-0.65zM489.5 169.3h0.65v0.65h-0.65zM490 168.1h0.65v0.65h-0.65zM491.8 167.5h0.65v0.65h-0.65zM489.3 165.7h0.65v0.65h-0.65zM493.7 165.5h0.65v0.65h-0.65zM497.5 166.8h0.65v0.65h-0.65zM494.9 166.2h0.65v0.65h-0.65zM495.9 168.5h0.65v0.65h-0.65zM496.6 169.2h0.65v0.65h-0.65zM496.6 167.4h0.65v0.65h-0.65zM496.9 167.5h0.65v0.65h-0.65zM496.3 167.1h0.65v0.65h-0.65zM495.5 168h0.65v0.65h-0.65zM496.1 168.4h0.65v0.65h-0.65zM496.1 165.6h0.65v0.65h-0.65zM497.1 167.5h0.65v0.65h-0.65zM494.9 167.8h0.65v0.65h-0.65zM495.6 169.1h0.65v0.65h-0.65zM495.6 167.4h0.65v0.65h-0.65zM495.9 167.5h0.65v0.65h-0.65zM496.8 169.3h0.65v0.65h-0.65zM497 167.6h0.65v0.65h-0.65zM493.8 165.5h0.65v0.65h-0.65zM496.8 167.6h0.65v0.65h-0.65zM497 168.2h0.65v0.65h-0.65zM495.2 167.6h0.65v0.65h-0.65zM494.9 165.8h0.65v0.65h-0.65zM495.3 168.6h0.65v0.65h-0.65zM496.5 166.3h0.65v0.65h-0.65zM494.9 165.2h0.65v0.65h-0.65zM491.5 168.5h0.65v0.65h-0.65zM490.7 168.4h0.65v0.65h-0.65zM488.5 169.6h0.65v0.65h-0.65zM491.3 169.4h0.65v0.65h-0.65zM488.6 169.3h0.65v0.65h-0.65zM490.8 167.2h0.65v0.65h-0.65zM490.8 166.8h0.65v0.65h-0.65z" fill="#4658bc"/>
<path d="M490 172.6h0.65v0.65h-0.65zM486.3 167.9h0.65v0.65h-0.65zM488.4 171.5h0.65v0.65h-0.65zM486.2 168.8h0.65v0.65h-0.65zM489.8 172.9h0.65v0.65h-0.65zM492.9 167.4h0.65v0.65h-0.65zM487.5 171.4h0.65v0.65h-0.65zM486.1 165.5h0.65v0.65h-0.65zM492.5 165.7h0.65v0.65h-0.65zM487.4 172.2h0.65v0.65h-0.65zM491.8 171h0.65v0.65h-0.65zM487.4 171.4h0.65v0.65h-0.65zM486.1 165.4h0.65v0.65h-0.65zM489.9 164.9h0.65v0.65h-0.65zM486.9 166h0.65v0.65h-0.65zM486.3 166.2h0.65v0.65h-0.65zM491.6 165.3h0.65v0.65h-0.65zM492.7 165.5h0.65v0.65h-0.65zM487.6 164.9h0.65v0.65h-0.65zM487.3 166h0.65v0.65h-0.65zM495.1 164.6h0.65v0.65h-0.65zM496.5 164.4h0.65v0.65h-0.65zM495.4 170.1h0.65v0.65h-0.65zM498.4 168.2h0.65v0.65h-0.65zM494.1 164.7h0.65v0.65h-0.65zM497.6 169h0.65v0.65h-0.65zM495.3 163.2h0.65v0.65h-0.65zM494.9 169.3h0.65v0.65h-0.65zM493.5 166.9h0.65v0.65h-0.65zM495 164.4h0.65v0.65h-0.65zM498.3 170.2h0.65v0.65h-0.65zM494.9 164.9h0.65v0.65h-0.65zM497.7 166.6h0.65v0.65h-0.65zM498.7 170.2h0.65v0.65h-0.65zM495.3 164.2h0.65v0.65h-0.65zM489.4 173.9h0.65v0.65h-0.65zM492 171h0.65v0.65h-0.65zM488 172.2h0.65v0.65h-0.65zM487.8 174.3h0.65v0.65h-0.65zM497.9 170.6h0.65v0.65h-0.65zM486.8 173.8h0.65v0.65h-0.65zM492.1 170.4h0.65v0.65h-0.65zM493.1 164.2h0.65v0.65h-0.65zM489.7 172.7h0.65v0.65h-0.65zM487.7 166h0.65v0.65h-0.65zM486.8 171.8h0.65v0.65h-0.65zM485.8 173.9h0.65v0.65h-0.65zM493.1 175.4h0.65v0.65h-0.65zM494 169.5h0.65v0.65h-0.65zM488 175.2h0.65v0.65h-0.65zM494 170.5h0.65v0.65h-0.65zM488.3 175.2h0.65v0.65h-0.65zM487.4 175.8h0.65v0.65h-0.65zM490.5 165.1h0.65v0.65h-0.65zM492.8 176.5h0.65v0.65h-0.65zM492.6 168.4h0.65v0.65h-0.65zM496.3 170.3h0.65v0.65h-0.65zM492.9 175.2h0.65v0.65h-0.65zM496.9 164.5h0.65v0.65h-0.65zM491.4 172h0.65v0.65h-0.65zM486.9 174.7h0.65v0.65h-0.65zM491.7 172h0.65v0.65h-0.65zM486.7 173.2h0.65v0.65h-0.65zM491.5 171.5h0.65v0.65h-0.65zM493.1 175.6h0.65v0.65h-0.65zM485.8 171.8h0.65v0.65h-0.65zM486.5 166.6h0.65v0.65h-0.65zM489.6 171.2h0.65v0.65h-0.65z" fill="#6e7cca"/>
<path d="M484.2 171.9h0.65v0.65h-0.65zM484.2 171.1h0.65v0.65h-0.65zM489.2 163.8h0.65v0.65h-0.65zM502.1 170.8h0.65v0.65h-0.65zM494.3 171.9h0.65v0.65h-0.65zM498 164.1h0.65v0.65h-0.65zM499.8 161.5h0.65v0.65h-0.65zM499.2 168.2h0.65v0.65h-0.65zM498.2 164.3h0.65v0.65h-0.65zM499.4 168.1h0.65v0.65h-0.65zM499.3 170.8h0.65v0.65h-0.65zM495.1 160.4h0.65v0.65h-0.65zM484.6 178.2h0.65v0.65h-0.65zM483.4 168.8h0.65v0.65h-0.65zM489.1 179.6h0.65v0.65h-0.65zM490.5 178.5h0.65v0.65h-0.65zM485.7 176.7h0.65v0.65h-0.65zM492.7 177.3h0.65v0.65h-0.65zM489.3 182.5h0.65v0.65h-0.65zM492.8 181.7h0.65v0.65h-0.65zM495.9 176.5h0.65v0.65h-0.65zM493.7 173.4h0.65v0.65h-0.65zM498.4 181.1h0.65v0.65h-0.65zM482.3 178h0.65v0.65h-0.65zM478.8 172.6h0.65v0.65h-0.65zM494.4 174.9h0.65v0.65h-0.65zM494.5 178.9h0.65v0.65h-0.65zM493.3 178.1h0.65v0.65h-0.65zM495 171.9h0.65v0.65h-0.65zM486.7 183.1h0.65v0.65h-0.65zM497 172.7h0.65v0.65h-0.65zM489.7 176.3h0.65v0.65h-0.65zM495.8 179.1h0.65v0.65h-0.65zM495.6 178.4h0.65v0.65h-0.65zM489.8 183.4h0.65v0.65h-0.65zM489.7 177.8h0.65v0.65h-0.65zM492.6 177.3h0.65v0.65h-0.65zM494 162h0.65v0.65h-0.65zM498.4 180.5h0.65v0.65h-0.65zM488.2 183.4h0.65v0.65h-0.65zM498.1 180h0.65v0.65h-0.65zM486.2 176.5h0.65v0.65h-0.65zM485.7 178.1h0.65v0.65h-0.65zM479 188.7h0.65v0.65h-0.65zM497.1 172h0.65v0.65h-0.65zM484 179.4h0.65v0.65h-0.65zM488.6 163.3h0.65v0.65h-0.65zM482.3 175.1h0.65v0.65h-0.65zM490.2 175.7h0.65v0.65h-0.65zM484.9 175.2h0.65v0.65h-0.65zM483 184.6h0.65v0.65h-0.65zM489.4 182.6h0.65v0.65h-0.65zM476.2 167.4h0.65v0.65h-0.65zM491.5 174.3h0.65v0.65h-0.65zM498.3 175.4h0.65v0.65h-0.65zM483.6 167.4h0.65v0.65h-0.65zM488.5 180.7h0.65v0.65h-0.65zM489.1 179.1h0.65v0.65h-0.65zM484.3 173.8h0.65v0.65h-0.65zM481.6 179.1h0.65v0.65h-0.65zM501.5 171.3h0.65v0.65h-0.65zM483.4 171.4h0.65v0.65h-0.65zM480.1 171.6h0.65v0.65h-0.65zM483.4 174.8h0.65v0.65h-0.65zM481.2 175.9h0.65v0.65h-0.65zM494 173.7h0.65v0.65h-0.65zM486.2 179.7h0.65v0.65h-0.65zM492 174.1h0.65v0.65h-0.65zM466.9 180.5h0.65v0.65h-0.65zM476.3 180.1h0.65v0.65h-0.65zM477.9 165.8h0.65v0.65h-0.65zM476.4 178.2h0.65v0.65h-0.65zM490.6 184.5h0.65v0.65h-0.65zM475.4 171.4h0.65v0.65h-0.65zM483.2 174h0.65v0.65h-0.65zM479.5 180.4h0.65v0.65h-0.65zM469.6 183.8h0.65v0.65h-0.65zM471.2 169.6h0.65v0.65h-0.65zM475.3 177.4h0.65v0.65h-0.65zM489.4 182.6h0.65v0.65h-0.65zM475.2 177.5h0.65v0.65h-0.65zM487.4 184.9h0.65v0.65h-0.65zM483.6 174.3h0.65v0.65h-0.65zM482 183.9h0.65v0.65h-0.65zM476.5 189.2h0.65v0.65h-0.65zM479.3 170.9h0.65v0.65h-0.65zM477 182.4h0.65v0.65h-0.65zM485.5 181.4h0.65v0.65h-0.65zM487.6 177.7h0.65v0.65h-0.65zM485.5 187h0.65v0.65h-0.65zM487.8 177.1h0.65v0.65h-0.65z" fill="#a4acde"/>
<rect x="466.1" y="154.5" width="46.2" height="46" fill="none" stroke="#666" stroke-width="0.75"/>
<line x1="465.1" y1="160.5" x2="466.1" y2="160.5" stroke="#777" stroke-width="0.5"/>
<line x1="470.1" y1="200.5" x2="470.1" y2="201.5" stroke="#777" stroke-width="0.5"/>
<line x1="465.1" y1="167.5" x2="466.1" y2="167.5" stroke="#777" stroke-width="0.5"/>
<line x1="477.6" y1="200.5" x2="477.6" y2="201.5" stroke="#777" stroke-width="0.5"/>
<line x1="465.1" y1="174.5" x2="466.1" y2="174.5" stroke="#777" stroke-width="0.5"/>
<line x1="485.1" y1="200.5" x2="485.1" y2="201.5" stroke="#777" stroke-width="0.5"/>
<line x1="465.1" y1="181.5" x2="466.1" y2="181.5" stroke="#777" stroke-width="0.5"/>
<line x1="492.6" y1="200.5" x2="492.6" y2="201.5" stroke="#777" stroke-width="0.5"/>
<line x1="465.1" y1="188.5" x2="466.1" y2="188.5" stroke="#777" stroke-width="0.5"/>
<line x1="500.1" y1="200.5" x2="500.1" y2="201.5" stroke="#777" stroke-width="0.5"/>
<line x1="465.1" y1="195.5" x2="466.1" y2="195.5" stroke="#777" stroke-width="0.5"/>
<line x1="507.6" y1="200.5" x2="507.6" y2="201.5" stroke="#777" stroke-width="0.5"/>
<path d="M491.1 218h0.65v0.65h-0.65zM486.7 217h0.65v0.65h-0.65zM487 215.4h0.65v0.65h-0.65zM490.3 215.5h0.65v0.65h-0.65zM488.8 215h0.65v0.65h-0.65zM488.2 215.4h0.65v0.65h-0.65zM486.9 221.4h0.65v0.65h-0.65zM490.1 224.1h0.65v0.65h-0.65zM490.8 215.2h0.65v0.65h-0.65zM486.3 217.6h0.65v0.65h-0.65zM487.5 215.7h0.65v0.65h-0.65zM497 219.4h0.65v0.65h-0.65zM500 221.4h0.65v0.65h-0.65zM497.7 217.5h0.65v0.65h-0.65zM496.4 217.7h0.65v0.65h-0.65zM496.4 219h0.65v0.65h-0.65zM498.5 217.8h0.65v0.65h-0.65zM498.2 219.1h0.65v0.65h-0.65zM499.6 221.1h0.65v0.65h-0.65zM500.4 220.1h0.65v0.65h-0.65zM496.5 221.8h0.65v0.65h-0.65zM499.5 219h0.65v0.65h-0.65zM497.1 221.2h0.65v0.65h-0.65zM497.1 222.5h0.65v0.65h-0.65zM498.6 216.9h0.65v0.65h-0.65zM497.2 219.1h0.65v0.65h-0.65zM500.4 220.9h0.65v0.65h-0.65zM499.4 217.7h0.65v0.65h-0.65zM496.8 221.5h0.65v0.65h-0.65zM496.3 220.3h0.65v0.65h-0.65zM498.3 221.3h0.65v0.65h-0.65zM496.8 219.6h0.65v0.65h-0.65zM496.7 218h0.65v0.65h-0.65zM499.1 221.8h0.65v0.65h-0.65zM490 230h0.65v0.65h-0.65zM490.1 230.1h0.65v0.65h-0.65zM490.5 216.1h0.65v0.65h-0.65zM489.9 224.6h0.65v0.65h-0.65zM487.1 223h0.65v0.65h-0.65zM492.7 221.3h0.65v0.65h-0.65zM489.7 226.3h0.65v0.65h-0.65zM491.7 222.3h0.65v0.65h-0.65zM488.7 226h0.65v0.65h-0.65zM492.4 221.7h0.65v0.65h-0.65zM496 223.9h0.65v0.65h-0.65zM486.9 223.9h0.65v0.65h-0.65zM489.4 225.4h0.65v0.65h-0.65zM489.9 227.4h0.65v0.65h-0.65zM491.4 218.4h0.65v0.65h-0.65zM491.7 226h0.65v0.65h-0.65zM491.9 223.6h0.65v0.65h-0.65zM498.2 222.7h0.65v0.65h-0.65zM490.3 225.6h0.65v0.65h-0.65zM492 224.9h0.65v0.65h-0.65zM488.6 226.1h0.65v0.65h-0.65zM490.4 226.7h0.65v0.65h-0.65zM486.6 220.9h0.65v0.65h-0.65zM490.3 225.4h0.65v0.65h-0.65zM489.7 227.5h0.65v0.65h-0.65zM491.2 223.9h0.65v0.65h-0.65zM492 223.3h0.65v0.65h-0.65zM487.5 222.1h0.65v0.65h-0.65zM490.5 230.5h0.65v0.65h-0.65zM490 230.9h0.65v0.65h-0.65z" fill="#6e7cca"/>
<path d="M486.3 227.3h0.65v0.65h-0.65zM488.6 212.4h0.65v0.65h-0.65zM486 226.2h0.65v0.65h-0.65zM490.3 213.5h0.65v0.65h-0.65zM486 215.9h0.65v0.65h-0.65zM484.9 226.1h0.65v0.65h-0.65zM501.2 219.2h0.65v0.65h-0.65zM501 222.9h0.65v0.65h-0.65zM500.5 223.1h0.65v0.65h-0.65zM497 224h0.65v0.65h-0.65zM498.9 223.1h0.65v0.65h-0.65zM501.5 216.7h0.65v0.65h-0.65zM498.3 216.2h0.65v0.65h-0.65zM497.9 216.3h0.65v0.65h-0.65zM495.4 219.3h0.65v0.65h-0.65zM480.6 222.9h0.65v0.65h-0.65zM495 216.2h0.65v0.65h-0.65zM485 220.6h0.65v0.65h-0.65zM485.4 234.4h0.65v0.65h-0.65zM480.7 217.4h0.65v0.65h-0.65zM483.6 221.2h0.65v0.65h-0.65zM494.5 226.4h0.65v0.65h-0.65zM493.4 227.3h0.65v0.65h-0.65zM487 224.7h0.65v0.65h-0.65zM491.1 214.6h0.65v0.65h-0.65zM483.7 214.4h0.65v0.65h-0.65zM496 224.8h0.65v0.65h-0.65zM486.6 232.8h0.65v0.65h-0.65zM477.7 217.8h0.65v0.65h-0.65zM493.7 229.2h0.65v0.65h-0.65zM494 228.2h0.65v0.65h-0.65zM495.4 224.5h0.65v0.65h-0.65zM490.9 232.4h0.65v0.65h-0.65zM485 223.6h0.65v0.65h-0.65zM486.5 228.3h0.65v0.65h-0.65zM492.5 228.2h0.65v0.65h-0.65zM486 234.5h0.65v0.65h-0.65zM488 232.1h0.65v0.65h-0.65zM497.8 231.5h0.65v0.65h-0.65zM485 223.6h0.65v0.65h-0.65zM495.7 232.6h0.65v0.65h-0.65zM480.1 217h0.65v0.65h-0.65zM493 218h0.65v0.65h-0.65zM481.8 224.7h0.65v0.65h-0.65zM484.4 228.2h0.65v0.65h-0.65zM489.6 228.7h0.65v0.65h-0.65zM481.2 223.8h0.65v0.65h-0.65zM483.9 224.7h0.65v0.65h-0.65zM496.7 228.7h0.65v0.65h-0.65zM484.9 211.7h0.65v0.65h-0.65zM487.8 230.3h0.65v0.65h-0.65zM492.4 232.9h0.65v0.65h-0.65zM493.9 228.9h0.65v0.65h-0.65zM489.7 233.3h0.65v0.65h-0.65zM479.7 221h0.65v0.65h-0.65zM484.8 220.6h0.65v0.65h-0.65zM495.2 223.4h0.65v0.65h-0.65zM493.4 222.1h0.65v0.65h-0.65zM471.1 228.2h0.65v0.65h-0.65zM468.9 226.2h0.65v0.65h-0.65zM476.2 226.6h0.65v0.65h-0.65zM480.8 225.1h0.65v0.65h-0.65zM488.2 230.1h0.65v0.65h-0.65zM481.5 228.2h0.65v0.65h-0.65zM486.4 209.9h0.65v0.65h-0.65zM494.6 229.9h0.65v0.65h-0.65zM505.8 228.8h0.65v0.65h-0.65zM478.5 229.3h0.65v0.65h-0.65zM485.2 229h0.65v0.65h-0.65zM491.8 232.8h0.65v0.65h-0.65zM476.1 218.2h0.65v0.65h-0.65zM477.3 223.3h0.65v0.65h-0.65zM487 232.9h0.65v0.65h-0.65zM499.6 229.1h0.65v0.65h-0.65zM482.6 223.4h0.65v0.65h-0.65zM481.8 229.2h0.65v0.65h-0.65zM480.3 230.1h0.65v0.65h-0.65zM476.2 228h0.65v0.65h-0.65zM476.2 222.4h0.65v0.65h-0.65zM481.3 226.5h0.65v0.65h-0.65zM485.8 224.7h0.65v0.65h-0.65zM479.8 220.1h0.65v0.65h-0.65zM500.9 208.9h0.65v0.65h-0.65zM501.4 214.5h0.65v0.65h-0.65zM500.1 209.2h0.65v0.65h-0.65zM503.9 208.9h0.65v0.65h-0.65zM504.5 213.6h0.65v0.65h-0.65zM504.8 209.9h0.65v0.65h-0.65zM501.5 214.1h0.65v0.65h-0.65zM501.5 212.7h0.65v0.65h-0.65zM503.5 212.7h0.65v0.65h-0.65zM502.1 211.3h0.65v0.65h-0.65zM502.4 209.2h0.65v0.65h-0.65zM502.4 209.7h0.65v0.65h-0.65z" fill="#a4acde"/>
<path d="M490.3 220.7h0.65v0.65h-0.65zM489.2 219.9h0.65v0.65h-0.65zM490.9 218.3h0.65v0.65h-0.65zM487.3 221.4h0.65v0.65h-0.65zM487.8 216.4h0.65v0.65h-0.65zM488.4 218.8h0.65v0.65h-0.65zM488.7 219.1h0.65v0.65h-0.65zM488.3 220.7h0.65v0.65h-0.65zM489.8 218.4h0.65v0.65h-0.65zM490.7 220.1h0.65v0.65h-0.65zM490.6 224.1h0.65v0.65h-0.65zM489.4 219.5h0.65v0.65h-0.65zM488.4 220.3h0.65v0.65h-0.65zM489.1 221.5h0.65v0.65h-0.65zM488.9 215.8h0.65v0.65h-0.65zM491.6 220.9h0.65v0.65h-0.65zM489.3 219.9h0.65v0.65h-0.65zM490.2 218.3h0.65v0.65h-0.65zM491.1 219.2h0.65v0.65h-0.65zM487.9 217h0.65v0.65h-0.65zM488.6 217.9h0.65v0.65h-0.65zM489.2 219.2h0.65v0.65h-0.65zM487.2 218.4h0.65v0.65h-0.65zM490.4 220.9h0.65v0.65h-0.65zM489.8 221.7h0.65v0.65h-0.65zM487.2 217.3h0.65v0.65h-0.65zM488 220.9h0.65v0.65h-0.65zM489.2 218.9h0.65v0.65h-0.65zM489.6 217.7h0.65v0.65h-0.65zM487.9 219.5h0.65v0.65h-0.65zM487.1 221h0.65v0.65h-0.65zM488.7 216.2h0.65v0.65h-0.65zM490.6 221.3h0.65v0.65h-0.65zM490.6 217.1h0.65v0.65h-0.65zM488.7 216.1h0.65v0.65h-0.65zM490.7 218.4h0.65v0.65h-0.65zM488.7 217.5h0.65v0.65h-0.65zM487.2 216.5h0.65v0.65h-0.65zM490 223.1h0.65v0.65h-0.65zM489.9 221.9h0.65v0.65h-0.65zM486.7 220.6h0.65v0.65h-0.65zM487.4 219h0.65v0.65h-0.65zM490.8 221.3h0.65v0.65h-0.65zM498.1 220.4h0.65v0.65h-0.65zM497.3 220.6h0.65v0.65h-0.65zM497.8 220.2h0.65v0.65h-0.65zM489.7 217.4h0.65v0.65h-0.65zM487.5 218.7h0.65v0.65h-0.65zM490.2 223.8h0.65v0.65h-0.65zM490.3 220.7h0.65v0.65h-0.65zM486.8 219.2h0.65v0.65h-0.65zM490.6 223.6h0.65v0.65h-0.65zM488.9 219.1h0.65v0.65h-0.65zM490.2 222.8h0.65v0.65h-0.65zM491.5 221.5h0.65v0.65h-0.65zM488.4 215.7h0.65v0.65h-0.65zM488.3 219.9h0.65v0.65h-0.65zM490.1 220.5h0.65v0.65h-0.65zM489.3 220.3h0.65v0.65h-0.65z" fill="#4658bc"/>
<rect x="466.1" y="203.9" width="46.2" height="46.3" fill="none" stroke="#666" stroke-width="0.75"/>
<line x1="465.1" y1="209.9" x2="466.1" y2="209.9" stroke="#777" stroke-width="0.5"/>
<line x1="470.1" y1="250.2" x2="470.1" y2="251.2" stroke="#777" stroke-width="0.5"/>
<line x1="465.1" y1="216.9" x2="466.1" y2="216.9" stroke="#777" stroke-width="0.5"/>
<line x1="477.6" y1="250.2" x2="477.6" y2="251.2" stroke="#777" stroke-width="0.5"/>
<line x1="465.1" y1="223.9" x2="466.1" y2="223.9" stroke="#777" stroke-width="0.5"/>
<line x1="485.1" y1="250.2" x2="485.1" y2="251.2" stroke="#777" stroke-width="0.5"/>
<line x1="465.1" y1="230.9" x2="466.1" y2="230.9" stroke="#777" stroke-width="0.5"/>
<line x1="492.6" y1="250.2" x2="492.6" y2="251.2" stroke="#777" stroke-width="0.5"/>
<line x1="465.1" y1="237.9" x2="466.1" y2="237.9" stroke="#777" stroke-width="0.5"/>
<line x1="500.1" y1="250.2" x2="500.1" y2="251.2" stroke="#777" stroke-width="0.5"/>
<line x1="465.1" y1="244.9" x2="466.1" y2="244.9" stroke="#777" stroke-width="0.5"/>
<line x1="507.6" y1="250.2" x2="507.6" y2="251.2" stroke="#777" stroke-width="0.5"/>
<rect x="486.2" y="162.3" width="16.8" height="14.3" fill="none" stroke="#444" stroke-width="0.7"/>
<rect x="486.25" y="211.25" width="17.5" height="14.25" fill="none" stroke="#444" stroke-width="0.7"/>
<text x="487.4" y="193" font-size="8.74" text-anchor="start" font-weight="normal" fill="#2a2a2a" stroke="#2a2a2a" stroke-width="0.2" textLength="15.18" lengthAdjust="spacingAndGlyphs">60.8</text>
<text x="485.4" y="239.8" font-size="8.74" text-anchor="start" font-weight="normal" fill="#2a2a2a" stroke="#2a2a2a" stroke-width="0.2" textLength="15.18" lengthAdjust="spacingAndGlyphs">49.2</text>
<line x1="340.2" y1="253.8" x2="340.2" y2="223.6" stroke="#111" stroke-width="1.1"/>
<line x1="339.7" y1="253.3" x2="373" y2="253.3" stroke="#111" stroke-width="1.1"/>
<path d="M340.2 220.6 l-2 4.5h4z" fill="#111"/>
<path d="M376 253.3 l-4.5 -2v4z" fill="#111"/>
<line x1="400.6" y1="254.3" x2="400.6" y2="228" stroke="#111" stroke-width="1.1"/>
<line x1="400.1" y1="253.8" x2="427" y2="253.8" stroke="#111" stroke-width="1.1"/>
<path d="M400.6 225 l-2 4.5h4z" fill="#111"/>
<path d="M430 253.8 l-4.5 -2v4z" fill="#111"/>
<line x1="462.6" y1="254.3" x2="462.6" y2="224.2" stroke="#111" stroke-width="1.1"/>
<line x1="462.1" y1="253.8" x2="487" y2="253.8" stroke="#111" stroke-width="1.1"/>
<path d="M462.6 221.2 l-2 4.5h4z" fill="#111"/>
<path d="M490 253.8 l-4.5 -2v4z" fill="#111"/>
<text x="364" y="263" font-size="8.4" text-anchor="middle" font-weight="normal" fill="#2a2a2a" stroke="#2a2a2a" stroke-width="0.2" textLength="38.34" lengthAdjust="spacingAndGlyphs">Lin-PE-Cy5</text>
<text x="425" y="263" font-size="8.4" text-anchor="middle" font-weight="normal" fill="#2a2a2a" stroke="#2a2a2a" stroke-width="0.2" textLength="29.6" lengthAdjust="spacingAndGlyphs">Sca1-PE</text>
<text x="486.7" y="263" font-size="8.4" text-anchor="middle" font-weight="normal" fill="#2a2a2a" stroke="#2a2a2a" stroke-width="0.2" textLength="37.09" lengthAdjust="spacingAndGlyphs">CD34-APC</text>
<text x="336.2" y="243.2" font-size="8.6" text-anchor="middle" font-weight="normal" fill="#2a2a2a" stroke="#2a2a2a" stroke-width="0.2" transform="rotate(-90 336.2 243.2)" textLength="12.8" lengthAdjust="spacingAndGlyphs">SSC</text>
<text x="398.2" y="230.3" font-size="8.2" text-anchor="middle" font-weight="normal" fill="#2a2a2a" stroke="#2a2a2a" stroke-width="0.2" transform="rotate(-90 398.2 230.3)" textLength="37" lengthAdjust="spacingAndGlyphs">cKit-APC-Cy7</text>
<text x="459.8" y="225.6" font-size="8.2" text-anchor="middle" font-weight="normal" fill="#2a2a2a" stroke="#2a2a2a" stroke-width="0.2" transform="rotate(-90 459.8 225.6)" textLength="47.5" lengthAdjust="spacingAndGlyphs">CD16/32-PE-Cy7</text>
<text x="326" y="174.4" font-size="9" text-anchor="middle" font-weight="normal" fill="#2a2a2a" stroke="#2a2a2a" stroke-width="0.2" transform="rotate(-90 326 174.4)" textLength="29.5" lengthAdjust="spacingAndGlyphs">MA9  WT</text>
<text x="326.8" y="233.6" font-size="9" text-anchor="middle" font-weight="normal" fill="#2a2a2a" stroke="#2a2a2a" stroke-width="0.2" transform="rotate(-90 326.8 233.6)" textLength="53" lengthAdjust="spacingAndGlyphs">MA9 Ythdc1 HET</text>
<text x="9.1" y="299.2" font-size="12" text-anchor="start" font-weight="bold" fill="#000" stroke="#000" stroke-width="0.35">I</text>
<line x1="37.5" y1="305.8" x2="37.5" y2="384.1" stroke="#2e2e2e" stroke-width="1"/>
<line x1="34.5" y1="308.5" x2="37.5" y2="308.5" stroke="#2e2e2e" stroke-width="1"/>
<text x="32.3" y="311.3" font-size="8.51" text-anchor="end" font-weight="normal" fill="#333" stroke="#333" stroke-width="0.2" textLength="10.56" lengthAdjust="spacingAndGlyphs">0.8</text>
<line x1="34.5" y1="327.5" x2="37.5" y2="327.5" stroke="#2e2e2e" stroke-width="1"/>
<text x="32.3" y="330.2" font-size="8.51" text-anchor="end" font-weight="normal" fill="#333" stroke="#333" stroke-width="0.2" textLength="10.56" lengthAdjust="spacingAndGlyphs">0.6</text>
<line x1="34.5" y1="346.5" x2="37.5" y2="346.5" stroke="#2e2e2e" stroke-width="1"/>
<text x="32.3" y="349.1" font-size="8.51" text-anchor="end" font-weight="normal" fill="#333" stroke="#333" stroke-width="0.2" textLength="10.56" lengthAdjust="spacingAndGlyphs">0.4</text>
<line x1="34.5" y1="365.5" x2="37.5" y2="365.5" stroke="#2e2e2e" stroke-width="1"/>
<text x="32.3" y="367.7" font-size="8.51" text-anchor="end" font-weight="normal" fill="#333" stroke="#333" stroke-width="0.2" textLength="10.56" lengthAdjust="spacingAndGlyphs">0.2</text>
<line x1="34.5" y1="383.5" x2="37.5" y2="383.5" stroke="#2e2e2e" stroke-width="1"/>
<text x="32.3" y="386.3" font-size="8.51" text-anchor="end" font-weight="normal" fill="#333" stroke="#333" stroke-width="0.2" textLength="10.56" lengthAdjust="spacingAndGlyphs">0.0</text>
<line x1="37" y1="383.5" x2="83.3" y2="383.5" stroke="#2e2e2e" stroke-width="1"/>
<line x1="50.4" y1="383.6" x2="50.4" y2="386.1" stroke="#333" stroke-width="1"/>
<line x1="69.8" y1="383.6" x2="69.8" y2="386.1" stroke="#333" stroke-width="1"/>
<line x1="44.85" y1="333.4" x2="56.35" y2="333.4" stroke="#c62235" stroke-width="0.8"/>
<line x1="50.6" y1="330.3" x2="50.6" y2="336.3" stroke="#c62235" stroke-width="0.8"/>
<line x1="48.1" y1="330.3" x2="53.1" y2="330.3" stroke="#c62235" stroke-width="0.8"/>
<line x1="48.1" y1="336.3" x2="53.1" y2="336.3" stroke="#c62235" stroke-width="0.8"/>
<circle cx="49.2" cy="330.1" r="1.3" fill="#c62235"/>
<circle cx="51.8" cy="331.4" r="1.3" fill="#c62235"/>
<circle cx="46.1" cy="333.9" r="1.3" fill="#c62235"/>
<circle cx="54.3" cy="334.4" r="1.3" fill="#c62235"/>
<circle cx="50.4" cy="336.5" r="1.3" fill="#c62235"/>
<circle cx="52.8" cy="336.5" r="1.3" fill="#c62235"/>
<line x1="64.05" y1="354.1" x2="76.55" y2="354.1" stroke="#105386" stroke-width="0.8"/>
<line x1="70.3" y1="349" x2="70.3" y2="359.5" stroke="#105386" stroke-width="0.8"/>
<line x1="67.8" y1="349" x2="72.8" y2="349" stroke="#105386" stroke-width="0.8"/>
<line x1="67.8" y1="359.5" x2="72.8" y2="359.5" stroke="#105386" stroke-width="0.8"/>
<circle cx="68.5" cy="349" r="1.3" fill="#105386"/>
<circle cx="71.2" cy="350" r="1.3" fill="#105386"/>
<circle cx="67.8" cy="357.3" r="1.3" fill="#105386"/>
<circle cx="73.7" cy="357.8" r="1.3" fill="#105386"/>
<circle cx="69.8" cy="359.3" r="1.3" fill="#105386"/>
<circle cx="72.4" cy="359.8" r="1.3" fill="#105386"/>
<text x="70.3" y="342.3" font-size="7.39" text-anchor="middle" font-weight="normal" fill="#444" stroke="#444" stroke-width="0.2" textLength="7.71" lengthAdjust="spacingAndGlyphs">***</text>
<text x="16.4" y="345.6" font-size="8.6" text-anchor="middle" font-weight="normal" fill="#2a2a2a" stroke="#2a2a2a" stroke-width="0.2" transform="rotate(-90 16.4 345.6)" textLength="52" lengthAdjust="spacingAndGlyphs">%LGMP in YFP+</text>
<text x="53.1" y="392.4" font-size="8.96" text-anchor="end" font-weight="normal" fill="#2a2a2a" stroke="#2a2a2a" stroke-width="0.2" transform="rotate(-45 53.1 392.4)" textLength="31.55" lengthAdjust="spacingAndGlyphs">MA9-WT</text>
<text x="73.3" y="392.4" font-size="8.96" text-anchor="end" font-weight="normal" fill="#2a2a2a" stroke="#2a2a2a" stroke-width="0.2" transform="rotate(-45 73.3 392.4)" textLength="35.11" lengthAdjust="spacingAndGlyphs">MA9-HET</text>
<text x="113.1" y="299.2" font-size="12" text-anchor="start" font-weight="bold" fill="#000" stroke="#000" stroke-width="0.35">J</text>
<line x1="134.5" y1="305.8" x2="134.5" y2="384.5" stroke="#2e2e2e" stroke-width="1"/>
<line x1="131.5" y1="309.5" x2="134.5" y2="309.5" stroke="#2e2e2e" stroke-width="1"/>
<text x="129.7" y="311.8" font-size="8.51" text-anchor="end" font-weight="normal" fill="#333" stroke="#333" stroke-width="0.2" textLength="4.23" lengthAdjust="spacingAndGlyphs">6</text>
<line x1="131.5" y1="334.5" x2="134.5" y2="334.5" stroke="#2e2e2e" stroke-width="1"/>
<text x="129.7" y="337" font-size="8.51" text-anchor="end" font-weight="normal" fill="#333" stroke="#333" stroke-width="0.2" textLength="4.23" lengthAdjust="spacingAndGlyphs">4</text>
<line x1="131.5" y1="359.5" x2="134.5" y2="359.5" stroke="#2e2e2e" stroke-width="1"/>
<text x="129.7" y="362" font-size="8.51" text-anchor="end" font-weight="normal" fill="#333" stroke="#333" stroke-width="0.2" textLength="4.23" lengthAdjust="spacingAndGlyphs">2</text>
<line x1="131.5" y1="384.5" x2="134.5" y2="384.5" stroke="#2e2e2e" stroke-width="1"/>
<text x="129.7" y="386.7" font-size="8.51" text-anchor="end" font-weight="normal" fill="#333" stroke="#333" stroke-width="0.2" textLength="4.23" lengthAdjust="spacingAndGlyphs">0</text>
<line x1="134" y1="384.5" x2="182" y2="384.5" stroke="#2e2e2e" stroke-width="1"/>
<line x1="147.9" y1="384" x2="147.9" y2="386.5" stroke="#333" stroke-width="1"/>
<line x1="168.1" y1="384" x2="168.1" y2="386.5" stroke="#333" stroke-width="1"/>
<line x1="141" y1="318.5" x2="155" y2="318.5" stroke="#c62235" stroke-width="0.7"/>
<circle cx="142.3" cy="318.5" r="1.15" fill="#c62235"/>
<circle cx="145.5" cy="318.5" r="1.15" fill="#c62235"/>
<circle cx="148.8" cy="318.5" r="1.15" fill="#c62235"/>
<circle cx="152.3" cy="318.5" r="1.15" fill="#c62235"/>
<line x1="161" y1="325.5" x2="175" y2="326.5" stroke="#105386" stroke-width="0.7"/>
<circle cx="162.3" cy="324.6" r="1.25" fill="#105386"/>
<circle cx="165.5" cy="325.4" r="1.25" fill="#105386"/>
<circle cx="168.4" cy="325.4" r="1.25" fill="#105386"/>
<circle cx="171.2" cy="326.4" r="1.25" fill="#105386"/>
<circle cx="173.8" cy="327" r="1.25" fill="#105386"/>
<text x="168.1" y="316.6" font-size="7.39" text-anchor="middle" font-weight="normal" fill="#444" stroke="#444" stroke-width="0.2" textLength="7.71" lengthAdjust="spacingAndGlyphs">***</text>
<text x="121.6" y="343.4" font-size="8.6" text-anchor="middle" font-weight="normal" fill="#2a2a2a" stroke="#2a2a2a" stroke-width="0.2" transform="rotate(-90 121.6 343.4)" textLength="69" lengthAdjust="spacingAndGlyphs">%cKit+Gr1 - in YFP+</text>
<text x="150.7" y="392.6" font-size="8.96" text-anchor="end" font-weight="normal" fill="#2a2a2a" stroke="#2a2a2a" stroke-width="0.2" transform="rotate(-45 150.7 392.6)" textLength="31.55" lengthAdjust="spacingAndGlyphs">MA9-WT</text>
<text x="170.9" y="392.6" font-size="8.96" text-anchor="end" font-weight="normal" fill="#2a2a2a" stroke="#2a2a2a" stroke-width="0.2" transform="rotate(-45 170.9 392.6)" textLength="35.11" lengthAdjust="spacingAndGlyphs">MA9-HET</text>
<text x="197" y="299.2" font-size="12" text-anchor="start" font-weight="bold" fill="#000" stroke="#000" stroke-width="0.35">K</text>
<line x1="222.5" y1="305.6" x2="222.5" y2="384.9" stroke="#2e2e2e" stroke-width="1"/>
<line x1="219.5" y1="312.5" x2="222.5" y2="312.5" stroke="#2e2e2e" stroke-width="1"/>
<text x="217.6" y="315" font-size="8.51" text-anchor="end" font-weight="normal" fill="#333" stroke="#333" stroke-width="0.2" textLength="12.68" lengthAdjust="spacingAndGlyphs">100</text>
<line x1="219.5" y1="348.5" x2="222.5" y2="348.5" stroke="#2e2e2e" stroke-width="1"/>
<text x="217.6" y="351" font-size="8.51" text-anchor="end" font-weight="normal" fill="#333" stroke="#333" stroke-width="0.2" textLength="8.45" lengthAdjust="spacingAndGlyphs">50</text>
<line x1="219.5" y1="384.5" x2="222.5" y2="384.5" stroke="#2e2e2e" stroke-width="1"/>
<text x="217.6" y="387.1" font-size="8.51" text-anchor="end" font-weight="normal" fill="#333" stroke="#333" stroke-width="0.2" textLength="4.23" lengthAdjust="spacingAndGlyphs">0</text>
<line x1="222" y1="384.5" x2="315.6" y2="384.5" stroke="#2e2e2e" stroke-width="1"/>
<line x1="222.8" y1="384.4" x2="222.8" y2="386.9" stroke="#333" stroke-width="1"/>
<line x1="246" y1="384.4" x2="246" y2="386.9" stroke="#333" stroke-width="1"/>
<line x1="269" y1="384.4" x2="269" y2="386.9" stroke="#333" stroke-width="1"/>
<line x1="292.2" y1="384.4" x2="292.2" y2="386.9" stroke="#333" stroke-width="1"/>
<line x1="315.2" y1="384.4" x2="315.2" y2="386.9" stroke="#333" stroke-width="1"/>
<text x="222.8" y="395.3" font-size="8.51" text-anchor="middle" font-weight="normal" fill="#333" stroke="#333" stroke-width="0.2" textLength="4.23" lengthAdjust="spacingAndGlyphs">0</text>
<text x="246" y="395.3" font-size="8.51" text-anchor="middle" font-weight="normal" fill="#333" stroke="#333" stroke-width="0.2" textLength="8.45" lengthAdjust="spacingAndGlyphs">20</text>
<text x="269" y="395.3" font-size="8.51" text-anchor="middle" font-weight="normal" fill="#333" stroke="#333" stroke-width="0.2" textLength="8.45" lengthAdjust="spacingAndGlyphs">40</text>
<text x="292.2" y="395.3" font-size="8.51" text-anchor="middle" font-weight="normal" fill="#333" stroke="#333" stroke-width="0.2" textLength="8.45" lengthAdjust="spacingAndGlyphs">60</text>
<text x="315.2" y="395.3" font-size="8.51" text-anchor="middle" font-weight="normal" fill="#333" stroke="#333" stroke-width="0.2" textLength="8.45" lengthAdjust="spacingAndGlyphs">80</text>
<text x="269.2" y="407.5" font-size="8.4" text-anchor="middle" font-weight="normal" fill="#2a2a2a" stroke="#2a2a2a" stroke-width="0.2" textLength="17.09" lengthAdjust="spacingAndGlyphs">Days</text>
<text x="204.6" y="346" font-size="8.6" text-anchor="middle" font-weight="normal" fill="#2a2a2a" stroke="#2a2a2a" stroke-width="0.2" transform="rotate(-90 204.6 346)" textLength="51.7" lengthAdjust="spacingAndGlyphs">Percent survival</text>
<polyline points="265.4,312.3 277.1,312.3 277.1,319.5 284.9,319.5 284.9,326.5 288.1,326.5 288.1,333.5 293.4,333.5 293.4,362.5 304.4,362.5 304.4,384.4" fill="none" stroke="#c62235" stroke-width="1.1"/>
<polyline points="222.8,312.3 265.4,312.3 265.4,321.2 271.2,321.2 271.2,330.1 276.5,330.1 276.5,339.2 278.6,339.2 278.6,347.7 281.1,347.7 281.1,356.8 282.4,356.8 282.4,374.6 284.5,374.6 284.5,384.4" fill="none" stroke="#105386" stroke-width="1.1"/>
<text x="299.8" y="354.8" font-size="7.39" text-anchor="middle" font-weight="normal" fill="#444" stroke="#444" stroke-width="0.2" textLength="5.14" lengthAdjust="spacingAndGlyphs">**</text>
<line x1="291" y1="310.2" x2="297" y2="310.2" stroke="#105386" stroke-width="1"/>
<line x1="294" y1="309" x2="294" y2="310.2" stroke="#105386" stroke-width="0.6"/>
<line x1="291" y1="320.6" x2="297" y2="320.6" stroke="#c62235" stroke-width="1"/>
<line x1="294" y1="319.4" x2="294" y2="320.6" stroke="#c62235" stroke-width="0.6"/>
<text x="299.9" y="312.7" font-size="8.29" text-anchor="start" font-weight="normal" fill="#2a2a2a" stroke="#2a2a2a" stroke-width="0.2" textLength="29.18" lengthAdjust="spacingAndGlyphs">MA9-WT</text>
<text x="299.9" y="323.1" font-size="8.29" text-anchor="start" font-weight="normal" fill="#2a2a2a" stroke="#2a2a2a" stroke-width="0.2" textLength="32.48" lengthAdjust="spacingAndGlyphs">MA9-HET</text>
<text x="341.6" y="299.2" font-size="12" text-anchor="start" font-weight="bold" fill="#000" stroke="#000" stroke-width="0.35">L</text>
<line x1="368.5" y1="305.6" x2="368.5" y2="384" stroke="#2e2e2e" stroke-width="1"/>
<line x1="365.5" y1="310.5" x2="368.5" y2="310.5" stroke="#2e2e2e" stroke-width="1"/>
<text x="363.6" y="312.9" font-size="8.51" text-anchor="end" font-weight="normal" fill="#333" stroke="#333" stroke-width="0.2" textLength="10.56" lengthAdjust="spacingAndGlyphs">1.5</text>
<line x1="365.5" y1="334.5" x2="368.5" y2="334.5" stroke="#2e2e2e" stroke-width="1"/>
<text x="363.6" y="337.2" font-size="8.51" text-anchor="end" font-weight="normal" fill="#333" stroke="#333" stroke-width="0.2" textLength="10.56" lengthAdjust="spacingAndGlyphs">1.0</text>
<line x1="365.5" y1="359.5" x2="368.5" y2="359.5" stroke="#2e2e2e" stroke-width="1"/>
<text x="363.6" y="361.8" font-size="8.51" text-anchor="end" font-weight="normal" fill="#333" stroke="#333" stroke-width="0.2" textLength="10.56" lengthAdjust="spacingAndGlyphs">0.5</text>
<line x1="365.5" y1="383.5" x2="368.5" y2="383.5" stroke="#2e2e2e" stroke-width="1"/>
<text x="363.6" y="386.2" font-size="8.51" text-anchor="end" font-weight="normal" fill="#333" stroke="#333" stroke-width="0.2" textLength="10.56" lengthAdjust="spacingAndGlyphs">0.0</text>
<line x1="368" y1="383.5" x2="414" y2="383.5" stroke="#2e2e2e" stroke-width="1"/>
<line x1="381.5" y1="383.5" x2="381.5" y2="386" stroke="#333" stroke-width="1"/>
<line x1="401.3" y1="383.5" x2="401.3" y2="386" stroke="#333" stroke-width="1"/>
<line x1="374.95" y1="322.5" x2="388.25" y2="322.5" stroke="#c62235" stroke-width="0.8"/>
<line x1="381.6" y1="317.1" x2="381.6" y2="327.7" stroke="#c62235" stroke-width="0.8"/>
<line x1="378.45" y1="317.1" x2="384.75" y2="317.1" stroke="#c62235" stroke-width="0.8"/>
<line x1="378.45" y1="327.7" x2="384.75" y2="327.7" stroke="#c62235" stroke-width="0.8"/>
<circle cx="380.5" cy="317" r="1.3" fill="#c62235"/>
<circle cx="383" cy="319.8" r="1.3" fill="#c62235"/>
<circle cx="381.7" cy="323" r="1.3" fill="#c62235"/>
<circle cx="381.7" cy="329.4" r="1.3" fill="#c62235"/>
<circle cx="380.8" cy="327.7" r="1.3" fill="#c62235"/>
<line x1="395.15" y1="333.7" x2="407.85" y2="333.7" stroke="#105386" stroke-width="0.8"/>
<line x1="401.5" y1="330.9" x2="401.5" y2="336.7" stroke="#105386" stroke-width="0.8"/>
<line x1="398.5" y1="330.9" x2="404.5" y2="330.9" stroke="#105386" stroke-width="0.8"/>
<line x1="398.5" y1="336.7" x2="404.5" y2="336.7" stroke="#105386" stroke-width="0.8"/>
<circle cx="396.3" cy="331.7" r="1.3" fill="#105386"/>
<circle cx="398.7" cy="331.2" r="1.3" fill="#105386"/>
<circle cx="403.3" cy="331.2" r="1.3" fill="#105386"/>
<circle cx="406.2" cy="332.9" r="1.3" fill="#105386"/>
<circle cx="401" cy="338" r="1.3" fill="#105386"/>
<text x="401" y="322.3" font-size="7.39" text-anchor="middle" font-weight="normal" fill="#444" stroke="#444" stroke-width="0.2" textLength="2.57" lengthAdjust="spacingAndGlyphs">*</text>
<text x="346.4" y="345.2" font-size="8.6" text-anchor="middle" font-weight="normal" fill="#2a2a2a" stroke="#2a2a2a" stroke-width="0.2" transform="rotate(-90 346.4 345.2)" textLength="26.6" lengthAdjust="spacingAndGlyphs">% LGMP</text>
<text x="384.3" y="392.1" font-size="8.96" text-anchor="end" font-weight="normal" fill="#2a2a2a" stroke="#2a2a2a" stroke-width="0.2" transform="rotate(-45 384.3 392.1)" textLength="28.6" lengthAdjust="spacingAndGlyphs">No TAM</text>
<text x="404.1" y="392.1" font-size="8.96" text-anchor="end" font-weight="normal" fill="#2a2a2a" stroke="#2a2a2a" stroke-width="0.2" transform="rotate(-45 404.1 392.1)" textLength="32.6" lengthAdjust="spacingAndGlyphs">Add TAM</text>
<text x="435" y="299.2" font-size="12" text-anchor="start" font-weight="bold" fill="#000" stroke="#000" stroke-width="0.35">M</text>
<line x1="460.5" y1="305.6" x2="460.5" y2="384" stroke="#2e2e2e" stroke-width="1"/>
<line x1="457.5" y1="310.5" x2="460.5" y2="310.5" stroke="#2e2e2e" stroke-width="1"/>
<text x="455.4" y="312.7" font-size="8.51" text-anchor="end" font-weight="normal" fill="#333" stroke="#333" stroke-width="0.2" textLength="4.23" lengthAdjust="spacingAndGlyphs">6</text>
<line x1="457.5" y1="334.5" x2="460.5" y2="334.5" stroke="#2e2e2e" stroke-width="1"/>
<text x="455.4" y="337.4" font-size="8.51" text-anchor="end" font-weight="normal" fill="#333" stroke="#333" stroke-width="0.2" textLength="4.23" lengthAdjust="spacingAndGlyphs">4</text>
<line x1="457.5" y1="359.5" x2="460.5" y2="359.5" stroke="#2e2e2e" stroke-width="1"/>
<text x="455.4" y="362" font-size="8.51" text-anchor="end" font-weight="normal" fill="#333" stroke="#333" stroke-width="0.2" textLength="4.23" lengthAdjust="spacingAndGlyphs">2</text>
<line x1="457.5" y1="383.5" x2="460.5" y2="383.5" stroke="#2e2e2e" stroke-width="1"/>
<text x="455.4" y="386.2" font-size="8.51" text-anchor="end" font-weight="normal" fill="#333" stroke="#333" stroke-width="0.2" textLength="4.23" lengthAdjust="spacingAndGlyphs">0</text>
<line x1="460" y1="383.5" x2="510.8" y2="383.5" stroke="#2e2e2e" stroke-width="1"/>
<line x1="474.2" y1="383.5" x2="474.2" y2="386" stroke="#333" stroke-width="1"/>
<line x1="497.1" y1="383.5" x2="497.1" y2="386" stroke="#333" stroke-width="1"/>
<line x1="468.2" y1="314.2" x2="480.2" y2="314.2" stroke="#c62235" stroke-width="0.8"/>
<line x1="474.2" y1="313.2" x2="474.2" y2="315.2" stroke="#c62235" stroke-width="0.8"/>
<line x1="471.7" y1="313.2" x2="476.7" y2="313.2" stroke="#c62235" stroke-width="0.8"/>
<line x1="471.7" y1="315.2" x2="476.7" y2="315.2" stroke="#c62235" stroke-width="0.8"/>
<circle cx="472.5" cy="313.4" r="1.3" fill="#c62235"/>
<circle cx="475.6" cy="313.2" r="1.3" fill="#c62235"/>
<circle cx="473.4" cy="315.3" r="1.3" fill="#c62235"/>
<circle cx="476" cy="315.1" r="1.3" fill="#c62235"/>
<line x1="490.75" y1="334" x2="503.45" y2="334" stroke="#105386" stroke-width="0.8"/>
<line x1="497.1" y1="332.6" x2="497.1" y2="335.4" stroke="#105386" stroke-width="0.8"/>
<line x1="494.6" y1="332.6" x2="499.6" y2="332.6" stroke="#105386" stroke-width="0.8"/>
<line x1="494.6" y1="335.4" x2="499.6" y2="335.4" stroke="#105386" stroke-width="0.8"/>
<circle cx="495.3" cy="332.9" r="1.3" fill="#105386"/>
<circle cx="498.5" cy="332.6" r="1.3" fill="#105386"/>
<circle cx="495.8" cy="335.3" r="1.3" fill="#105386"/>
<circle cx="499" cy="335.5" r="1.3" fill="#105386"/>
<circle cx="497.1" cy="334" r="1.3" fill="#105386"/>
<text x="495.4" y="323.3" font-size="7.39" text-anchor="middle" font-weight="normal" fill="#444" stroke="#444" stroke-width="0.2" textLength="7.71" lengthAdjust="spacingAndGlyphs">***</text>
<text x="445" y="345" font-size="8.6" text-anchor="middle" font-weight="normal" fill="#2a2a2a" stroke="#2a2a2a" stroke-width="0.2" transform="rotate(-90 445 345)" textLength="61.5" lengthAdjust="spacingAndGlyphs">%cKit+Gr1 - in BM</text>
<text x="477" y="392.1" font-size="8.96" text-anchor="end" font-weight="normal" fill="#2a2a2a" stroke="#2a2a2a" stroke-width="0.2" transform="rotate(-45 477 392.1)" textLength="28.6" lengthAdjust="spacingAndGlyphs">No TAM</text>
<text x="499.9" y="392.1" font-size="8.96" text-anchor="end" font-weight="normal" fill="#2a2a2a" stroke="#2a2a2a" stroke-width="0.2" transform="rotate(-45 499.9 392.1)" textLength="32.6" lengthAdjust="spacingAndGlyphs">Add TAM</text>
<rect x="0.6" y="0.6" width="518.8" height="423.8" fill="none" stroke="#111" stroke-width="1.2"/>
</svg>
</body></html>
